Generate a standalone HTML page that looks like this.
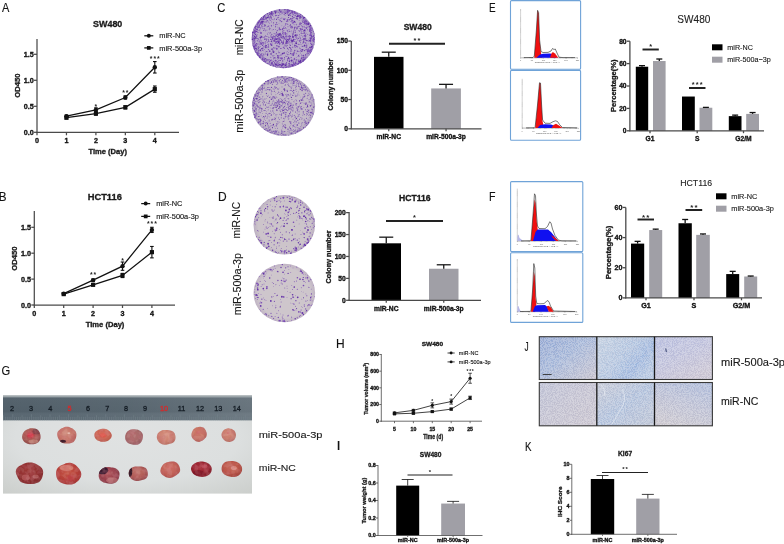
<!DOCTYPE html><html><head><meta charset="utf-8"><style>html,body{margin:0;padding:0;background:#fff;}svg{display:block;will-change:transform}</style></head><body><svg width="784" height="544" viewBox="0 0 784 544" font-family='"Liberation Sans", sans-serif'><rect x="0" y="0" width="784" height="544" fill="#fff"/>
<text transform="translate(1.88 11.90) scale(0.861 1)" font-size="12.79" fill="#111" stroke="#111" stroke-width="0.12">A</text>
<line x1="37" y1="39" x2="37" y2="132.8" stroke="#4a4a4a" stroke-width="1.25"/>
<line x1="36.5" y1="132.3" x2="179" y2="132.3" stroke="#4a4a4a" stroke-width="1.25"/>
<line x1="34" y1="132.3" x2="37" y2="132.3" stroke="#4a4a4a" stroke-width="1.25"/>
<text x="33.7" y="134.82" font-size="7.2" font-weight="bold" text-anchor="end" fill="#111" stroke="#111" stroke-width="0.32">0.0</text>
<line x1="34" y1="106.3" x2="37" y2="106.3" stroke="#4a4a4a" stroke-width="1.25"/>
<text x="33.7" y="108.82" font-size="7.2" font-weight="bold" text-anchor="end" fill="#111" stroke="#111" stroke-width="0.32">0.5</text>
<line x1="34" y1="80.3" x2="37" y2="80.3" stroke="#4a4a4a" stroke-width="1.25"/>
<text x="33.7" y="82.82" font-size="7.2" font-weight="bold" text-anchor="end" fill="#111" stroke="#111" stroke-width="0.32">1.0</text>
<line x1="34" y1="54.3" x2="37" y2="54.3" stroke="#4a4a4a" stroke-width="1.25"/>
<text x="33.7" y="56.82" font-size="7.2" font-weight="bold" text-anchor="end" fill="#111" stroke="#111" stroke-width="0.32">1.5</text>
<line x1="37" y1="132.3" x2="37" y2="135.3" stroke="#4a4a4a" stroke-width="1.25"/>
<text x="37" y="143.3" font-size="7.2" font-weight="bold" text-anchor="middle" fill="#111" stroke="#111" stroke-width="0.32">0</text>
<line x1="66.45" y1="132.3" x2="66.45" y2="135.3" stroke="#4a4a4a" stroke-width="1.25"/>
<text x="66.45" y="143.3" font-size="7.2" font-weight="bold" text-anchor="middle" fill="#111" stroke="#111" stroke-width="0.32">1</text>
<line x1="95.9" y1="132.3" x2="95.9" y2="135.3" stroke="#4a4a4a" stroke-width="1.25"/>
<text x="95.9" y="143.3" font-size="7.2" font-weight="bold" text-anchor="middle" fill="#111" stroke="#111" stroke-width="0.32">2</text>
<line x1="125.35" y1="132.3" x2="125.35" y2="135.3" stroke="#4a4a4a" stroke-width="1.25"/>
<text x="125.35" y="143.3" font-size="7.2" font-weight="bold" text-anchor="middle" fill="#111" stroke="#111" stroke-width="0.32">3</text>
<line x1="154.8" y1="132.3" x2="154.8" y2="135.3" stroke="#4a4a4a" stroke-width="1.25"/>
<text x="154.8" y="143.3" font-size="7.2" font-weight="bold" text-anchor="middle" fill="#111" stroke="#111" stroke-width="0.32">4</text>
<polyline points="66.45,116.18 95.90,109.94 125.35,97.46 154.80,67.30" fill="none" stroke="#111" stroke-width="1.25"/>
<line x1="66.45" y1="115.14" x2="66.45" y2="117.22" stroke="#111" stroke-width="1.125"/>
<line x1="64.65" y1="115.14" x2="68.25" y2="115.14" stroke="#111" stroke-width="1.125"/>
<line x1="64.65" y1="117.22" x2="68.25" y2="117.22" stroke="#111" stroke-width="1.125"/>
<circle cx="66.45" cy="116.18" r="2.2" fill="#111"/>
<line x1="95.9" y1="107.86" x2="95.9" y2="112.02" stroke="#111" stroke-width="1.125"/>
<line x1="94.1" y1="107.86" x2="97.7" y2="107.86" stroke="#111" stroke-width="1.125"/>
<line x1="94.1" y1="112.02" x2="97.7" y2="112.02" stroke="#111" stroke-width="1.125"/>
<circle cx="95.9" cy="109.94" r="2.2" fill="#111"/>
<line x1="125.35" y1="95.9" x2="125.35" y2="99.02" stroke="#111" stroke-width="1.125"/>
<line x1="123.55" y1="95.9" x2="127.15" y2="95.9" stroke="#111" stroke-width="1.125"/>
<line x1="123.55" y1="99.02" x2="127.15" y2="99.02" stroke="#111" stroke-width="1.125"/>
<circle cx="125.35" cy="97.46" r="2.2" fill="#111"/>
<line x1="154.8" y1="61.58" x2="154.8" y2="73.02" stroke="#111" stroke-width="1.125"/>
<line x1="153" y1="61.58" x2="156.6" y2="61.58" stroke="#111" stroke-width="1.125"/>
<line x1="153" y1="73.02" x2="156.6" y2="73.02" stroke="#111" stroke-width="1.125"/>
<circle cx="154.8" cy="67.3" r="2.2" fill="#111"/>
<polyline points="66.45,117.74 95.90,113.58 125.35,107.34 154.80,89.14" fill="none" stroke="#111" stroke-width="1.25"/>
<line x1="66.45" y1="116.7" x2="66.45" y2="118.78" stroke="#111" stroke-width="1.125"/>
<line x1="64.65" y1="116.7" x2="68.25" y2="116.7" stroke="#111" stroke-width="1.125"/>
<line x1="64.65" y1="118.78" x2="68.25" y2="118.78" stroke="#111" stroke-width="1.125"/>
<rect x="64.36" y="115.65" width="4.18" height="4.18" fill="#111"/>
<line x1="95.9" y1="112.02" x2="95.9" y2="115.14" stroke="#111" stroke-width="1.125"/>
<line x1="94.1" y1="112.02" x2="97.7" y2="112.02" stroke="#111" stroke-width="1.125"/>
<line x1="94.1" y1="115.14" x2="97.7" y2="115.14" stroke="#111" stroke-width="1.125"/>
<rect x="93.81" y="111.49" width="4.18" height="4.18" fill="#111"/>
<line x1="125.35" y1="105.78" x2="125.35" y2="108.9" stroke="#111" stroke-width="1.125"/>
<line x1="123.55" y1="105.78" x2="127.15" y2="105.78" stroke="#111" stroke-width="1.125"/>
<line x1="123.55" y1="108.9" x2="127.15" y2="108.9" stroke="#111" stroke-width="1.125"/>
<rect x="123.26" y="105.25" width="4.18" height="4.18" fill="#111"/>
<line x1="154.8" y1="86.02" x2="154.8" y2="92.26" stroke="#111" stroke-width="1.125"/>
<line x1="153" y1="86.02" x2="156.6" y2="86.02" stroke="#111" stroke-width="1.125"/>
<line x1="153" y1="92.26" x2="156.6" y2="92.26" stroke="#111" stroke-width="1.125"/>
<rect x="152.71" y="87.05" width="4.18" height="4.18" fill="#111"/>
<text x="95.90" y="108.70" font-size="6.84" font-weight="bold" text-anchor="middle" fill="#222">*</text>
<text x="123.55" y="95.18" font-size="6.84" font-weight="bold" text-anchor="middle" fill="#222">*</text>
<text x="127.15" y="95.18" font-size="6.84" font-weight="bold" text-anchor="middle" fill="#222">*</text>
<text x="151.20" y="61.17" font-size="6.84" font-weight="bold" text-anchor="middle" fill="#222">*</text>
<text x="154.80" y="61.17" font-size="6.84" font-weight="bold" text-anchor="middle" fill="#222">*</text>
<text x="158.40" y="61.17" font-size="6.84" font-weight="bold" text-anchor="middle" fill="#222">*</text>
<text transform="translate(19.90 97.71) rotate(-90) scale(0.993 1)" font-size="7.70" font-weight="bold" fill="#1a1a1a" stroke="#1a1a1a" stroke-width="0.32">OD450</text>
<text transform="translate(88.52 153.80) scale(1.001 1)" font-size="7.56" font-weight="bold" fill="#1a1a1a" stroke="#1a1a1a" stroke-width="0.32">Time (Day)</text>
<text transform="translate(93.04 26.75) scale(0.925 1)" font-size="9.67" font-weight="bold" fill="#1a1a1a" stroke="#1a1a1a" stroke-width="0.32">SW480</text>
<line x1="144.3" y1="35.8" x2="153.3" y2="35.8" stroke="#111" stroke-width="1.25"/>
<circle cx="148.8" cy="35.8" r="1.98" fill="#111"/>
<text x="159.3" y="38.46" font-size="7.4" text-anchor="start" fill="#111" stroke="#111" stroke-width="0.12">miR-NC</text>
<line x1="144.3" y1="47.9" x2="153.3" y2="47.9" stroke="#111" stroke-width="1.25"/>
<rect x="146.93" y="46.03" width="3.74" height="3.74" fill="#111"/>
<text x="159.3" y="50.56" font-size="7.4" text-anchor="start" fill="#111" stroke="#111" stroke-width="0.12">miR-500a-3p</text>
<text transform="translate(-1.26 200.60) scale(0.921 1)" font-size="12.65" fill="#111" stroke="#111" stroke-width="0.12">B</text>
<line x1="34.3" y1="211" x2="34.3" y2="305.5" stroke="#4a4a4a" stroke-width="1.25"/>
<line x1="33.8" y1="305" x2="175" y2="305" stroke="#4a4a4a" stroke-width="1.25"/>
<line x1="31.3" y1="305" x2="34.3" y2="305" stroke="#4a4a4a" stroke-width="1.25"/>
<text x="31" y="307.52" font-size="7.2" font-weight="bold" text-anchor="end" fill="#111" stroke="#111" stroke-width="0.32">0.0</text>
<line x1="31.3" y1="279.1" x2="34.3" y2="279.1" stroke="#4a4a4a" stroke-width="1.25"/>
<text x="31" y="281.62" font-size="7.2" font-weight="bold" text-anchor="end" fill="#111" stroke="#111" stroke-width="0.32">0.5</text>
<line x1="31.3" y1="253.2" x2="34.3" y2="253.2" stroke="#4a4a4a" stroke-width="1.25"/>
<text x="31" y="255.72" font-size="7.2" font-weight="bold" text-anchor="end" fill="#111" stroke="#111" stroke-width="0.32">1.0</text>
<line x1="31.3" y1="227.3" x2="34.3" y2="227.3" stroke="#4a4a4a" stroke-width="1.25"/>
<text x="31" y="229.82" font-size="7.2" font-weight="bold" text-anchor="end" fill="#111" stroke="#111" stroke-width="0.32">1.5</text>
<line x1="34.3" y1="305" x2="34.3" y2="308" stroke="#4a4a4a" stroke-width="1.25"/>
<text x="34.3" y="316" font-size="7.2" font-weight="bold" text-anchor="middle" fill="#111" stroke="#111" stroke-width="0.32">0</text>
<line x1="63.7" y1="305" x2="63.7" y2="308" stroke="#4a4a4a" stroke-width="1.25"/>
<text x="63.7" y="316" font-size="7.2" font-weight="bold" text-anchor="middle" fill="#111" stroke="#111" stroke-width="0.32">1</text>
<line x1="93.1" y1="305" x2="93.1" y2="308" stroke="#4a4a4a" stroke-width="1.25"/>
<text x="93.1" y="316" font-size="7.2" font-weight="bold" text-anchor="middle" fill="#111" stroke="#111" stroke-width="0.32">2</text>
<line x1="122.5" y1="305" x2="122.5" y2="308" stroke="#4a4a4a" stroke-width="1.25"/>
<text x="122.5" y="316" font-size="7.2" font-weight="bold" text-anchor="middle" fill="#111" stroke="#111" stroke-width="0.32">3</text>
<line x1="151.9" y1="305" x2="151.9" y2="308" stroke="#4a4a4a" stroke-width="1.25"/>
<text x="151.9" y="316" font-size="7.2" font-weight="bold" text-anchor="middle" fill="#111" stroke="#111" stroke-width="0.32">4</text>
<polyline points="63.70,293.60 93.10,280.14 122.50,266.15 151.90,229.89" fill="none" stroke="#111" stroke-width="1.25"/>
<line x1="63.7" y1="292.57" x2="63.7" y2="294.64" stroke="#111" stroke-width="1.125"/>
<line x1="61.9" y1="292.57" x2="65.5" y2="292.57" stroke="#111" stroke-width="1.125"/>
<line x1="61.9" y1="294.64" x2="65.5" y2="294.64" stroke="#111" stroke-width="1.125"/>
<circle cx="63.7" cy="293.6" r="2.2" fill="#111"/>
<line x1="93.1" y1="279.1" x2="93.1" y2="281.17" stroke="#111" stroke-width="1.125"/>
<line x1="91.3" y1="279.1" x2="94.9" y2="279.1" stroke="#111" stroke-width="1.125"/>
<line x1="91.3" y1="281.17" x2="94.9" y2="281.17" stroke="#111" stroke-width="1.125"/>
<circle cx="93.1" cy="280.14" r="2.2" fill="#111"/>
<line x1="122.5" y1="262.01" x2="122.5" y2="270.29" stroke="#111" stroke-width="1.125"/>
<line x1="120.7" y1="262.01" x2="124.3" y2="262.01" stroke="#111" stroke-width="1.125"/>
<line x1="120.7" y1="270.29" x2="124.3" y2="270.29" stroke="#111" stroke-width="1.125"/>
<circle cx="122.5" cy="266.15" r="2.2" fill="#111"/>
<line x1="151.9" y1="227.3" x2="151.9" y2="232.48" stroke="#111" stroke-width="1.125"/>
<line x1="150.1" y1="227.3" x2="153.7" y2="227.3" stroke="#111" stroke-width="1.125"/>
<line x1="150.1" y1="232.48" x2="153.7" y2="232.48" stroke="#111" stroke-width="1.125"/>
<circle cx="151.9" cy="229.89" r="2.2" fill="#111"/>
<polyline points="63.70,294.12 93.10,284.80 122.50,275.47 151.90,252.16" fill="none" stroke="#111" stroke-width="1.25"/>
<line x1="63.7" y1="293.09" x2="63.7" y2="295.16" stroke="#111" stroke-width="1.125"/>
<line x1="61.9" y1="293.09" x2="65.5" y2="293.09" stroke="#111" stroke-width="1.125"/>
<line x1="61.9" y1="295.16" x2="65.5" y2="295.16" stroke="#111" stroke-width="1.125"/>
<rect x="61.61" y="292.03" width="4.18" height="4.18" fill="#111"/>
<line x1="93.1" y1="283.76" x2="93.1" y2="285.83" stroke="#111" stroke-width="1.125"/>
<line x1="91.3" y1="283.76" x2="94.9" y2="283.76" stroke="#111" stroke-width="1.125"/>
<line x1="91.3" y1="285.83" x2="94.9" y2="285.83" stroke="#111" stroke-width="1.125"/>
<rect x="91.01" y="282.71" width="4.18" height="4.18" fill="#111"/>
<line x1="122.5" y1="273.4" x2="122.5" y2="277.55" stroke="#111" stroke-width="1.125"/>
<line x1="120.7" y1="273.4" x2="124.3" y2="273.4" stroke="#111" stroke-width="1.125"/>
<line x1="120.7" y1="277.55" x2="124.3" y2="277.55" stroke="#111" stroke-width="1.125"/>
<rect x="120.41" y="273.38" width="4.18" height="4.18" fill="#111"/>
<line x1="151.9" y1="246.47" x2="151.9" y2="257.86" stroke="#111" stroke-width="1.125"/>
<line x1="150.1" y1="246.47" x2="153.7" y2="246.47" stroke="#111" stroke-width="1.125"/>
<line x1="150.1" y1="257.86" x2="153.7" y2="257.86" stroke="#111" stroke-width="1.125"/>
<rect x="149.81" y="250.07" width="4.18" height="4.18" fill="#111"/>
<text x="91.30" y="277.21" font-size="6.84" font-weight="bold" text-anchor="middle" fill="#222">*</text>
<text x="94.90" y="277.21" font-size="6.84" font-weight="bold" text-anchor="middle" fill="#222">*</text>
<text x="122.50" y="263.48" font-size="6.84" font-weight="bold" text-anchor="middle" fill="#222">*</text>
<text x="148.30" y="226.18" font-size="6.84" font-weight="bold" text-anchor="middle" fill="#222">*</text>
<text x="151.90" y="226.18" font-size="6.84" font-weight="bold" text-anchor="middle" fill="#222">*</text>
<text x="155.50" y="226.18" font-size="6.84" font-weight="bold" text-anchor="middle" fill="#222">*</text>
<text transform="translate(17.20 270.71) rotate(-90) scale(1.012 1)" font-size="7.56" font-weight="bold" fill="#1a1a1a" stroke="#1a1a1a" stroke-width="0.32">OD450</text>
<text transform="translate(85.71 326.50) scale(1.067 1)" font-size="7.12" font-weight="bold" fill="#1a1a1a" stroke="#1a1a1a" stroke-width="0.32">Time (Day)</text>
<text transform="translate(87.68 199.70) scale(0.959 1)" font-size="9.74" font-weight="bold" fill="#1a1a1a" stroke="#1a1a1a" stroke-width="0.32">HCT116</text>
<line x1="141.2" y1="203.6" x2="150.2" y2="203.6" stroke="#111" stroke-width="1.25"/>
<circle cx="145.7" cy="203.6" r="1.98" fill="#111"/>
<text x="156.2" y="206.26" font-size="7.4" text-anchor="start" fill="#111" stroke="#111" stroke-width="0.12">miR-NC</text>
<line x1="141.2" y1="216.4" x2="150.2" y2="216.4" stroke="#111" stroke-width="1.25"/>
<rect x="143.83" y="214.53" width="3.74" height="3.74" fill="#111"/>
<text x="156.2" y="219.06" font-size="7.4" text-anchor="start" fill="#111" stroke="#111" stroke-width="0.12">miR-500a-3p</text>
<text transform="translate(217.23 11.90) scale(0.877 1)" font-size="12.79" fill="#111" stroke="#111" stroke-width="0.12">C</text>
<defs><clipPath id="cdg1"><ellipse cx="283.3" cy="38.7" rx="31.7" ry="29.6"/></clipPath><radialGradient id="dg1" cx="50%" cy="50%" r="50%"><stop offset="0" stop-color="#baaec8"/><stop offset="0.85" stop-color="#baaec8"/><stop offset="1" stop-color="#a290c0"/></radialGradient></defs>
<ellipse cx="283.3" cy="38.7" rx="31.7" ry="29.6" fill="url(#dg1)"/>
<g clip-path="url(#cdg1)"><circle cx="300.0" cy="24.2" r="0.50" fill="#7a4ab6"/><circle cx="254.7" cy="48.2" r="0.37" fill="#7a4ab6"/><circle cx="253.2" cy="41.2" r="0.36" fill="#5e2ca4"/><circle cx="289.0" cy="65.4" r="0.39" fill="#5e2ca4"/><circle cx="314.3" cy="37.3" r="0.34" fill="#5e2ca4"/><circle cx="297.3" cy="51.2" r="0.55" fill="#7a4ab6"/><circle cx="270.8" cy="43.9" r="0.45" fill="#7a4ab6"/><circle cx="302.2" cy="33.6" r="0.51" fill="#7a4ab6"/><circle cx="275.4" cy="35.1" r="0.46" fill="#5e2ca4"/><circle cx="283.1" cy="33.1" r="0.59" fill="#7a4ab6"/><circle cx="276.6" cy="19.2" r="0.53" fill="#7a4ab6"/><circle cx="306.1" cy="22.8" r="0.47" fill="#5e2ca4"/><circle cx="289.8" cy="10.5" r="0.57" fill="#7a4ab6"/><circle cx="302.9" cy="39.8" r="0.32" fill="#7a4ab6"/><circle cx="287.7" cy="20.9" r="0.41" fill="#5e2ca4"/><circle cx="285.7" cy="46.0" r="0.31" fill="#5e2ca4"/><circle cx="262.8" cy="43.7" r="0.54" fill="#7a4ab6"/><circle cx="310.2" cy="41.3" r="0.53" fill="#5e2ca4"/><circle cx="299.1" cy="61.9" r="0.35" fill="#5e2ca4"/><circle cx="296.7" cy="36.0" r="0.31" fill="#5e2ca4"/><circle cx="281.5" cy="35.0" r="0.45" fill="#5e2ca4"/><circle cx="301.7" cy="61.3" r="0.35" fill="#7a4ab6"/><circle cx="294.6" cy="41.3" r="0.54" fill="#7a4ab6"/><circle cx="265.8" cy="47.5" r="0.40" fill="#7a4ab6"/><circle cx="255.3" cy="26.8" r="0.39" fill="#7a4ab6"/><circle cx="271.3" cy="64.7" r="0.38" fill="#5e2ca4"/><circle cx="287.8" cy="19.3" r="0.51" fill="#7a4ab6"/><circle cx="275.6" cy="29.6" r="0.43" fill="#5e2ca4"/><circle cx="258.2" cy="48.5" r="0.40" fill="#7a4ab6"/><circle cx="264.3" cy="28.5" r="0.40" fill="#5e2ca4"/><circle cx="294.4" cy="58.7" r="0.56" fill="#7a4ab6"/><circle cx="282.3" cy="67.4" r="0.33" fill="#5e2ca4"/><circle cx="299.7" cy="44.6" r="0.40" fill="#5e2ca4"/><circle cx="306.6" cy="44.9" r="0.34" fill="#7a4ab6"/><circle cx="301.6" cy="58.1" r="0.53" fill="#5e2ca4"/><circle cx="306.2" cy="21.2" r="0.58" fill="#5e2ca4"/><circle cx="270.2" cy="16.3" r="0.33" fill="#7a4ab6"/><circle cx="284.9" cy="67.1" r="0.33" fill="#7a4ab6"/><circle cx="275.6" cy="66.5" r="0.38" fill="#5e2ca4"/><circle cx="311.5" cy="35.8" r="0.48" fill="#5e2ca4"/><circle cx="271.5" cy="12.8" r="0.59" fill="#5e2ca4"/><circle cx="265.2" cy="45.7" r="0.51" fill="#7a4ab6"/><circle cx="308.0" cy="51.6" r="0.60" fill="#5e2ca4"/><circle cx="292.9" cy="47.2" r="0.39" fill="#5e2ca4"/><circle cx="271.7" cy="59.3" r="0.40" fill="#7a4ab6"/><circle cx="284.4" cy="64.2" r="0.47" fill="#5e2ca4"/><circle cx="256.4" cy="46.7" r="0.45" fill="#7a4ab6"/><circle cx="309.7" cy="30.6" r="0.53" fill="#7a4ab6"/><circle cx="290.4" cy="36.6" r="0.58" fill="#5e2ca4"/><circle cx="271.6" cy="62.6" r="0.55" fill="#7a4ab6"/><circle cx="276.7" cy="11.3" r="0.38" fill="#5e2ca4"/><circle cx="286.4" cy="41.1" r="0.42" fill="#5e2ca4"/><circle cx="266.4" cy="59.1" r="0.34" fill="#5e2ca4"/><circle cx="304.2" cy="32.6" r="0.37" fill="#5e2ca4"/><circle cx="285.1" cy="38.8" r="0.51" fill="#7a4ab6"/><circle cx="258.1" cy="53.2" r="0.57" fill="#7a4ab6"/><circle cx="252.3" cy="36.6" r="0.35" fill="#7a4ab6"/><circle cx="307.6" cy="27.6" r="0.41" fill="#7a4ab6"/><circle cx="298.3" cy="44.3" r="0.59" fill="#7a4ab6"/><circle cx="262.8" cy="23.9" r="0.53" fill="#5e2ca4"/><circle cx="294.8" cy="51.6" r="0.35" fill="#7a4ab6"/><circle cx="302.8" cy="46.3" r="0.59" fill="#5e2ca4"/><circle cx="300.8" cy="58.9" r="0.43" fill="#7a4ab6"/><circle cx="313.2" cy="31.7" r="0.35" fill="#5e2ca4"/><circle cx="285.5" cy="37.6" r="0.37" fill="#7a4ab6"/><circle cx="279.4" cy="10.3" r="0.55" fill="#5e2ca4"/><circle cx="269.7" cy="41.2" r="0.38" fill="#7a4ab6"/><circle cx="301.8" cy="57.0" r="0.45" fill="#7a4ab6"/><circle cx="300.4" cy="42.9" r="0.33" fill="#7a4ab6"/><circle cx="259.1" cy="53.3" r="0.53" fill="#7a4ab6"/><circle cx="260.3" cy="38.7" r="0.45" fill="#5e2ca4"/><circle cx="285.1" cy="9.2" r="0.39" fill="#5e2ca4"/><circle cx="301.2" cy="49.6" r="0.41" fill="#5e2ca4"/><circle cx="289.5" cy="61.3" r="0.60" fill="#5e2ca4"/><circle cx="304.5" cy="33.3" r="0.39" fill="#5e2ca4"/><circle cx="261.1" cy="56.1" r="0.42" fill="#7a4ab6"/><circle cx="288.7" cy="52.5" r="0.45" fill="#7a4ab6"/><circle cx="292.2" cy="47.5" r="0.49" fill="#7a4ab6"/><circle cx="305.3" cy="54.5" r="0.40" fill="#5e2ca4"/><circle cx="297.9" cy="15.0" r="0.44" fill="#5e2ca4"/><circle cx="284.0" cy="53.2" r="0.50" fill="#5e2ca4"/><circle cx="283.8" cy="65.1" r="0.51" fill="#7a4ab6"/><circle cx="310.8" cy="51.8" r="0.46" fill="#5e2ca4"/><circle cx="284.0" cy="52.7" r="0.51" fill="#7a4ab6"/><circle cx="268.7" cy="45.2" r="0.35" fill="#7a4ab6"/><circle cx="306.5" cy="28.6" r="0.51" fill="#7a4ab6"/><circle cx="291.1" cy="27.8" r="0.54" fill="#5e2ca4"/><circle cx="291.3" cy="18.9" r="0.57" fill="#7a4ab6"/><circle cx="302.9" cy="60.3" r="0.41" fill="#7a4ab6"/><circle cx="266.8" cy="51.6" r="0.33" fill="#5e2ca4"/><circle cx="257.8" cy="22.0" r="0.36" fill="#5e2ca4"/><circle cx="296.2" cy="57.3" r="0.40" fill="#7a4ab6"/><circle cx="274.8" cy="41.0" r="0.45" fill="#5e2ca4"/><circle cx="262.3" cy="22.8" r="0.47" fill="#5e2ca4"/><circle cx="296.9" cy="28.6" r="0.60" fill="#5e2ca4"/><circle cx="302.2" cy="59.9" r="0.47" fill="#7a4ab6"/><circle cx="306.4" cy="25.7" r="0.34" fill="#7a4ab6"/><circle cx="255.2" cy="31.6" r="0.55" fill="#7a4ab6"/><circle cx="263.5" cy="17.1" r="0.51" fill="#7a4ab6"/><circle cx="293.6" cy="32.2" r="0.49" fill="#5e2ca4"/><circle cx="289.0" cy="29.8" r="0.46" fill="#5e2ca4"/><circle cx="274.0" cy="33.5" r="0.43" fill="#7a4ab6"/><circle cx="296.8" cy="53.1" r="0.38" fill="#7a4ab6"/><circle cx="294.6" cy="13.6" r="0.41" fill="#7a4ab6"/><circle cx="259.3" cy="56.0" r="0.56" fill="#5e2ca4"/><circle cx="311.4" cy="44.4" r="0.52" fill="#5e2ca4"/><circle cx="259.8" cy="56.1" r="0.39" fill="#5e2ca4"/><circle cx="267.2" cy="42.1" r="0.54" fill="#7a4ab6"/><circle cx="288.6" cy="15.3" r="0.60" fill="#7a4ab6"/><circle cx="304.5" cy="50.6" r="0.55" fill="#5e2ca4"/><circle cx="266.6" cy="61.6" r="0.31" fill="#7a4ab6"/><circle cx="292.9" cy="27.7" r="0.40" fill="#7a4ab6"/><circle cx="283.4" cy="40.2" r="0.40" fill="#5e2ca4"/><circle cx="282.0" cy="63.1" r="0.54" fill="#7a4ab6"/><circle cx="260.1" cy="40.1" r="0.54" fill="#7a4ab6"/><circle cx="298.9" cy="30.5" r="0.42" fill="#5e2ca4"/><circle cx="271.9" cy="13.2" r="0.57" fill="#5e2ca4"/><circle cx="256.2" cy="31.2" r="0.33" fill="#5e2ca4"/><circle cx="301.0" cy="16.1" r="0.35" fill="#7a4ab6"/><circle cx="253.0" cy="30.9" r="0.39" fill="#7a4ab6"/><circle cx="289.5" cy="60.3" r="0.50" fill="#7a4ab6"/><circle cx="292.5" cy="65.9" r="0.53" fill="#7a4ab6"/><circle cx="282.5" cy="33.0" r="0.48" fill="#5e2ca4"/><circle cx="305.6" cy="36.2" r="0.51" fill="#5e2ca4"/><circle cx="259.2" cy="27.0" r="0.59" fill="#7a4ab6"/><circle cx="287.9" cy="41.7" r="0.55" fill="#7a4ab6"/><circle cx="277.5" cy="46.4" r="0.45" fill="#7a4ab6"/><circle cx="286.5" cy="66.9" r="0.60" fill="#7a4ab6"/><circle cx="287.5" cy="30.9" r="0.57" fill="#7a4ab6"/><circle cx="305.3" cy="31.8" r="0.41" fill="#7a4ab6"/><circle cx="265.6" cy="60.1" r="0.31" fill="#5e2ca4"/><circle cx="268.1" cy="59.9" r="0.60" fill="#5e2ca4"/><circle cx="284.2" cy="52.9" r="0.53" fill="#5e2ca4"/><circle cx="297.0" cy="38.2" r="0.33" fill="#5e2ca4"/><circle cx="282.0" cy="65.5" r="0.55" fill="#5e2ca4"/><circle cx="286.4" cy="40.7" r="0.59" fill="#5e2ca4"/><circle cx="280.6" cy="65.0" r="0.44" fill="#7a4ab6"/><circle cx="260.1" cy="56.7" r="0.39" fill="#7a4ab6"/><circle cx="276.1" cy="62.7" r="0.42" fill="#7a4ab6"/><circle cx="285.0" cy="12.1" r="0.45" fill="#5e2ca4"/><circle cx="268.6" cy="41.1" r="0.55" fill="#5e2ca4"/><circle cx="293.3" cy="64.7" r="0.48" fill="#7a4ab6"/><circle cx="285.4" cy="45.2" r="0.38" fill="#7a4ab6"/><circle cx="268.5" cy="21.8" r="0.40" fill="#7a4ab6"/><circle cx="263.1" cy="61.2" r="0.32" fill="#5e2ca4"/><circle cx="295.4" cy="47.3" r="0.39" fill="#5e2ca4"/><circle cx="308.4" cy="53.2" r="0.51" fill="#7a4ab6"/><circle cx="295.0" cy="22.5" r="0.57" fill="#5e2ca4"/><circle cx="270.0" cy="11.9" r="0.40" fill="#7a4ab6"/><circle cx="283.1" cy="67.3" r="0.50" fill="#5e2ca4"/><circle cx="273.9" cy="41.4" r="0.38" fill="#5e2ca4"/><circle cx="271.2" cy="14.9" r="0.45" fill="#5e2ca4"/><circle cx="311.7" cy="30.0" r="0.55" fill="#7a4ab6"/><circle cx="306.8" cy="33.1" r="0.46" fill="#7a4ab6"/><circle cx="285.6" cy="32.4" r="0.46" fill="#5e2ca4"/><circle cx="283.8" cy="19.5" r="0.46" fill="#5e2ca4"/><circle cx="268.8" cy="40.5" r="0.33" fill="#5e2ca4"/><circle cx="293.1" cy="41.3" r="0.52" fill="#7a4ab6"/><circle cx="303.6" cy="20.7" r="0.55" fill="#7a4ab6"/><circle cx="272.9" cy="61.7" r="0.41" fill="#5e2ca4"/><circle cx="259.1" cy="44.7" r="0.54" fill="#7a4ab6"/><circle cx="309.9" cy="47.2" r="0.56" fill="#5e2ca4"/><circle cx="301.0" cy="44.5" r="0.42" fill="#7a4ab6"/><circle cx="273.4" cy="38.4" r="0.30" fill="#5e2ca4"/><circle cx="283.8" cy="30.2" r="0.57" fill="#7a4ab6"/><circle cx="302.5" cy="57.6" r="0.37" fill="#7a4ab6"/><circle cx="274.3" cy="18.5" r="0.39" fill="#7a4ab6"/><circle cx="273.6" cy="48.0" r="0.32" fill="#5e2ca4"/><circle cx="275.5" cy="26.5" r="0.51" fill="#7a4ab6"/><circle cx="284.5" cy="12.4" r="0.35" fill="#7a4ab6"/><circle cx="282.5" cy="29.3" r="0.31" fill="#7a4ab6"/><circle cx="275.9" cy="58.5" r="0.33" fill="#5e2ca4"/><circle cx="313.1" cy="48.0" r="0.44" fill="#5e2ca4"/><circle cx="300.6" cy="51.9" r="0.46" fill="#7a4ab6"/><circle cx="308.1" cy="50.4" r="0.53" fill="#7a4ab6"/><circle cx="302.2" cy="26.2" r="0.55" fill="#7a4ab6"/><circle cx="252.8" cy="32.6" r="0.57" fill="#7a4ab6"/><circle cx="288.2" cy="9.7" r="0.59" fill="#5e2ca4"/><circle cx="288.7" cy="39.5" r="0.58" fill="#7a4ab6"/><circle cx="296.0" cy="50.0" r="0.37" fill="#7a4ab6"/><circle cx="259.2" cy="47.2" r="0.49" fill="#5e2ca4"/><circle cx="271.4" cy="25.6" r="0.60" fill="#7a4ab6"/><circle cx="271.8" cy="40.8" r="0.43" fill="#5e2ca4"/><circle cx="276.7" cy="32.1" r="0.41" fill="#5e2ca4"/><circle cx="287.5" cy="59.1" r="0.52" fill="#5e2ca4"/><circle cx="256.2" cy="43.9" r="0.34" fill="#5e2ca4"/><circle cx="255.2" cy="51.2" r="0.47" fill="#7a4ab6"/><circle cx="289.4" cy="13.9" r="0.52" fill="#5e2ca4"/><circle cx="294.9" cy="44.1" r="0.32" fill="#5e2ca4"/><circle cx="275.8" cy="26.0" r="0.41" fill="#7a4ab6"/><circle cx="265.9" cy="51.1" r="0.33" fill="#7a4ab6"/><circle cx="264.8" cy="36.5" r="0.48" fill="#7a4ab6"/><circle cx="289.0" cy="35.8" r="0.39" fill="#7a4ab6"/><circle cx="293.4" cy="40.2" r="0.49" fill="#5e2ca4"/><circle cx="264.8" cy="39.2" r="0.51" fill="#7a4ab6"/><circle cx="275.9" cy="63.8" r="0.38" fill="#5e2ca4"/><circle cx="259.3" cy="21.0" r="0.44" fill="#7a4ab6"/><circle cx="268.6" cy="46.9" r="0.45" fill="#7a4ab6"/><circle cx="281.6" cy="36.0" r="0.34" fill="#7a4ab6"/><circle cx="280.4" cy="11.8" r="0.46" fill="#7a4ab6"/><circle cx="294.6" cy="11.6" r="0.59" fill="#7a4ab6"/><circle cx="263.5" cy="61.1" r="0.59" fill="#7a4ab6"/><circle cx="306.9" cy="24.1" r="0.31" fill="#7a4ab6"/><circle cx="302.1" cy="59.0" r="0.57" fill="#5e2ca4"/><circle cx="310.9" cy="41.8" r="0.43" fill="#7a4ab6"/><circle cx="271.7" cy="17.9" r="0.38" fill="#7a4ab6"/><circle cx="301.5" cy="55.0" r="0.54" fill="#7a4ab6"/><circle cx="274.7" cy="39.6" r="0.40" fill="#5e2ca4"/><circle cx="286.5" cy="46.8" r="0.49" fill="#7a4ab6"/><circle cx="298.5" cy="61.2" r="0.36" fill="#7a4ab6"/><circle cx="271.7" cy="39.2" r="0.56" fill="#7a4ab6"/><circle cx="291.6" cy="57.6" r="0.47" fill="#7a4ab6"/><circle cx="290.8" cy="13.5" r="0.38" fill="#5e2ca4"/><circle cx="278.3" cy="65.6" r="0.52" fill="#5e2ca4"/><circle cx="256.5" cy="48.2" r="0.52" fill="#5e2ca4"/><circle cx="257.7" cy="23.9" r="0.56" fill="#5e2ca4"/><circle cx="312.9" cy="48.7" r="0.40" fill="#7a4ab6"/><circle cx="310.2" cy="35.8" r="0.38" fill="#7a4ab6"/><circle cx="253.8" cy="40.4" r="0.45" fill="#5e2ca4"/><circle cx="271.9" cy="14.4" r="0.58" fill="#5e2ca4"/><circle cx="262.1" cy="18.7" r="0.59" fill="#5e2ca4"/><circle cx="287.9" cy="36.8" r="0.51" fill="#7a4ab6"/><circle cx="287.3" cy="41.7" r="0.50" fill="#7a4ab6"/><circle cx="305.9" cy="35.7" r="0.50" fill="#7a4ab6"/><circle cx="272.3" cy="64.6" r="0.31" fill="#5e2ca4"/><circle cx="308.1" cy="22.8" r="0.58" fill="#7a4ab6"/><circle cx="291.3" cy="31.8" r="0.41" fill="#7a4ab6"/><circle cx="288.7" cy="36.4" r="0.48" fill="#7a4ab6"/><circle cx="313.2" cy="36.8" r="0.34" fill="#7a4ab6"/><circle cx="312.4" cy="45.1" r="0.51" fill="#5e2ca4"/><circle cx="300.2" cy="38.9" r="0.39" fill="#5e2ca4"/><circle cx="293.2" cy="66.5" r="0.48" fill="#7a4ab6"/><circle cx="301.6" cy="62.8" r="0.52" fill="#7a4ab6"/><circle cx="262.9" cy="58.7" r="0.56" fill="#7a4ab6"/><circle cx="271.7" cy="44.8" r="0.46" fill="#5e2ca4"/><circle cx="257.1" cy="38.2" r="0.52" fill="#7a4ab6"/><circle cx="280.5" cy="35.5" r="0.45" fill="#5e2ca4"/><circle cx="312.8" cy="40.3" r="0.40" fill="#5e2ca4"/><circle cx="286.2" cy="64.7" r="0.57" fill="#5e2ca4"/><circle cx="286.8" cy="35.9" r="0.30" fill="#5e2ca4"/><circle cx="306.0" cy="24.4" r="0.54" fill="#7a4ab6"/><circle cx="276.8" cy="64.7" r="0.48" fill="#5e2ca4"/><circle cx="282.6" cy="13.0" r="0.59" fill="#7a4ab6"/><circle cx="265.5" cy="26.0" r="0.37" fill="#5e2ca4"/><circle cx="267.6" cy="20.6" r="0.56" fill="#7a4ab6"/><circle cx="290.6" cy="60.3" r="0.37" fill="#7a4ab6"/><circle cx="285.6" cy="34.1" r="0.57" fill="#7a4ab6"/><circle cx="299.5" cy="31.0" r="0.42" fill="#5e2ca4"/><circle cx="262.3" cy="42.7" r="0.34" fill="#5e2ca4"/><circle cx="286.1" cy="34.4" r="0.37" fill="#7a4ab6"/><circle cx="262.5" cy="59.8" r="0.46" fill="#7a4ab6"/><circle cx="295.0" cy="13.2" r="0.60" fill="#7a4ab6"/><circle cx="263.8" cy="30.2" r="0.56" fill="#7a4ab6"/><circle cx="301.2" cy="46.2" r="0.34" fill="#7a4ab6"/><circle cx="299.7" cy="17.0" r="0.42" fill="#5e2ca4"/><circle cx="272.2" cy="64.1" r="0.57" fill="#7a4ab6"/><circle cx="308.9" cy="41.2" r="0.47" fill="#5e2ca4"/><circle cx="291.8" cy="66.1" r="0.34" fill="#5e2ca4"/><circle cx="275.8" cy="37.1" r="0.48" fill="#7a4ab6"/><circle cx="292.4" cy="20.7" r="0.55" fill="#7a4ab6"/><circle cx="263.5" cy="59.2" r="0.34" fill="#5e2ca4"/><circle cx="271.8" cy="53.0" r="0.48" fill="#7a4ab6"/><circle cx="311.1" cy="49.5" r="0.56" fill="#5e2ca4"/><circle cx="263.0" cy="28.5" r="0.38" fill="#5e2ca4"/><circle cx="282.5" cy="65.4" r="0.31" fill="#5e2ca4"/><circle cx="274.2" cy="47.8" r="0.48" fill="#7a4ab6"/><circle cx="272.1" cy="29.9" r="0.47" fill="#7a4ab6"/><circle cx="276.7" cy="35.7" r="0.37" fill="#7a4ab6"/><circle cx="277.7" cy="41.6" r="0.47" fill="#7a4ab6"/><circle cx="284.7" cy="38.7" r="0.47" fill="#7a4ab6"/><circle cx="275.9" cy="39.7" r="0.55" fill="#5e2ca4"/><circle cx="284.7" cy="12.0" r="0.35" fill="#5e2ca4"/><circle cx="287.6" cy="66.5" r="0.30" fill="#5e2ca4"/><circle cx="293.1" cy="39.3" r="0.34" fill="#5e2ca4"/><circle cx="290.7" cy="27.3" r="0.44" fill="#7a4ab6"/><circle cx="262.4" cy="45.5" r="0.54" fill="#5e2ca4"/><circle cx="275.7" cy="47.9" r="0.43" fill="#7a4ab6"/><circle cx="282.0" cy="42.7" r="0.33" fill="#5e2ca4"/><circle cx="279.7" cy="19.9" r="0.31" fill="#5e2ca4"/><circle cx="313.5" cy="35.7" r="0.53" fill="#5e2ca4"/><circle cx="289.5" cy="19.8" r="0.54" fill="#5e2ca4"/><circle cx="310.8" cy="47.7" r="0.58" fill="#5e2ca4"/><circle cx="283.8" cy="18.8" r="0.57" fill="#7a4ab6"/><circle cx="281.9" cy="17.9" r="0.48" fill="#5e2ca4"/><circle cx="303.0" cy="21.9" r="0.33" fill="#5e2ca4"/><circle cx="254.3" cy="40.9" r="0.52" fill="#5e2ca4"/><circle cx="254.3" cy="40.5" r="0.44" fill="#7a4ab6"/><circle cx="285.6" cy="27.8" r="0.47" fill="#7a4ab6"/><circle cx="297.5" cy="28.0" r="0.45" fill="#5e2ca4"/><circle cx="260.0" cy="24.0" r="0.53" fill="#7a4ab6"/><circle cx="299.8" cy="28.5" r="0.41" fill="#7a4ab6"/><circle cx="293.5" cy="33.3" r="0.39" fill="#5e2ca4"/><circle cx="259.4" cy="57.5" r="0.59" fill="#7a4ab6"/><circle cx="261.3" cy="21.4" r="0.51" fill="#5e2ca4"/><circle cx="281.8" cy="42.4" r="0.35" fill="#7a4ab6"/><circle cx="299.4" cy="17.6" r="0.49" fill="#7a4ab6"/><circle cx="310.3" cy="33.6" r="0.48" fill="#5e2ca4"/><circle cx="260.1" cy="28.9" r="0.40" fill="#5e2ca4"/><circle cx="274.3" cy="19.4" r="0.45" fill="#7a4ab6"/><circle cx="265.6" cy="58.5" r="0.57" fill="#5e2ca4"/><circle cx="255.7" cy="37.2" r="0.52" fill="#5e2ca4"/><circle cx="292.3" cy="11.2" r="0.53" fill="#5e2ca4"/><circle cx="277.0" cy="15.3" r="0.46" fill="#7a4ab6"/><circle cx="293.9" cy="17.5" r="0.53" fill="#5e2ca4"/><circle cx="285.3" cy="63.9" r="0.50" fill="#5e2ca4"/><circle cx="285.9" cy="39.5" r="0.55" fill="#5e2ca4"/><circle cx="278.9" cy="55.6" r="0.51" fill="#7a4ab6"/><circle cx="254.3" cy="46.7" r="0.46" fill="#7a4ab6"/><circle cx="273.7" cy="58.9" r="0.43" fill="#5e2ca4"/><circle cx="292.4" cy="10.4" r="0.43" fill="#5e2ca4"/><circle cx="289.8" cy="14.8" r="0.58" fill="#7a4ab6"/><circle cx="286.1" cy="33.4" r="0.44" fill="#7a4ab6"/><circle cx="279.4" cy="13.1" r="0.41" fill="#5e2ca4"/><circle cx="274.7" cy="40.5" r="0.57" fill="#5e2ca4"/><circle cx="271.1" cy="45.3" r="0.42" fill="#5e2ca4"/><circle cx="289.3" cy="25.5" r="0.38" fill="#7a4ab6"/><circle cx="275.4" cy="12.5" r="0.48" fill="#5e2ca4"/><circle cx="283.9" cy="48.1" r="0.42" fill="#7a4ab6"/><circle cx="289.4" cy="37.4" r="0.32" fill="#5e2ca4"/><circle cx="304.0" cy="24.4" r="0.46" fill="#5e2ca4"/><circle cx="279.9" cy="52.3" r="0.34" fill="#7a4ab6"/><circle cx="257.1" cy="44.7" r="0.38" fill="#7a4ab6"/><circle cx="287.5" cy="39.5" r="0.48" fill="#7a4ab6"/><circle cx="295.2" cy="64.0" r="0.46" fill="#7a4ab6"/><circle cx="311.8" cy="46.0" r="0.39" fill="#7a4ab6"/><circle cx="265.1" cy="61.2" r="0.47" fill="#5e2ca4"/><circle cx="260.1" cy="43.3" r="0.38" fill="#7a4ab6"/><circle cx="253.0" cy="45.3" r="0.43" fill="#7a4ab6"/><circle cx="276.3" cy="41.9" r="0.55" fill="#5e2ca4"/><circle cx="305.4" cy="30.1" r="0.60" fill="#7a4ab6"/><circle cx="281.8" cy="66.9" r="0.59" fill="#7a4ab6"/><circle cx="258.4" cy="49.6" r="0.30" fill="#5e2ca4"/><circle cx="300.8" cy="50.6" r="0.54" fill="#7a4ab6"/><circle cx="275.7" cy="11.2" r="0.56" fill="#5e2ca4"/><circle cx="305.9" cy="47.3" r="0.43" fill="#7a4ab6"/><circle cx="264.4" cy="60.5" r="0.48" fill="#7a4ab6"/><circle cx="279.1" cy="41.9" r="0.49" fill="#7a4ab6"/><circle cx="279.3" cy="66.3" r="0.38" fill="#7a4ab6"/><circle cx="258.4" cy="55.4" r="0.53" fill="#7a4ab6"/><circle cx="293.5" cy="63.0" r="0.53" fill="#5e2ca4"/><circle cx="259.4" cy="25.9" r="0.53" fill="#7a4ab6"/><circle cx="292.8" cy="13.2" r="0.33" fill="#7a4ab6"/><circle cx="310.6" cy="46.2" r="0.39" fill="#7a4ab6"/><circle cx="261.7" cy="17.8" r="0.37" fill="#7a4ab6"/><circle cx="296.1" cy="27.5" r="0.40" fill="#5e2ca4"/><circle cx="251.9" cy="37.6" r="0.34" fill="#5e2ca4"/><circle cx="253.7" cy="29.1" r="0.56" fill="#7a4ab6"/><circle cx="289.8" cy="66.7" r="0.51" fill="#5e2ca4"/><circle cx="265.5" cy="46.8" r="0.43" fill="#5e2ca4"/><circle cx="311.2" cy="30.8" r="0.46" fill="#5e2ca4"/><circle cx="267.0" cy="21.8" r="0.38" fill="#5e2ca4"/><circle cx="302.3" cy="19.7" r="0.36" fill="#7a4ab6"/><circle cx="310.1" cy="35.2" r="0.37" fill="#5e2ca4"/><circle cx="281.6" cy="66.2" r="0.56" fill="#7a4ab6"/><circle cx="285.4" cy="25.6" r="0.42" fill="#7a4ab6"/><circle cx="254.9" cy="27.9" r="0.56" fill="#7a4ab6"/><circle cx="273.0" cy="14.8" r="0.42" fill="#5e2ca4"/><circle cx="263.9" cy="50.9" r="0.31" fill="#7a4ab6"/><circle cx="308.2" cy="53.0" r="0.32" fill="#7a4ab6"/><circle cx="290.0" cy="42.7" r="0.44" fill="#5e2ca4"/><circle cx="303.5" cy="42.6" r="0.59" fill="#7a4ab6"/><circle cx="273.0" cy="37.2" r="0.55" fill="#7a4ab6"/><circle cx="305.3" cy="35.3" r="0.60" fill="#7a4ab6"/><circle cx="280.6" cy="40.1" r="0.48" fill="#7a4ab6"/><circle cx="285.8" cy="9.6" r="0.49" fill="#7a4ab6"/><circle cx="311.5" cy="36.0" r="0.50" fill="#5e2ca4"/><circle cx="298.3" cy="63.2" r="0.51" fill="#7a4ab6"/><circle cx="277.1" cy="63.3" r="0.33" fill="#7a4ab6"/><circle cx="262.5" cy="58.9" r="0.53" fill="#5e2ca4"/><circle cx="302.8" cy="37.0" r="0.47" fill="#7a4ab6"/><circle cx="271.3" cy="40.9" r="0.31" fill="#7a4ab6"/><circle cx="254.6" cy="36.7" r="0.60" fill="#5e2ca4"/><circle cx="281.0" cy="34.8" r="0.49" fill="#5e2ca4"/><circle cx="304.7" cy="22.2" r="0.59" fill="#5e2ca4"/><circle cx="304.8" cy="44.9" r="0.45" fill="#5e2ca4"/><circle cx="279.7" cy="43.7" r="0.52" fill="#5e2ca4"/><circle cx="278.9" cy="58.5" r="0.45" fill="#5e2ca4"/><circle cx="269.7" cy="29.7" r="0.47" fill="#5e2ca4"/><circle cx="274.4" cy="41.3" r="0.37" fill="#5e2ca4"/><circle cx="314.0" cy="38.0" r="0.38" fill="#5e2ca4"/><circle cx="254.7" cy="30.2" r="0.54" fill="#5e2ca4"/><circle cx="260.6" cy="24.2" r="0.57" fill="#7a4ab6"/><circle cx="293.0" cy="37.4" r="0.43" fill="#5e2ca4"/><circle cx="278.7" cy="51.1" r="0.38" fill="#5e2ca4"/><circle cx="289.2" cy="66.7" r="0.34" fill="#7a4ab6"/><circle cx="266.4" cy="45.6" r="0.53" fill="#5e2ca4"/><circle cx="308.9" cy="50.9" r="0.35" fill="#7a4ab6"/><circle cx="279.7" cy="44.0" r="0.58" fill="#7a4ab6"/><circle cx="256.7" cy="45.3" r="0.47" fill="#5e2ca4"/><circle cx="314.2" cy="33.8" r="0.38" fill="#5e2ca4"/><circle cx="258.3" cy="32.5" r="0.39" fill="#7a4ab6"/><circle cx="292.0" cy="26.3" r="0.57" fill="#7a4ab6"/><circle cx="279.4" cy="43.7" r="0.57" fill="#7a4ab6"/><circle cx="287.6" cy="41.8" r="0.43" fill="#7a4ab6"/><circle cx="292.9" cy="34.2" r="0.60" fill="#5e2ca4"/><circle cx="309.6" cy="55.0" r="0.40" fill="#5e2ca4"/><circle cx="302.8" cy="39.7" r="0.35" fill="#7a4ab6"/><circle cx="270.1" cy="12.9" r="0.42" fill="#7a4ab6"/><circle cx="277.7" cy="17.8" r="0.60" fill="#7a4ab6"/><circle cx="308.6" cy="48.4" r="0.48" fill="#7a4ab6"/><circle cx="276.5" cy="32.3" r="0.52" fill="#5e2ca4"/><circle cx="310.8" cy="40.1" r="0.50" fill="#7a4ab6"/><circle cx="294.1" cy="15.2" r="0.31" fill="#7a4ab6"/><circle cx="300.5" cy="14.3" r="0.59" fill="#7a4ab6"/><circle cx="303.7" cy="18.5" r="0.56" fill="#5e2ca4"/><circle cx="304.1" cy="32.7" r="0.50" fill="#5e2ca4"/><circle cx="302.1" cy="20.3" r="0.38" fill="#5e2ca4"/><circle cx="289.6" cy="38.2" r="0.37" fill="#7a4ab6"/><circle cx="301.0" cy="39.3" r="0.41" fill="#7a4ab6"/><circle cx="261.9" cy="59.1" r="0.36" fill="#7a4ab6"/><circle cx="298.6" cy="16.1" r="0.34" fill="#7a4ab6"/><circle cx="275.0" cy="65.0" r="0.36" fill="#5e2ca4"/><circle cx="304.6" cy="23.4" r="0.60" fill="#7a4ab6"/><circle cx="275.3" cy="41.8" r="0.38" fill="#5e2ca4"/><circle cx="278.6" cy="17.5" r="0.50" fill="#7a4ab6"/><circle cx="261.8" cy="25.2" r="0.52" fill="#7a4ab6"/><circle cx="261.1" cy="22.2" r="0.48" fill="#5e2ca4"/><circle cx="302.2" cy="50.4" r="0.32" fill="#7a4ab6"/><circle cx="313.8" cy="31.8" r="0.40" fill="#5e2ca4"/><circle cx="302.0" cy="29.4" r="0.58" fill="#7a4ab6"/><circle cx="278.3" cy="37.0" r="0.55" fill="#5e2ca4"/><circle cx="257.2" cy="22.2" r="0.35" fill="#7a4ab6"/><circle cx="300.6" cy="40.8" r="0.49" fill="#5e2ca4"/><circle cx="261.3" cy="43.9" r="0.58" fill="#5e2ca4"/><circle cx="277.6" cy="55.5" r="0.50" fill="#5e2ca4"/><circle cx="279.1" cy="39.4" r="0.54" fill="#5e2ca4"/><circle cx="292.7" cy="27.1" r="0.40" fill="#5e2ca4"/><circle cx="271.3" cy="63.5" r="0.38" fill="#5e2ca4"/><circle cx="302.3" cy="28.9" r="0.50" fill="#7a4ab6"/><circle cx="304.4" cy="38.4" r="0.31" fill="#7a4ab6"/><circle cx="260.9" cy="19.7" r="0.34" fill="#5e2ca4"/><circle cx="266.9" cy="30.1" r="0.46" fill="#5e2ca4"/><circle cx="252.8" cy="35.4" r="0.52" fill="#7a4ab6"/><circle cx="290.7" cy="21.5" r="0.35" fill="#5e2ca4"/><circle cx="276.4" cy="65.6" r="0.41" fill="#5e2ca4"/><circle cx="256.0" cy="36.9" r="0.54" fill="#5e2ca4"/><circle cx="293.1" cy="55.3" r="0.60" fill="#5e2ca4"/><circle cx="288.2" cy="12.7" r="0.38" fill="#5e2ca4"/><circle cx="290.8" cy="53.9" r="0.39" fill="#5e2ca4"/><circle cx="261.5" cy="53.6" r="0.45" fill="#5e2ca4"/><circle cx="275.8" cy="14.8" r="0.32" fill="#7a4ab6"/><circle cx="294.7" cy="47.0" r="0.37" fill="#5e2ca4"/><circle cx="278.0" cy="45.6" r="0.32" fill="#7a4ab6"/><circle cx="255.1" cy="46.9" r="0.56" fill="#7a4ab6"/><circle cx="275.9" cy="64.1" r="0.59" fill="#5e2ca4"/><circle cx="291.7" cy="30.5" r="0.37" fill="#7a4ab6"/><circle cx="271.2" cy="62.0" r="0.49" fill="#7a4ab6"/><circle cx="276.2" cy="24.3" r="0.53" fill="#7a4ab6"/><circle cx="297.2" cy="64.7" r="0.42" fill="#7a4ab6"/><circle cx="290.7" cy="26.1" r="0.44" fill="#5e2ca4"/><circle cx="287.7" cy="12.9" r="0.56" fill="#5e2ca4"/><circle cx="295.2" cy="45.5" r="0.57" fill="#5e2ca4"/><circle cx="257.0" cy="49.8" r="0.57" fill="#5e2ca4"/><circle cx="297.7" cy="50.9" r="0.51" fill="#5e2ca4"/><circle cx="290.1" cy="15.8" r="0.42" fill="#7a4ab6"/><circle cx="265.6" cy="14.8" r="0.54" fill="#7a4ab6"/><circle cx="253.1" cy="38.1" r="0.53" fill="#5e2ca4"/><circle cx="293.8" cy="39.4" r="0.55" fill="#5e2ca4"/><circle cx="271.4" cy="49.3" r="0.48" fill="#5e2ca4"/><circle cx="259.1" cy="56.8" r="0.35" fill="#5e2ca4"/><circle cx="294.4" cy="64.6" r="0.59" fill="#7a4ab6"/><circle cx="255.9" cy="34.1" r="0.47" fill="#5e2ca4"/><circle cx="286.9" cy="43.2" r="0.47" fill="#5e2ca4"/><circle cx="307.7" cy="53.0" r="0.47" fill="#5e2ca4"/><circle cx="281.0" cy="48.4" r="0.35" fill="#5e2ca4"/><circle cx="281.9" cy="25.8" r="0.38" fill="#7a4ab6"/><circle cx="298.5" cy="15.3" r="0.32" fill="#5e2ca4"/><circle cx="313.8" cy="40.9" r="0.40" fill="#5e2ca4"/><circle cx="258.3" cy="39.0" r="0.58" fill="#5e2ca4"/><circle cx="283.0" cy="37.8" r="0.58" fill="#7a4ab6"/><circle cx="261.3" cy="17.6" r="0.50" fill="#5e2ca4"/><circle cx="253.1" cy="38.0" r="0.45" fill="#5e2ca4"/><circle cx="274.8" cy="11.3" r="0.59" fill="#5e2ca4"/><circle cx="273.1" cy="50.3" r="0.54" fill="#7a4ab6"/><circle cx="305.2" cy="58.7" r="0.60" fill="#7a4ab6"/><circle cx="255.3" cy="31.9" r="0.34" fill="#7a4ab6"/><circle cx="301.8" cy="51.4" r="0.58" fill="#5e2ca4"/><circle cx="281.1" cy="42.7" r="0.30" fill="#5e2ca4"/><circle cx="292.1" cy="11.4" r="0.39" fill="#5e2ca4"/><circle cx="298.2" cy="64.6" r="0.40" fill="#7a4ab6"/><circle cx="292.0" cy="12.4" r="0.57" fill="#7a4ab6"/><circle cx="312.1" cy="36.7" r="0.38" fill="#7a4ab6"/><circle cx="283.2" cy="31.9" r="0.37" fill="#7a4ab6"/><circle cx="289.2" cy="10.9" r="0.58" fill="#5e2ca4"/><circle cx="273.8" cy="65.6" r="0.47" fill="#7a4ab6"/><circle cx="303.6" cy="60.7" r="0.56" fill="#5e2ca4"/><circle cx="275.4" cy="42.7" r="0.51" fill="#7a4ab6"/><circle cx="271.2" cy="17.0" r="0.43" fill="#5e2ca4"/><circle cx="300.4" cy="16.5" r="0.54" fill="#5e2ca4"/><circle cx="301.4" cy="23.6" r="0.52" fill="#7a4ab6"/><circle cx="288.7" cy="63.8" r="0.57" fill="#5e2ca4"/><circle cx="273.6" cy="16.3" r="0.36" fill="#7a4ab6"/><circle cx="285.6" cy="56.0" r="0.41" fill="#7a4ab6"/><circle cx="306.0" cy="49.8" r="0.60" fill="#5e2ca4"/><circle cx="255.6" cy="48.5" r="0.41" fill="#5e2ca4"/><circle cx="283.7" cy="39.9" r="0.40" fill="#7a4ab6"/><circle cx="273.3" cy="65.2" r="0.50" fill="#5e2ca4"/><circle cx="296.3" cy="45.6" r="0.32" fill="#7a4ab6"/><circle cx="268.4" cy="44.0" r="0.47" fill="#7a4ab6"/><circle cx="277.7" cy="38.3" r="0.59" fill="#7a4ab6"/><circle cx="312.6" cy="37.0" r="0.43" fill="#5e2ca4"/><circle cx="275.7" cy="13.7" r="0.40" fill="#5e2ca4"/><circle cx="286.0" cy="64.7" r="0.45" fill="#7a4ab6"/><circle cx="256.4" cy="31.5" r="0.40" fill="#7a4ab6"/><circle cx="270.7" cy="16.3" r="0.49" fill="#5e2ca4"/><circle cx="270.6" cy="65.7" r="0.42" fill="#5e2ca4"/><circle cx="264.2" cy="19.5" r="0.57" fill="#7a4ab6"/><circle cx="270.4" cy="60.2" r="0.51" fill="#5e2ca4"/><circle cx="282.5" cy="33.8" r="0.52" fill="#7a4ab6"/><circle cx="264.6" cy="26.6" r="0.49" fill="#7a4ab6"/><circle cx="307.1" cy="26.8" r="0.38" fill="#5e2ca4"/><circle cx="293.0" cy="36.9" r="0.50" fill="#5e2ca4"/><circle cx="295.3" cy="32.1" r="0.55" fill="#7a4ab6"/><circle cx="310.0" cy="50.1" r="0.35" fill="#7a4ab6"/><circle cx="265.0" cy="38.9" r="0.58" fill="#5e2ca4"/><circle cx="260.1" cy="51.0" r="0.47" fill="#5e2ca4"/><circle cx="253.0" cy="45.7" r="0.54" fill="#7a4ab6"/><circle cx="310.5" cy="29.1" r="0.50" fill="#7a4ab6"/><circle cx="284.5" cy="57.7" r="0.57" fill="#5e2ca4"/><circle cx="261.6" cy="51.0" r="0.31" fill="#5e2ca4"/><circle cx="262.1" cy="44.8" r="0.37" fill="#7a4ab6"/><circle cx="268.6" cy="25.9" r="0.38" fill="#7a4ab6"/><circle cx="295.3" cy="41.9" r="0.33" fill="#7a4ab6"/><circle cx="266.1" cy="17.6" r="0.60" fill="#5e2ca4"/><circle cx="310.7" cy="32.2" r="0.58" fill="#7a4ab6"/><circle cx="311.6" cy="33.8" r="0.40" fill="#7a4ab6"/><circle cx="292.0" cy="42.8" r="0.54" fill="#5e2ca4"/><circle cx="259.2" cy="27.4" r="0.42" fill="#5e2ca4"/><circle cx="265.2" cy="43.8" r="0.46" fill="#5e2ca4"/><circle cx="252.1" cy="37.0" r="0.33" fill="#5e2ca4"/><circle cx="283.7" cy="42.1" r="0.35" fill="#7a4ab6"/><circle cx="264.1" cy="59.9" r="0.40" fill="#7a4ab6"/><circle cx="306.8" cy="21.1" r="0.40" fill="#5e2ca4"/><circle cx="255.0" cy="27.3" r="0.43" fill="#5e2ca4"/><circle cx="269.9" cy="12.7" r="0.30" fill="#5e2ca4"/><circle cx="284.4" cy="65.9" r="0.34" fill="#7a4ab6"/><circle cx="283.7" cy="32.2" r="0.46" fill="#7a4ab6"/><circle cx="268.3" cy="15.8" r="0.59" fill="#5e2ca4"/><circle cx="301.2" cy="35.2" r="0.49" fill="#7a4ab6"/><circle cx="273.6" cy="22.5" r="0.50" fill="#7a4ab6"/><circle cx="282.6" cy="28.7" r="0.52" fill="#5e2ca4"/><circle cx="310.4" cy="38.7" r="0.32" fill="#5e2ca4"/><circle cx="291.3" cy="39.3" r="0.43" fill="#7a4ab6"/><circle cx="293.6" cy="30.1" r="0.42" fill="#5e2ca4"/><circle cx="313.3" cy="40.5" r="0.34" fill="#7a4ab6"/><circle cx="285.5" cy="35.3" r="0.35" fill="#7a4ab6"/><circle cx="284.2" cy="28.5" r="0.50" fill="#7a4ab6"/><circle cx="280.3" cy="11.7" r="0.49" fill="#5e2ca4"/><circle cx="267.9" cy="47.8" r="0.45" fill="#7a4ab6"/><circle cx="258.9" cy="23.8" r="0.33" fill="#7a4ab6"/><circle cx="306.8" cy="53.6" r="0.41" fill="#7a4ab6"/><circle cx="286.2" cy="63.7" r="0.60" fill="#7a4ab6"/><circle cx="270.6" cy="15.0" r="0.49" fill="#5e2ca4"/><circle cx="275.4" cy="64.9" r="0.41" fill="#5e2ca4"/><circle cx="313.8" cy="41.5" r="0.54" fill="#7a4ab6"/><circle cx="260.3" cy="50.4" r="0.45" fill="#5e2ca4"/><circle cx="279.0" cy="52.7" r="0.56" fill="#7a4ab6"/><circle cx="307.1" cy="24.6" r="0.55" fill="#7a4ab6"/><circle cx="298.5" cy="55.7" r="0.40" fill="#7a4ab6"/><circle cx="306.7" cy="47.1" r="0.54" fill="#5e2ca4"/><circle cx="270.8" cy="57.3" r="0.57" fill="#7a4ab6"/><circle cx="294.6" cy="58.3" r="0.54" fill="#7a4ab6"/><circle cx="307.5" cy="29.7" r="0.53" fill="#7a4ab6"/><circle cx="280.5" cy="58.8" r="0.48" fill="#5e2ca4"/><circle cx="266.9" cy="20.8" r="0.48" fill="#7a4ab6"/><circle cx="286.3" cy="56.5" r="0.51" fill="#7a4ab6"/><circle cx="300.9" cy="17.4" r="0.59" fill="#5e2ca4"/><circle cx="305.0" cy="39.4" r="0.55" fill="#5e2ca4"/><circle cx="254.5" cy="36.8" r="0.36" fill="#5e2ca4"/><circle cx="285.3" cy="68.1" r="0.47" fill="#5e2ca4"/><circle cx="271.0" cy="17.3" r="0.57" fill="#5e2ca4"/><circle cx="303.0" cy="26.5" r="0.43" fill="#7a4ab6"/><circle cx="256.4" cy="31.6" r="0.52" fill="#5e2ca4"/><circle cx="252.4" cy="34.4" r="0.46" fill="#5e2ca4"/><circle cx="301.2" cy="33.1" r="0.59" fill="#5e2ca4"/><circle cx="260.2" cy="46.5" r="0.48" fill="#7a4ab6"/><circle cx="274.8" cy="12.9" r="0.31" fill="#5e2ca4"/><circle cx="298.6" cy="56.4" r="0.41" fill="#5e2ca4"/><circle cx="276.9" cy="35.0" r="0.51" fill="#5e2ca4"/><circle cx="260.0" cy="37.4" r="0.43" fill="#7a4ab6"/><circle cx="290.0" cy="26.5" r="0.34" fill="#5e2ca4"/><circle cx="292.7" cy="37.2" r="0.37" fill="#7a4ab6"/><circle cx="258.0" cy="51.7" r="0.38" fill="#7a4ab6"/><circle cx="277.7" cy="12.0" r="0.31" fill="#5e2ca4"/><circle cx="285.2" cy="28.2" r="0.33" fill="#7a4ab6"/><circle cx="272.0" cy="36.9" r="0.58" fill="#5e2ca4"/><circle cx="283.2" cy="34.6" r="0.40" fill="#7a4ab6"/><circle cx="257.6" cy="26.4" r="0.39" fill="#5e2ca4"/><circle cx="279.0" cy="60.3" r="0.52" fill="#5e2ca4"/><circle cx="275.2" cy="57.7" r="0.33" fill="#7a4ab6"/><circle cx="306.2" cy="23.1" r="0.38" fill="#5e2ca4"/><circle cx="255.3" cy="31.5" r="0.30" fill="#7a4ab6"/><circle cx="255.7" cy="41.1" r="0.38" fill="#5e2ca4"/><circle cx="300.4" cy="48.7" r="0.48" fill="#7a4ab6"/><circle cx="294.2" cy="36.5" r="0.32" fill="#7a4ab6"/><circle cx="279.8" cy="33.4" r="0.51" fill="#5e2ca4"/><circle cx="305.0" cy="20.5" r="0.44" fill="#5e2ca4"/><circle cx="255.5" cy="26.2" r="0.57" fill="#5e2ca4"/><circle cx="301.2" cy="60.7" r="0.49" fill="#7a4ab6"/><circle cx="258.0" cy="47.3" r="0.49" fill="#5e2ca4"/><circle cx="276.6" cy="33.6" r="0.44" fill="#7a4ab6"/><circle cx="279.2" cy="35.2" r="0.44" fill="#5e2ca4"/><circle cx="310.2" cy="35.2" r="0.53" fill="#5e2ca4"/><circle cx="272.3" cy="11.5" r="0.31" fill="#7a4ab6"/><circle cx="285.2" cy="67.7" r="0.45" fill="#5e2ca4"/><circle cx="271.5" cy="26.2" r="0.34" fill="#5e2ca4"/><circle cx="314.2" cy="44.3" r="0.45" fill="#7a4ab6"/><circle cx="258.7" cy="51.3" r="0.41" fill="#7a4ab6"/><circle cx="290.8" cy="64.9" r="0.33" fill="#7a4ab6"/><circle cx="303.7" cy="55.1" r="0.34" fill="#7a4ab6"/><circle cx="287.6" cy="54.2" r="0.56" fill="#7a4ab6"/><circle cx="257.4" cy="29.8" r="0.50" fill="#5e2ca4"/><circle cx="280.6" cy="33.1" r="0.40" fill="#5e2ca4"/><circle cx="263.0" cy="37.2" r="0.52" fill="#5e2ca4"/><circle cx="291.4" cy="53.9" r="0.36" fill="#5e2ca4"/><circle cx="292.7" cy="41.3" r="0.55" fill="#5e2ca4"/><circle cx="310.4" cy="29.7" r="0.54" fill="#7a4ab6"/><circle cx="302.8" cy="27.0" r="0.58" fill="#7a4ab6"/><circle cx="280.1" cy="37.0" r="0.49" fill="#5e2ca4"/><circle cx="291.1" cy="64.9" r="0.40" fill="#5e2ca4"/><circle cx="277.9" cy="40.2" r="0.49" fill="#7a4ab6"/><circle cx="307.7" cy="50.9" r="0.36" fill="#5e2ca4"/><circle cx="279.5" cy="28.1" r="0.51" fill="#7a4ab6"/><circle cx="308.6" cy="40.0" r="0.45" fill="#7a4ab6"/><circle cx="265.3" cy="18.4" r="0.31" fill="#5e2ca4"/><circle cx="310.9" cy="43.5" r="0.52" fill="#5e2ca4"/><circle cx="297.4" cy="63.3" r="0.36" fill="#5e2ca4"/><circle cx="255.1" cy="45.2" r="0.48" fill="#7a4ab6"/><circle cx="277.7" cy="33.9" r="0.41" fill="#5e2ca4"/><circle cx="304.3" cy="30.4" r="0.57" fill="#7a4ab6"/><circle cx="302.9" cy="16.5" r="0.44" fill="#5e2ca4"/><circle cx="267.1" cy="26.9" r="0.47" fill="#5e2ca4"/><circle cx="276.1" cy="15.5" r="0.50" fill="#5e2ca4"/><circle cx="309.9" cy="31.0" r="0.48" fill="#7a4ab6"/><circle cx="309.6" cy="26.8" r="0.40" fill="#5e2ca4"/><circle cx="296.6" cy="17.0" r="0.54" fill="#7a4ab6"/><circle cx="277.9" cy="34.6" r="0.40" fill="#5e2ca4"/><circle cx="295.0" cy="15.6" r="0.42" fill="#5e2ca4"/><circle cx="276.6" cy="45.7" r="0.52" fill="#5e2ca4"/><circle cx="253.1" cy="43.5" r="0.40" fill="#7a4ab6"/><circle cx="306.9" cy="40.4" r="0.58" fill="#5e2ca4"/><circle cx="276.5" cy="19.2" r="0.51" fill="#5e2ca4"/><circle cx="290.3" cy="48.1" r="0.51" fill="#7a4ab6"/><circle cx="310.1" cy="23.4" r="0.51" fill="#5e2ca4"/><circle cx="263.5" cy="17.8" r="0.60" fill="#7a4ab6"/><circle cx="278.3" cy="64.1" r="0.52" fill="#5e2ca4"/><circle cx="296.4" cy="63.3" r="0.32" fill="#7a4ab6"/><circle cx="252.0" cy="35.9" r="0.41" fill="#5e2ca4"/><circle cx="280.6" cy="48.5" r="0.57" fill="#7a4ab6"/><circle cx="285.1" cy="34.2" r="0.44" fill="#5e2ca4"/><circle cx="284.5" cy="9.8" r="0.54" fill="#5e2ca4"/><circle cx="268.9" cy="22.4" r="0.41" fill="#7a4ab6"/><circle cx="254.1" cy="48.8" r="0.50" fill="#7a4ab6"/><circle cx="310.8" cy="33.3" r="0.32" fill="#7a4ab6"/><circle cx="298.7" cy="63.5" r="0.54" fill="#5e2ca4"/><circle cx="269.3" cy="33.8" r="0.39" fill="#7a4ab6"/><circle cx="303.9" cy="33.5" r="0.45" fill="#5e2ca4"/><circle cx="286.1" cy="11.0" r="0.33" fill="#7a4ab6"/><circle cx="279.6" cy="14.2" r="0.31" fill="#5e2ca4"/><circle cx="295.3" cy="34.9" r="0.46" fill="#5e2ca4"/><circle cx="311.4" cy="28.6" r="0.35" fill="#5e2ca4"/><circle cx="299.3" cy="31.6" r="0.47" fill="#7a4ab6"/><circle cx="289.8" cy="35.8" r="0.59" fill="#5e2ca4"/><circle cx="267.6" cy="55.5" r="0.56" fill="#5e2ca4"/><circle cx="303.4" cy="42.7" r="0.32" fill="#7a4ab6"/><circle cx="306.1" cy="40.3" r="0.53" fill="#5e2ca4"/><circle cx="257.2" cy="32.1" r="0.49" fill="#7a4ab6"/><circle cx="260.7" cy="27.8" r="0.60" fill="#7a4ab6"/><circle cx="301.3" cy="31.0" r="0.60" fill="#7a4ab6"/><circle cx="265.7" cy="45.2" r="0.53" fill="#5e2ca4"/><circle cx="292.6" cy="23.3" r="0.46" fill="#7a4ab6"/><circle cx="255.5" cy="46.8" r="0.40" fill="#7a4ab6"/><circle cx="281.6" cy="41.9" r="0.58" fill="#5e2ca4"/><circle cx="274.8" cy="57.8" r="0.54" fill="#5e2ca4"/><circle cx="308.1" cy="43.8" r="0.35" fill="#7a4ab6"/><circle cx="260.9" cy="55.4" r="0.58" fill="#7a4ab6"/><circle cx="311.6" cy="38.3" r="0.40" fill="#5e2ca4"/><circle cx="314.1" cy="37.7" r="0.38" fill="#7a4ab6"/><circle cx="296.2" cy="34.6" r="0.38" fill="#7a4ab6"/><circle cx="274.4" cy="55.5" r="0.36" fill="#7a4ab6"/><circle cx="285.2" cy="27.8" r="0.43" fill="#7a4ab6"/><circle cx="260.5" cy="56.2" r="0.36" fill="#7a4ab6"/><circle cx="298.9" cy="51.5" r="0.53" fill="#7a4ab6"/><circle cx="258.3" cy="46.8" r="0.54" fill="#5e2ca4"/><circle cx="300.1" cy="18.5" r="0.50" fill="#7a4ab6"/><circle cx="283.1" cy="35.8" r="0.42" fill="#5e2ca4"/><circle cx="267.2" cy="63.5" r="0.56" fill="#7a4ab6"/><circle cx="294.5" cy="45.3" r="0.50" fill="#5e2ca4"/><circle cx="271.5" cy="22.6" r="0.31" fill="#7a4ab6"/><circle cx="266.8" cy="59.4" r="0.45" fill="#5e2ca4"/><circle cx="276.9" cy="67.3" r="0.40" fill="#5e2ca4"/><circle cx="262.8" cy="16.3" r="0.33" fill="#7a4ab6"/><circle cx="275.7" cy="15.7" r="0.52" fill="#7a4ab6"/><circle cx="305.1" cy="57.6" r="0.32" fill="#7a4ab6"/><circle cx="311.7" cy="36.3" r="0.55" fill="#5e2ca4"/><circle cx="269.4" cy="19.7" r="0.46" fill="#7a4ab6"/><circle cx="275.6" cy="67.0" r="0.39" fill="#5e2ca4"/><circle cx="270.5" cy="39.2" r="0.56" fill="#5e2ca4"/><circle cx="276.9" cy="35.1" r="0.40" fill="#5e2ca4"/><circle cx="301.0" cy="62.7" r="0.35" fill="#7a4ab6"/><circle cx="280.8" cy="29.5" r="0.58" fill="#5e2ca4"/><circle cx="285.3" cy="68.0" r="0.46" fill="#5e2ca4"/><circle cx="258.5" cy="50.5" r="0.47" fill="#5e2ca4"/><circle cx="307.0" cy="48.9" r="0.37" fill="#5e2ca4"/><circle cx="279.8" cy="38.1" r="0.59" fill="#7a4ab6"/><circle cx="281.6" cy="59.7" r="0.31" fill="#5e2ca4"/><circle cx="310.9" cy="37.4" r="0.43" fill="#5e2ca4"/><circle cx="256.1" cy="50.7" r="0.57" fill="#7a4ab6"/><circle cx="272.3" cy="63.2" r="0.48" fill="#7a4ab6"/><circle cx="314.7" cy="39.3" r="0.33" fill="#5e2ca4"/><circle cx="267.6" cy="17.4" r="0.41" fill="#5e2ca4"/><circle cx="262.0" cy="22.7" r="0.46" fill="#5e2ca4"/><circle cx="290.5" cy="66.7" r="0.43" fill="#7a4ab6"/><circle cx="311.7" cy="46.3" r="0.39" fill="#7a4ab6"/><circle cx="266.7" cy="60.4" r="0.41" fill="#5e2ca4"/><circle cx="278.7" cy="38.5" r="0.38" fill="#7a4ab6"/><circle cx="268.1" cy="26.4" r="0.58" fill="#7a4ab6"/><circle cx="256.8" cy="26.7" r="0.39" fill="#7a4ab6"/><circle cx="265.9" cy="47.9" r="0.49" fill="#7a4ab6"/><circle cx="291.7" cy="51.1" r="0.50" fill="#7a4ab6"/><circle cx="290.0" cy="10.2" r="0.36" fill="#7a4ab6"/><circle cx="277.7" cy="43.5" r="0.55" fill="#7a4ab6"/><circle cx="291.2" cy="39.0" r="0.49" fill="#5e2ca4"/><circle cx="314.7" cy="42.4" r="0.41" fill="#5e2ca4"/><circle cx="270.2" cy="32.7" r="0.55" fill="#5e2ca4"/><circle cx="278.8" cy="63.7" r="0.34" fill="#7a4ab6"/><circle cx="271.5" cy="54.8" r="0.41" fill="#5e2ca4"/><circle cx="302.5" cy="60.8" r="0.38" fill="#5e2ca4"/><circle cx="298.6" cy="60.5" r="0.41" fill="#5e2ca4"/><circle cx="289.2" cy="36.3" r="0.49" fill="#5e2ca4"/><circle cx="307.2" cy="22.1" r="0.46" fill="#7a4ab6"/><circle cx="309.6" cy="51.1" r="0.47" fill="#5e2ca4"/><circle cx="273.8" cy="65.9" r="0.37" fill="#5e2ca4"/><circle cx="263.0" cy="53.6" r="0.49" fill="#7a4ab6"/><circle cx="266.3" cy="47.1" r="0.57" fill="#5e2ca4"/><circle cx="293.6" cy="40.2" r="0.50" fill="#7a4ab6"/><circle cx="305.6" cy="23.2" r="0.48" fill="#5e2ca4"/><circle cx="304.3" cy="50.4" r="0.50" fill="#7a4ab6"/><circle cx="292.1" cy="27.8" r="0.51" fill="#5e2ca4"/><circle cx="252.9" cy="31.5" r="0.31" fill="#7a4ab6"/><circle cx="292.7" cy="40.7" r="0.59" fill="#5e2ca4"/><circle cx="256.7" cy="26.3" r="0.36" fill="#7a4ab6"/><circle cx="311.4" cy="37.9" r="0.57" fill="#5e2ca4"/><circle cx="273.7" cy="66.4" r="0.49" fill="#7a4ab6"/><circle cx="285.7" cy="43.2" r="0.53" fill="#5e2ca4"/><circle cx="301.4" cy="40.6" r="0.38" fill="#7a4ab6"/><circle cx="297.0" cy="38.1" r="0.52" fill="#7a4ab6"/><circle cx="293.9" cy="65.7" r="0.37" fill="#7a4ab6"/><circle cx="256.2" cy="49.0" r="0.53" fill="#5e2ca4"/><circle cx="309.7" cy="31.7" r="0.40" fill="#5e2ca4"/><circle cx="256.8" cy="43.6" r="0.42" fill="#7a4ab6"/><circle cx="301.5" cy="14.5" r="0.31" fill="#7a4ab6"/><circle cx="255.0" cy="35.2" r="0.40" fill="#7a4ab6"/><circle cx="259.8" cy="57.0" r="0.51" fill="#5e2ca4"/><circle cx="261.8" cy="48.8" r="0.32" fill="#7a4ab6"/><circle cx="287.8" cy="41.3" r="0.43" fill="#7a4ab6"/><circle cx="307.3" cy="54.1" r="0.33" fill="#7a4ab6"/><circle cx="283.6" cy="36.4" r="0.50" fill="#5e2ca4"/><circle cx="278.9" cy="38.8" r="0.38" fill="#7a4ab6"/><circle cx="262.8" cy="55.8" r="0.38" fill="#7a4ab6"/><circle cx="257.4" cy="29.5" r="0.58" fill="#7a4ab6"/><circle cx="270.3" cy="14.7" r="0.30" fill="#7a4ab6"/><circle cx="287.5" cy="9.8" r="0.59" fill="#5e2ca4"/><circle cx="281.2" cy="37.6" r="0.53" fill="#5e2ca4"/><circle cx="263.1" cy="57.2" r="0.58" fill="#7a4ab6"/><circle cx="286.3" cy="33.6" r="0.39" fill="#7a4ab6"/><circle cx="288.7" cy="11.0" r="0.45" fill="#7a4ab6"/><circle cx="298.5" cy="55.2" r="0.51" fill="#5e2ca4"/><circle cx="303.2" cy="55.4" r="0.56" fill="#5e2ca4"/><circle cx="273.3" cy="23.6" r="0.33" fill="#5e2ca4"/><circle cx="271.6" cy="44.2" r="0.42" fill="#7a4ab6"/><circle cx="266.5" cy="40.2" r="0.43" fill="#5e2ca4"/><circle cx="305.8" cy="42.9" r="0.54" fill="#7a4ab6"/><circle cx="306.9" cy="46.4" r="0.35" fill="#7a4ab6"/><circle cx="297.3" cy="26.7" r="0.53" fill="#7a4ab6"/><circle cx="286.4" cy="35.6" r="0.40" fill="#7a4ab6"/><circle cx="295.2" cy="15.9" r="0.41" fill="#7a4ab6"/><circle cx="285.9" cy="36.4" r="0.59" fill="#7a4ab6"/><circle cx="262.6" cy="42.3" r="0.45" fill="#7a4ab6"/><circle cx="271.1" cy="18.5" r="0.52" fill="#7a4ab6"/><circle cx="299.6" cy="34.5" r="0.41" fill="#7a4ab6"/><circle cx="273.9" cy="51.3" r="0.50" fill="#7a4ab6"/><circle cx="254.3" cy="42.8" r="0.42" fill="#5e2ca4"/><circle cx="275.3" cy="39.4" r="0.48" fill="#7a4ab6"/><circle cx="268.9" cy="37.5" r="0.60" fill="#7a4ab6"/><circle cx="261.8" cy="22.4" r="0.57" fill="#5e2ca4"/><circle cx="309.4" cy="35.3" r="0.34" fill="#5e2ca4"/><circle cx="290.8" cy="15.5" r="0.40" fill="#5e2ca4"/><circle cx="297.4" cy="18.9" r="0.56" fill="#5e2ca4"/><circle cx="285.3" cy="67.6" r="0.41" fill="#7a4ab6"/><circle cx="257.0" cy="54.1" r="0.54" fill="#7a4ab6"/><circle cx="262.3" cy="56.0" r="0.46" fill="#5e2ca4"/><circle cx="299.2" cy="62.3" r="0.39" fill="#5e2ca4"/><circle cx="286.2" cy="28.6" r="0.42" fill="#7a4ab6"/><circle cx="289.6" cy="62.9" r="0.31" fill="#5e2ca4"/><circle cx="264.6" cy="15.0" r="0.58" fill="#5e2ca4"/><circle cx="286.6" cy="53.8" r="0.36" fill="#7a4ab6"/><circle cx="292.9" cy="46.7" r="0.30" fill="#7a4ab6"/><circle cx="293.9" cy="32.0" r="0.38" fill="#7a4ab6"/><circle cx="300.3" cy="42.2" r="0.42" fill="#5e2ca4"/><circle cx="255.4" cy="30.0" r="0.44" fill="#5e2ca4"/><circle cx="272.0" cy="63.2" r="0.52" fill="#5e2ca4"/><circle cx="296.1" cy="18.4" r="0.51" fill="#7a4ab6"/><circle cx="275.3" cy="15.4" r="0.43" fill="#7a4ab6"/><circle cx="265.8" cy="19.6" r="0.44" fill="#5e2ca4"/><circle cx="270.7" cy="13.6" r="0.58" fill="#5e2ca4"/><circle cx="289.3" cy="41.0" r="0.37" fill="#5e2ca4"/><circle cx="290.5" cy="24.9" r="0.54" fill="#5e2ca4"/><circle cx="273.5" cy="19.8" r="0.33" fill="#7a4ab6"/><circle cx="269.9" cy="17.7" r="0.46" fill="#5e2ca4"/><circle cx="293.2" cy="21.1" r="0.52" fill="#7a4ab6"/><circle cx="262.8" cy="48.1" r="0.57" fill="#5e2ca4"/><circle cx="263.6" cy="17.1" r="0.56" fill="#5e2ca4"/><circle cx="305.2" cy="19.8" r="0.35" fill="#5e2ca4"/><circle cx="295.4" cy="65.8" r="0.56" fill="#7a4ab6"/><circle cx="298.7" cy="26.8" r="0.50" fill="#7a4ab6"/><circle cx="299.4" cy="41.0" r="0.43" fill="#5e2ca4"/><circle cx="267.6" cy="14.0" r="0.50" fill="#7a4ab6"/><circle cx="310.4" cy="37.4" r="0.41" fill="#7a4ab6"/><circle cx="262.3" cy="19.8" r="0.49" fill="#5e2ca4"/><circle cx="290.4" cy="45.4" r="0.50" fill="#5e2ca4"/><circle cx="291.4" cy="41.1" r="0.37" fill="#5e2ca4"/><circle cx="272.2" cy="19.6" r="0.42" fill="#5e2ca4"/><circle cx="309.7" cy="29.3" r="0.52" fill="#5e2ca4"/><circle cx="255.5" cy="50.7" r="0.31" fill="#5e2ca4"/><circle cx="264.1" cy="58.1" r="0.37" fill="#5e2ca4"/><circle cx="290.6" cy="18.8" r="0.57" fill="#5e2ca4"/><circle cx="273.2" cy="40.1" r="0.42" fill="#7a4ab6"/><circle cx="301.9" cy="49.9" r="0.33" fill="#5e2ca4"/><circle cx="271.7" cy="44.5" r="0.60" fill="#7a4ab6"/><circle cx="292.5" cy="44.1" r="0.45" fill="#5e2ca4"/><circle cx="287.5" cy="48.0" r="0.43" fill="#7a4ab6"/><circle cx="279.3" cy="41.6" r="0.52" fill="#7a4ab6"/><circle cx="302.7" cy="43.0" r="0.51" fill="#7a4ab6"/><circle cx="311.4" cy="47.5" r="0.41" fill="#7a4ab6"/><circle cx="255.3" cy="28.5" r="0.44" fill="#5e2ca4"/><circle cx="285.3" cy="15.8" r="0.32" fill="#5e2ca4"/><circle cx="283.8" cy="14.2" r="0.35" fill="#7a4ab6"/><circle cx="283.3" cy="47.5" r="0.53" fill="#7a4ab6"/><circle cx="299.2" cy="36.8" r="0.36" fill="#5e2ca4"/><circle cx="304.3" cy="20.9" r="0.33" fill="#7a4ab6"/><circle cx="289.9" cy="65.0" r="0.38" fill="#7a4ab6"/><circle cx="261.3" cy="42.1" r="0.53" fill="#7a4ab6"/><circle cx="300.7" cy="53.5" r="0.32" fill="#5e2ca4"/><circle cx="271.6" cy="13.1" r="0.54" fill="#5e2ca4"/><circle cx="298.2" cy="64.2" r="0.56" fill="#7a4ab6"/><circle cx="287.3" cy="58.5" r="0.38" fill="#7a4ab6"/><circle cx="310.3" cy="47.8" r="0.33" fill="#7a4ab6"/><circle cx="278.3" cy="41.2" r="0.40" fill="#5e2ca4"/><circle cx="283.1" cy="41.8" r="0.44" fill="#7a4ab6"/><circle cx="277.8" cy="34.8" r="0.32" fill="#7a4ab6"/><circle cx="303.0" cy="61.8" r="0.41" fill="#7a4ab6"/><circle cx="269.9" cy="14.7" r="0.38" fill="#5e2ca4"/><circle cx="255.2" cy="51.9" r="0.60" fill="#7a4ab6"/><circle cx="304.4" cy="31.1" r="0.37" fill="#7a4ab6"/><circle cx="262.7" cy="48.7" r="0.56" fill="#5e2ca4"/><circle cx="291.5" cy="22.8" r="0.34" fill="#7a4ab6"/><circle cx="281.2" cy="58.3" r="0.58" fill="#7a4ab6"/><circle cx="258.1" cy="27.4" r="0.40" fill="#5e2ca4"/><circle cx="262.5" cy="26.4" r="0.37" fill="#5e2ca4"/><circle cx="310.6" cy="29.9" r="0.57" fill="#7a4ab6"/><circle cx="257.3" cy="34.8" r="0.46" fill="#7a4ab6"/><circle cx="284.5" cy="26.0" r="0.34" fill="#5e2ca4"/><circle cx="293.5" cy="18.1" r="0.43" fill="#7a4ab6"/><circle cx="268.3" cy="46.3" r="0.49" fill="#7a4ab6"/><circle cx="309.8" cy="29.3" r="0.45" fill="#7a4ab6"/><circle cx="258.7" cy="30.6" r="0.35" fill="#7a4ab6"/><circle cx="294.1" cy="52.2" r="0.59" fill="#7a4ab6"/><circle cx="280.0" cy="33.4" r="0.51" fill="#5e2ca4"/><circle cx="257.1" cy="22.2" r="0.48" fill="#7a4ab6"/><circle cx="266.2" cy="51.6" r="0.47" fill="#7a4ab6"/><circle cx="314.1" cy="44.1" r="0.50" fill="#5e2ca4"/><circle cx="302.1" cy="31.7" r="0.31" fill="#7a4ab6"/><circle cx="258.6" cy="26.7" r="0.48" fill="#5e2ca4"/><circle cx="299.8" cy="24.1" r="0.54" fill="#7a4ab6"/><circle cx="260.0" cy="22.7" r="0.40" fill="#7a4ab6"/><circle cx="310.0" cy="52.5" r="0.30" fill="#7a4ab6"/><circle cx="299.3" cy="62.1" r="0.49" fill="#7a4ab6"/><circle cx="286.6" cy="62.6" r="0.56" fill="#7a4ab6"/><circle cx="286.6" cy="38.7" r="0.42" fill="#7a4ab6"/><circle cx="302.8" cy="21.3" r="0.48" fill="#5e2ca4"/><circle cx="285.7" cy="9.7" r="0.56" fill="#7a4ab6"/><circle cx="269.2" cy="61.0" r="0.33" fill="#7a4ab6"/><circle cx="273.7" cy="36.7" r="0.51" fill="#7a4ab6"/><circle cx="258.4" cy="22.3" r="0.48" fill="#5e2ca4"/><circle cx="276.4" cy="42.9" r="0.38" fill="#5e2ca4"/><circle cx="257.0" cy="53.9" r="0.43" fill="#5e2ca4"/><circle cx="295.6" cy="30.5" r="0.46" fill="#7a4ab6"/><circle cx="274.4" cy="10.8" r="0.41" fill="#7a4ab6"/><circle cx="303.6" cy="36.5" r="0.33" fill="#7a4ab6"/><circle cx="299.9" cy="61.1" r="0.43" fill="#7a4ab6"/><circle cx="257.6" cy="27.5" r="0.41" fill="#5e2ca4"/><circle cx="271.0" cy="35.3" r="0.46" fill="#5e2ca4"/><circle cx="312.9" cy="28.5" r="0.42" fill="#7a4ab6"/><circle cx="293.2" cy="31.5" r="0.38" fill="#5e2ca4"/><circle cx="304.5" cy="17.4" r="0.56" fill="#5e2ca4"/><circle cx="282.5" cy="29.8" r="0.50" fill="#5e2ca4"/><circle cx="261.4" cy="54.8" r="0.42" fill="#5e2ca4"/><circle cx="288.9" cy="19.4" r="0.37" fill="#7a4ab6"/><circle cx="280.5" cy="40.0" r="0.51" fill="#5e2ca4"/><circle cx="285.5" cy="13.5" r="0.53" fill="#5e2ca4"/><circle cx="294.3" cy="12.1" r="0.45" fill="#7a4ab6"/><circle cx="314.4" cy="34.8" r="0.31" fill="#7a4ab6"/><circle cx="289.4" cy="63.3" r="0.49" fill="#7a4ab6"/><circle cx="270.0" cy="64.0" r="0.49" fill="#5e2ca4"/><circle cx="280.3" cy="60.4" r="0.52" fill="#5e2ca4"/><circle cx="263.5" cy="45.9" r="0.33" fill="#7a4ab6"/><circle cx="265.3" cy="41.8" r="0.43" fill="#5e2ca4"/><circle cx="299.8" cy="18.7" r="0.43" fill="#5e2ca4"/><circle cx="287.5" cy="56.1" r="0.31" fill="#5e2ca4"/><circle cx="253.8" cy="30.0" r="0.37" fill="#7a4ab6"/><circle cx="283.9" cy="47.2" r="0.59" fill="#7a4ab6"/><circle cx="296.7" cy="37.9" r="0.36" fill="#5e2ca4"/><circle cx="293.1" cy="62.0" r="0.32" fill="#5e2ca4"/><circle cx="299.3" cy="55.0" r="0.34" fill="#7a4ab6"/><circle cx="310.7" cy="48.9" r="0.31" fill="#7a4ab6"/><circle cx="286.9" cy="43.8" r="0.48" fill="#5e2ca4"/><circle cx="296.7" cy="59.9" r="0.53" fill="#7a4ab6"/><circle cx="268.0" cy="52.9" r="0.39" fill="#7a4ab6"/><circle cx="306.6" cy="23.5" r="0.60" fill="#7a4ab6"/><circle cx="275.2" cy="43.2" r="0.56" fill="#7a4ab6"/><circle cx="257.5" cy="53.1" r="0.35" fill="#5e2ca4"/><circle cx="297.2" cy="35.0" r="0.59" fill="#5e2ca4"/><circle cx="281.1" cy="11.6" r="0.54" fill="#7a4ab6"/><circle cx="306.2" cy="54.0" r="0.37" fill="#7a4ab6"/><circle cx="295.0" cy="27.1" r="0.55" fill="#5e2ca4"/><circle cx="311.5" cy="27.5" r="0.35" fill="#7a4ab6"/><circle cx="298.6" cy="61.6" r="0.56" fill="#5e2ca4"/><circle cx="266.8" cy="36.6" r="0.48" fill="#5e2ca4"/><circle cx="272.2" cy="49.2" r="0.47" fill="#5e2ca4"/><circle cx="305.3" cy="20.7" r="0.34" fill="#5e2ca4"/><circle cx="279.3" cy="29.8" r="0.43" fill="#7a4ab6"/><circle cx="268.2" cy="29.0" r="0.35" fill="#7a4ab6"/><circle cx="289.7" cy="47.3" r="0.53" fill="#7a4ab6"/><circle cx="313.1" cy="47.7" r="0.36" fill="#7a4ab6"/><circle cx="263.8" cy="43.0" r="0.52" fill="#7a4ab6"/><circle cx="306.2" cy="27.7" r="0.58" fill="#7a4ab6"/><circle cx="272.7" cy="38.4" r="0.57" fill="#5e2ca4"/><circle cx="313.3" cy="36.4" r="0.56" fill="#7a4ab6"/><circle cx="290.5" cy="13.1" r="0.44" fill="#5e2ca4"/><circle cx="285.4" cy="33.2" r="0.59" fill="#7a4ab6"/><circle cx="252.3" cy="33.0" r="0.49" fill="#5e2ca4"/><circle cx="274.7" cy="65.9" r="0.43" fill="#7a4ab6"/><circle cx="283.4" cy="12.0" r="0.49" fill="#7a4ab6"/><circle cx="276.7" cy="65.1" r="0.34" fill="#7a4ab6"/><circle cx="285.4" cy="13.3" r="0.53" fill="#5e2ca4"/><circle cx="282.5" cy="31.3" r="0.39" fill="#7a4ab6"/><circle cx="281.7" cy="13.2" r="0.39" fill="#7a4ab6"/><circle cx="265.6" cy="54.2" r="0.40" fill="#7a4ab6"/><circle cx="260.4" cy="23.4" r="0.44" fill="#5e2ca4"/><circle cx="297.7" cy="64.6" r="0.43" fill="#5e2ca4"/><circle cx="310.4" cy="38.6" r="0.50" fill="#5e2ca4"/><circle cx="305.0" cy="40.5" r="0.32" fill="#7a4ab6"/><circle cx="309.4" cy="34.4" r="0.42" fill="#7a4ab6"/><circle cx="286.2" cy="11.3" r="0.35" fill="#7a4ab6"/><circle cx="265.2" cy="53.1" r="0.49" fill="#5e2ca4"/><circle cx="289.4" cy="47.4" r="0.31" fill="#7a4ab6"/><circle cx="257.8" cy="38.3" r="0.41" fill="#5e2ca4"/><circle cx="263.4" cy="44.1" r="0.46" fill="#5e2ca4"/><circle cx="254.4" cy="49.8" r="0.47" fill="#7a4ab6"/><circle cx="294.8" cy="64.8" r="0.47" fill="#5e2ca4"/><circle cx="287.0" cy="23.7" r="0.35" fill="#5e2ca4"/><circle cx="262.3" cy="60.0" r="0.56" fill="#7a4ab6"/><circle cx="278.1" cy="61.2" r="0.49" fill="#5e2ca4"/><circle cx="268.7" cy="47.1" r="0.53" fill="#7a4ab6"/><circle cx="282.2" cy="53.7" r="0.55" fill="#7a4ab6"/><circle cx="312.6" cy="48.9" r="0.47" fill="#5e2ca4"/><circle cx="283.3" cy="38.3" r="0.39" fill="#7a4ab6"/><circle cx="282.0" cy="58.9" r="0.56" fill="#7a4ab6"/><circle cx="285.8" cy="13.0" r="0.41" fill="#5e2ca4"/><circle cx="267.9" cy="63.9" r="0.41" fill="#5e2ca4"/><circle cx="290.3" cy="50.9" r="0.50" fill="#5e2ca4"/><circle cx="283.5" cy="34.3" r="0.37" fill="#7a4ab6"/><circle cx="292.1" cy="66.4" r="0.46" fill="#7a4ab6"/><circle cx="264.1" cy="22.0" r="0.52" fill="#7a4ab6"/><circle cx="268.2" cy="32.3" r="0.36" fill="#7a4ab6"/><circle cx="280.8" cy="18.3" r="0.37" fill="#5e2ca4"/><circle cx="312.5" cy="29.9" r="0.40" fill="#5e2ca4"/><circle cx="294.5" cy="50.3" r="0.51" fill="#5e2ca4"/><circle cx="280.9" cy="14.6" r="0.35" fill="#5e2ca4"/><circle cx="261.9" cy="27.0" r="0.36" fill="#7a4ab6"/><circle cx="307.0" cy="23.5" r="0.47" fill="#7a4ab6"/><circle cx="281.6" cy="66.9" r="0.45" fill="#7a4ab6"/><circle cx="296.6" cy="24.7" r="0.56" fill="#7a4ab6"/><circle cx="303.1" cy="22.5" r="0.51" fill="#5e2ca4"/><circle cx="280.0" cy="34.0" r="0.36" fill="#7a4ab6"/><circle cx="293.5" cy="11.1" r="0.46" fill="#7a4ab6"/><circle cx="295.8" cy="61.7" r="0.35" fill="#5e2ca4"/><circle cx="288.4" cy="58.6" r="0.53" fill="#5e2ca4"/><circle cx="256.7" cy="52.9" r="0.35" fill="#7a4ab6"/><circle cx="277.8" cy="59.1" r="0.35" fill="#5e2ca4"/><circle cx="256.5" cy="35.7" r="0.55" fill="#7a4ab6"/><circle cx="299.7" cy="41.2" r="0.42" fill="#7a4ab6"/><circle cx="268.3" cy="63.2" r="0.37" fill="#5e2ca4"/><circle cx="276.6" cy="22.8" r="0.57" fill="#5e2ca4"/><circle cx="297.2" cy="18.2" r="0.44" fill="#5e2ca4"/><circle cx="286.1" cy="36.3" r="0.43" fill="#5e2ca4"/><circle cx="269.4" cy="23.3" r="0.42" fill="#7a4ab6"/><circle cx="296.2" cy="53.8" r="0.45" fill="#7a4ab6"/><circle cx="314.6" cy="41.4" r="0.32" fill="#7a4ab6"/><circle cx="287.7" cy="20.1" r="0.57" fill="#5e2ca4"/><circle cx="300.5" cy="30.7" r="0.34" fill="#5e2ca4"/><circle cx="272.3" cy="65.9" r="0.49" fill="#7a4ab6"/><circle cx="311.3" cy="35.2" r="0.35" fill="#5e2ca4"/><circle cx="282.7" cy="64.9" r="0.40" fill="#7a4ab6"/><circle cx="299.7" cy="61.4" r="0.52" fill="#5e2ca4"/><circle cx="278.2" cy="34.2" r="0.36" fill="#5e2ca4"/><circle cx="277.6" cy="24.4" r="0.41" fill="#5e2ca4"/><circle cx="299.1" cy="20.5" r="0.38" fill="#7a4ab6"/><circle cx="262.7" cy="50.3" r="0.60" fill="#7a4ab6"/><circle cx="309.7" cy="47.3" r="0.48" fill="#5e2ca4"/><circle cx="286.9" cy="43.7" r="0.47" fill="#5e2ca4"/><circle cx="295.0" cy="63.1" r="0.51" fill="#5e2ca4"/><circle cx="291.3" cy="49.6" r="0.55" fill="#7a4ab6"/><circle cx="278.8" cy="62.3" r="0.32" fill="#5e2ca4"/><circle cx="300.9" cy="62.5" r="0.50" fill="#5e2ca4"/><circle cx="253.3" cy="47.8" r="0.40" fill="#7a4ab6"/><circle cx="270.9" cy="36.6" r="0.36" fill="#5e2ca4"/><circle cx="288.9" cy="43.0" r="0.47" fill="#7a4ab6"/><circle cx="285.0" cy="44.3" r="0.39" fill="#5e2ca4"/><circle cx="266.3" cy="19.0" r="0.46" fill="#5e2ca4"/><circle cx="295.9" cy="13.0" r="0.33" fill="#5e2ca4"/><circle cx="252.3" cy="33.1" r="0.32" fill="#7a4ab6"/><circle cx="253.8" cy="43.8" r="0.37" fill="#7a4ab6"/><circle cx="284.8" cy="33.8" r="0.38" fill="#7a4ab6"/><circle cx="254.2" cy="33.1" r="0.46" fill="#7a4ab6"/><circle cx="307.0" cy="41.4" r="0.40" fill="#7a4ab6"/><circle cx="292.8" cy="12.8" r="0.59" fill="#5e2ca4"/><circle cx="264.8" cy="39.5" r="0.52" fill="#7a4ab6"/><circle cx="253.9" cy="38.6" r="0.56" fill="#7a4ab6"/><circle cx="302.2" cy="29.6" r="0.35" fill="#5e2ca4"/><circle cx="289.7" cy="63.9" r="0.49" fill="#5e2ca4"/><circle cx="252.4" cy="32.6" r="0.57" fill="#7a4ab6"/><circle cx="289.8" cy="47.5" r="0.55" fill="#5e2ca4"/><circle cx="277.2" cy="64.9" r="0.39" fill="#5e2ca4"/><circle cx="255.4" cy="45.8" r="0.46" fill="#7a4ab6"/><circle cx="301.5" cy="58.2" r="0.58" fill="#7a4ab6"/><circle cx="260.4" cy="54.3" r="0.49" fill="#5e2ca4"/><circle cx="276.0" cy="10.1" r="0.30" fill="#7a4ab6"/><circle cx="308.0" cy="50.8" r="0.55" fill="#7a4ab6"/><circle cx="310.6" cy="50.3" r="0.52" fill="#5e2ca4"/><circle cx="257.6" cy="44.8" r="0.40" fill="#7a4ab6"/><circle cx="281.4" cy="40.6" r="0.49" fill="#7a4ab6"/><circle cx="311.2" cy="32.6" r="0.50" fill="#5e2ca4"/><circle cx="272.1" cy="41.8" r="0.33" fill="#5e2ca4"/><circle cx="280.1" cy="43.3" r="0.43" fill="#7a4ab6"/><circle cx="278.9" cy="38.8" r="0.34" fill="#5e2ca4"/><circle cx="282.1" cy="64.9" r="0.51" fill="#5e2ca4"/><circle cx="290.7" cy="53.4" r="0.55" fill="#5e2ca4"/><circle cx="283.3" cy="42.5" r="0.51" fill="#5e2ca4"/><circle cx="305.4" cy="34.3" r="0.42" fill="#5e2ca4"/><circle cx="279.8" cy="10.2" r="0.37" fill="#5e2ca4"/><circle cx="267.3" cy="13.4" r="0.54" fill="#5e2ca4"/><circle cx="310.9" cy="34.9" r="0.43" fill="#7a4ab6"/><circle cx="306.2" cy="28.1" r="0.33" fill="#5e2ca4"/><circle cx="274.0" cy="57.9" r="0.54" fill="#5e2ca4"/><circle cx="280.3" cy="54.9" r="0.31" fill="#5e2ca4"/><circle cx="256.0" cy="44.8" r="0.31" fill="#7a4ab6"/><circle cx="304.7" cy="36.7" r="0.43" fill="#5e2ca4"/><circle cx="300.5" cy="15.1" r="0.41" fill="#5e2ca4"/><circle cx="282.5" cy="64.3" r="0.34" fill="#5e2ca4"/><circle cx="309.6" cy="37.9" r="0.33" fill="#5e2ca4"/><circle cx="295.7" cy="46.0" r="0.38" fill="#7a4ab6"/><circle cx="257.7" cy="55.3" r="0.55" fill="#7a4ab6"/><circle cx="261.4" cy="36.3" r="0.47" fill="#7a4ab6"/><circle cx="259.7" cy="41.3" r="0.55" fill="#7a4ab6"/><circle cx="293.2" cy="37.1" r="0.52" fill="#5e2ca4"/><circle cx="283.6" cy="41.3" r="0.38" fill="#5e2ca4"/><circle cx="279.2" cy="40.5" r="0.40" fill="#5e2ca4"/><circle cx="290.0" cy="64.9" r="0.39" fill="#5e2ca4"/><circle cx="253.6" cy="48.0" r="0.43" fill="#7a4ab6"/><circle cx="265.4" cy="30.8" r="0.50" fill="#7a4ab6"/><circle cx="282.8" cy="11.9" r="0.31" fill="#7a4ab6"/><circle cx="273.7" cy="40.2" r="0.37" fill="#5e2ca4"/><circle cx="259.8" cy="29.9" r="0.47" fill="#5e2ca4"/><circle cx="289.1" cy="36.1" r="0.38" fill="#7a4ab6"/><circle cx="309.5" cy="38.0" r="0.36" fill="#7a4ab6"/><circle cx="262.4" cy="42.7" r="0.32" fill="#7a4ab6"/><circle cx="260.4" cy="57.6" r="0.41" fill="#7a4ab6"/><circle cx="274.6" cy="41.4" r="0.35" fill="#7a4ab6"/><circle cx="276.7" cy="39.4" r="0.34" fill="#5e2ca4"/><circle cx="257.7" cy="32.1" r="0.48" fill="#5e2ca4"/><circle cx="283.9" cy="26.7" r="0.40" fill="#7a4ab6"/><circle cx="288.0" cy="39.6" r="0.50" fill="#7a4ab6"/><circle cx="263.8" cy="54.8" r="0.59" fill="#5e2ca4"/><circle cx="303.0" cy="55.8" r="0.33" fill="#7a4ab6"/><circle cx="309.9" cy="24.2" r="0.31" fill="#5e2ca4"/><circle cx="259.3" cy="30.4" r="0.39" fill="#7a4ab6"/><circle cx="312.5" cy="39.5" r="0.45" fill="#7a4ab6"/><circle cx="281.0" cy="55.2" r="0.48" fill="#7a4ab6"/><circle cx="278.0" cy="58.2" r="0.41" fill="#5e2ca4"/><circle cx="274.4" cy="36.7" r="0.57" fill="#5e2ca4"/><circle cx="313.1" cy="38.2" r="0.31" fill="#7a4ab6"/><circle cx="271.4" cy="37.7" r="0.39" fill="#5e2ca4"/><circle cx="299.0" cy="16.4" r="0.39" fill="#7a4ab6"/><circle cx="251.9" cy="39.4" r="0.59" fill="#7a4ab6"/><circle cx="275.2" cy="41.7" r="0.48" fill="#7a4ab6"/><circle cx="281.8" cy="64.0" r="0.46" fill="#5e2ca4"/><circle cx="306.8" cy="21.3" r="0.53" fill="#7a4ab6"/><circle cx="291.9" cy="20.2" r="0.55" fill="#5e2ca4"/><circle cx="263.0" cy="22.8" r="0.45" fill="#5e2ca4"/><circle cx="288.6" cy="10.1" r="0.46" fill="#5e2ca4"/><circle cx="265.7" cy="62.8" r="0.43" fill="#7a4ab6"/><circle cx="282.6" cy="36.5" r="0.47" fill="#5e2ca4"/><circle cx="273.2" cy="36.1" r="0.42" fill="#5e2ca4"/><circle cx="260.5" cy="19.0" r="0.58" fill="#5e2ca4"/><circle cx="296.9" cy="29.6" r="0.33" fill="#7a4ab6"/><circle cx="276.9" cy="41.7" r="0.41" fill="#5e2ca4"/><circle cx="290.5" cy="18.9" r="0.46" fill="#5e2ca4"/><circle cx="296.2" cy="61.9" r="0.40" fill="#7a4ab6"/><circle cx="305.7" cy="33.8" r="0.38" fill="#5e2ca4"/><circle cx="264.9" cy="29.4" r="0.39" fill="#5e2ca4"/><circle cx="274.6" cy="38.4" r="0.37" fill="#7a4ab6"/><circle cx="287.1" cy="41.5" r="0.46" fill="#5e2ca4"/><circle cx="263.3" cy="42.7" r="0.52" fill="#7a4ab6"/><circle cx="264.0" cy="58.9" r="0.37" fill="#7a4ab6"/><circle cx="267.0" cy="51.6" r="0.48" fill="#5e2ca4"/><circle cx="305.0" cy="42.6" r="0.52" fill="#7a4ab6"/><circle cx="254.3" cy="33.8" r="0.50" fill="#5e2ca4"/><circle cx="302.0" cy="16.1" r="0.42" fill="#5e2ca4"/><circle cx="264.0" cy="42.5" r="0.31" fill="#5e2ca4"/><circle cx="263.7" cy="21.4" r="0.52" fill="#5e2ca4"/><circle cx="299.7" cy="62.7" r="0.38" fill="#5e2ca4"/><circle cx="275.4" cy="13.4" r="0.30" fill="#5e2ca4"/><circle cx="264.0" cy="16.4" r="0.48" fill="#5e2ca4"/><circle cx="275.5" cy="11.8" r="0.35" fill="#7a4ab6"/><circle cx="282.0" cy="65.6" r="0.33" fill="#7a4ab6"/><circle cx="310.0" cy="28.0" r="0.59" fill="#7a4ab6"/><circle cx="263.8" cy="61.3" r="0.32" fill="#7a4ab6"/><circle cx="262.1" cy="54.9" r="0.43" fill="#7a4ab6"/><circle cx="312.7" cy="46.4" r="0.38" fill="#5e2ca4"/><circle cx="254.4" cy="40.2" r="0.31" fill="#7a4ab6"/><circle cx="288.5" cy="67.3" r="0.42" fill="#7a4ab6"/><circle cx="295.9" cy="45.4" r="0.52" fill="#7a4ab6"/><circle cx="309.5" cy="47.9" r="0.36" fill="#7a4ab6"/><circle cx="271.1" cy="53.8" r="0.59" fill="#5e2ca4"/><circle cx="294.5" cy="17.7" r="0.31" fill="#7a4ab6"/><circle cx="287.0" cy="64.3" r="0.32" fill="#7a4ab6"/><circle cx="279.2" cy="11.2" r="0.37" fill="#7a4ab6"/><circle cx="269.4" cy="64.1" r="0.33" fill="#7a4ab6"/><circle cx="284.8" cy="32.8" r="0.56" fill="#7a4ab6"/><circle cx="258.7" cy="51.7" r="0.31" fill="#7a4ab6"/><circle cx="263.9" cy="46.8" r="0.59" fill="#7a4ab6"/><circle cx="254.7" cy="49.5" r="0.44" fill="#5e2ca4"/><circle cx="303.3" cy="57.2" r="0.60" fill="#5e2ca4"/><circle cx="266.9" cy="13.7" r="0.31" fill="#5e2ca4"/><circle cx="254.5" cy="37.4" r="0.38" fill="#5e2ca4"/><circle cx="285.7" cy="11.8" r="0.31" fill="#7a4ab6"/><circle cx="296.9" cy="35.1" r="0.34" fill="#5e2ca4"/><circle cx="262.7" cy="27.9" r="0.33" fill="#7a4ab6"/><circle cx="309.8" cy="27.8" r="0.34" fill="#7a4ab6"/><circle cx="258.3" cy="52.6" r="0.35" fill="#5e2ca4"/><circle cx="300.7" cy="24.8" r="0.41" fill="#5e2ca4"/><circle cx="296.7" cy="63.2" r="0.38" fill="#5e2ca4"/><circle cx="291.7" cy="21.3" r="0.50" fill="#7a4ab6"/><circle cx="313.0" cy="40.9" r="0.53" fill="#7a4ab6"/><circle cx="296.0" cy="65.0" r="0.50" fill="#7a4ab6"/><circle cx="295.5" cy="62.9" r="0.57" fill="#5e2ca4"/><circle cx="275.0" cy="33.7" r="0.55" fill="#7a4ab6"/><circle cx="309.6" cy="40.6" r="0.53" fill="#5e2ca4"/><circle cx="288.0" cy="32.0" r="0.33" fill="#5e2ca4"/><circle cx="259.0" cy="55.1" r="0.44" fill="#5e2ca4"/><circle cx="303.8" cy="31.3" r="0.46" fill="#5e2ca4"/><circle cx="284.9" cy="13.7" r="0.30" fill="#5e2ca4"/><circle cx="269.7" cy="61.6" r="0.31" fill="#5e2ca4"/><circle cx="279.9" cy="46.0" r="0.34" fill="#7a4ab6"/><circle cx="287.0" cy="45.4" r="0.49" fill="#5e2ca4"/><circle cx="286.7" cy="67.6" r="0.60" fill="#7a4ab6"/><circle cx="257.0" cy="52.2" r="0.43" fill="#5e2ca4"/><circle cx="290.8" cy="66.8" r="0.30" fill="#5e2ca4"/><circle cx="276.2" cy="67.4" r="0.43" fill="#5e2ca4"/><circle cx="282.0" cy="37.9" r="0.39" fill="#5e2ca4"/><circle cx="273.7" cy="40.8" r="0.52" fill="#7a4ab6"/><circle cx="302.7" cy="15.5" r="0.46" fill="#5e2ca4"/><circle cx="284.8" cy="38.9" r="0.36" fill="#5e2ca4"/><circle cx="258.7" cy="22.9" r="0.35" fill="#7a4ab6"/><circle cx="264.5" cy="24.6" r="0.38" fill="#5e2ca4"/><circle cx="255.3" cy="44.5" r="0.40" fill="#5e2ca4"/><circle cx="303.2" cy="18.1" r="0.56" fill="#5e2ca4"/><circle cx="288.0" cy="66.8" r="0.44" fill="#5e2ca4"/><circle cx="287.2" cy="39.6" r="0.53" fill="#5e2ca4"/><circle cx="281.6" cy="65.3" r="0.36" fill="#5e2ca4"/><circle cx="290.1" cy="31.6" r="0.41" fill="#7a4ab6"/><circle cx="255.1" cy="48.4" r="0.53" fill="#5e2ca4"/><circle cx="260.0" cy="57.2" r="0.37" fill="#5e2ca4"/><circle cx="253.8" cy="46.6" r="0.53" fill="#7a4ab6"/><circle cx="270.4" cy="54.0" r="0.48" fill="#5e2ca4"/><circle cx="300.8" cy="23.0" r="0.50" fill="#5e2ca4"/><circle cx="280.4" cy="67.9" r="0.33" fill="#7a4ab6"/><circle cx="311.4" cy="49.5" r="0.58" fill="#7a4ab6"/><circle cx="311.1" cy="33.1" r="0.36" fill="#7a4ab6"/><circle cx="300.1" cy="37.2" r="0.50" fill="#7a4ab6"/><circle cx="296.9" cy="19.1" r="0.40" fill="#7a4ab6"/><circle cx="255.3" cy="29.0" r="0.34" fill="#5e2ca4"/><circle cx="305.4" cy="55.3" r="0.46" fill="#7a4ab6"/><circle cx="294.1" cy="53.0" r="0.58" fill="#5e2ca4"/><circle cx="287.0" cy="30.1" r="0.42" fill="#5e2ca4"/><circle cx="265.5" cy="18.1" r="0.46" fill="#5e2ca4"/><circle cx="300.1" cy="59.7" r="0.42" fill="#7a4ab6"/><circle cx="273.6" cy="35.7" r="0.34" fill="#7a4ab6"/><circle cx="255.6" cy="34.5" r="0.60" fill="#5e2ca4"/><circle cx="279.4" cy="9.9" r="0.36" fill="#7a4ab6"/><circle cx="306.3" cy="28.0" r="0.50" fill="#7a4ab6"/><circle cx="296.4" cy="13.4" r="0.35" fill="#5e2ca4"/><circle cx="254.1" cy="39.2" r="0.57" fill="#5e2ca4"/><circle cx="287.5" cy="60.2" r="0.57" fill="#7a4ab6"/><circle cx="289.5" cy="64.9" r="0.42" fill="#7a4ab6"/><circle cx="305.0" cy="17.3" r="0.55" fill="#5e2ca4"/><circle cx="281.2" cy="64.7" r="0.41" fill="#7a4ab6"/><circle cx="259.9" cy="24.5" r="0.44" fill="#5e2ca4"/><circle cx="302.7" cy="21.4" r="0.36" fill="#7a4ab6"/><circle cx="299.7" cy="16.9" r="0.55" fill="#7a4ab6"/><circle cx="264.7" cy="61.0" r="0.40" fill="#5e2ca4"/><circle cx="268.0" cy="36.4" r="0.36" fill="#5e2ca4"/><circle cx="305.6" cy="54.5" r="0.38" fill="#7a4ab6"/><circle cx="265.3" cy="42.6" r="0.30" fill="#7a4ab6"/><circle cx="271.8" cy="63.8" r="0.32" fill="#5e2ca4"/><circle cx="299.5" cy="13.6" r="0.32" fill="#7a4ab6"/><circle cx="279.6" cy="38.1" r="0.51" fill="#7a4ab6"/><circle cx="292.4" cy="53.9" r="0.50" fill="#7a4ab6"/><circle cx="275.9" cy="60.3" r="0.56" fill="#5e2ca4"/><circle cx="290.7" cy="48.8" r="0.52" fill="#5e2ca4"/><circle cx="262.8" cy="59.7" r="0.48" fill="#7a4ab6"/><circle cx="293.6" cy="39.8" r="0.44" fill="#7a4ab6"/><circle cx="259.1" cy="20.2" r="0.44" fill="#7a4ab6"/><circle cx="300.8" cy="14.4" r="0.52" fill="#7a4ab6"/><circle cx="293.6" cy="54.8" r="0.59" fill="#5e2ca4"/><circle cx="275.2" cy="35.6" r="0.33" fill="#7a4ab6"/><circle cx="296.7" cy="41.3" r="0.42" fill="#5e2ca4"/><circle cx="286.6" cy="37.8" r="0.45" fill="#7a4ab6"/><circle cx="258.7" cy="27.6" r="0.58" fill="#7a4ab6"/><circle cx="261.0" cy="19.8" r="0.56" fill="#5e2ca4"/><circle cx="255.9" cy="52.3" r="0.49" fill="#5e2ca4"/><circle cx="272.3" cy="15.5" r="0.57" fill="#7a4ab6"/><circle cx="284.6" cy="14.8" r="0.44" fill="#5e2ca4"/><circle cx="268.0" cy="44.4" r="0.50" fill="#7a4ab6"/><circle cx="262.1" cy="57.6" r="0.35" fill="#7a4ab6"/><circle cx="281.3" cy="48.7" r="0.30" fill="#5e2ca4"/><circle cx="271.5" cy="37.3" r="0.32" fill="#7a4ab6"/><circle cx="280.0" cy="12.1" r="0.45" fill="#7a4ab6"/><circle cx="283.2" cy="28.7" r="0.38" fill="#5e2ca4"/><circle cx="287.1" cy="14.3" r="0.33" fill="#5e2ca4"/><circle cx="282.6" cy="38.4" r="0.41" fill="#7a4ab6"/><circle cx="266.7" cy="39.7" r="0.44" fill="#7a4ab6"/><circle cx="259.1" cy="25.7" r="0.50" fill="#5e2ca4"/><circle cx="276.3" cy="53.7" r="0.57" fill="#5e2ca4"/><circle cx="285.9" cy="42.1" r="0.54" fill="#5e2ca4"/><circle cx="303.3" cy="39.3" r="0.59" fill="#7a4ab6"/><circle cx="260.8" cy="23.5" r="0.48" fill="#7a4ab6"/><circle cx="272.5" cy="51.0" r="0.46" fill="#5e2ca4"/><circle cx="273.7" cy="25.1" r="0.44" fill="#7a4ab6"/><circle cx="279.2" cy="28.1" r="0.54" fill="#5e2ca4"/><circle cx="306.9" cy="23.5" r="0.47" fill="#5e2ca4"/><circle cx="287.1" cy="21.1" r="0.36" fill="#7a4ab6"/><circle cx="267.4" cy="59.9" r="0.41" fill="#5e2ca4"/><circle cx="254.2" cy="44.7" r="0.37" fill="#7a4ab6"/><circle cx="310.3" cy="43.0" r="0.43" fill="#7a4ab6"/><circle cx="299.8" cy="15.5" r="0.32" fill="#5e2ca4"/><circle cx="265.3" cy="35.8" r="0.36" fill="#5e2ca4"/><circle cx="288.6" cy="17.6" r="0.52" fill="#5e2ca4"/><circle cx="310.4" cy="29.1" r="0.30" fill="#7a4ab6"/><circle cx="278.7" cy="12.4" r="0.38" fill="#5e2ca4"/><circle cx="307.7" cy="40.3" r="0.36" fill="#7a4ab6"/><circle cx="272.3" cy="62.7" r="0.52" fill="#7a4ab6"/><circle cx="255.5" cy="48.7" r="0.33" fill="#7a4ab6"/><circle cx="288.9" cy="54.4" r="0.41" fill="#5e2ca4"/><circle cx="279.0" cy="52.3" r="0.42" fill="#5e2ca4"/><circle cx="287.3" cy="33.9" r="0.43" fill="#7a4ab6"/><circle cx="295.5" cy="50.5" r="0.31" fill="#5e2ca4"/><circle cx="261.8" cy="19.7" r="0.44" fill="#7a4ab6"/><circle cx="297.9" cy="40.4" r="0.32" fill="#7a4ab6"/><circle cx="280.1" cy="34.5" r="0.43" fill="#7a4ab6"/><circle cx="296.9" cy="12.9" r="0.45" fill="#5e2ca4"/><circle cx="262.0" cy="23.7" r="0.55" fill="#7a4ab6"/><circle cx="277.2" cy="63.5" r="0.33" fill="#5e2ca4"/><circle cx="290.1" cy="10.0" r="0.35" fill="#5e2ca4"/><circle cx="286.3" cy="62.3" r="0.35" fill="#7a4ab6"/><circle cx="261.6" cy="26.0" r="0.53" fill="#7a4ab6"/><circle cx="269.0" cy="25.9" r="0.39" fill="#5e2ca4"/><circle cx="301.6" cy="25.2" r="0.42" fill="#5e2ca4"/><circle cx="253.1" cy="44.5" r="0.43" fill="#7a4ab6"/><circle cx="274.3" cy="48.7" r="0.40" fill="#7a4ab6"/><circle cx="256.5" cy="24.3" r="0.31" fill="#7a4ab6"/><circle cx="293.0" cy="40.0" r="0.52" fill="#7a4ab6"/><circle cx="303.4" cy="17.5" r="0.54" fill="#5e2ca4"/><circle cx="268.5" cy="45.1" r="0.46" fill="#7a4ab6"/><circle cx="279.6" cy="39.5" r="0.42" fill="#7a4ab6"/><circle cx="305.6" cy="21.5" r="0.33" fill="#7a4ab6"/><circle cx="287.0" cy="21.6" r="0.50" fill="#7a4ab6"/><circle cx="261.5" cy="37.3" r="0.52" fill="#5e2ca4"/><circle cx="269.4" cy="14.1" r="0.53" fill="#5e2ca4"/><circle cx="270.3" cy="28.7" r="0.33" fill="#5e2ca4"/><circle cx="294.3" cy="30.7" r="0.33" fill="#5e2ca4"/><circle cx="281.4" cy="36.0" r="0.49" fill="#5e2ca4"/><circle cx="258.3" cy="48.2" r="0.55" fill="#5e2ca4"/><circle cx="305.7" cy="55.0" r="0.51" fill="#7a4ab6"/><circle cx="293.7" cy="61.1" r="0.48" fill="#7a4ab6"/><circle cx="263.0" cy="59.3" r="0.46" fill="#7a4ab6"/><circle cx="253.9" cy="46.5" r="0.58" fill="#5e2ca4"/><circle cx="299.0" cy="26.5" r="0.52" fill="#5e2ca4"/><circle cx="276.6" cy="34.9" r="0.42" fill="#7a4ab6"/><circle cx="271.4" cy="14.0" r="0.34" fill="#7a4ab6"/><circle cx="269.3" cy="61.7" r="0.49" fill="#7a4ab6"/><circle cx="310.5" cy="41.4" r="0.46" fill="#7a4ab6"/><circle cx="266.4" cy="18.4" r="0.60" fill="#7a4ab6"/><circle cx="287.3" cy="51.4" r="0.37" fill="#5e2ca4"/><circle cx="280.5" cy="57.3" r="0.39" fill="#5e2ca4"/><circle cx="288.0" cy="61.0" r="0.50" fill="#7a4ab6"/><circle cx="267.9" cy="13.7" r="0.41" fill="#7a4ab6"/><circle cx="286.8" cy="42.4" r="0.59" fill="#5e2ca4"/><circle cx="291.4" cy="64.3" r="0.45" fill="#5e2ca4"/><circle cx="277.4" cy="45.3" r="0.35" fill="#7a4ab6"/><circle cx="287.8" cy="24.5" r="0.49" fill="#5e2ca4"/><circle cx="271.8" cy="45.4" r="0.53" fill="#5e2ca4"/><circle cx="279.3" cy="57.1" r="0.34" fill="#5e2ca4"/><circle cx="295.2" cy="59.9" r="0.47" fill="#5e2ca4"/><circle cx="256.8" cy="36.0" r="0.59" fill="#5e2ca4"/><circle cx="288.3" cy="49.8" r="0.46" fill="#5e2ca4"/><circle cx="310.5" cy="31.2" r="0.56" fill="#7a4ab6"/><circle cx="311.1" cy="35.3" r="0.58" fill="#7a4ab6"/><circle cx="314.3" cy="33.8" r="0.52" fill="#7a4ab6"/><circle cx="293.3" cy="65.6" r="0.57" fill="#7a4ab6"/><circle cx="272.6" cy="37.6" r="0.56" fill="#7a4ab6"/><circle cx="300.4" cy="63.6" r="0.31" fill="#5e2ca4"/><circle cx="314.7" cy="35.2" r="0.31" fill="#5e2ca4"/><circle cx="281.9" cy="37.8" r="0.46" fill="#5e2ca4"/><circle cx="280.2" cy="20.7" r="0.55" fill="#5e2ca4"/><circle cx="303.7" cy="60.2" r="0.60" fill="#7a4ab6"/><circle cx="264.3" cy="37.6" r="0.49" fill="#7a4ab6"/><circle cx="285.5" cy="18.7" r="0.39" fill="#7a4ab6"/><circle cx="293.5" cy="63.2" r="0.36" fill="#5e2ca4"/><circle cx="283.2" cy="53.3" r="0.38" fill="#7a4ab6"/><circle cx="264.9" cy="61.4" r="0.46" fill="#5e2ca4"/><circle cx="265.1" cy="16.8" r="0.30" fill="#7a4ab6"/><circle cx="313.6" cy="40.4" r="0.48" fill="#7a4ab6"/><circle cx="256.6" cy="26.7" r="0.36" fill="#7a4ab6"/><circle cx="273.4" cy="29.5" r="0.45" fill="#5e2ca4"/><circle cx="286.6" cy="52.0" r="0.33" fill="#5e2ca4"/><circle cx="294.5" cy="27.9" r="0.56" fill="#5e2ca4"/><circle cx="297.6" cy="13.7" r="0.46" fill="#5e2ca4"/><circle cx="269.2" cy="18.6" r="0.39" fill="#5e2ca4"/><circle cx="305.8" cy="38.8" r="0.52" fill="#7a4ab6"/><circle cx="272.2" cy="43.1" r="0.40" fill="#7a4ab6"/><circle cx="279.5" cy="34.8" r="0.35" fill="#5e2ca4"/><circle cx="286.8" cy="21.3" r="0.53" fill="#7a4ab6"/><circle cx="288.3" cy="66.8" r="0.33" fill="#5e2ca4"/><circle cx="286.6" cy="19.9" r="0.41" fill="#7a4ab6"/><circle cx="254.9" cy="33.0" r="0.39" fill="#5e2ca4"/><circle cx="272.1" cy="48.9" r="0.56" fill="#5e2ca4"/><circle cx="283.0" cy="68.0" r="0.58" fill="#7a4ab6"/><circle cx="292.8" cy="41.2" r="0.39" fill="#5e2ca4"/><circle cx="304.9" cy="29.4" r="0.31" fill="#7a4ab6"/><circle cx="313.3" cy="48.2" r="0.48" fill="#5e2ca4"/><circle cx="269.5" cy="65.0" r="0.31" fill="#7a4ab6"/><circle cx="260.1" cy="42.8" r="0.58" fill="#5e2ca4"/><circle cx="263.7" cy="30.3" r="0.35" fill="#5e2ca4"/><circle cx="256.0" cy="52.5" r="0.46" fill="#5e2ca4"/><circle cx="273.3" cy="47.7" r="0.44" fill="#5e2ca4"/><circle cx="295.0" cy="12.9" r="0.59" fill="#7a4ab6"/><circle cx="295.2" cy="32.2" r="0.44" fill="#5e2ca4"/><circle cx="271.8" cy="60.4" r="0.51" fill="#7a4ab6"/><circle cx="306.8" cy="45.1" r="0.59" fill="#7a4ab6"/><circle cx="289.9" cy="44.8" r="0.52" fill="#7a4ab6"/><circle cx="282.5" cy="31.3" r="0.31" fill="#5e2ca4"/><circle cx="290.7" cy="36.3" r="0.34" fill="#7a4ab6"/><circle cx="278.7" cy="15.6" r="0.58" fill="#7a4ab6"/><circle cx="299.2" cy="40.7" r="0.49" fill="#5e2ca4"/><circle cx="288.6" cy="42.1" r="0.35" fill="#7a4ab6"/><circle cx="296.6" cy="16.5" r="0.59" fill="#7a4ab6"/><circle cx="309.4" cy="30.8" r="0.37" fill="#5e2ca4"/><circle cx="254.4" cy="36.7" r="0.40" fill="#5e2ca4"/><circle cx="296.2" cy="14.7" r="0.33" fill="#7a4ab6"/><circle cx="307.8" cy="34.5" r="0.42" fill="#5e2ca4"/><circle cx="259.5" cy="21.6" r="0.59" fill="#7a4ab6"/><circle cx="271.8" cy="34.2" r="0.51" fill="#5e2ca4"/><circle cx="292.6" cy="36.5" r="0.57" fill="#5e2ca4"/><circle cx="275.6" cy="24.5" r="0.55" fill="#7a4ab6"/><circle cx="295.2" cy="12.8" r="0.49" fill="#7a4ab6"/><circle cx="309.9" cy="52.5" r="0.42" fill="#7a4ab6"/><circle cx="311.2" cy="36.6" r="0.35" fill="#7a4ab6"/><circle cx="310.6" cy="35.0" r="0.54" fill="#7a4ab6"/><circle cx="266.7" cy="60.2" r="0.32" fill="#7a4ab6"/><circle cx="275.3" cy="27.2" r="0.32" fill="#5e2ca4"/><circle cx="291.5" cy="10.2" r="0.53" fill="#7a4ab6"/><circle cx="258.0" cy="24.0" r="0.33" fill="#5e2ca4"/><circle cx="259.4" cy="20.4" r="0.33" fill="#5e2ca4"/><circle cx="277.9" cy="27.1" r="0.37" fill="#7a4ab6"/><circle cx="284.9" cy="45.7" r="0.53" fill="#7a4ab6"/><circle cx="278.9" cy="34.1" r="0.52" fill="#7a4ab6"/><circle cx="296.9" cy="60.5" r="0.30" fill="#5e2ca4"/><circle cx="284.2" cy="37.2" r="0.52" fill="#5e2ca4"/><circle cx="279.1" cy="64.4" r="0.52" fill="#7a4ab6"/><circle cx="292.3" cy="12.8" r="0.46" fill="#7a4ab6"/><circle cx="295.4" cy="37.2" r="0.36" fill="#5e2ca4"/><circle cx="290.9" cy="66.2" r="0.35" fill="#7a4ab6"/><circle cx="287.7" cy="48.6" r="0.50" fill="#5e2ca4"/><circle cx="293.3" cy="39.8" r="0.42" fill="#5e2ca4"/><circle cx="278.9" cy="19.3" r="0.36" fill="#5e2ca4"/><circle cx="276.4" cy="12.6" r="0.32" fill="#5e2ca4"/><circle cx="276.2" cy="63.6" r="0.42" fill="#7a4ab6"/><circle cx="292.7" cy="35.6" r="0.50" fill="#7a4ab6"/><circle cx="306.2" cy="40.5" r="0.37" fill="#7a4ab6"/><circle cx="293.6" cy="24.0" r="0.34" fill="#5e2ca4"/><circle cx="255.4" cy="31.7" r="0.47" fill="#5e2ca4"/><circle cx="260.7" cy="57.3" r="0.41" fill="#5e2ca4"/><circle cx="265.3" cy="47.1" r="0.58" fill="#5e2ca4"/><circle cx="293.5" cy="36.6" r="0.44" fill="#7a4ab6"/><circle cx="313.4" cy="38.8" r="0.58" fill="#5e2ca4"/><circle cx="272.8" cy="39.4" r="0.49" fill="#5e2ca4"/><circle cx="288.4" cy="37.0" r="0.31" fill="#7a4ab6"/><circle cx="270.2" cy="65.2" r="0.56" fill="#5e2ca4"/><circle cx="276.2" cy="48.6" r="0.38" fill="#7a4ab6"/><circle cx="264.8" cy="59.5" r="0.57" fill="#5e2ca4"/><circle cx="273.6" cy="61.3" r="0.58" fill="#7a4ab6"/><circle cx="303.2" cy="61.2" r="0.56" fill="#7a4ab6"/><circle cx="293.5" cy="11.2" r="0.37" fill="#7a4ab6"/><circle cx="283.6" cy="41.0" r="0.31" fill="#7a4ab6"/><circle cx="292.1" cy="33.1" r="0.41" fill="#5e2ca4"/><circle cx="267.9" cy="17.8" r="0.53" fill="#7a4ab6"/><circle cx="260.2" cy="50.3" r="0.59" fill="#5e2ca4"/><circle cx="287.9" cy="39.0" r="0.47" fill="#7a4ab6"/><circle cx="261.2" cy="54.2" r="0.51" fill="#7a4ab6"/><circle cx="288.4" cy="21.1" r="0.30" fill="#7a4ab6"/><circle cx="304.5" cy="26.2" r="0.36" fill="#5e2ca4"/><circle cx="277.9" cy="41.5" r="0.37" fill="#7a4ab6"/><circle cx="297.2" cy="39.7" r="0.46" fill="#7a4ab6"/><circle cx="266.8" cy="39.1" r="0.51" fill="#5e2ca4"/><circle cx="287.2" cy="45.2" r="0.35" fill="#5e2ca4"/><circle cx="283.3" cy="37.4" r="0.30" fill="#5e2ca4"/><circle cx="288.2" cy="40.2" r="0.59" fill="#5e2ca4"/><circle cx="297.1" cy="27.7" r="0.32" fill="#5e2ca4"/><circle cx="291.2" cy="61.7" r="0.56" fill="#7a4ab6"/><circle cx="260.1" cy="31.9" r="0.49" fill="#7a4ab6"/><circle cx="290.5" cy="40.7" r="0.38" fill="#5e2ca4"/><circle cx="271.5" cy="19.0" r="0.34" fill="#5e2ca4"/><circle cx="260.6" cy="22.3" r="0.53" fill="#7a4ab6"/><circle cx="273.0" cy="55.8" r="0.59" fill="#5e2ca4"/><circle cx="277.7" cy="36.5" r="0.58" fill="#5e2ca4"/><circle cx="261.2" cy="43.5" r="0.49" fill="#5e2ca4"/><circle cx="300.5" cy="38.6" r="0.49" fill="#7a4ab6"/><circle cx="281.0" cy="12.1" r="0.57" fill="#5e2ca4"/><circle cx="255.0" cy="43.0" r="0.44" fill="#5e2ca4"/><circle cx="282.2" cy="42.3" r="0.52" fill="#7a4ab6"/><circle cx="267.1" cy="63.5" r="0.33" fill="#7a4ab6"/><circle cx="296.9" cy="35.3" r="0.45" fill="#7a4ab6"/><circle cx="298.4" cy="16.5" r="0.31" fill="#7a4ab6"/><circle cx="295.9" cy="35.0" r="0.45" fill="#5e2ca4"/><circle cx="263.9" cy="18.1" r="0.50" fill="#5e2ca4"/><circle cx="265.0" cy="17.0" r="0.31" fill="#5e2ca4"/><circle cx="271.4" cy="11.5" r="0.57" fill="#5e2ca4"/><circle cx="295.0" cy="39.4" r="0.57" fill="#7a4ab6"/><circle cx="304.9" cy="27.3" r="0.56" fill="#7a4ab6"/><circle cx="257.7" cy="28.5" r="0.37" fill="#5e2ca4"/><circle cx="300.5" cy="60.5" r="0.55" fill="#5e2ca4"/><circle cx="306.7" cy="45.7" r="0.50" fill="#7a4ab6"/><circle cx="311.4" cy="34.9" r="0.39" fill="#7a4ab6"/><circle cx="309.1" cy="30.0" r="0.35" fill="#7a4ab6"/><circle cx="310.8" cy="29.9" r="0.42" fill="#7a4ab6"/><circle cx="258.0" cy="41.0" r="0.47" fill="#5e2ca4"/><circle cx="270.6" cy="37.1" r="0.38" fill="#7a4ab6"/><circle cx="272.5" cy="62.6" r="0.39" fill="#5e2ca4"/><circle cx="254.5" cy="31.9" r="0.54" fill="#5e2ca4"/><circle cx="313.1" cy="28.9" r="0.45" fill="#5e2ca4"/><circle cx="280.3" cy="67.3" r="0.55" fill="#7a4ab6"/><circle cx="299.3" cy="56.4" r="0.44" fill="#7a4ab6"/><circle cx="298.5" cy="59.8" r="0.31" fill="#5e2ca4"/><circle cx="295.4" cy="15.2" r="0.38" fill="#5e2ca4"/><circle cx="291.1" cy="57.6" r="0.57" fill="#7a4ab6"/><circle cx="280.8" cy="20.1" r="0.36" fill="#7a4ab6"/><circle cx="276.7" cy="36.0" r="0.32" fill="#5e2ca4"/><circle cx="300.4" cy="62.8" r="0.51" fill="#5e2ca4"/><circle cx="255.0" cy="48.3" r="0.45" fill="#5e2ca4"/><circle cx="284.5" cy="38.3" r="0.33" fill="#5e2ca4"/><circle cx="286.3" cy="43.4" r="0.39" fill="#7a4ab6"/><circle cx="254.1" cy="45.8" r="0.48" fill="#5e2ca4"/><circle cx="264.2" cy="49.3" r="0.41" fill="#5e2ca4"/><circle cx="261.7" cy="40.2" r="0.44" fill="#7a4ab6"/><circle cx="281.8" cy="65.4" r="0.49" fill="#5e2ca4"/><circle cx="278.2" cy="29.8" r="0.38" fill="#7a4ab6"/><circle cx="292.4" cy="37.1" r="0.58" fill="#7a4ab6"/><circle cx="288.6" cy="57.3" r="0.60" fill="#5e2ca4"/><circle cx="252.5" cy="38.8" r="0.31" fill="#5e2ca4"/><circle cx="297.6" cy="46.8" r="0.59" fill="#7a4ab6"/><circle cx="265.3" cy="16.8" r="0.37" fill="#7a4ab6"/><circle cx="253.9" cy="35.8" r="0.55" fill="#7a4ab6"/><circle cx="292.4" cy="16.7" r="0.59" fill="#5e2ca4"/><circle cx="278.9" cy="15.6" r="0.30" fill="#5e2ca4"/><circle cx="269.5" cy="28.1" r="0.54" fill="#7a4ab6"/><circle cx="314.1" cy="40.0" r="0.54" fill="#7a4ab6"/><circle cx="289.9" cy="10.9" r="0.33" fill="#5e2ca4"/><circle cx="264.1" cy="16.8" r="0.38" fill="#7a4ab6"/><circle cx="257.8" cy="52.4" r="0.31" fill="#5e2ca4"/><circle cx="256.8" cy="43.5" r="0.58" fill="#5e2ca4"/><circle cx="313.2" cy="36.2" r="0.53" fill="#7a4ab6"/><circle cx="275.3" cy="36.9" r="0.56" fill="#7a4ab6"/><circle cx="259.3" cy="25.5" r="0.56" fill="#7a4ab6"/><circle cx="254.9" cy="36.0" r="0.34" fill="#5e2ca4"/><circle cx="300.6" cy="17.2" r="0.53" fill="#7a4ab6"/><circle cx="301.7" cy="58.3" r="0.41" fill="#5e2ca4"/><circle cx="293.4" cy="64.6" r="0.31" fill="#5e2ca4"/><circle cx="289.7" cy="39.3" r="0.46" fill="#5e2ca4"/><circle cx="257.1" cy="52.2" r="0.46" fill="#7a4ab6"/><circle cx="299.1" cy="24.9" r="0.49" fill="#7a4ab6"/><circle cx="264.8" cy="58.2" r="0.57" fill="#7a4ab6"/><circle cx="288.0" cy="43.1" r="0.36" fill="#7a4ab6"/><circle cx="309.3" cy="31.7" r="0.38" fill="#7a4ab6"/><circle cx="278.9" cy="55.6" r="0.47" fill="#7a4ab6"/><circle cx="310.9" cy="35.9" r="0.38" fill="#7a4ab6"/><circle cx="260.6" cy="42.3" r="0.38" fill="#7a4ab6"/><circle cx="301.4" cy="58.4" r="0.30" fill="#7a4ab6"/><circle cx="282.2" cy="44.2" r="0.40" fill="#5e2ca4"/><circle cx="256.1" cy="38.1" r="0.37" fill="#5e2ca4"/><circle cx="296.2" cy="24.0" r="0.33" fill="#5e2ca4"/><circle cx="306.9" cy="49.3" r="0.45" fill="#7a4ab6"/><circle cx="296.8" cy="59.5" r="0.46" fill="#7a4ab6"/><circle cx="284.2" cy="38.1" r="0.47" fill="#7a4ab6"/><circle cx="305.9" cy="43.5" r="0.41" fill="#7a4ab6"/><circle cx="294.5" cy="46.5" r="0.38" fill="#7a4ab6"/><circle cx="295.0" cy="13.5" r="0.39" fill="#7a4ab6"/><circle cx="257.2" cy="40.7" r="0.47" fill="#5e2ca4"/><circle cx="258.7" cy="22.3" r="0.53" fill="#5e2ca4"/><circle cx="278.2" cy="41.0" r="0.53" fill="#5e2ca4"/><circle cx="298.0" cy="15.3" r="0.56" fill="#7a4ab6"/><circle cx="305.1" cy="57.1" r="0.58" fill="#7a4ab6"/><circle cx="299.6" cy="48.0" r="0.54" fill="#7a4ab6"/><circle cx="270.3" cy="20.2" r="0.57" fill="#7a4ab6"/><circle cx="300.0" cy="23.1" r="0.59" fill="#5e2ca4"/><circle cx="296.5" cy="18.6" r="0.48" fill="#5e2ca4"/><circle cx="286.8" cy="42.7" r="0.43" fill="#7a4ab6"/><circle cx="279.8" cy="62.3" r="0.35" fill="#5e2ca4"/><circle cx="287.0" cy="9.8" r="0.59" fill="#5e2ca4"/><circle cx="291.8" cy="55.0" r="0.34" fill="#7a4ab6"/><circle cx="292.4" cy="18.7" r="0.55" fill="#5e2ca4"/><circle cx="257.1" cy="27.0" r="0.41" fill="#7a4ab6"/><circle cx="263.4" cy="26.5" r="0.33" fill="#7a4ab6"/><circle cx="305.6" cy="38.0" r="0.53" fill="#5e2ca4"/><circle cx="294.9" cy="24.7" r="0.45" fill="#7a4ab6"/><circle cx="284.2" cy="59.2" r="0.53" fill="#7a4ab6"/><circle cx="265.7" cy="35.9" r="0.45" fill="#7a4ab6"/><circle cx="260.9" cy="18.1" r="0.41" fill="#7a4ab6"/><circle cx="274.2" cy="64.4" r="0.40" fill="#7a4ab6"/><circle cx="308.9" cy="22.4" r="0.40" fill="#5e2ca4"/><circle cx="268.4" cy="39.2" r="0.57" fill="#7a4ab6"/><circle cx="269.7" cy="59.4" r="0.49" fill="#7a4ab6"/><circle cx="252.5" cy="35.9" r="0.47" fill="#7a4ab6"/><circle cx="261.7" cy="36.4" r="0.60" fill="#5e2ca4"/><circle cx="293.5" cy="38.9" r="0.33" fill="#5e2ca4"/><circle cx="254.3" cy="42.8" r="0.53" fill="#7a4ab6"/><circle cx="303.2" cy="41.2" r="0.38" fill="#5e2ca4"/><circle cx="289.0" cy="65.4" r="0.44" fill="#5e2ca4"/><circle cx="270.8" cy="65.3" r="0.42" fill="#7a4ab6"/><circle cx="309.7" cy="50.0" r="0.51" fill="#7a4ab6"/><circle cx="302.7" cy="36.1" r="0.31" fill="#7a4ab6"/><circle cx="289.9" cy="41.4" r="0.44" fill="#5e2ca4"/><circle cx="288.0" cy="26.8" r="0.46" fill="#5e2ca4"/><circle cx="284.6" cy="48.4" r="0.49" fill="#5e2ca4"/><circle cx="260.1" cy="35.6" r="0.33" fill="#7a4ab6"/><circle cx="273.4" cy="13.4" r="0.43" fill="#5e2ca4"/><circle cx="267.6" cy="34.0" r="0.54" fill="#7a4ab6"/><circle cx="259.3" cy="57.5" r="0.38" fill="#7a4ab6"/><circle cx="293.1" cy="36.8" r="0.51" fill="#5e2ca4"/><circle cx="310.8" cy="52.4" r="0.54" fill="#7a4ab6"/><circle cx="288.0" cy="35.9" r="0.38" fill="#5e2ca4"/><circle cx="299.2" cy="35.0" r="0.33" fill="#5e2ca4"/><circle cx="255.7" cy="37.9" r="0.56" fill="#5e2ca4"/><circle cx="307.0" cy="57.3" r="0.55" fill="#7a4ab6"/><circle cx="265.1" cy="36.4" r="0.47" fill="#7a4ab6"/><circle cx="306.5" cy="23.8" r="0.50" fill="#7a4ab6"/><circle cx="297.8" cy="56.6" r="0.32" fill="#7a4ab6"/><circle cx="258.6" cy="23.2" r="0.46" fill="#7a4ab6"/><circle cx="269.3" cy="12.7" r="0.42" fill="#5e2ca4"/><circle cx="271.5" cy="21.2" r="0.39" fill="#7a4ab6"/><circle cx="279.3" cy="34.2" r="0.48" fill="#5e2ca4"/><circle cx="289.3" cy="31.3" r="0.55" fill="#5e2ca4"/><circle cx="283.5" cy="27.9" r="0.53" fill="#7a4ab6"/><circle cx="286.5" cy="21.4" r="0.34" fill="#7a4ab6"/><circle cx="281.2" cy="54.5" r="0.40" fill="#7a4ab6"/><circle cx="291.7" cy="26.4" r="0.54" fill="#7a4ab6"/><circle cx="256.1" cy="38.4" r="0.32" fill="#5e2ca4"/><circle cx="280.8" cy="36.2" r="0.43" fill="#5e2ca4"/><circle cx="309.6" cy="51.0" r="0.54" fill="#5e2ca4"/><circle cx="267.7" cy="46.8" r="0.38" fill="#7a4ab6"/><circle cx="282.7" cy="60.9" r="0.59" fill="#5e2ca4"/><circle cx="269.6" cy="62.0" r="0.50" fill="#5e2ca4"/><circle cx="296.2" cy="36.7" r="0.57" fill="#7a4ab6"/><circle cx="303.9" cy="55.6" r="0.36" fill="#5e2ca4"/><circle cx="275.0" cy="63.5" r="0.38" fill="#7a4ab6"/><circle cx="311.9" cy="48.8" r="0.33" fill="#7a4ab6"/><circle cx="281.0" cy="10.4" r="0.33" fill="#5e2ca4"/><circle cx="285.0" cy="13.7" r="0.48" fill="#7a4ab6"/><circle cx="258.7" cy="43.1" r="0.40" fill="#7a4ab6"/><circle cx="281.7" cy="21.6" r="0.54" fill="#5e2ca4"/><circle cx="285.4" cy="64.5" r="0.35" fill="#7a4ab6"/><circle cx="283.3" cy="36.3" r="0.46" fill="#5e2ca4"/><circle cx="279.0" cy="23.3" r="0.34" fill="#7a4ab6"/><circle cx="293.0" cy="62.0" r="0.49" fill="#5e2ca4"/><circle cx="283.7" cy="63.7" r="0.51" fill="#5e2ca4"/><circle cx="288.7" cy="40.1" r="0.58" fill="#7a4ab6"/><circle cx="253.1" cy="43.1" r="0.49" fill="#7a4ab6"/><circle cx="273.6" cy="64.3" r="0.46" fill="#7a4ab6"/><circle cx="294.5" cy="28.9" r="0.70" fill="#7a4ab6"/><circle cx="313.8" cy="39.2" r="0.82" fill="#7a4ab6"/><circle cx="278.9" cy="46.7" r="0.73" fill="#5e2ca4"/><circle cx="275.5" cy="60.7" r="0.87" fill="#7a4ab6"/><circle cx="304.9" cy="21.7" r="0.87" fill="#7a4ab6"/><circle cx="263.5" cy="19.4" r="0.87" fill="#7a4ab6"/><circle cx="290.7" cy="13.5" r="0.64" fill="#7a4ab6"/><circle cx="254.8" cy="30.3" r="0.62" fill="#7a4ab6"/><circle cx="303.1" cy="61.5" r="0.67" fill="#5e2ca4"/><circle cx="304.1" cy="59.6" r="0.79" fill="#5e2ca4"/><circle cx="276.8" cy="48.8" r="0.94" fill="#7a4ab6"/><circle cx="297.7" cy="16.3" r="0.94" fill="#5e2ca4"/><circle cx="279.9" cy="64.7" r="0.85" fill="#5e2ca4"/><circle cx="260.9" cy="44.2" r="0.65" fill="#7a4ab6"/><circle cx="278.7" cy="42.4" r="0.83" fill="#5e2ca4"/><circle cx="291.7" cy="60.5" r="0.88" fill="#5e2ca4"/><circle cx="298.6" cy="38.4" r="0.61" fill="#7a4ab6"/><circle cx="254.3" cy="47.1" r="0.64" fill="#5e2ca4"/><circle cx="282.7" cy="53.6" r="0.80" fill="#5e2ca4"/><circle cx="311.7" cy="51.1" r="0.89" fill="#7a4ab6"/><circle cx="268.9" cy="17.0" r="0.76" fill="#7a4ab6"/><circle cx="295.3" cy="35.4" r="0.92" fill="#5e2ca4"/><circle cx="291.9" cy="40.9" r="0.77" fill="#5e2ca4"/><circle cx="298.7" cy="61.6" r="0.73" fill="#7a4ab6"/><circle cx="278.0" cy="57.1" r="0.92" fill="#5e2ca4"/><circle cx="285.5" cy="65.5" r="0.85" fill="#5e2ca4"/><circle cx="309.2" cy="26.7" r="0.64" fill="#5e2ca4"/><circle cx="289.6" cy="38.5" r="0.90" fill="#7a4ab6"/><circle cx="259.3" cy="21.3" r="0.93" fill="#7a4ab6"/><circle cx="252.5" cy="39.5" r="0.77" fill="#5e2ca4"/><circle cx="296.5" cy="46.6" r="0.70" fill="#7a4ab6"/><circle cx="277.3" cy="41.7" r="0.78" fill="#7a4ab6"/><circle cx="311.8" cy="46.9" r="0.83" fill="#5e2ca4"/><circle cx="267.5" cy="54.3" r="0.80" fill="#5e2ca4"/><circle cx="293.1" cy="14.7" r="0.64" fill="#7a4ab6"/><circle cx="275.3" cy="39.2" r="0.89" fill="#7a4ab6"/><circle cx="254.8" cy="38.7" r="0.82" fill="#5e2ca4"/><circle cx="280.0" cy="29.6" r="0.78" fill="#7a4ab6"/><circle cx="265.4" cy="61.7" r="0.65" fill="#7a4ab6"/><circle cx="294.3" cy="12.3" r="0.79" fill="#7a4ab6"/><circle cx="284.4" cy="19.3" r="0.84" fill="#7a4ab6"/><circle cx="278.3" cy="34.3" r="0.70" fill="#7a4ab6"/><circle cx="310.4" cy="26.0" r="0.62" fill="#7a4ab6"/><circle cx="304.0" cy="38.8" r="0.77" fill="#5e2ca4"/><circle cx="267.7" cy="17.5" r="0.81" fill="#5e2ca4"/><circle cx="257.3" cy="25.1" r="0.62" fill="#7a4ab6"/><circle cx="262.3" cy="21.6" r="0.82" fill="#5e2ca4"/><circle cx="260.9" cy="23.2" r="0.90" fill="#7a4ab6"/><circle cx="272.4" cy="13.0" r="0.64" fill="#7a4ab6"/><circle cx="277.3" cy="30.6" r="0.64" fill="#7a4ab6"/><circle cx="299.6" cy="15.7" r="0.71" fill="#7a4ab6"/><circle cx="260.2" cy="49.8" r="0.64" fill="#5e2ca4"/><circle cx="264.1" cy="15.7" r="0.78" fill="#5e2ca4"/><circle cx="270.7" cy="44.1" r="0.79" fill="#7a4ab6"/><circle cx="304.5" cy="35.5" r="0.79" fill="#7a4ab6"/><circle cx="276.8" cy="39.1" r="0.91" fill="#5e2ca4"/><circle cx="293.3" cy="53.9" r="0.93" fill="#7a4ab6"/><circle cx="277.2" cy="61.9" r="0.77" fill="#7a4ab6"/><circle cx="295.2" cy="63.4" r="0.70" fill="#7a4ab6"/><circle cx="282.7" cy="64.0" r="0.77" fill="#5e2ca4"/><circle cx="268.5" cy="49.6" r="0.69" fill="#7a4ab6"/><circle cx="266.0" cy="21.9" r="0.69" fill="#7a4ab6"/><circle cx="294.6" cy="21.5" r="0.71" fill="#5e2ca4"/><circle cx="310.6" cy="35.0" r="0.66" fill="#7a4ab6"/><circle cx="307.7" cy="51.3" r="0.94" fill="#7a4ab6"/><circle cx="274.5" cy="62.8" r="0.60" fill="#5e2ca4"/><circle cx="287.8" cy="11.3" r="0.90" fill="#7a4ab6"/><circle cx="275.5" cy="12.7" r="0.63" fill="#5e2ca4"/><circle cx="255.4" cy="27.6" r="0.69" fill="#7a4ab6"/><circle cx="254.8" cy="32.7" r="0.83" fill="#7a4ab6"/><circle cx="255.6" cy="45.2" r="0.84" fill="#7a4ab6"/><circle cx="280.4" cy="39.8" r="0.68" fill="#7a4ab6"/><circle cx="310.4" cy="40.3" r="0.75" fill="#5e2ca4"/><circle cx="275.4" cy="39.1" r="0.86" fill="#7a4ab6"/><circle cx="300.3" cy="61.1" r="0.93" fill="#5e2ca4"/><circle cx="283.2" cy="64.4" r="0.72" fill="#5e2ca4"/><circle cx="283.1" cy="43.4" r="0.91" fill="#7a4ab6"/><circle cx="300.7" cy="29.0" r="0.78" fill="#5e2ca4"/><circle cx="281.9" cy="58.2" r="0.87" fill="#7a4ab6"/><circle cx="303.7" cy="41.1" r="0.70" fill="#5e2ca4"/><circle cx="289.5" cy="58.8" r="0.67" fill="#7a4ab6"/><circle cx="273.5" cy="52.1" r="0.90" fill="#5e2ca4"/><circle cx="271.3" cy="41.6" r="0.67" fill="#5e2ca4"/><circle cx="280.0" cy="34.4" r="0.70" fill="#5e2ca4"/><circle cx="265.0" cy="25.3" r="0.76" fill="#5e2ca4"/><circle cx="310.6" cy="39.8" r="0.83" fill="#7a4ab6"/><circle cx="288.6" cy="15.3" r="0.71" fill="#5e2ca4"/><circle cx="310.8" cy="28.0" r="0.82" fill="#7a4ab6"/><circle cx="292.4" cy="65.1" r="0.93" fill="#5e2ca4"/><circle cx="260.5" cy="37.3" r="0.89" fill="#5e2ca4"/><circle cx="310.6" cy="25.4" r="0.77" fill="#5e2ca4"/><circle cx="261.0" cy="33.0" r="0.93" fill="#7a4ab6"/><circle cx="270.3" cy="60.7" r="0.71" fill="#7a4ab6"/><circle cx="261.6" cy="48.7" r="0.66" fill="#5e2ca4"/><circle cx="303.6" cy="57.8" r="0.82" fill="#7a4ab6"/><circle cx="294.2" cy="59.2" r="0.73" fill="#7a4ab6"/><circle cx="304.0" cy="19.1" r="0.69" fill="#7a4ab6"/><circle cx="256.8" cy="29.4" r="0.85" fill="#7a4ab6"/><circle cx="285.7" cy="23.9" r="0.73" fill="#7a4ab6"/><circle cx="308.3" cy="23.8" r="0.83" fill="#5e2ca4"/><circle cx="304.3" cy="30.4" r="0.78" fill="#5e2ca4"/><circle cx="304.6" cy="45.7" r="0.88" fill="#5e2ca4"/><circle cx="275.9" cy="64.5" r="0.85" fill="#5e2ca4"/><circle cx="286.9" cy="12.7" r="0.69" fill="#7a4ab6"/><circle cx="292.0" cy="12.1" r="0.85" fill="#7a4ab6"/><circle cx="252.9" cy="32.2" r="0.88" fill="#5e2ca4"/><circle cx="302.6" cy="49.7" r="0.81" fill="#5e2ca4"/><circle cx="279.5" cy="9.6" r="0.80" fill="#5e2ca4"/><circle cx="286.9" cy="41.5" r="0.63" fill="#5e2ca4"/><circle cx="291.8" cy="40.8" r="0.72" fill="#5e2ca4"/><circle cx="296.2" cy="43.2" r="0.94" fill="#5e2ca4"/><circle cx="283.6" cy="67.9" r="0.68" fill="#7a4ab6"/><circle cx="310.7" cy="52.8" r="0.87" fill="#7a4ab6"/><circle cx="293.2" cy="22.5" r="0.85" fill="#7a4ab6"/><circle cx="278.8" cy="35.2" r="0.80" fill="#5e2ca4"/><circle cx="257.8" cy="54.2" r="0.67" fill="#5e2ca4"/><circle cx="308.1" cy="49.5" r="0.80" fill="#7a4ab6"/><circle cx="269.7" cy="51.2" r="0.84" fill="#7a4ab6"/><circle cx="308.2" cy="24.6" r="0.73" fill="#5e2ca4"/><circle cx="277.6" cy="65.7" r="0.83" fill="#7a4ab6"/></g>
<defs><clipPath id="cdg2"><ellipse cx="283.5" cy="106" rx="31.6" ry="30"/></clipPath><radialGradient id="dg2" cx="50%" cy="50%" r="50%"><stop offset="0" stop-color="#c4bac8"/><stop offset="0.85" stop-color="#c4bac8"/><stop offset="1" stop-color="#b0a2c0"/></radialGradient></defs>
<ellipse cx="283.5" cy="106" rx="31.6" ry="30" fill="url(#dg2)"/>
<g clip-path="url(#cdg2)"><circle cx="304.7" cy="120.2" r="0.48" fill="#8464b6"/><circle cx="288.6" cy="85.5" r="0.52" fill="#8464b6"/><circle cx="311.9" cy="108.7" r="0.31" fill="#6636a8"/><circle cx="281.3" cy="95.1" r="0.46" fill="#8464b6"/><circle cx="272.4" cy="84.2" r="0.50" fill="#6636a8"/><circle cx="308.4" cy="123.8" r="0.53" fill="#8464b6"/><circle cx="299.6" cy="118.9" r="0.45" fill="#8464b6"/><circle cx="283.6" cy="125.9" r="0.57" fill="#6636a8"/><circle cx="287.8" cy="131.2" r="0.37" fill="#6636a8"/><circle cx="296.1" cy="86.0" r="0.57" fill="#6636a8"/><circle cx="283.8" cy="107.1" r="0.39" fill="#6636a8"/><circle cx="296.5" cy="80.0" r="0.57" fill="#6636a8"/><circle cx="293.2" cy="92.4" r="0.33" fill="#8464b6"/><circle cx="305.9" cy="90.7" r="0.43" fill="#8464b6"/><circle cx="253.9" cy="97.7" r="0.32" fill="#8464b6"/><circle cx="303.3" cy="85.4" r="0.42" fill="#6636a8"/><circle cx="254.2" cy="96.7" r="0.33" fill="#6636a8"/><circle cx="253.8" cy="102.9" r="0.57" fill="#8464b6"/><circle cx="306.4" cy="118.3" r="0.50" fill="#6636a8"/><circle cx="258.8" cy="92.1" r="0.45" fill="#6636a8"/><circle cx="285.8" cy="105.0" r="0.34" fill="#6636a8"/><circle cx="258.0" cy="114.1" r="0.58" fill="#8464b6"/><circle cx="266.6" cy="102.7" r="0.49" fill="#8464b6"/><circle cx="296.7" cy="91.4" r="0.30" fill="#6636a8"/><circle cx="277.7" cy="82.7" r="0.33" fill="#6636a8"/><circle cx="266.5" cy="89.0" r="0.39" fill="#8464b6"/><circle cx="265.3" cy="130.4" r="0.43" fill="#8464b6"/><circle cx="288.6" cy="79.1" r="0.35" fill="#6636a8"/><circle cx="302.6" cy="98.0" r="0.48" fill="#6636a8"/><circle cx="258.3" cy="94.4" r="0.30" fill="#6636a8"/><circle cx="277.9" cy="105.2" r="0.32" fill="#6636a8"/><circle cx="275.5" cy="132.1" r="0.36" fill="#8464b6"/><circle cx="276.7" cy="103.8" r="0.34" fill="#6636a8"/><circle cx="267.0" cy="81.6" r="0.52" fill="#6636a8"/><circle cx="274.5" cy="103.4" r="0.46" fill="#6636a8"/><circle cx="270.7" cy="89.9" r="0.43" fill="#8464b6"/><circle cx="264.0" cy="129.6" r="0.34" fill="#6636a8"/><circle cx="292.9" cy="83.7" r="0.50" fill="#8464b6"/><circle cx="279.6" cy="107.4" r="0.58" fill="#8464b6"/><circle cx="258.0" cy="107.0" r="0.57" fill="#6636a8"/><circle cx="296.3" cy="100.2" r="0.47" fill="#6636a8"/><circle cx="279.8" cy="77.8" r="0.35" fill="#8464b6"/><circle cx="282.4" cy="100.3" r="0.51" fill="#6636a8"/><circle cx="312.7" cy="95.8" r="0.53" fill="#8464b6"/><circle cx="266.1" cy="113.3" r="0.59" fill="#8464b6"/><circle cx="252.6" cy="103.9" r="0.50" fill="#8464b6"/><circle cx="298.0" cy="112.4" r="0.33" fill="#8464b6"/><circle cx="300.4" cy="88.0" r="0.36" fill="#8464b6"/><circle cx="260.6" cy="112.7" r="0.47" fill="#6636a8"/><circle cx="282.6" cy="126.2" r="0.45" fill="#8464b6"/><circle cx="310.2" cy="119.9" r="0.35" fill="#8464b6"/><circle cx="301.5" cy="100.3" r="0.56" fill="#6636a8"/><circle cx="262.2" cy="98.9" r="0.30" fill="#8464b6"/><circle cx="313.0" cy="98.0" r="0.43" fill="#8464b6"/><circle cx="271.4" cy="114.9" r="0.57" fill="#6636a8"/><circle cx="304.0" cy="94.3" r="0.50" fill="#6636a8"/><circle cx="291.9" cy="99.5" r="0.54" fill="#8464b6"/><circle cx="271.4" cy="90.0" r="0.38" fill="#8464b6"/><circle cx="256.8" cy="112.9" r="0.43" fill="#6636a8"/><circle cx="279.8" cy="114.4" r="0.33" fill="#6636a8"/><circle cx="263.9" cy="116.7" r="0.54" fill="#6636a8"/><circle cx="303.0" cy="114.0" r="0.40" fill="#8464b6"/><circle cx="310.4" cy="106.2" r="0.52" fill="#8464b6"/><circle cx="270.3" cy="113.3" r="0.42" fill="#6636a8"/><circle cx="312.4" cy="97.2" r="0.36" fill="#8464b6"/><circle cx="274.1" cy="97.6" r="0.53" fill="#6636a8"/><circle cx="286.2" cy="90.2" r="0.39" fill="#8464b6"/><circle cx="300.9" cy="126.6" r="0.38" fill="#6636a8"/><circle cx="267.7" cy="96.6" r="0.48" fill="#6636a8"/><circle cx="300.6" cy="83.9" r="0.53" fill="#6636a8"/><circle cx="285.0" cy="126.7" r="0.48" fill="#6636a8"/><circle cx="281.8" cy="113.2" r="0.48" fill="#8464b6"/><circle cx="285.9" cy="135.1" r="0.44" fill="#6636a8"/><circle cx="285.1" cy="78.8" r="0.34" fill="#8464b6"/><circle cx="294.9" cy="130.9" r="0.54" fill="#6636a8"/><circle cx="270.3" cy="83.3" r="0.59" fill="#8464b6"/><circle cx="256.4" cy="105.7" r="0.36" fill="#8464b6"/><circle cx="303.9" cy="107.4" r="0.34" fill="#6636a8"/><circle cx="258.7" cy="88.7" r="0.41" fill="#8464b6"/><circle cx="297.3" cy="106.4" r="0.33" fill="#8464b6"/><circle cx="291.5" cy="88.6" r="0.43" fill="#6636a8"/><circle cx="277.1" cy="123.9" r="0.44" fill="#6636a8"/><circle cx="266.4" cy="118.2" r="0.31" fill="#8464b6"/><circle cx="264.7" cy="87.7" r="0.49" fill="#8464b6"/><circle cx="288.0" cy="105.7" r="0.55" fill="#8464b6"/><circle cx="264.1" cy="84.9" r="0.36" fill="#8464b6"/><circle cx="281.2" cy="93.5" r="0.51" fill="#6636a8"/><circle cx="308.9" cy="110.1" r="0.52" fill="#6636a8"/><circle cx="293.6" cy="83.3" r="0.57" fill="#6636a8"/><circle cx="273.0" cy="108.3" r="0.58" fill="#6636a8"/><circle cx="300.7" cy="117.6" r="0.44" fill="#6636a8"/><circle cx="281.8" cy="91.3" r="0.36" fill="#6636a8"/><circle cx="288.1" cy="94.6" r="0.56" fill="#6636a8"/><circle cx="290.8" cy="115.5" r="0.39" fill="#6636a8"/><circle cx="291.0" cy="103.6" r="0.36" fill="#6636a8"/><circle cx="272.1" cy="91.4" r="0.43" fill="#6636a8"/><circle cx="288.5" cy="83.9" r="0.41" fill="#6636a8"/><circle cx="289.1" cy="130.9" r="0.54" fill="#8464b6"/><circle cx="261.5" cy="94.0" r="0.36" fill="#8464b6"/><circle cx="307.2" cy="111.5" r="0.37" fill="#6636a8"/><circle cx="255.8" cy="115.9" r="0.42" fill="#6636a8"/><circle cx="313.2" cy="99.5" r="0.36" fill="#6636a8"/><circle cx="285.6" cy="125.0" r="0.50" fill="#6636a8"/><circle cx="254.2" cy="104.2" r="0.53" fill="#8464b6"/><circle cx="256.3" cy="109.5" r="0.34" fill="#6636a8"/><circle cx="285.9" cy="112.9" r="0.33" fill="#8464b6"/><circle cx="272.4" cy="132.4" r="0.44" fill="#8464b6"/><circle cx="274.3" cy="96.4" r="0.33" fill="#8464b6"/><circle cx="274.9" cy="132.8" r="0.57" fill="#8464b6"/><circle cx="280.0" cy="110.1" r="0.60" fill="#8464b6"/><circle cx="286.0" cy="112.6" r="0.54" fill="#6636a8"/><circle cx="254.7" cy="111.6" r="0.50" fill="#6636a8"/><circle cx="267.5" cy="123.3" r="0.57" fill="#6636a8"/><circle cx="289.6" cy="80.1" r="0.30" fill="#6636a8"/><circle cx="254.3" cy="103.0" r="0.42" fill="#8464b6"/><circle cx="259.9" cy="101.6" r="0.59" fill="#8464b6"/><circle cx="284.5" cy="102.4" r="0.54" fill="#8464b6"/><circle cx="262.2" cy="111.7" r="0.31" fill="#8464b6"/><circle cx="313.7" cy="114.3" r="0.43" fill="#6636a8"/><circle cx="278.6" cy="92.2" r="0.59" fill="#8464b6"/><circle cx="291.2" cy="77.7" r="0.59" fill="#8464b6"/><circle cx="287.9" cy="117.2" r="0.41" fill="#8464b6"/><circle cx="281.1" cy="115.8" r="0.44" fill="#8464b6"/><circle cx="299.6" cy="101.2" r="0.52" fill="#8464b6"/><circle cx="289.7" cy="113.5" r="0.59" fill="#6636a8"/><circle cx="290.8" cy="121.9" r="0.54" fill="#6636a8"/><circle cx="261.2" cy="115.9" r="0.45" fill="#8464b6"/><circle cx="303.0" cy="100.4" r="0.42" fill="#8464b6"/><circle cx="301.4" cy="129.8" r="0.42" fill="#6636a8"/><circle cx="280.6" cy="82.9" r="0.48" fill="#8464b6"/><circle cx="260.2" cy="90.0" r="0.58" fill="#6636a8"/><circle cx="269.5" cy="130.2" r="0.57" fill="#8464b6"/><circle cx="307.2" cy="114.3" r="0.48" fill="#6636a8"/><circle cx="271.1" cy="125.8" r="0.44" fill="#6636a8"/><circle cx="283.7" cy="110.4" r="0.59" fill="#6636a8"/><circle cx="267.2" cy="124.7" r="0.48" fill="#6636a8"/><circle cx="306.4" cy="111.2" r="0.42" fill="#6636a8"/><circle cx="274.8" cy="86.8" r="0.58" fill="#8464b6"/><circle cx="290.8" cy="123.5" r="0.51" fill="#6636a8"/><circle cx="264.3" cy="87.1" r="0.30" fill="#8464b6"/><circle cx="310.2" cy="99.2" r="0.54" fill="#8464b6"/><circle cx="256.4" cy="108.6" r="0.54" fill="#8464b6"/><circle cx="290.1" cy="103.4" r="0.36" fill="#6636a8"/><circle cx="259.8" cy="111.2" r="0.31" fill="#6636a8"/><circle cx="301.4" cy="85.2" r="0.49" fill="#8464b6"/><circle cx="292.7" cy="127.0" r="0.31" fill="#6636a8"/><circle cx="258.4" cy="122.5" r="0.59" fill="#8464b6"/><circle cx="290.7" cy="97.1" r="0.36" fill="#8464b6"/><circle cx="292.3" cy="119.2" r="0.34" fill="#8464b6"/><circle cx="282.3" cy="93.7" r="0.59" fill="#6636a8"/><circle cx="274.2" cy="126.8" r="0.47" fill="#8464b6"/><circle cx="285.8" cy="81.4" r="0.53" fill="#6636a8"/><circle cx="273.1" cy="81.4" r="0.42" fill="#8464b6"/><circle cx="304.6" cy="96.1" r="0.40" fill="#6636a8"/><circle cx="293.6" cy="107.9" r="0.41" fill="#6636a8"/><circle cx="300.3" cy="89.4" r="0.57" fill="#6636a8"/><circle cx="304.6" cy="119.2" r="0.49" fill="#8464b6"/><circle cx="285.8" cy="94.8" r="0.44" fill="#6636a8"/><circle cx="258.6" cy="89.9" r="0.47" fill="#8464b6"/><circle cx="268.3" cy="109.3" r="0.34" fill="#8464b6"/><circle cx="262.7" cy="85.1" r="0.43" fill="#6636a8"/><circle cx="278.6" cy="117.4" r="0.30" fill="#8464b6"/><circle cx="275.9" cy="94.8" r="0.38" fill="#6636a8"/><circle cx="266.6" cy="107.0" r="0.42" fill="#6636a8"/><circle cx="305.1" cy="122.0" r="0.54" fill="#6636a8"/><circle cx="288.3" cy="107.6" r="0.32" fill="#6636a8"/><circle cx="281.0" cy="81.4" r="0.44" fill="#8464b6"/><circle cx="261.9" cy="89.1" r="0.60" fill="#6636a8"/><circle cx="294.3" cy="82.0" r="0.45" fill="#8464b6"/><circle cx="254.7" cy="94.8" r="0.46" fill="#6636a8"/><circle cx="301.9" cy="129.8" r="0.55" fill="#8464b6"/><circle cx="262.5" cy="87.3" r="0.57" fill="#6636a8"/><circle cx="301.4" cy="87.7" r="0.59" fill="#8464b6"/><circle cx="282.8" cy="102.2" r="0.59" fill="#6636a8"/><circle cx="287.4" cy="110.6" r="0.43" fill="#6636a8"/><circle cx="276.1" cy="116.9" r="0.39" fill="#8464b6"/><circle cx="262.9" cy="123.4" r="0.59" fill="#8464b6"/><circle cx="253.2" cy="98.0" r="0.53" fill="#6636a8"/><circle cx="291.9" cy="133.6" r="0.55" fill="#8464b6"/><circle cx="253.0" cy="111.2" r="0.33" fill="#8464b6"/><circle cx="294.3" cy="115.4" r="0.57" fill="#8464b6"/><circle cx="288.3" cy="106.5" r="0.37" fill="#6636a8"/><circle cx="265.6" cy="116.1" r="0.57" fill="#6636a8"/><circle cx="312.3" cy="111.0" r="0.51" fill="#8464b6"/><circle cx="264.9" cy="83.9" r="0.33" fill="#6636a8"/><circle cx="295.9" cy="80.5" r="0.50" fill="#6636a8"/><circle cx="271.5" cy="81.4" r="0.48" fill="#6636a8"/><circle cx="312.8" cy="113.4" r="0.49" fill="#6636a8"/><circle cx="285.8" cy="114.8" r="0.34" fill="#6636a8"/><circle cx="290.3" cy="104.8" r="0.41" fill="#8464b6"/><circle cx="279.3" cy="88.0" r="0.34" fill="#8464b6"/><circle cx="282.9" cy="103.9" r="0.31" fill="#6636a8"/><circle cx="270.5" cy="123.4" r="0.36" fill="#8464b6"/><circle cx="259.0" cy="109.8" r="0.58" fill="#8464b6"/><circle cx="298.9" cy="86.4" r="0.55" fill="#6636a8"/><circle cx="297.0" cy="107.2" r="0.53" fill="#8464b6"/><circle cx="272.1" cy="82.8" r="0.30" fill="#6636a8"/><circle cx="281.5" cy="114.7" r="0.59" fill="#8464b6"/><circle cx="272.9" cy="80.3" r="0.53" fill="#8464b6"/><circle cx="262.5" cy="87.6" r="0.56" fill="#8464b6"/><circle cx="269.2" cy="113.4" r="0.48" fill="#6636a8"/><circle cx="306.0" cy="102.6" r="0.40" fill="#8464b6"/><circle cx="280.9" cy="101.8" r="0.51" fill="#8464b6"/><circle cx="303.0" cy="100.5" r="0.32" fill="#8464b6"/><circle cx="285.2" cy="100.2" r="0.52" fill="#8464b6"/><circle cx="262.3" cy="117.4" r="0.38" fill="#8464b6"/><circle cx="276.5" cy="102.0" r="0.34" fill="#8464b6"/><circle cx="268.0" cy="121.9" r="0.40" fill="#6636a8"/><circle cx="277.2" cy="130.8" r="0.36" fill="#6636a8"/><circle cx="265.5" cy="104.9" r="0.59" fill="#8464b6"/><circle cx="254.3" cy="100.5" r="0.46" fill="#8464b6"/><circle cx="258.1" cy="103.7" r="0.35" fill="#8464b6"/><circle cx="261.1" cy="108.7" r="0.40" fill="#8464b6"/><circle cx="290.5" cy="112.5" r="0.59" fill="#8464b6"/><circle cx="291.6" cy="80.0" r="0.59" fill="#8464b6"/><circle cx="287.6" cy="78.6" r="0.48" fill="#8464b6"/><circle cx="289.4" cy="101.0" r="0.37" fill="#6636a8"/><circle cx="303.1" cy="96.5" r="0.44" fill="#8464b6"/><circle cx="305.5" cy="121.0" r="0.42" fill="#6636a8"/><circle cx="290.6" cy="128.3" r="0.59" fill="#6636a8"/><circle cx="306.0" cy="89.4" r="0.58" fill="#6636a8"/><circle cx="258.9" cy="116.5" r="0.55" fill="#6636a8"/><circle cx="282.9" cy="109.0" r="0.47" fill="#8464b6"/><circle cx="289.1" cy="109.3" r="0.42" fill="#8464b6"/><circle cx="284.9" cy="82.4" r="0.50" fill="#6636a8"/><circle cx="278.0" cy="103.1" r="0.57" fill="#8464b6"/><circle cx="253.1" cy="105.8" r="0.57" fill="#6636a8"/><circle cx="290.9" cy="103.1" r="0.59" fill="#8464b6"/><circle cx="301.1" cy="99.8" r="0.54" fill="#6636a8"/><circle cx="275.6" cy="92.2" r="0.30" fill="#6636a8"/><circle cx="263.5" cy="123.1" r="0.51" fill="#8464b6"/><circle cx="289.0" cy="77.3" r="0.34" fill="#6636a8"/><circle cx="312.9" cy="116.4" r="0.32" fill="#6636a8"/><circle cx="261.0" cy="107.9" r="0.51" fill="#8464b6"/><circle cx="309.7" cy="101.6" r="0.45" fill="#6636a8"/><circle cx="295.1" cy="127.8" r="0.38" fill="#6636a8"/><circle cx="270.8" cy="89.1" r="0.32" fill="#6636a8"/><circle cx="273.5" cy="124.4" r="0.58" fill="#6636a8"/><circle cx="283.6" cy="107.8" r="0.56" fill="#6636a8"/><circle cx="271.0" cy="105.2" r="0.53" fill="#6636a8"/><circle cx="293.2" cy="105.5" r="0.46" fill="#6636a8"/><circle cx="307.5" cy="111.8" r="0.34" fill="#6636a8"/><circle cx="288.8" cy="77.8" r="0.50" fill="#8464b6"/><circle cx="288.8" cy="101.9" r="0.50" fill="#8464b6"/><circle cx="271.4" cy="112.1" r="0.30" fill="#8464b6"/><circle cx="297.9" cy="130.6" r="0.36" fill="#6636a8"/><circle cx="286.9" cy="96.6" r="0.53" fill="#8464b6"/><circle cx="272.4" cy="110.9" r="0.48" fill="#6636a8"/><circle cx="301.6" cy="86.0" r="0.44" fill="#6636a8"/><circle cx="268.8" cy="81.8" r="0.41" fill="#6636a8"/><circle cx="296.4" cy="125.0" r="0.34" fill="#8464b6"/><circle cx="275.0" cy="119.5" r="0.41" fill="#6636a8"/><circle cx="263.3" cy="121.3" r="0.55" fill="#6636a8"/><circle cx="286.4" cy="95.7" r="0.37" fill="#6636a8"/><circle cx="253.7" cy="105.9" r="0.60" fill="#8464b6"/><circle cx="253.9" cy="100.6" r="0.48" fill="#6636a8"/><circle cx="277.7" cy="105.5" r="0.52" fill="#6636a8"/><circle cx="281.3" cy="117.8" r="0.59" fill="#8464b6"/><circle cx="276.8" cy="126.1" r="0.48" fill="#8464b6"/><circle cx="296.7" cy="103.5" r="0.52" fill="#8464b6"/><circle cx="285.4" cy="84.9" r="0.36" fill="#6636a8"/><circle cx="278.4" cy="100.1" r="0.41" fill="#8464b6"/><circle cx="253.4" cy="100.8" r="0.39" fill="#6636a8"/><circle cx="310.6" cy="112.6" r="0.31" fill="#8464b6"/><circle cx="277.4" cy="80.0" r="0.46" fill="#8464b6"/><circle cx="267.1" cy="117.3" r="0.42" fill="#8464b6"/><circle cx="284.8" cy="77.9" r="0.41" fill="#6636a8"/><circle cx="289.4" cy="121.4" r="0.49" fill="#6636a8"/><circle cx="267.3" cy="123.8" r="0.46" fill="#6636a8"/><circle cx="282.2" cy="123.1" r="0.43" fill="#6636a8"/><circle cx="290.8" cy="93.8" r="0.39" fill="#6636a8"/><circle cx="281.8" cy="101.4" r="0.36" fill="#8464b6"/><circle cx="274.5" cy="113.7" r="0.34" fill="#6636a8"/><circle cx="284.9" cy="111.9" r="0.39" fill="#6636a8"/><circle cx="253.9" cy="97.0" r="0.44" fill="#6636a8"/><circle cx="307.8" cy="111.0" r="0.52" fill="#8464b6"/><circle cx="300.8" cy="87.1" r="0.32" fill="#8464b6"/><circle cx="254.1" cy="103.7" r="0.50" fill="#8464b6"/><circle cx="258.9" cy="92.3" r="0.46" fill="#6636a8"/><circle cx="258.6" cy="119.7" r="0.56" fill="#6636a8"/><circle cx="284.4" cy="124.6" r="0.38" fill="#6636a8"/><circle cx="271.2" cy="92.9" r="0.50" fill="#8464b6"/><circle cx="282.0" cy="86.9" r="0.47" fill="#6636a8"/><circle cx="284.9" cy="127.2" r="0.52" fill="#6636a8"/><circle cx="282.4" cy="105.9" r="0.46" fill="#8464b6"/><circle cx="299.1" cy="114.3" r="0.53" fill="#6636a8"/><circle cx="302.8" cy="85.0" r="0.37" fill="#8464b6"/><circle cx="283.3" cy="134.2" r="0.57" fill="#8464b6"/><circle cx="284.9" cy="98.8" r="0.56" fill="#6636a8"/><circle cx="258.9" cy="121.9" r="0.45" fill="#6636a8"/><circle cx="300.6" cy="103.2" r="0.58" fill="#6636a8"/><circle cx="279.8" cy="122.1" r="0.40" fill="#6636a8"/><circle cx="286.4" cy="109.6" r="0.60" fill="#8464b6"/><circle cx="296.8" cy="101.2" r="0.35" fill="#8464b6"/><circle cx="295.0" cy="94.3" r="0.32" fill="#8464b6"/><circle cx="281.4" cy="83.2" r="0.51" fill="#8464b6"/><circle cx="268.9" cy="82.3" r="0.57" fill="#8464b6"/><circle cx="308.9" cy="112.1" r="0.59" fill="#8464b6"/><circle cx="313.4" cy="101.0" r="0.44" fill="#8464b6"/><circle cx="295.5" cy="103.9" r="0.30" fill="#8464b6"/><circle cx="293.5" cy="90.5" r="0.57" fill="#6636a8"/><circle cx="312.1" cy="112.8" r="0.56" fill="#8464b6"/><circle cx="261.4" cy="110.8" r="0.56" fill="#8464b6"/><circle cx="306.7" cy="123.3" r="0.52" fill="#6636a8"/><circle cx="272.8" cy="98.3" r="0.56" fill="#8464b6"/><circle cx="296.2" cy="121.8" r="0.47" fill="#8464b6"/><circle cx="283.2" cy="102.9" r="0.36" fill="#8464b6"/><circle cx="286.0" cy="79.7" r="0.43" fill="#6636a8"/><circle cx="269.0" cy="87.6" r="0.50" fill="#8464b6"/><circle cx="264.2" cy="122.2" r="0.36" fill="#8464b6"/><circle cx="294.9" cy="122.9" r="0.46" fill="#8464b6"/><circle cx="298.0" cy="130.0" r="0.32" fill="#8464b6"/><circle cx="277.0" cy="114.3" r="0.36" fill="#6636a8"/><circle cx="277.9" cy="101.1" r="0.45" fill="#8464b6"/><circle cx="260.0" cy="107.9" r="0.59" fill="#8464b6"/><circle cx="275.4" cy="128.2" r="0.33" fill="#8464b6"/><circle cx="261.9" cy="92.0" r="0.48" fill="#6636a8"/><circle cx="282.6" cy="94.5" r="0.58" fill="#8464b6"/><circle cx="263.6" cy="126.8" r="0.38" fill="#8464b6"/><circle cx="269.6" cy="129.7" r="0.42" fill="#8464b6"/><circle cx="293.4" cy="122.5" r="0.49" fill="#8464b6"/><circle cx="262.4" cy="102.7" r="0.44" fill="#6636a8"/><circle cx="294.8" cy="81.5" r="0.31" fill="#8464b6"/><circle cx="278.7" cy="78.6" r="0.30" fill="#8464b6"/><circle cx="257.2" cy="104.4" r="0.42" fill="#8464b6"/><circle cx="269.3" cy="113.2" r="0.37" fill="#6636a8"/><circle cx="263.6" cy="123.9" r="0.38" fill="#6636a8"/><circle cx="314.2" cy="99.4" r="0.33" fill="#6636a8"/><circle cx="265.6" cy="125.4" r="0.55" fill="#6636a8"/><circle cx="254.5" cy="110.3" r="0.56" fill="#6636a8"/><circle cx="260.1" cy="125.0" r="0.32" fill="#8464b6"/><circle cx="253.0" cy="101.9" r="0.46" fill="#8464b6"/><circle cx="263.2" cy="127.7" r="0.48" fill="#8464b6"/><circle cx="259.5" cy="92.8" r="0.42" fill="#6636a8"/><circle cx="307.9" cy="95.2" r="0.49" fill="#6636a8"/><circle cx="310.8" cy="116.9" r="0.38" fill="#8464b6"/><circle cx="281.7" cy="131.6" r="0.56" fill="#8464b6"/><circle cx="297.0" cy="132.7" r="0.38" fill="#6636a8"/><circle cx="277.6" cy="76.8" r="0.43" fill="#6636a8"/><circle cx="300.1" cy="126.9" r="0.41" fill="#8464b6"/><circle cx="293.7" cy="131.5" r="0.48" fill="#6636a8"/><circle cx="305.2" cy="90.3" r="0.55" fill="#8464b6"/><circle cx="285.4" cy="114.7" r="0.59" fill="#8464b6"/><circle cx="278.9" cy="135.1" r="0.31" fill="#8464b6"/><circle cx="279.0" cy="102.9" r="0.41" fill="#8464b6"/><circle cx="303.3" cy="111.9" r="0.58" fill="#6636a8"/><circle cx="296.0" cy="89.2" r="0.55" fill="#8464b6"/><circle cx="264.0" cy="110.5" r="0.47" fill="#6636a8"/><circle cx="291.5" cy="97.4" r="0.54" fill="#6636a8"/><circle cx="268.8" cy="126.8" r="0.56" fill="#8464b6"/><circle cx="294.8" cy="121.3" r="0.53" fill="#8464b6"/><circle cx="285.8" cy="127.6" r="0.50" fill="#6636a8"/><circle cx="301.8" cy="123.8" r="0.56" fill="#8464b6"/><circle cx="263.4" cy="104.1" r="0.52" fill="#6636a8"/><circle cx="267.6" cy="82.9" r="0.35" fill="#8464b6"/><circle cx="301.3" cy="119.0" r="0.48" fill="#6636a8"/><circle cx="291.6" cy="90.3" r="0.47" fill="#6636a8"/><circle cx="294.5" cy="126.5" r="0.47" fill="#8464b6"/><circle cx="304.5" cy="87.1" r="0.52" fill="#8464b6"/><circle cx="298.0" cy="116.3" r="0.53" fill="#8464b6"/><circle cx="266.6" cy="98.5" r="0.32" fill="#6636a8"/><circle cx="281.5" cy="102.0" r="0.57" fill="#6636a8"/><circle cx="305.6" cy="86.8" r="0.51" fill="#8464b6"/><circle cx="284.7" cy="90.5" r="0.59" fill="#6636a8"/><circle cx="288.1" cy="95.3" r="0.57" fill="#8464b6"/><circle cx="261.1" cy="123.6" r="0.40" fill="#8464b6"/><circle cx="267.7" cy="87.4" r="0.47" fill="#6636a8"/><circle cx="298.6" cy="83.7" r="0.38" fill="#8464b6"/><circle cx="311.8" cy="97.7" r="0.44" fill="#8464b6"/><circle cx="288.4" cy="109.0" r="0.44" fill="#8464b6"/><circle cx="252.3" cy="103.0" r="0.34" fill="#8464b6"/><circle cx="268.2" cy="131.0" r="0.39" fill="#8464b6"/><circle cx="269.8" cy="121.1" r="0.44" fill="#6636a8"/><circle cx="258.5" cy="106.7" r="0.33" fill="#6636a8"/><circle cx="273.0" cy="108.9" r="0.38" fill="#6636a8"/><circle cx="294.0" cy="83.0" r="0.57" fill="#6636a8"/><circle cx="281.0" cy="114.4" r="0.48" fill="#8464b6"/><circle cx="256.2" cy="92.9" r="0.41" fill="#8464b6"/><circle cx="281.5" cy="109.8" r="0.32" fill="#8464b6"/><circle cx="305.4" cy="87.4" r="0.55" fill="#8464b6"/><circle cx="260.3" cy="104.8" r="0.30" fill="#8464b6"/><circle cx="302.1" cy="109.7" r="0.42" fill="#8464b6"/><circle cx="309.1" cy="102.0" r="0.58" fill="#8464b6"/><circle cx="275.9" cy="114.9" r="0.58" fill="#8464b6"/><circle cx="260.0" cy="121.4" r="0.44" fill="#8464b6"/><circle cx="257.1" cy="93.3" r="0.49" fill="#6636a8"/><circle cx="293.7" cy="81.6" r="0.60" fill="#6636a8"/><circle cx="271.6" cy="81.9" r="0.40" fill="#6636a8"/><circle cx="305.6" cy="104.2" r="0.51" fill="#6636a8"/><circle cx="274.0" cy="119.5" r="0.44" fill="#6636a8"/><circle cx="282.6" cy="128.0" r="0.47" fill="#8464b6"/><circle cx="257.1" cy="118.5" r="0.31" fill="#6636a8"/><circle cx="281.7" cy="129.9" r="0.52" fill="#8464b6"/><circle cx="314.0" cy="113.1" r="0.36" fill="#6636a8"/><circle cx="303.7" cy="113.4" r="0.34" fill="#6636a8"/><circle cx="305.6" cy="109.3" r="0.30" fill="#6636a8"/><circle cx="276.4" cy="130.9" r="0.43" fill="#8464b6"/><circle cx="294.7" cy="100.8" r="0.34" fill="#8464b6"/><circle cx="279.0" cy="102.1" r="0.48" fill="#6636a8"/><circle cx="288.7" cy="119.2" r="0.48" fill="#8464b6"/><circle cx="278.1" cy="89.1" r="0.54" fill="#6636a8"/><circle cx="276.0" cy="81.7" r="0.60" fill="#6636a8"/><circle cx="283.5" cy="103.0" r="0.33" fill="#6636a8"/><circle cx="259.1" cy="112.5" r="0.55" fill="#8464b6"/><circle cx="302.1" cy="99.9" r="0.55" fill="#8464b6"/><circle cx="287.3" cy="110.8" r="0.45" fill="#8464b6"/><circle cx="266.6" cy="95.1" r="0.30" fill="#6636a8"/><circle cx="257.7" cy="119.2" r="0.52" fill="#8464b6"/><circle cx="291.0" cy="129.7" r="0.59" fill="#8464b6"/><circle cx="277.8" cy="93.5" r="0.39" fill="#6636a8"/><circle cx="254.1" cy="105.2" r="0.31" fill="#6636a8"/><circle cx="291.3" cy="132.7" r="0.55" fill="#8464b6"/><circle cx="284.5" cy="106.6" r="0.54" fill="#6636a8"/><circle cx="265.4" cy="110.3" r="0.41" fill="#6636a8"/><circle cx="279.7" cy="80.7" r="0.32" fill="#6636a8"/><circle cx="280.0" cy="92.3" r="0.32" fill="#6636a8"/><circle cx="273.9" cy="105.2" r="0.58" fill="#6636a8"/><circle cx="296.3" cy="108.1" r="0.31" fill="#6636a8"/><circle cx="280.9" cy="98.4" r="0.38" fill="#8464b6"/><circle cx="253.5" cy="105.0" r="0.60" fill="#6636a8"/><circle cx="269.0" cy="80.6" r="0.39" fill="#6636a8"/><circle cx="301.2" cy="85.8" r="0.42" fill="#8464b6"/><circle cx="313.6" cy="107.2" r="0.54" fill="#6636a8"/><circle cx="265.6" cy="108.5" r="0.48" fill="#6636a8"/><circle cx="275.9" cy="105.2" r="0.60" fill="#6636a8"/><circle cx="281.9" cy="76.3" r="0.45" fill="#8464b6"/><circle cx="309.7" cy="117.5" r="0.36" fill="#8464b6"/><circle cx="253.3" cy="114.3" r="0.57" fill="#8464b6"/><circle cx="304.2" cy="127.3" r="0.33" fill="#8464b6"/><circle cx="256.9" cy="92.9" r="0.44" fill="#6636a8"/><circle cx="283.4" cy="118.2" r="0.46" fill="#6636a8"/><circle cx="263.0" cy="96.1" r="0.38" fill="#8464b6"/><circle cx="299.1" cy="95.1" r="0.45" fill="#8464b6"/><circle cx="275.9" cy="120.9" r="0.41" fill="#8464b6"/><circle cx="292.2" cy="82.5" r="0.33" fill="#6636a8"/><circle cx="261.7" cy="85.3" r="0.48" fill="#8464b6"/><circle cx="302.8" cy="115.5" r="0.46" fill="#8464b6"/><circle cx="271.5" cy="131.3" r="0.42" fill="#6636a8"/><circle cx="274.1" cy="118.4" r="0.32" fill="#8464b6"/><circle cx="255.8" cy="101.5" r="0.55" fill="#8464b6"/><circle cx="280.4" cy="101.8" r="0.33" fill="#8464b6"/><circle cx="310.0" cy="102.0" r="0.51" fill="#8464b6"/><circle cx="297.1" cy="110.6" r="0.43" fill="#6636a8"/><circle cx="290.3" cy="90.4" r="0.53" fill="#8464b6"/><circle cx="271.1" cy="115.5" r="0.54" fill="#8464b6"/><circle cx="306.4" cy="125.5" r="0.38" fill="#6636a8"/><circle cx="267.4" cy="80.5" r="0.40" fill="#8464b6"/><circle cx="273.2" cy="89.0" r="0.45" fill="#6636a8"/><circle cx="286.4" cy="135.0" r="0.43" fill="#8464b6"/><circle cx="276.9" cy="124.1" r="0.52" fill="#6636a8"/><circle cx="295.2" cy="117.6" r="0.55" fill="#8464b6"/><circle cx="252.0" cy="105.5" r="0.41" fill="#8464b6"/><circle cx="260.2" cy="122.1" r="0.54" fill="#8464b6"/><circle cx="288.2" cy="118.9" r="0.47" fill="#8464b6"/><circle cx="272.4" cy="103.0" r="0.44" fill="#8464b6"/><circle cx="283.0" cy="112.7" r="0.35" fill="#8464b6"/><circle cx="298.9" cy="123.1" r="0.51" fill="#8464b6"/><circle cx="272.3" cy="125.0" r="0.44" fill="#6636a8"/><circle cx="297.6" cy="110.6" r="0.56" fill="#8464b6"/><circle cx="297.8" cy="80.7" r="0.48" fill="#6636a8"/><circle cx="307.7" cy="105.5" r="0.38" fill="#6636a8"/><circle cx="289.6" cy="77.3" r="0.42" fill="#6636a8"/><circle cx="288.0" cy="94.5" r="0.38" fill="#8464b6"/><circle cx="287.0" cy="82.7" r="0.44" fill="#8464b6"/><circle cx="297.3" cy="111.1" r="0.44" fill="#8464b6"/><circle cx="276.2" cy="87.6" r="0.50" fill="#6636a8"/><circle cx="285.7" cy="80.1" r="0.57" fill="#6636a8"/><circle cx="296.8" cy="82.6" r="0.31" fill="#6636a8"/><circle cx="278.4" cy="118.4" r="0.38" fill="#8464b6"/><circle cx="280.7" cy="111.8" r="0.43" fill="#6636a8"/><circle cx="295.6" cy="112.1" r="0.52" fill="#6636a8"/><circle cx="297.6" cy="81.4" r="0.49" fill="#6636a8"/><circle cx="255.8" cy="108.1" r="0.54" fill="#6636a8"/><circle cx="311.2" cy="97.2" r="0.32" fill="#8464b6"/><circle cx="254.8" cy="103.2" r="0.41" fill="#6636a8"/><circle cx="257.8" cy="93.1" r="0.33" fill="#6636a8"/><circle cx="277.6" cy="82.1" r="0.53" fill="#8464b6"/><circle cx="297.3" cy="120.1" r="0.31" fill="#8464b6"/><circle cx="297.4" cy="131.4" r="0.52" fill="#6636a8"/><circle cx="276.0" cy="134.3" r="0.32" fill="#8464b6"/><circle cx="276.8" cy="109.8" r="0.56" fill="#8464b6"/><circle cx="258.7" cy="87.8" r="0.39" fill="#8464b6"/><circle cx="256.9" cy="105.9" r="0.44" fill="#8464b6"/><circle cx="253.4" cy="98.3" r="0.58" fill="#6636a8"/><circle cx="314.9" cy="104.0" r="0.46" fill="#8464b6"/><circle cx="271.7" cy="78.3" r="0.57" fill="#8464b6"/><circle cx="293.5" cy="101.6" r="0.32" fill="#6636a8"/><circle cx="267.4" cy="130.8" r="0.59" fill="#6636a8"/><circle cx="293.6" cy="82.7" r="0.52" fill="#8464b6"/><circle cx="293.6" cy="125.9" r="0.52" fill="#8464b6"/><circle cx="255.1" cy="115.7" r="0.54" fill="#8464b6"/><circle cx="271.9" cy="104.2" r="0.34" fill="#6636a8"/><circle cx="274.3" cy="104.4" r="0.31" fill="#6636a8"/><circle cx="283.5" cy="99.6" r="0.31" fill="#8464b6"/><circle cx="256.2" cy="98.2" r="0.32" fill="#8464b6"/><circle cx="272.4" cy="96.6" r="0.34" fill="#6636a8"/><circle cx="274.6" cy="79.7" r="0.50" fill="#6636a8"/><circle cx="299.2" cy="111.1" r="0.46" fill="#8464b6"/><circle cx="255.7" cy="116.0" r="0.50" fill="#6636a8"/><circle cx="291.7" cy="117.0" r="0.39" fill="#6636a8"/><circle cx="281.8" cy="130.4" r="0.42" fill="#8464b6"/><circle cx="311.1" cy="103.0" r="0.50" fill="#8464b6"/><circle cx="273.3" cy="125.4" r="0.52" fill="#8464b6"/><circle cx="258.9" cy="116.4" r="0.35" fill="#6636a8"/><circle cx="303.3" cy="97.5" r="0.39" fill="#8464b6"/><circle cx="311.4" cy="94.9" r="0.39" fill="#6636a8"/><circle cx="304.6" cy="84.9" r="0.46" fill="#8464b6"/><circle cx="303.9" cy="120.1" r="0.40" fill="#6636a8"/><circle cx="302.2" cy="122.6" r="0.51" fill="#8464b6"/><circle cx="269.0" cy="102.9" r="0.51" fill="#6636a8"/><circle cx="296.4" cy="118.4" r="0.60" fill="#6636a8"/><circle cx="258.3" cy="122.6" r="0.40" fill="#8464b6"/><circle cx="292.8" cy="79.8" r="0.57" fill="#6636a8"/><circle cx="277.2" cy="102.5" r="0.39" fill="#6636a8"/><circle cx="292.9" cy="85.1" r="0.44" fill="#6636a8"/><circle cx="309.5" cy="94.4" r="0.30" fill="#8464b6"/><circle cx="277.2" cy="78.0" r="0.42" fill="#8464b6"/><circle cx="270.4" cy="126.1" r="0.46" fill="#8464b6"/><circle cx="284.8" cy="118.5" r="0.46" fill="#8464b6"/><circle cx="300.0" cy="106.2" r="0.38" fill="#6636a8"/><circle cx="297.7" cy="130.0" r="0.50" fill="#8464b6"/><circle cx="290.8" cy="80.7" r="0.36" fill="#8464b6"/><circle cx="307.6" cy="91.5" r="0.40" fill="#8464b6"/><circle cx="288.6" cy="135.3" r="0.59" fill="#8464b6"/><circle cx="255.8" cy="109.4" r="0.59" fill="#8464b6"/><circle cx="288.4" cy="109.9" r="0.44" fill="#6636a8"/><circle cx="279.3" cy="82.1" r="0.36" fill="#8464b6"/><circle cx="284.5" cy="109.2" r="0.56" fill="#8464b6"/><circle cx="266.6" cy="122.5" r="0.51" fill="#8464b6"/><circle cx="267.8" cy="107.4" r="0.53" fill="#8464b6"/><circle cx="269.7" cy="97.5" r="0.59" fill="#6636a8"/><circle cx="275.1" cy="107.1" r="0.50" fill="#6636a8"/><circle cx="278.1" cy="77.0" r="0.52" fill="#8464b6"/><circle cx="268.0" cy="87.4" r="0.51" fill="#8464b6"/><circle cx="301.4" cy="86.6" r="0.41" fill="#6636a8"/><circle cx="292.1" cy="116.1" r="0.53" fill="#6636a8"/><circle cx="280.2" cy="134.1" r="0.46" fill="#6636a8"/><circle cx="262.1" cy="88.3" r="0.50" fill="#6636a8"/><circle cx="281.6" cy="105.4" r="0.52" fill="#8464b6"/><circle cx="276.3" cy="103.3" r="0.50" fill="#8464b6"/><circle cx="282.3" cy="110.3" r="0.35" fill="#6636a8"/><circle cx="273.1" cy="80.8" r="0.37" fill="#6636a8"/><circle cx="272.2" cy="119.7" r="0.58" fill="#6636a8"/><circle cx="266.4" cy="111.3" r="0.32" fill="#6636a8"/><circle cx="268.2" cy="83.6" r="0.33" fill="#6636a8"/><circle cx="276.9" cy="97.3" r="0.39" fill="#6636a8"/><circle cx="289.7" cy="126.9" r="0.50" fill="#6636a8"/><circle cx="292.5" cy="79.9" r="0.52" fill="#8464b6"/><circle cx="286.9" cy="110.4" r="0.39" fill="#6636a8"/><circle cx="263.0" cy="100.0" r="0.42" fill="#6636a8"/><circle cx="275.3" cy="88.1" r="0.46" fill="#8464b6"/><circle cx="291.0" cy="77.0" r="0.56" fill="#8464b6"/><circle cx="287.7" cy="103.9" r="0.58" fill="#6636a8"/><circle cx="283.1" cy="103.6" r="0.32" fill="#8464b6"/><circle cx="298.3" cy="128.8" r="0.41" fill="#6636a8"/><circle cx="263.6" cy="116.4" r="0.52" fill="#6636a8"/><circle cx="296.5" cy="86.3" r="0.39" fill="#6636a8"/><circle cx="297.0" cy="95.7" r="0.58" fill="#8464b6"/><circle cx="306.9" cy="107.4" r="0.56" fill="#8464b6"/><circle cx="279.4" cy="114.1" r="0.34" fill="#8464b6"/><circle cx="278.2" cy="108.8" r="0.31" fill="#6636a8"/><circle cx="262.6" cy="96.8" r="0.56" fill="#8464b6"/><circle cx="264.5" cy="129.6" r="0.59" fill="#8464b6"/><circle cx="264.0" cy="129.5" r="0.49" fill="#6636a8"/><circle cx="273.5" cy="96.8" r="0.34" fill="#6636a8"/><circle cx="312.7" cy="100.9" r="0.38" fill="#8464b6"/><circle cx="256.5" cy="91.3" r="0.46" fill="#6636a8"/><circle cx="295.7" cy="132.7" r="0.48" fill="#8464b6"/><circle cx="292.7" cy="95.2" r="0.52" fill="#6636a8"/><circle cx="296.8" cy="131.6" r="0.38" fill="#6636a8"/><circle cx="291.1" cy="107.2" r="0.37" fill="#6636a8"/><circle cx="274.9" cy="117.6" r="0.31" fill="#6636a8"/><circle cx="289.8" cy="114.1" r="0.50" fill="#6636a8"/><circle cx="290.5" cy="107.0" r="0.34" fill="#6636a8"/><circle cx="274.9" cy="87.0" r="0.55" fill="#8464b6"/><circle cx="302.8" cy="118.8" r="0.39" fill="#6636a8"/><circle cx="258.8" cy="111.1" r="0.31" fill="#8464b6"/><circle cx="293.5" cy="109.1" r="0.36" fill="#8464b6"/><circle cx="263.8" cy="105.7" r="0.37" fill="#8464b6"/><circle cx="310.8" cy="117.8" r="0.34" fill="#6636a8"/><circle cx="257.8" cy="98.2" r="0.44" fill="#8464b6"/><circle cx="281.3" cy="99.9" r="0.43" fill="#8464b6"/><circle cx="299.5" cy="119.5" r="0.52" fill="#8464b6"/><circle cx="290.7" cy="111.7" r="0.38" fill="#6636a8"/><circle cx="280.4" cy="79.6" r="0.52" fill="#8464b6"/><circle cx="259.8" cy="108.0" r="0.53" fill="#6636a8"/><circle cx="269.0" cy="103.3" r="0.46" fill="#8464b6"/><circle cx="308.6" cy="123.3" r="0.47" fill="#8464b6"/><circle cx="258.1" cy="100.7" r="0.57" fill="#6636a8"/><circle cx="270.6" cy="83.0" r="0.46" fill="#8464b6"/><circle cx="264.3" cy="110.4" r="0.37" fill="#6636a8"/><circle cx="282.4" cy="80.6" r="0.52" fill="#6636a8"/><circle cx="256.7" cy="91.4" r="0.37" fill="#6636a8"/><circle cx="296.0" cy="127.0" r="0.44" fill="#6636a8"/><circle cx="268.5" cy="80.7" r="0.58" fill="#6636a8"/><circle cx="298.6" cy="84.7" r="0.43" fill="#6636a8"/><circle cx="287.8" cy="84.7" r="0.42" fill="#6636a8"/><circle cx="290.0" cy="95.3" r="0.35" fill="#8464b6"/><circle cx="276.0" cy="80.4" r="0.58" fill="#6636a8"/><circle cx="259.0" cy="106.9" r="0.51" fill="#8464b6"/><circle cx="283.2" cy="121.5" r="0.53" fill="#6636a8"/><circle cx="296.6" cy="105.4" r="0.31" fill="#8464b6"/><circle cx="253.1" cy="112.5" r="0.42" fill="#8464b6"/><circle cx="277.0" cy="110.8" r="0.31" fill="#8464b6"/><circle cx="278.8" cy="108.4" r="0.59" fill="#6636a8"/><circle cx="270.1" cy="129.2" r="0.52" fill="#6636a8"/><circle cx="308.0" cy="124.3" r="0.56" fill="#8464b6"/><circle cx="297.8" cy="94.0" r="0.60" fill="#8464b6"/><circle cx="262.7" cy="90.3" r="0.38" fill="#6636a8"/><circle cx="268.2" cy="95.2" r="0.48" fill="#8464b6"/><circle cx="311.3" cy="105.0" r="0.49" fill="#6636a8"/><circle cx="265.8" cy="81.6" r="0.41" fill="#6636a8"/><circle cx="306.3" cy="104.1" r="0.35" fill="#6636a8"/><circle cx="284.6" cy="79.2" r="0.42" fill="#8464b6"/><circle cx="268.7" cy="127.8" r="0.56" fill="#8464b6"/><circle cx="305.5" cy="109.8" r="0.55" fill="#8464b6"/><circle cx="313.6" cy="102.9" r="0.47" fill="#8464b6"/><circle cx="283.7" cy="77.9" r="0.50" fill="#8464b6"/><circle cx="279.5" cy="104.4" r="0.57" fill="#8464b6"/><circle cx="269.4" cy="90.1" r="0.43" fill="#6636a8"/><circle cx="263.1" cy="85.3" r="0.38" fill="#8464b6"/><circle cx="258.2" cy="123.1" r="0.48" fill="#6636a8"/><circle cx="257.3" cy="105.9" r="0.59" fill="#6636a8"/><circle cx="265.7" cy="123.0" r="0.50" fill="#6636a8"/><circle cx="256.4" cy="104.9" r="0.55" fill="#8464b6"/><circle cx="307.7" cy="95.9" r="0.31" fill="#6636a8"/><circle cx="291.2" cy="87.6" r="0.37" fill="#8464b6"/><circle cx="313.2" cy="107.0" r="0.43" fill="#8464b6"/><circle cx="276.7" cy="123.5" r="0.36" fill="#6636a8"/><circle cx="285.3" cy="134.7" r="0.54" fill="#8464b6"/><circle cx="271.2" cy="99.1" r="0.56" fill="#6636a8"/><circle cx="285.8" cy="100.4" r="0.38" fill="#6636a8"/><circle cx="303.7" cy="128.5" r="0.44" fill="#6636a8"/><circle cx="291.9" cy="133.4" r="0.44" fill="#6636a8"/><circle cx="299.8" cy="87.9" r="0.39" fill="#6636a8"/><circle cx="279.2" cy="80.8" r="0.60" fill="#6636a8"/><circle cx="272.6" cy="110.3" r="0.37" fill="#8464b6"/><circle cx="255.6" cy="116.9" r="0.39" fill="#8464b6"/><circle cx="292.7" cy="114.7" r="0.41" fill="#8464b6"/><circle cx="283.1" cy="95.8" r="0.54" fill="#6636a8"/><circle cx="274.6" cy="104.7" r="0.31" fill="#8464b6"/><circle cx="304.5" cy="122.0" r="0.30" fill="#8464b6"/><circle cx="293.3" cy="133.9" r="0.40" fill="#8464b6"/><circle cx="288.1" cy="101.3" r="0.34" fill="#8464b6"/><circle cx="287.4" cy="90.2" r="0.55" fill="#8464b6"/><circle cx="306.1" cy="103.2" r="0.60" fill="#6636a8"/><circle cx="307.2" cy="124.3" r="0.37" fill="#6636a8"/><circle cx="306.7" cy="115.5" r="0.39" fill="#8464b6"/><circle cx="258.3" cy="93.1" r="0.54" fill="#8464b6"/><circle cx="287.7" cy="78.5" r="0.44" fill="#6636a8"/><circle cx="285.2" cy="135.0" r="0.56" fill="#8464b6"/><circle cx="286.0" cy="97.3" r="0.42" fill="#8464b6"/><circle cx="277.2" cy="104.7" r="0.33" fill="#6636a8"/><circle cx="273.3" cy="81.8" r="0.30" fill="#8464b6"/><circle cx="268.9" cy="113.8" r="0.52" fill="#8464b6"/><circle cx="300.6" cy="107.3" r="0.33" fill="#6636a8"/><circle cx="259.5" cy="99.5" r="0.54" fill="#8464b6"/><circle cx="287.0" cy="101.6" r="0.52" fill="#8464b6"/><circle cx="271.7" cy="94.8" r="0.39" fill="#8464b6"/><circle cx="284.6" cy="80.1" r="0.60" fill="#8464b6"/><circle cx="285.7" cy="76.5" r="0.48" fill="#8464b6"/><circle cx="260.2" cy="94.7" r="0.36" fill="#8464b6"/><circle cx="261.2" cy="111.6" r="0.39" fill="#8464b6"/><circle cx="296.2" cy="108.8" r="0.35" fill="#8464b6"/><circle cx="300.7" cy="107.1" r="0.48" fill="#8464b6"/><circle cx="277.0" cy="109.1" r="0.37" fill="#8464b6"/><circle cx="288.8" cy="86.0" r="0.32" fill="#6636a8"/><circle cx="284.1" cy="81.4" r="0.54" fill="#8464b6"/><circle cx="255.4" cy="98.5" r="0.59" fill="#8464b6"/><circle cx="292.5" cy="91.5" r="0.50" fill="#8464b6"/><circle cx="289.2" cy="132.7" r="0.49" fill="#8464b6"/><circle cx="283.5" cy="118.2" r="0.39" fill="#8464b6"/><circle cx="283.9" cy="89.5" r="0.54" fill="#6636a8"/><circle cx="289.8" cy="102.7" r="0.31" fill="#8464b6"/><circle cx="273.6" cy="113.9" r="0.43" fill="#6636a8"/><circle cx="256.6" cy="90.8" r="0.36" fill="#6636a8"/><circle cx="260.1" cy="88.4" r="0.46" fill="#8464b6"/><circle cx="294.2" cy="80.0" r="0.55" fill="#8464b6"/><circle cx="262.1" cy="85.2" r="0.55" fill="#6636a8"/><circle cx="269.4" cy="130.0" r="0.46" fill="#6636a8"/><circle cx="264.2" cy="118.9" r="0.48" fill="#6636a8"/><circle cx="310.3" cy="105.6" r="0.59" fill="#6636a8"/><circle cx="260.7" cy="124.1" r="0.59" fill="#6636a8"/><circle cx="266.4" cy="93.4" r="0.56" fill="#6636a8"/><circle cx="270.1" cy="132.6" r="0.53" fill="#6636a8"/><circle cx="293.4" cy="79.2" r="0.38" fill="#6636a8"/><circle cx="297.8" cy="120.4" r="0.58" fill="#8464b6"/><circle cx="277.7" cy="83.5" r="0.53" fill="#8464b6"/><circle cx="271.7" cy="99.5" r="0.58" fill="#6636a8"/><circle cx="267.5" cy="114.3" r="0.38" fill="#6636a8"/><circle cx="286.5" cy="90.9" r="0.38" fill="#8464b6"/><circle cx="275.4" cy="130.4" r="0.49" fill="#8464b6"/><circle cx="264.3" cy="83.5" r="0.56" fill="#8464b6"/><circle cx="263.3" cy="101.1" r="0.55" fill="#8464b6"/><circle cx="310.4" cy="115.2" r="0.51" fill="#6636a8"/><circle cx="308.5" cy="93.7" r="0.46" fill="#8464b6"/><circle cx="268.0" cy="103.4" r="0.48" fill="#8464b6"/><circle cx="258.6" cy="102.4" r="0.49" fill="#6636a8"/><circle cx="268.0" cy="83.9" r="0.50" fill="#6636a8"/><circle cx="307.6" cy="106.4" r="0.57" fill="#6636a8"/><circle cx="272.4" cy="127.4" r="0.55" fill="#6636a8"/><circle cx="264.8" cy="110.8" r="0.30" fill="#8464b6"/><circle cx="292.3" cy="107.2" r="0.60" fill="#6636a8"/><circle cx="295.5" cy="85.5" r="0.31" fill="#8464b6"/><circle cx="265.2" cy="105.4" r="0.36" fill="#6636a8"/><circle cx="265.0" cy="129.7" r="0.34" fill="#6636a8"/><circle cx="297.8" cy="109.2" r="0.59" fill="#8464b6"/><circle cx="265.2" cy="126.2" r="0.49" fill="#8464b6"/><circle cx="278.8" cy="131.9" r="0.44" fill="#6636a8"/><circle cx="304.3" cy="96.2" r="0.52" fill="#6636a8"/><circle cx="305.8" cy="123.7" r="0.55" fill="#6636a8"/><circle cx="312.4" cy="94.2" r="0.42" fill="#6636a8"/><circle cx="281.5" cy="105.9" r="0.35" fill="#8464b6"/><circle cx="273.2" cy="107.6" r="0.51" fill="#6636a8"/><circle cx="285.0" cy="104.0" r="0.45" fill="#8464b6"/><circle cx="276.0" cy="88.4" r="0.35" fill="#8464b6"/><circle cx="254.8" cy="110.9" r="0.57" fill="#6636a8"/><circle cx="278.5" cy="123.2" r="0.34" fill="#8464b6"/><circle cx="296.2" cy="122.1" r="0.48" fill="#6636a8"/><circle cx="295.8" cy="99.4" r="0.44" fill="#8464b6"/><circle cx="309.2" cy="120.4" r="0.39" fill="#8464b6"/><circle cx="279.4" cy="119.4" r="0.50" fill="#8464b6"/><circle cx="302.2" cy="88.1" r="0.51" fill="#8464b6"/><circle cx="290.1" cy="106.1" r="0.34" fill="#6636a8"/><circle cx="285.9" cy="81.8" r="0.53" fill="#8464b6"/><circle cx="273.9" cy="131.0" r="0.57" fill="#8464b6"/><circle cx="293.7" cy="93.0" r="0.56" fill="#6636a8"/><circle cx="269.4" cy="101.0" r="0.56" fill="#6636a8"/><circle cx="313.9" cy="99.7" r="0.45" fill="#6636a8"/><circle cx="276.5" cy="132.9" r="0.35" fill="#6636a8"/><circle cx="282.1" cy="76.4" r="0.57" fill="#6636a8"/><circle cx="304.3" cy="114.4" r="0.46" fill="#6636a8"/><circle cx="289.1" cy="78.2" r="0.36" fill="#8464b6"/><circle cx="258.4" cy="97.3" r="0.33" fill="#8464b6"/><circle cx="273.7" cy="82.1" r="0.56" fill="#6636a8"/><circle cx="305.0" cy="96.0" r="0.42" fill="#6636a8"/><circle cx="289.8" cy="81.0" r="0.36" fill="#6636a8"/><circle cx="294.7" cy="81.4" r="0.48" fill="#8464b6"/><circle cx="267.2" cy="118.1" r="0.36" fill="#6636a8"/><circle cx="299.2" cy="128.7" r="0.38" fill="#6636a8"/><circle cx="278.8" cy="121.9" r="0.30" fill="#6636a8"/><circle cx="284.4" cy="90.9" r="0.43" fill="#6636a8"/><circle cx="276.5" cy="109.9" r="0.50" fill="#8464b6"/><circle cx="291.4" cy="109.1" r="0.43" fill="#6636a8"/><circle cx="268.5" cy="125.2" r="0.36" fill="#6636a8"/><circle cx="276.8" cy="106.0" r="0.44" fill="#6636a8"/><circle cx="299.7" cy="100.6" r="0.58" fill="#6636a8"/><circle cx="290.4" cy="87.0" r="0.39" fill="#6636a8"/><circle cx="257.8" cy="96.4" r="0.52" fill="#6636a8"/><circle cx="283.8" cy="78.8" r="0.47" fill="#6636a8"/><circle cx="308.3" cy="122.4" r="0.56" fill="#6636a8"/><circle cx="274.0" cy="81.5" r="0.38" fill="#8464b6"/><circle cx="308.5" cy="115.6" r="0.40" fill="#6636a8"/><circle cx="290.0" cy="95.9" r="0.45" fill="#8464b6"/><circle cx="287.0" cy="115.9" r="0.39" fill="#8464b6"/><circle cx="293.1" cy="125.7" r="0.58" fill="#6636a8"/><circle cx="256.4" cy="103.4" r="0.34" fill="#8464b6"/><circle cx="310.6" cy="97.9" r="0.50" fill="#6636a8"/><circle cx="267.9" cy="129.2" r="0.44" fill="#8464b6"/><circle cx="285.3" cy="103.3" r="0.58" fill="#8464b6"/><circle cx="258.9" cy="122.7" r="0.48" fill="#6636a8"/><circle cx="260.2" cy="105.7" r="0.52" fill="#6636a8"/><circle cx="271.0" cy="132.9" r="0.45" fill="#8464b6"/><circle cx="282.0" cy="77.3" r="0.54" fill="#6636a8"/><circle cx="293.4" cy="89.0" r="0.33" fill="#6636a8"/><circle cx="278.7" cy="134.5" r="0.49" fill="#8464b6"/><circle cx="298.7" cy="83.1" r="0.49" fill="#8464b6"/><circle cx="305.9" cy="122.0" r="0.51" fill="#6636a8"/><circle cx="257.9" cy="95.5" r="0.53" fill="#6636a8"/><circle cx="293.7" cy="80.0" r="0.50" fill="#8464b6"/><circle cx="259.8" cy="121.8" r="0.33" fill="#8464b6"/><circle cx="271.3" cy="120.0" r="0.44" fill="#6636a8"/><circle cx="276.4" cy="84.6" r="0.48" fill="#8464b6"/><circle cx="292.1" cy="90.9" r="0.31" fill="#8464b6"/><circle cx="254.8" cy="103.5" r="0.53" fill="#6636a8"/><circle cx="299.5" cy="130.8" r="0.49" fill="#6636a8"/><circle cx="264.7" cy="88.4" r="0.48" fill="#8464b6"/><circle cx="282.7" cy="108.1" r="0.33" fill="#8464b6"/><circle cx="289.8" cy="106.5" r="0.60" fill="#6636a8"/><circle cx="294.1" cy="102.0" r="0.39" fill="#8464b6"/><circle cx="271.4" cy="90.3" r="0.41" fill="#8464b6"/><circle cx="259.8" cy="89.5" r="0.54" fill="#8464b6"/><circle cx="293.3" cy="119.0" r="0.35" fill="#6636a8"/><circle cx="281.6" cy="106.0" r="0.42" fill="#8464b6"/><circle cx="305.7" cy="93.3" r="0.50" fill="#6636a8"/><circle cx="312.1" cy="94.7" r="0.32" fill="#6636a8"/><circle cx="293.6" cy="124.8" r="0.32" fill="#8464b6"/><circle cx="287.8" cy="78.8" r="0.49" fill="#8464b6"/><circle cx="305.3" cy="103.7" r="0.59" fill="#8464b6"/><circle cx="304.4" cy="89.3" r="0.51" fill="#8464b6"/><circle cx="283.0" cy="83.2" r="0.59" fill="#6636a8"/><circle cx="297.9" cy="127.6" r="0.56" fill="#8464b6"/><circle cx="309.0" cy="99.7" r="0.53" fill="#8464b6"/><circle cx="280.3" cy="105.5" r="0.43" fill="#8464b6"/><circle cx="276.3" cy="100.6" r="0.42" fill="#8464b6"/><circle cx="275.2" cy="88.1" r="0.55" fill="#8464b6"/><circle cx="265.5" cy="81.4" r="0.55" fill="#6636a8"/><circle cx="273.5" cy="100.0" r="0.40" fill="#8464b6"/><circle cx="273.7" cy="112.4" r="0.31" fill="#6636a8"/><circle cx="256.8" cy="119.3" r="0.33" fill="#8464b6"/><circle cx="307.8" cy="90.3" r="0.51" fill="#6636a8"/><circle cx="266.5" cy="128.5" r="0.47" fill="#8464b6"/><circle cx="309.8" cy="114.8" r="0.46" fill="#6636a8"/><circle cx="264.3" cy="99.0" r="0.57" fill="#8464b6"/><circle cx="262.0" cy="108.9" r="0.58" fill="#6636a8"/><circle cx="271.5" cy="91.1" r="0.59" fill="#8464b6"/><circle cx="293.5" cy="129.6" r="0.41" fill="#6636a8"/><circle cx="311.7" cy="96.3" r="0.49" fill="#8464b6"/><circle cx="266.8" cy="90.6" r="0.41" fill="#8464b6"/><circle cx="280.0" cy="77.4" r="0.39" fill="#8464b6"/><circle cx="280.0" cy="76.9" r="0.40" fill="#6636a8"/><circle cx="264.2" cy="117.6" r="0.31" fill="#6636a8"/><circle cx="277.6" cy="84.6" r="0.34" fill="#8464b6"/><circle cx="289.3" cy="108.7" r="0.53" fill="#8464b6"/><circle cx="268.4" cy="81.1" r="0.51" fill="#8464b6"/><circle cx="293.0" cy="78.6" r="0.43" fill="#8464b6"/><circle cx="269.1" cy="120.1" r="0.55" fill="#8464b6"/><circle cx="267.6" cy="126.0" r="0.41" fill="#8464b6"/><circle cx="288.7" cy="98.8" r="0.53" fill="#6636a8"/><circle cx="284.2" cy="119.9" r="0.49" fill="#8464b6"/><circle cx="279.8" cy="106.4" r="0.58" fill="#6636a8"/><circle cx="298.9" cy="116.0" r="0.58" fill="#8464b6"/><circle cx="272.6" cy="128.2" r="0.41" fill="#8464b6"/><circle cx="287.6" cy="98.7" r="0.39" fill="#8464b6"/><circle cx="297.2" cy="109.4" r="0.34" fill="#8464b6"/><circle cx="260.7" cy="99.1" r="0.50" fill="#6636a8"/><circle cx="270.3" cy="128.9" r="0.35" fill="#8464b6"/><circle cx="258.0" cy="93.7" r="0.58" fill="#6636a8"/><circle cx="284.7" cy="79.9" r="0.57" fill="#8464b6"/><circle cx="301.2" cy="102.6" r="0.31" fill="#8464b6"/><circle cx="275.2" cy="78.8" r="0.38" fill="#8464b6"/><circle cx="306.8" cy="123.2" r="0.51" fill="#8464b6"/><circle cx="292.6" cy="132.7" r="0.35" fill="#8464b6"/><circle cx="276.5" cy="131.4" r="0.58" fill="#8464b6"/><circle cx="274.5" cy="102.1" r="0.40" fill="#6636a8"/><circle cx="253.3" cy="102.3" r="0.34" fill="#8464b6"/><circle cx="298.9" cy="83.2" r="0.53" fill="#8464b6"/><circle cx="269.6" cy="101.2" r="0.49" fill="#6636a8"/><circle cx="278.6" cy="134.7" r="0.53" fill="#8464b6"/><circle cx="255.7" cy="95.1" r="0.57" fill="#6636a8"/><circle cx="256.3" cy="113.4" r="0.57" fill="#8464b6"/><circle cx="296.1" cy="103.9" r="0.53" fill="#6636a8"/><circle cx="287.5" cy="91.2" r="0.56" fill="#6636a8"/><circle cx="307.6" cy="109.3" r="0.33" fill="#6636a8"/><circle cx="293.4" cy="104.4" r="0.38" fill="#8464b6"/><circle cx="274.6" cy="97.0" r="0.47" fill="#8464b6"/><circle cx="282.6" cy="103.9" r="0.46" fill="#6636a8"/><circle cx="291.1" cy="88.3" r="0.37" fill="#8464b6"/><circle cx="285.3" cy="116.8" r="0.58" fill="#6636a8"/><circle cx="295.8" cy="119.7" r="0.44" fill="#8464b6"/><circle cx="288.9" cy="118.3" r="0.46" fill="#8464b6"/><circle cx="268.7" cy="107.0" r="0.55" fill="#8464b6"/><circle cx="297.1" cy="113.8" r="0.38" fill="#6636a8"/><circle cx="287.9" cy="81.3" r="0.47" fill="#8464b6"/><circle cx="304.2" cy="122.2" r="0.41" fill="#6636a8"/><circle cx="291.9" cy="105.1" r="0.59" fill="#6636a8"/><circle cx="285.6" cy="109.1" r="0.50" fill="#6636a8"/><circle cx="274.6" cy="119.5" r="0.33" fill="#6636a8"/><circle cx="277.6" cy="121.8" r="0.51" fill="#8464b6"/><circle cx="256.0" cy="115.2" r="0.41" fill="#8464b6"/><circle cx="293.8" cy="78.6" r="0.48" fill="#6636a8"/><circle cx="256.6" cy="118.4" r="0.41" fill="#6636a8"/><circle cx="276.2" cy="125.7" r="0.57" fill="#6636a8"/><circle cx="281.3" cy="101.4" r="0.58" fill="#8464b6"/><circle cx="265.6" cy="120.4" r="0.35" fill="#6636a8"/><circle cx="286.8" cy="116.4" r="0.45" fill="#8464b6"/><circle cx="256.5" cy="110.3" r="0.46" fill="#8464b6"/><circle cx="304.5" cy="85.4" r="0.54" fill="#8464b6"/><circle cx="286.3" cy="114.8" r="0.31" fill="#8464b6"/><circle cx="290.2" cy="122.6" r="0.60" fill="#8464b6"/><circle cx="256.0" cy="115.5" r="0.51" fill="#8464b6"/><circle cx="307.7" cy="111.6" r="0.42" fill="#6636a8"/><circle cx="267.2" cy="89.3" r="0.37" fill="#8464b6"/><circle cx="278.8" cy="103.3" r="0.55" fill="#8464b6"/><circle cx="276.3" cy="102.4" r="0.51" fill="#8464b6"/><circle cx="286.9" cy="107.5" r="0.52" fill="#8464b6"/><circle cx="278.3" cy="117.2" r="0.43" fill="#8464b6"/><circle cx="304.6" cy="114.8" r="0.38" fill="#6636a8"/><circle cx="254.1" cy="99.7" r="0.59" fill="#6636a8"/><circle cx="270.1" cy="123.2" r="0.54" fill="#8464b6"/><circle cx="294.0" cy="85.2" r="0.51" fill="#8464b6"/><circle cx="291.0" cy="130.5" r="0.38" fill="#6636a8"/><circle cx="275.4" cy="133.6" r="0.39" fill="#8464b6"/><circle cx="296.3" cy="83.4" r="0.33" fill="#8464b6"/><circle cx="288.1" cy="116.9" r="0.47" fill="#6636a8"/><circle cx="289.7" cy="79.9" r="0.51" fill="#8464b6"/><circle cx="307.1" cy="113.7" r="0.43" fill="#8464b6"/><circle cx="256.0" cy="112.0" r="0.45" fill="#6636a8"/><circle cx="292.5" cy="95.5" r="0.30" fill="#8464b6"/><circle cx="286.5" cy="94.1" r="0.38" fill="#8464b6"/><circle cx="260.4" cy="121.0" r="0.45" fill="#8464b6"/><circle cx="262.3" cy="127.3" r="0.32" fill="#8464b6"/><circle cx="295.9" cy="104.9" r="0.49" fill="#8464b6"/><circle cx="282.9" cy="124.6" r="0.30" fill="#6636a8"/><circle cx="300.1" cy="84.7" r="0.33" fill="#8464b6"/><circle cx="265.7" cy="128.8" r="0.44" fill="#8464b6"/><circle cx="275.1" cy="128.5" r="0.30" fill="#6636a8"/><circle cx="285.4" cy="116.2" r="0.34" fill="#8464b6"/><circle cx="314.0" cy="106.7" r="0.43" fill="#6636a8"/><circle cx="291.2" cy="77.3" r="0.54" fill="#6636a8"/><circle cx="291.1" cy="124.2" r="0.39" fill="#8464b6"/><circle cx="265.3" cy="104.3" r="0.36" fill="#6636a8"/><circle cx="302.1" cy="102.3" r="0.37" fill="#8464b6"/><circle cx="289.7" cy="103.1" r="0.34" fill="#8464b6"/><circle cx="290.8" cy="109.5" r="0.49" fill="#8464b6"/><circle cx="301.1" cy="81.8" r="0.34" fill="#8464b6"/><circle cx="258.7" cy="89.1" r="0.31" fill="#8464b6"/><circle cx="303.5" cy="89.5" r="0.38" fill="#6636a8"/><circle cx="302.2" cy="90.7" r="0.59" fill="#8464b6"/><circle cx="300.4" cy="129.9" r="0.40" fill="#8464b6"/><circle cx="262.6" cy="113.4" r="0.46" fill="#8464b6"/><circle cx="284.0" cy="121.4" r="0.41" fill="#6636a8"/><circle cx="254.1" cy="100.0" r="0.38" fill="#8464b6"/><circle cx="277.5" cy="128.2" r="0.53" fill="#8464b6"/><circle cx="300.8" cy="97.0" r="0.35" fill="#8464b6"/><circle cx="265.8" cy="129.2" r="0.50" fill="#8464b6"/><circle cx="292.4" cy="79.2" r="0.47" fill="#8464b6"/><circle cx="271.2" cy="94.5" r="0.36" fill="#6636a8"/><circle cx="267.9" cy="116.1" r="0.57" fill="#8464b6"/><circle cx="260.0" cy="119.2" r="0.60" fill="#6636a8"/><circle cx="261.8" cy="98.7" r="0.48" fill="#8464b6"/><circle cx="298.6" cy="85.1" r="0.40" fill="#6636a8"/><circle cx="259.8" cy="97.0" r="0.54" fill="#6636a8"/><circle cx="297.3" cy="109.1" r="0.33" fill="#6636a8"/><circle cx="270.8" cy="107.9" r="0.35" fill="#6636a8"/><circle cx="264.7" cy="83.7" r="0.60" fill="#8464b6"/><circle cx="275.1" cy="98.2" r="0.58" fill="#6636a8"/><circle cx="282.9" cy="134.4" r="0.43" fill="#6636a8"/><circle cx="278.8" cy="99.4" r="0.48" fill="#6636a8"/><circle cx="284.7" cy="89.4" r="0.53" fill="#6636a8"/><circle cx="255.8" cy="95.9" r="0.60" fill="#6636a8"/><circle cx="280.2" cy="104.4" r="0.40" fill="#8464b6"/><circle cx="280.2" cy="107.7" r="0.56" fill="#8464b6"/><circle cx="284.9" cy="106.1" r="0.45" fill="#8464b6"/><circle cx="297.9" cy="83.2" r="0.57" fill="#8464b6"/><circle cx="254.7" cy="98.1" r="0.35" fill="#6636a8"/><circle cx="292.5" cy="108.9" r="0.45" fill="#8464b6"/><circle cx="272.8" cy="101.5" r="0.35" fill="#8464b6"/><circle cx="294.0" cy="79.7" r="0.38" fill="#8464b6"/><circle cx="260.9" cy="120.0" r="0.54" fill="#6636a8"/><circle cx="278.4" cy="134.1" r="0.45" fill="#8464b6"/><circle cx="291.9" cy="83.1" r="0.39" fill="#6636a8"/><circle cx="262.1" cy="92.0" r="0.60" fill="#8464b6"/><circle cx="313.6" cy="101.4" r="0.32" fill="#8464b6"/><circle cx="308.2" cy="95.3" r="0.39" fill="#6636a8"/><circle cx="276.3" cy="132.5" r="0.33" fill="#6636a8"/><circle cx="303.6" cy="127.5" r="0.55" fill="#6636a8"/><circle cx="285.8" cy="112.7" r="0.48" fill="#8464b6"/><circle cx="273.5" cy="96.5" r="0.42" fill="#6636a8"/><circle cx="290.2" cy="83.1" r="0.32" fill="#6636a8"/><circle cx="286.0" cy="102.0" r="0.40" fill="#8464b6"/><circle cx="293.9" cy="92.1" r="0.40" fill="#6636a8"/><circle cx="293.1" cy="95.5" r="0.49" fill="#8464b6"/><circle cx="306.3" cy="113.2" r="0.41" fill="#6636a8"/><circle cx="277.7" cy="76.7" r="0.57" fill="#6636a8"/><circle cx="291.9" cy="81.8" r="0.37" fill="#6636a8"/><circle cx="312.1" cy="113.1" r="0.51" fill="#8464b6"/><circle cx="296.4" cy="84.5" r="0.34" fill="#6636a8"/><circle cx="282.1" cy="111.7" r="0.42" fill="#6636a8"/><circle cx="293.2" cy="82.5" r="0.34" fill="#8464b6"/><circle cx="288.5" cy="102.1" r="0.44" fill="#8464b6"/><circle cx="257.3" cy="90.4" r="0.49" fill="#8464b6"/><circle cx="304.2" cy="97.1" r="0.45" fill="#8464b6"/><circle cx="295.1" cy="130.2" r="0.47" fill="#8464b6"/><circle cx="277.5" cy="88.8" r="0.39" fill="#6636a8"/><circle cx="273.9" cy="107.6" r="0.48" fill="#8464b6"/><circle cx="295.5" cy="96.0" r="0.58" fill="#6636a8"/><circle cx="254.7" cy="102.1" r="0.56" fill="#8464b6"/><circle cx="307.2" cy="98.2" r="0.56" fill="#8464b6"/><circle cx="263.1" cy="123.2" r="0.44" fill="#6636a8"/><circle cx="302.0" cy="100.1" r="0.40" fill="#6636a8"/><circle cx="284.0" cy="102.1" r="0.55" fill="#6636a8"/><circle cx="264.5" cy="83.5" r="0.58" fill="#6636a8"/><circle cx="280.4" cy="101.3" r="0.55" fill="#8464b6"/><circle cx="272.8" cy="97.7" r="0.46" fill="#6636a8"/><circle cx="301.9" cy="117.3" r="0.31" fill="#6636a8"/><circle cx="275.3" cy="118.6" r="0.50" fill="#6636a8"/><circle cx="259.2" cy="114.9" r="0.31" fill="#8464b6"/><circle cx="307.0" cy="125.4" r="0.50" fill="#6636a8"/><circle cx="255.3" cy="106.5" r="0.38" fill="#8464b6"/><circle cx="298.5" cy="106.9" r="0.59" fill="#6636a8"/><circle cx="282.7" cy="93.0" r="0.42" fill="#6636a8"/><circle cx="272.3" cy="103.8" r="0.50" fill="#8464b6"/><circle cx="284.0" cy="131.7" r="0.53" fill="#8464b6"/><circle cx="270.1" cy="96.5" r="0.37" fill="#6636a8"/><circle cx="268.2" cy="128.6" r="0.35" fill="#8464b6"/><circle cx="295.3" cy="129.8" r="0.40" fill="#6636a8"/><circle cx="252.8" cy="104.2" r="0.32" fill="#8464b6"/><circle cx="301.4" cy="106.5" r="0.48" fill="#6636a8"/><circle cx="289.0" cy="108.5" r="0.40" fill="#6636a8"/><circle cx="292.8" cy="130.2" r="0.37" fill="#6636a8"/><circle cx="270.4" cy="110.9" r="0.49" fill="#6636a8"/><circle cx="252.6" cy="101.9" r="0.52" fill="#6636a8"/><circle cx="289.5" cy="77.5" r="0.57" fill="#8464b6"/><circle cx="284.2" cy="134.9" r="0.42" fill="#6636a8"/><circle cx="273.2" cy="101.0" r="0.57" fill="#8464b6"/><circle cx="281.8" cy="135.7" r="0.44" fill="#6636a8"/><circle cx="259.1" cy="121.7" r="0.42" fill="#6636a8"/><circle cx="272.0" cy="108.2" r="0.32" fill="#8464b6"/><circle cx="286.4" cy="79.9" r="0.40" fill="#8464b6"/><circle cx="306.8" cy="113.9" r="0.47" fill="#8464b6"/><circle cx="266.9" cy="128.6" r="0.37" fill="#6636a8"/><circle cx="289.9" cy="128.1" r="0.34" fill="#6636a8"/><circle cx="285.6" cy="127.9" r="0.54" fill="#6636a8"/><circle cx="260.9" cy="120.3" r="0.50" fill="#6636a8"/><circle cx="285.5" cy="84.7" r="0.53" fill="#8464b6"/><circle cx="297.7" cy="117.1" r="0.31" fill="#8464b6"/><circle cx="299.3" cy="104.0" r="0.37" fill="#8464b6"/><circle cx="308.9" cy="106.9" r="0.34" fill="#8464b6"/><circle cx="278.9" cy="101.7" r="0.56" fill="#6636a8"/><circle cx="304.2" cy="84.1" r="0.35" fill="#8464b6"/><circle cx="268.1" cy="110.0" r="0.49" fill="#8464b6"/><circle cx="281.9" cy="113.4" r="0.49" fill="#8464b6"/><circle cx="282.7" cy="131.9" r="0.58" fill="#8464b6"/><circle cx="307.4" cy="105.8" r="0.49" fill="#6636a8"/><circle cx="259.1" cy="99.8" r="0.51" fill="#6636a8"/><circle cx="287.8" cy="80.3" r="0.44" fill="#8464b6"/><circle cx="270.1" cy="79.2" r="0.46" fill="#6636a8"/><circle cx="298.8" cy="123.0" r="0.55" fill="#8464b6"/><circle cx="289.4" cy="86.3" r="0.51" fill="#8464b6"/><circle cx="309.1" cy="94.0" r="0.36" fill="#8464b6"/><circle cx="273.0" cy="131.6" r="0.30" fill="#6636a8"/><circle cx="274.7" cy="79.8" r="0.53" fill="#8464b6"/><circle cx="299.4" cy="111.9" r="0.39" fill="#8464b6"/><circle cx="281.6" cy="115.6" r="0.45" fill="#6636a8"/><circle cx="301.6" cy="125.1" r="0.39" fill="#6636a8"/><circle cx="299.5" cy="82.0" r="0.41" fill="#6636a8"/><circle cx="281.9" cy="81.2" r="0.46" fill="#8464b6"/><circle cx="264.3" cy="102.1" r="0.59" fill="#6636a8"/><circle cx="265.6" cy="99.0" r="0.41" fill="#8464b6"/><circle cx="292.9" cy="77.9" r="0.39" fill="#6636a8"/><circle cx="284.8" cy="102.6" r="0.48" fill="#6636a8"/><circle cx="302.7" cy="98.9" r="0.56" fill="#8464b6"/><circle cx="299.4" cy="105.9" r="0.44" fill="#6636a8"/><circle cx="263.5" cy="88.4" r="0.44" fill="#6636a8"/><circle cx="260.0" cy="87.6" r="0.43" fill="#6636a8"/><circle cx="270.6" cy="79.9" r="0.41" fill="#8464b6"/><circle cx="303.4" cy="97.6" r="0.38" fill="#8464b6"/><circle cx="281.3" cy="82.6" r="0.50" fill="#8464b6"/><circle cx="303.0" cy="87.6" r="0.53" fill="#6636a8"/><circle cx="280.1" cy="98.4" r="0.46" fill="#8464b6"/><circle cx="290.8" cy="108.5" r="0.55" fill="#8464b6"/><circle cx="271.6" cy="82.6" r="0.56" fill="#6636a8"/><circle cx="308.7" cy="112.7" r="0.56" fill="#8464b6"/><circle cx="277.6" cy="106.3" r="0.56" fill="#6636a8"/><circle cx="303.2" cy="88.3" r="0.41" fill="#8464b6"/><circle cx="273.1" cy="78.8" r="0.35" fill="#8464b6"/><circle cx="276.9" cy="131.8" r="0.32" fill="#8464b6"/><circle cx="294.9" cy="90.6" r="0.43" fill="#6636a8"/><circle cx="314.2" cy="99.7" r="0.51" fill="#8464b6"/><circle cx="288.5" cy="102.3" r="0.54" fill="#8464b6"/><circle cx="288.5" cy="80.0" r="0.46" fill="#8464b6"/><circle cx="290.9" cy="94.7" r="0.33" fill="#6636a8"/><circle cx="308.6" cy="110.5" r="0.46" fill="#6636a8"/><circle cx="272.2" cy="131.5" r="0.30" fill="#6636a8"/><circle cx="261.6" cy="108.8" r="0.52" fill="#6636a8"/><circle cx="274.7" cy="89.8" r="0.34" fill="#6636a8"/><circle cx="291.3" cy="110.0" r="0.47" fill="#8464b6"/><circle cx="282.7" cy="133.4" r="0.45" fill="#8464b6"/><circle cx="279.7" cy="102.1" r="0.59" fill="#8464b6"/><circle cx="273.6" cy="131.4" r="0.44" fill="#6636a8"/><circle cx="278.9" cy="132.5" r="0.44" fill="#8464b6"/><circle cx="262.2" cy="86.2" r="0.56" fill="#8464b6"/><circle cx="277.4" cy="134.3" r="0.58" fill="#8464b6"/><circle cx="286.6" cy="78.8" r="0.53" fill="#6636a8"/><circle cx="270.9" cy="130.2" r="0.51" fill="#8464b6"/><circle cx="278.8" cy="100.2" r="0.56" fill="#6636a8"/><circle cx="271.7" cy="97.9" r="0.45" fill="#8464b6"/><circle cx="254.9" cy="107.4" r="0.32" fill="#6636a8"/><circle cx="298.7" cy="91.9" r="0.34" fill="#6636a8"/><circle cx="257.1" cy="101.8" r="0.46" fill="#8464b6"/><circle cx="273.6" cy="111.0" r="0.38" fill="#8464b6"/><circle cx="304.7" cy="124.1" r="0.39" fill="#8464b6"/><circle cx="291.8" cy="110.0" r="0.35" fill="#8464b6"/><circle cx="295.2" cy="116.3" r="0.45" fill="#6636a8"/><circle cx="275.6" cy="102.7" r="0.52" fill="#6636a8"/><circle cx="288.4" cy="80.7" r="0.37" fill="#8464b6"/><circle cx="308.1" cy="87.5" r="0.38" fill="#8464b6"/><circle cx="274.2" cy="133.5" r="0.52" fill="#6636a8"/><circle cx="269.8" cy="127.1" r="0.38" fill="#6636a8"/><circle cx="308.0" cy="119.8" r="0.38" fill="#6636a8"/><circle cx="291.0" cy="133.3" r="0.55" fill="#6636a8"/><circle cx="282.6" cy="109.8" r="0.51" fill="#8464b6"/><circle cx="267.6" cy="89.2" r="0.47" fill="#6636a8"/><circle cx="306.4" cy="88.6" r="0.40" fill="#8464b6"/><circle cx="259.4" cy="97.2" r="0.44" fill="#8464b6"/><circle cx="252.5" cy="108.6" r="0.55" fill="#8464b6"/><circle cx="312.1" cy="109.6" r="0.57" fill="#6636a8"/><circle cx="305.5" cy="126.9" r="0.49" fill="#6636a8"/><circle cx="278.8" cy="104.6" r="0.45" fill="#6636a8"/><circle cx="274.3" cy="91.2" r="0.54" fill="#6636a8"/><circle cx="268.6" cy="130.8" r="0.58" fill="#8464b6"/><circle cx="265.2" cy="90.0" r="0.53" fill="#8464b6"/><circle cx="282.9" cy="110.5" r="0.59" fill="#6636a8"/><circle cx="267.8" cy="80.6" r="0.54" fill="#6636a8"/><circle cx="295.5" cy="133.7" r="0.60" fill="#8464b6"/><circle cx="289.2" cy="105.1" r="0.42" fill="#8464b6"/><circle cx="283.7" cy="135.1" r="0.46" fill="#8464b6"/><circle cx="312.0" cy="100.2" r="0.32" fill="#6636a8"/><circle cx="300.3" cy="130.4" r="0.43" fill="#6636a8"/><circle cx="261.6" cy="88.4" r="0.49" fill="#8464b6"/><circle cx="281.7" cy="99.7" r="0.38" fill="#6636a8"/><circle cx="258.2" cy="116.5" r="0.44" fill="#6636a8"/><circle cx="280.2" cy="111.3" r="0.46" fill="#8464b6"/><circle cx="277.0" cy="110.3" r="0.52" fill="#6636a8"/><circle cx="294.9" cy="124.4" r="0.38" fill="#8464b6"/><circle cx="284.9" cy="85.3" r="0.48" fill="#8464b6"/><circle cx="260.3" cy="121.4" r="0.37" fill="#8464b6"/><circle cx="255.3" cy="118.5" r="0.34" fill="#8464b6"/><circle cx="262.5" cy="89.5" r="0.54" fill="#8464b6"/><circle cx="302.1" cy="108.9" r="0.34" fill="#6636a8"/><circle cx="301.6" cy="87.6" r="0.60" fill="#6636a8"/><circle cx="276.1" cy="96.8" r="0.38" fill="#6636a8"/><circle cx="290.6" cy="105.4" r="0.57" fill="#6636a8"/><circle cx="271.9" cy="132.6" r="0.51" fill="#8464b6"/><circle cx="255.3" cy="104.3" r="0.37" fill="#6636a8"/><circle cx="284.8" cy="131.4" r="0.50" fill="#6636a8"/><circle cx="288.7" cy="107.7" r="0.49" fill="#6636a8"/><circle cx="296.6" cy="96.2" r="0.31" fill="#6636a8"/><circle cx="291.9" cy="87.0" r="0.40" fill="#6636a8"/><circle cx="266.3" cy="130.3" r="0.44" fill="#8464b6"/><circle cx="269.8" cy="116.9" r="0.36" fill="#6636a8"/><circle cx="298.8" cy="111.4" r="0.38" fill="#8464b6"/><circle cx="281.4" cy="109.4" r="0.45" fill="#8464b6"/><circle cx="298.4" cy="131.1" r="0.49" fill="#6636a8"/><circle cx="298.3" cy="115.8" r="0.41" fill="#8464b6"/><circle cx="307.9" cy="104.7" r="0.43" fill="#6636a8"/><circle cx="284.2" cy="88.5" r="0.58" fill="#6636a8"/><circle cx="260.7" cy="119.5" r="0.35" fill="#6636a8"/><circle cx="281.5" cy="132.7" r="0.35" fill="#8464b6"/><circle cx="255.9" cy="94.7" r="0.51" fill="#8464b6"/><circle cx="281.5" cy="133.2" r="0.51" fill="#6636a8"/><circle cx="271.4" cy="87.4" r="0.54" fill="#6636a8"/><circle cx="259.1" cy="102.5" r="0.51" fill="#8464b6"/><circle cx="292.9" cy="110.8" r="0.58" fill="#6636a8"/><circle cx="272.4" cy="88.0" r="0.33" fill="#8464b6"/><circle cx="309.8" cy="91.3" r="0.33" fill="#6636a8"/><circle cx="290.7" cy="125.6" r="0.34" fill="#8464b6"/><circle cx="302.3" cy="88.8" r="0.53" fill="#6636a8"/><circle cx="272.2" cy="119.0" r="0.48" fill="#8464b6"/><circle cx="297.1" cy="108.5" r="0.33" fill="#6636a8"/><circle cx="303.3" cy="85.8" r="0.34" fill="#6636a8"/><circle cx="313.2" cy="114.0" r="0.54" fill="#8464b6"/><circle cx="294.9" cy="120.6" r="0.32" fill="#6636a8"/><circle cx="295.7" cy="87.8" r="0.48" fill="#6636a8"/><circle cx="304.0" cy="103.1" r="0.41" fill="#6636a8"/><circle cx="287.1" cy="82.0" r="0.54" fill="#8464b6"/><circle cx="260.3" cy="121.0" r="0.43" fill="#6636a8"/><circle cx="269.9" cy="105.2" r="0.36" fill="#8464b6"/><circle cx="302.0" cy="90.2" r="0.59" fill="#6636a8"/><circle cx="256.1" cy="114.1" r="0.82" fill="#8464b6"/><circle cx="301.4" cy="108.8" r="0.95" fill="#8464b6"/><circle cx="254.7" cy="117.4" r="0.87" fill="#6636a8"/><circle cx="253.1" cy="110.3" r="0.69" fill="#8464b6"/><circle cx="299.8" cy="129.1" r="0.75" fill="#8464b6"/><circle cx="311.0" cy="112.5" r="0.86" fill="#6636a8"/><circle cx="275.2" cy="131.7" r="0.84" fill="#8464b6"/><circle cx="255.4" cy="95.3" r="0.88" fill="#8464b6"/><circle cx="288.0" cy="129.2" r="0.61" fill="#6636a8"/><circle cx="282.7" cy="94.9" r="0.95" fill="#6636a8"/><circle cx="277.5" cy="101.3" r="0.65" fill="#8464b6"/><circle cx="254.5" cy="114.8" r="0.68" fill="#6636a8"/><circle cx="297.3" cy="125.1" r="0.75" fill="#6636a8"/><circle cx="279.8" cy="94.5" r="0.61" fill="#8464b6"/><circle cx="287.9" cy="104.3" r="0.68" fill="#8464b6"/><circle cx="276.2" cy="107.4" r="0.62" fill="#6636a8"/><circle cx="288.7" cy="115.9" r="0.87" fill="#8464b6"/><circle cx="269.1" cy="89.6" r="0.72" fill="#6636a8"/><circle cx="256.8" cy="98.7" r="0.87" fill="#6636a8"/><circle cx="283.7" cy="112.9" r="0.70" fill="#6636a8"/></g>
<text transform="translate(242.70 55.37) rotate(-90) scale(0.940 1)" font-size="10.76" fill="#1a1a1a" stroke="#1a1a1a" stroke-width="0.12">miR-NC</text>
<text transform="translate(243.20 132.72) rotate(-90) scale(1.015 1)" font-size="10.76" fill="#1a1a1a" stroke="#1a1a1a" stroke-width="0.12">miR-500a-3p</text>
<rect x="374" y="56.85" width="29.5" height="71.95" fill="#000"/>
<line x1="388.75" y1="52.17" x2="388.75" y2="56.85" stroke="#111" stroke-width="1.25"/>
<line x1="381.75" y1="52.17" x2="395.75" y2="52.17" stroke="#111" stroke-width="1.25"/>
<rect x="431.2" y="88.44" width="29.7" height="40.36" fill="#a09fa6"/>
<line x1="446.05" y1="84.34" x2="446.05" y2="88.44" stroke="#111" stroke-width="1.25"/>
<line x1="439.05" y1="84.34" x2="453.05" y2="84.34" stroke="#111" stroke-width="1.25"/>
<line x1="351.3" y1="41" x2="351.3" y2="129.3" stroke="#4a4a4a" stroke-width="1.25"/>
<line x1="350.8" y1="128.8" x2="481.5" y2="128.8" stroke="#4a4a4a" stroke-width="1.25"/>
<line x1="348.3" y1="128.8" x2="351.3" y2="128.8" stroke="#4a4a4a" stroke-width="1.25"/>
<text x="348" y="131.15" font-size="6.7" font-weight="bold" text-anchor="end" fill="#111" stroke="#111" stroke-width="0.32">0</text>
<line x1="348.3" y1="99.55" x2="351.3" y2="99.55" stroke="#4a4a4a" stroke-width="1.25"/>
<text x="348" y="101.9" font-size="6.7" font-weight="bold" text-anchor="end" fill="#111" stroke="#111" stroke-width="0.32">50</text>
<line x1="348.3" y1="70.3" x2="351.3" y2="70.3" stroke="#4a4a4a" stroke-width="1.25"/>
<text x="348" y="72.65" font-size="6.7" font-weight="bold" text-anchor="end" fill="#111" stroke="#111" stroke-width="0.32">100</text>
<line x1="348.3" y1="41.05" x2="351.3" y2="41.05" stroke="#4a4a4a" stroke-width="1.25"/>
<text x="348" y="43.4" font-size="6.7" font-weight="bold" text-anchor="end" fill="#111" stroke="#111" stroke-width="0.32">150</text>
<text x="388.75" y="138.5" font-size="6.7" font-weight="bold" text-anchor="middle" fill="#111" stroke="#111" stroke-width="0.32">miR-NC</text>
<line x1="388.75" y1="128.8" x2="388.75" y2="131.2" stroke="#4a4a4a" stroke-width="1.25"/>
<text x="446.05" y="138.5" font-size="6.7" font-weight="bold" text-anchor="middle" fill="#111" stroke="#111" stroke-width="0.32">miR-500a-3p</text>
<line x1="446.05" y1="128.8" x2="446.05" y2="131.2" stroke="#4a4a4a" stroke-width="1.25"/>
<text transform="translate(333.00 110.49) rotate(-90) scale(0.990 1)" font-size="7.12" font-weight="bold" fill="#1a1a1a" stroke="#1a1a1a" stroke-width="0.32">Colony number</text>
<text transform="translate(403.65 29.80) scale(0.951 1)" font-size="9.01" font-weight="bold" fill="#1a1a1a" stroke="#1a1a1a" stroke-width="0.32">SW480</text>
<line x1="389" y1="43.7" x2="445" y2="43.7" stroke="#222" stroke-width="1.875"/>
<text x="414.99" y="43.19" font-size="7.37" font-weight="bold" text-anchor="middle" fill="#222">*</text>
<text x="419.01" y="43.19" font-size="7.37" font-weight="bold" text-anchor="middle" fill="#222">*</text>
<text transform="translate(218.02 200.80) scale(0.948 1)" font-size="12.65" fill="#111" stroke="#111" stroke-width="0.12">D</text>
<defs><clipPath id="cdg3"><ellipse cx="284.3" cy="224.8" rx="30.8" ry="29.8"/></clipPath><radialGradient id="dg3" cx="50%" cy="50%" r="50%"><stop offset="0" stop-color="#ccc4ca"/><stop offset="0.85" stop-color="#ccc4ca"/><stop offset="1" stop-color="#bcb0c2"/></radialGradient></defs>
<ellipse cx="284.3" cy="224.8" rx="30.8" ry="29.8" fill="url(#dg3)"/>
<g clip-path="url(#cdg3)"><circle cx="268.2" cy="227.4" r="0.48" fill="#7a4cb4"/><circle cx="305.1" cy="210.5" r="0.60" fill="#6434a8"/><circle cx="305.0" cy="223.4" r="0.35" fill="#7a4cb4"/><circle cx="307.0" cy="226.2" r="0.50" fill="#6434a8"/><circle cx="300.2" cy="230.2" r="0.31" fill="#7a4cb4"/><circle cx="282.6" cy="237.8" r="0.51" fill="#7a4cb4"/><circle cx="277.8" cy="242.7" r="0.58" fill="#7a4cb4"/><circle cx="280.4" cy="232.3" r="0.45" fill="#6434a8"/><circle cx="275.1" cy="229.9" r="0.57" fill="#7a4cb4"/><circle cx="263.5" cy="246.3" r="0.57" fill="#7a4cb4"/><circle cx="297.5" cy="207.6" r="0.47" fill="#6434a8"/><circle cx="276.2" cy="252.5" r="0.56" fill="#6434a8"/><circle cx="291.4" cy="197.7" r="0.40" fill="#7a4cb4"/><circle cx="313.9" cy="225.1" r="0.39" fill="#6434a8"/><circle cx="260.0" cy="240.1" r="0.35" fill="#6434a8"/><circle cx="307.0" cy="213.7" r="0.57" fill="#6434a8"/><circle cx="281.9" cy="226.0" r="0.48" fill="#7a4cb4"/><circle cx="291.7" cy="251.1" r="0.43" fill="#7a4cb4"/><circle cx="268.1" cy="212.9" r="0.46" fill="#7a4cb4"/><circle cx="254.2" cy="219.7" r="0.31" fill="#7a4cb4"/><circle cx="292.4" cy="198.6" r="0.44" fill="#7a4cb4"/><circle cx="275.2" cy="237.1" r="0.31" fill="#6434a8"/><circle cx="295.1" cy="252.4" r="0.44" fill="#7a4cb4"/><circle cx="273.2" cy="216.7" r="0.41" fill="#7a4cb4"/><circle cx="272.0" cy="217.5" r="0.31" fill="#7a4cb4"/><circle cx="298.8" cy="213.5" r="0.54" fill="#6434a8"/><circle cx="265.0" cy="220.9" r="0.33" fill="#6434a8"/><circle cx="274.1" cy="244.7" r="0.56" fill="#6434a8"/><circle cx="274.2" cy="233.8" r="0.44" fill="#6434a8"/><circle cx="294.8" cy="197.6" r="0.36" fill="#6434a8"/><circle cx="303.2" cy="233.3" r="0.40" fill="#6434a8"/><circle cx="271.5" cy="242.3" r="0.40" fill="#6434a8"/><circle cx="279.4" cy="219.4" r="0.35" fill="#6434a8"/><circle cx="314.3" cy="220.9" r="0.58" fill="#6434a8"/><circle cx="299.4" cy="244.9" r="0.46" fill="#6434a8"/><circle cx="261.0" cy="210.7" r="0.54" fill="#6434a8"/><circle cx="309.2" cy="236.3" r="0.57" fill="#7a4cb4"/><circle cx="289.0" cy="195.8" r="0.35" fill="#6434a8"/><circle cx="294.3" cy="226.3" r="0.58" fill="#7a4cb4"/><circle cx="274.5" cy="210.0" r="0.44" fill="#7a4cb4"/><circle cx="275.2" cy="206.8" r="0.55" fill="#6434a8"/><circle cx="263.5" cy="203.7" r="0.31" fill="#6434a8"/><circle cx="270.0" cy="226.4" r="0.44" fill="#7a4cb4"/><circle cx="284.4" cy="213.8" r="0.41" fill="#7a4cb4"/><circle cx="271.6" cy="247.6" r="0.47" fill="#7a4cb4"/><circle cx="264.0" cy="244.8" r="0.53" fill="#6434a8"/><circle cx="302.9" cy="232.1" r="0.41" fill="#6434a8"/><circle cx="296.8" cy="220.1" r="0.44" fill="#6434a8"/><circle cx="259.2" cy="237.2" r="0.56" fill="#7a4cb4"/><circle cx="276.6" cy="248.5" r="0.38" fill="#6434a8"/><circle cx="261.1" cy="243.5" r="0.57" fill="#7a4cb4"/><circle cx="294.6" cy="238.7" r="0.33" fill="#7a4cb4"/><circle cx="298.8" cy="203.1" r="0.55" fill="#7a4cb4"/><circle cx="287.4" cy="197.3" r="0.51" fill="#6434a8"/><circle cx="257.3" cy="214.3" r="0.55" fill="#6434a8"/><circle cx="264.6" cy="209.9" r="0.53" fill="#6434a8"/><circle cx="276.1" cy="218.6" r="0.43" fill="#6434a8"/><circle cx="284.3" cy="253.0" r="0.52" fill="#6434a8"/><circle cx="296.1" cy="240.1" r="0.46" fill="#6434a8"/><circle cx="308.7" cy="241.0" r="0.57" fill="#7a4cb4"/><circle cx="281.4" cy="250.9" r="0.48" fill="#6434a8"/><circle cx="267.8" cy="236.2" r="0.39" fill="#7a4cb4"/><circle cx="279.0" cy="245.9" r="0.38" fill="#6434a8"/><circle cx="254.9" cy="223.6" r="0.35" fill="#6434a8"/><circle cx="312.7" cy="223.3" r="0.48" fill="#6434a8"/><circle cx="304.9" cy="244.0" r="0.44" fill="#7a4cb4"/><circle cx="306.3" cy="218.9" r="0.59" fill="#6434a8"/><circle cx="267.6" cy="209.0" r="0.50" fill="#7a4cb4"/><circle cx="282.8" cy="250.9" r="0.51" fill="#7a4cb4"/><circle cx="308.9" cy="210.2" r="0.39" fill="#6434a8"/><circle cx="298.2" cy="201.8" r="0.41" fill="#7a4cb4"/><circle cx="274.1" cy="221.0" r="0.36" fill="#7a4cb4"/><circle cx="312.3" cy="218.3" r="0.34" fill="#6434a8"/><circle cx="294.5" cy="201.7" r="0.57" fill="#6434a8"/><circle cx="311.5" cy="217.3" r="0.53" fill="#6434a8"/><circle cx="295.1" cy="234.0" r="0.38" fill="#7a4cb4"/><circle cx="312.7" cy="235.1" r="0.33" fill="#6434a8"/><circle cx="275.2" cy="237.8" r="0.47" fill="#6434a8"/><circle cx="306.8" cy="206.8" r="0.34" fill="#7a4cb4"/><circle cx="262.2" cy="214.8" r="0.48" fill="#7a4cb4"/><circle cx="293.4" cy="222.3" r="0.35" fill="#6434a8"/><circle cx="297.6" cy="240.0" r="0.52" fill="#6434a8"/><circle cx="269.9" cy="217.8" r="0.31" fill="#7a4cb4"/><circle cx="268.7" cy="240.8" r="0.40" fill="#6434a8"/><circle cx="286.9" cy="241.0" r="0.55" fill="#6434a8"/><circle cx="289.6" cy="196.7" r="0.36" fill="#6434a8"/><circle cx="279.2" cy="239.3" r="0.52" fill="#7a4cb4"/><circle cx="255.9" cy="220.0" r="0.36" fill="#6434a8"/><circle cx="303.0" cy="248.1" r="0.41" fill="#7a4cb4"/><circle cx="289.4" cy="232.8" r="0.51" fill="#6434a8"/><circle cx="306.5" cy="223.9" r="0.52" fill="#6434a8"/><circle cx="301.0" cy="234.5" r="0.46" fill="#6434a8"/><circle cx="255.1" cy="224.7" r="0.43" fill="#7a4cb4"/><circle cx="261.9" cy="242.2" r="0.32" fill="#6434a8"/><circle cx="267.9" cy="199.6" r="0.58" fill="#6434a8"/><circle cx="302.5" cy="203.0" r="0.58" fill="#7a4cb4"/><circle cx="299.1" cy="215.5" r="0.58" fill="#7a4cb4"/><circle cx="280.4" cy="240.1" r="0.33" fill="#6434a8"/><circle cx="263.4" cy="224.6" r="0.46" fill="#6434a8"/><circle cx="293.5" cy="213.2" r="0.53" fill="#6434a8"/><circle cx="297.8" cy="216.9" r="0.46" fill="#7a4cb4"/><circle cx="258.1" cy="231.3" r="0.36" fill="#6434a8"/><circle cx="305.1" cy="241.4" r="0.45" fill="#6434a8"/><circle cx="254.9" cy="221.7" r="0.51" fill="#6434a8"/><circle cx="310.9" cy="219.1" r="0.33" fill="#6434a8"/><circle cx="263.6" cy="232.1" r="0.34" fill="#6434a8"/><circle cx="298.3" cy="211.4" r="0.44" fill="#7a4cb4"/><circle cx="272.0" cy="209.9" r="0.54" fill="#7a4cb4"/><circle cx="274.7" cy="200.6" r="0.59" fill="#7a4cb4"/><circle cx="293.8" cy="248.7" r="0.59" fill="#6434a8"/><circle cx="272.3" cy="231.2" r="0.33" fill="#6434a8"/><circle cx="277.5" cy="214.9" r="0.58" fill="#6434a8"/><circle cx="299.1" cy="238.7" r="0.47" fill="#7a4cb4"/><circle cx="275.9" cy="219.7" r="0.53" fill="#6434a8"/><circle cx="270.1" cy="205.1" r="0.48" fill="#7a4cb4"/><circle cx="277.9" cy="200.1" r="0.44" fill="#7a4cb4"/><circle cx="295.2" cy="200.8" r="0.55" fill="#7a4cb4"/><circle cx="281.2" cy="248.5" r="0.40" fill="#6434a8"/><circle cx="257.9" cy="218.8" r="0.33" fill="#7a4cb4"/><circle cx="301.0" cy="247.9" r="0.48" fill="#6434a8"/><circle cx="267.1" cy="228.5" r="0.53" fill="#7a4cb4"/><circle cx="296.0" cy="247.9" r="0.55" fill="#6434a8"/><circle cx="257.7" cy="230.5" r="0.55" fill="#7a4cb4"/><circle cx="293.0" cy="240.4" r="0.40" fill="#7a4cb4"/><circle cx="280.9" cy="201.6" r="0.48" fill="#7a4cb4"/><circle cx="266.2" cy="227.1" r="0.52" fill="#6434a8"/><circle cx="256.3" cy="215.5" r="0.43" fill="#7a4cb4"/><circle cx="290.8" cy="207.8" r="0.60" fill="#6434a8"/><circle cx="280.0" cy="200.0" r="0.35" fill="#7a4cb4"/><circle cx="298.2" cy="247.1" r="0.48" fill="#7a4cb4"/><circle cx="286.5" cy="220.0" r="0.57" fill="#7a4cb4"/><circle cx="283.3" cy="241.1" r="0.60" fill="#7a4cb4"/><circle cx="308.6" cy="241.0" r="0.39" fill="#7a4cb4"/><circle cx="292.9" cy="197.4" r="0.38" fill="#6434a8"/><circle cx="274.7" cy="239.2" r="0.39" fill="#6434a8"/><circle cx="301.3" cy="248.4" r="0.51" fill="#7a4cb4"/><circle cx="276.5" cy="204.6" r="0.44" fill="#7a4cb4"/><circle cx="286.9" cy="216.4" r="0.39" fill="#6434a8"/><circle cx="308.1" cy="243.1" r="0.37" fill="#7a4cb4"/><circle cx="310.1" cy="232.9" r="0.53" fill="#6434a8"/><circle cx="258.8" cy="217.5" r="0.39" fill="#6434a8"/><circle cx="302.9" cy="219.9" r="0.31" fill="#6434a8"/><circle cx="292.2" cy="235.2" r="0.54" fill="#6434a8"/><circle cx="261.9" cy="240.2" r="0.45" fill="#7a4cb4"/><circle cx="313.3" cy="227.8" r="0.57" fill="#7a4cb4"/><circle cx="282.3" cy="234.7" r="0.54" fill="#7a4cb4"/><circle cx="296.3" cy="250.7" r="0.60" fill="#7a4cb4"/><circle cx="278.6" cy="216.0" r="0.54" fill="#6434a8"/><circle cx="272.9" cy="226.1" r="0.56" fill="#7a4cb4"/><circle cx="258.7" cy="212.3" r="0.45" fill="#6434a8"/><circle cx="270.7" cy="201.3" r="0.45" fill="#7a4cb4"/><circle cx="308.0" cy="212.3" r="0.41" fill="#7a4cb4"/><circle cx="273.0" cy="211.1" r="0.58" fill="#6434a8"/><circle cx="284.3" cy="254.5" r="0.32" fill="#6434a8"/><circle cx="285.9" cy="239.3" r="0.49" fill="#7a4cb4"/><circle cx="270.0" cy="223.8" r="0.46" fill="#6434a8"/><circle cx="312.3" cy="234.5" r="0.35" fill="#6434a8"/><circle cx="312.1" cy="218.0" r="0.41" fill="#6434a8"/><circle cx="277.5" cy="253.9" r="0.34" fill="#6434a8"/><circle cx="261.3" cy="216.0" r="0.32" fill="#6434a8"/><circle cx="275.3" cy="251.7" r="0.51" fill="#6434a8"/><circle cx="299.6" cy="241.6" r="0.44" fill="#7a4cb4"/><circle cx="280.7" cy="226.9" r="0.36" fill="#7a4cb4"/><circle cx="305.2" cy="205.0" r="0.36" fill="#6434a8"/><circle cx="313.8" cy="219.4" r="0.33" fill="#6434a8"/><circle cx="307.1" cy="242.3" r="0.51" fill="#7a4cb4"/><circle cx="300.7" cy="200.5" r="0.43" fill="#6434a8"/><circle cx="290.5" cy="214.3" r="0.41" fill="#6434a8"/><circle cx="275.6" cy="230.8" r="0.58" fill="#7a4cb4"/><circle cx="304.9" cy="212.1" r="0.38" fill="#6434a8"/><circle cx="284.3" cy="238.6" r="0.49" fill="#6434a8"/><circle cx="313.1" cy="222.0" r="0.46" fill="#7a4cb4"/><circle cx="314.3" cy="226.5" r="0.49" fill="#6434a8"/><circle cx="279.7" cy="245.5" r="0.32" fill="#7a4cb4"/><circle cx="277.2" cy="253.5" r="0.36" fill="#7a4cb4"/><circle cx="307.9" cy="220.7" r="0.51" fill="#6434a8"/><circle cx="272.0" cy="225.1" r="0.41" fill="#7a4cb4"/><circle cx="289.5" cy="251.3" r="0.48" fill="#6434a8"/><circle cx="258.5" cy="214.1" r="0.31" fill="#7a4cb4"/><circle cx="310.3" cy="226.8" r="0.55" fill="#7a4cb4"/><circle cx="309.7" cy="221.3" r="0.34" fill="#7a4cb4"/><circle cx="276.8" cy="223.3" r="0.39" fill="#6434a8"/><circle cx="311.7" cy="229.5" r="0.30" fill="#7a4cb4"/><circle cx="264.8" cy="211.3" r="0.45" fill="#6434a8"/><circle cx="292.2" cy="234.3" r="0.33" fill="#7a4cb4"/><circle cx="296.1" cy="200.0" r="0.53" fill="#7a4cb4"/><circle cx="283.1" cy="220.2" r="0.55" fill="#6434a8"/><circle cx="279.3" cy="229.7" r="0.36" fill="#6434a8"/><circle cx="310.6" cy="213.8" r="0.47" fill="#6434a8"/><circle cx="267.8" cy="222.9" r="0.46" fill="#6434a8"/><circle cx="286.0" cy="207.1" r="0.57" fill="#6434a8"/><circle cx="286.2" cy="231.9" r="0.53" fill="#7a4cb4"/><circle cx="306.3" cy="239.0" r="0.32" fill="#6434a8"/><circle cx="272.7" cy="206.6" r="0.36" fill="#7a4cb4"/><circle cx="309.8" cy="218.7" r="0.36" fill="#6434a8"/><circle cx="284.2" cy="217.9" r="0.55" fill="#6434a8"/><circle cx="284.2" cy="251.3" r="0.51" fill="#6434a8"/><circle cx="260.3" cy="208.1" r="0.47" fill="#6434a8"/><circle cx="296.6" cy="207.8" r="0.48" fill="#6434a8"/><circle cx="299.8" cy="218.5" r="0.48" fill="#7a4cb4"/><circle cx="280.7" cy="198.3" r="0.56" fill="#6434a8"/><circle cx="289.2" cy="211.0" r="0.51" fill="#6434a8"/><circle cx="283.3" cy="205.7" r="0.40" fill="#7a4cb4"/><circle cx="289.4" cy="201.4" r="0.56" fill="#6434a8"/><circle cx="286.7" cy="246.4" r="0.45" fill="#7a4cb4"/><circle cx="286.3" cy="197.1" r="0.39" fill="#7a4cb4"/><circle cx="308.0" cy="227.3" r="0.55" fill="#7a4cb4"/><circle cx="295.3" cy="238.8" r="0.44" fill="#7a4cb4"/><circle cx="268.9" cy="236.6" r="0.42" fill="#6434a8"/><circle cx="287.6" cy="214.1" r="0.35" fill="#6434a8"/><circle cx="265.6" cy="219.3" r="0.33" fill="#6434a8"/><circle cx="283.2" cy="207.0" r="0.35" fill="#6434a8"/><circle cx="286.6" cy="250.0" r="0.45" fill="#6434a8"/><circle cx="257.6" cy="211.5" r="0.58" fill="#6434a8"/><circle cx="311.9" cy="223.4" r="0.38" fill="#7a4cb4"/><circle cx="265.0" cy="229.1" r="0.36" fill="#6434a8"/><circle cx="275.8" cy="197.3" r="0.37" fill="#6434a8"/><circle cx="300.5" cy="204.9" r="0.38" fill="#7a4cb4"/><circle cx="276.4" cy="246.9" r="0.45" fill="#7a4cb4"/><circle cx="279.8" cy="242.9" r="0.46" fill="#7a4cb4"/><circle cx="267.1" cy="204.5" r="0.53" fill="#7a4cb4"/><circle cx="256.5" cy="214.8" r="0.58" fill="#6434a8"/><circle cx="299.1" cy="223.9" r="0.34" fill="#7a4cb4"/><circle cx="303.3" cy="246.1" r="0.57" fill="#6434a8"/><circle cx="301.9" cy="218.3" r="0.60" fill="#7a4cb4"/><circle cx="278.5" cy="252.7" r="0.35" fill="#6434a8"/><circle cx="285.4" cy="214.5" r="0.33" fill="#7a4cb4"/><circle cx="277.4" cy="243.0" r="0.50" fill="#6434a8"/><circle cx="267.3" cy="222.0" r="0.40" fill="#6434a8"/><circle cx="279.1" cy="200.7" r="0.47" fill="#7a4cb4"/><circle cx="311.7" cy="229.2" r="0.36" fill="#7a4cb4"/><circle cx="269.8" cy="240.4" r="0.50" fill="#7a4cb4"/><circle cx="285.6" cy="220.4" r="0.32" fill="#7a4cb4"/><circle cx="284.3" cy="200.9" r="0.47" fill="#7a4cb4"/><circle cx="280.5" cy="202.5" r="0.35" fill="#6434a8"/><circle cx="284.3" cy="223.6" r="0.58" fill="#6434a8"/><circle cx="276.5" cy="196.6" r="0.57" fill="#6434a8"/><circle cx="295.1" cy="213.2" r="0.39" fill="#6434a8"/><circle cx="310.0" cy="219.1" r="0.59" fill="#6434a8"/><circle cx="258.6" cy="239.4" r="0.53" fill="#7a4cb4"/><circle cx="292.3" cy="199.9" r="0.78" fill="#7a4cb4"/><circle cx="295.2" cy="250.2" r="0.85" fill="#7a4cb4"/><circle cx="277.6" cy="222.7" r="0.61" fill="#6434a8"/><circle cx="299.0" cy="210.4" r="0.69" fill="#6434a8"/><circle cx="293.6" cy="239.3" r="0.77" fill="#6434a8"/><circle cx="274.3" cy="198.5" r="0.80" fill="#7a4cb4"/><circle cx="296.7" cy="249.6" r="0.69" fill="#7a4cb4"/><circle cx="288.3" cy="215.3" r="0.61" fill="#7a4cb4"/><circle cx="299.8" cy="216.7" r="0.70" fill="#6434a8"/><circle cx="267.6" cy="206.7" r="0.82" fill="#7a4cb4"/><circle cx="259.9" cy="240.7" r="0.73" fill="#7a4cb4"/><circle cx="280.2" cy="206.9" r="0.83" fill="#7a4cb4"/><circle cx="308.4" cy="242.7" r="0.94" fill="#6434a8"/><circle cx="259.0" cy="208.2" r="0.70" fill="#7a4cb4"/><circle cx="290.7" cy="253.2" r="0.75" fill="#6434a8"/><circle cx="280.8" cy="250.3" r="0.61" fill="#7a4cb4"/><circle cx="273.0" cy="218.0" r="0.70" fill="#6434a8"/><circle cx="308.2" cy="209.5" r="0.93" fill="#6434a8"/><circle cx="309.0" cy="214.9" r="0.68" fill="#7a4cb4"/><circle cx="288.0" cy="218.7" r="0.70" fill="#7a4cb4"/><circle cx="314.1" cy="219.0" r="0.92" fill="#7a4cb4"/><circle cx="306.9" cy="209.8" r="0.70" fill="#7a4cb4"/><circle cx="306.8" cy="208.6" r="0.72" fill="#7a4cb4"/><circle cx="260.9" cy="213.2" r="0.91" fill="#6434a8"/><circle cx="272.6" cy="250.2" r="0.74" fill="#6434a8"/><circle cx="271.4" cy="224.0" r="0.75" fill="#7a4cb4"/><circle cx="300.6" cy="202.3" r="0.73" fill="#7a4cb4"/><circle cx="305.6" cy="217.4" r="0.73" fill="#6434a8"/><circle cx="287.1" cy="223.6" r="0.76" fill="#6434a8"/><circle cx="297.6" cy="206.1" r="0.64" fill="#7a4cb4"/><circle cx="264.3" cy="242.4" r="0.63" fill="#7a4cb4"/><circle cx="305.2" cy="245.4" r="0.94" fill="#6434a8"/><circle cx="276.8" cy="201.4" r="0.76" fill="#7a4cb4"/><circle cx="295.2" cy="247.2" r="0.63" fill="#7a4cb4"/><circle cx="304.6" cy="211.7" r="0.61" fill="#6434a8"/><circle cx="285.0" cy="250.9" r="0.85" fill="#7a4cb4"/><circle cx="291.7" cy="240.7" r="0.60" fill="#6434a8"/><circle cx="286.5" cy="252.8" r="0.81" fill="#6434a8"/><circle cx="305.7" cy="221.5" r="0.83" fill="#6434a8"/><circle cx="298.4" cy="242.7" r="0.70" fill="#6434a8"/><circle cx="280.5" cy="218.2" r="0.84" fill="#6434a8"/><circle cx="274.2" cy="240.7" r="0.70" fill="#6434a8"/><circle cx="310.7" cy="238.5" r="0.74" fill="#7a4cb4"/><circle cx="267.1" cy="247.4" r="0.73" fill="#7a4cb4"/><circle cx="293.5" cy="222.3" r="0.81" fill="#7a4cb4"/><circle cx="284.0" cy="226.2" r="0.89" fill="#6434a8"/><circle cx="301.9" cy="212.8" r="0.63" fill="#6434a8"/><circle cx="280.8" cy="237.4" r="0.69" fill="#6434a8"/><circle cx="296.2" cy="248.4" r="0.94" fill="#6434a8"/><circle cx="288.3" cy="212.3" r="0.88" fill="#7a4cb4"/><circle cx="283.6" cy="197.7" r="0.71" fill="#6434a8"/><circle cx="292.0" cy="229.9" r="0.90" fill="#7a4cb4"/><circle cx="274.6" cy="198.8" r="0.73" fill="#7a4cb4"/><circle cx="289.3" cy="209.2" r="0.82" fill="#6434a8"/><circle cx="299.8" cy="208.6" r="0.65" fill="#6434a8"/><circle cx="268.8" cy="246.4" r="0.80" fill="#6434a8"/><circle cx="310.7" cy="210.9" r="0.93" fill="#7a4cb4"/><circle cx="291.5" cy="253.1" r="0.71" fill="#6434a8"/><circle cx="283.3" cy="197.7" r="0.91" fill="#7a4cb4"/><circle cx="281.6" cy="251.7" r="0.75" fill="#7a4cb4"/><circle cx="307.7" cy="239.1" r="0.84" fill="#6434a8"/><circle cx="284.8" cy="239.6" r="0.73" fill="#6434a8"/><circle cx="291.4" cy="208.6" r="0.60" fill="#7a4cb4"/><circle cx="283.4" cy="206.6" r="0.77" fill="#7a4cb4"/><circle cx="308.0" cy="230.0" r="0.91" fill="#6434a8"/><circle cx="304.5" cy="244.7" r="0.87" fill="#6434a8"/><circle cx="266.2" cy="233.9" r="0.87" fill="#7a4cb4"/><circle cx="304.4" cy="216.2" r="0.92" fill="#7a4cb4"/><circle cx="276.8" cy="228.4" r="0.83" fill="#7a4cb4"/><circle cx="308.0" cy="240.2" r="0.67" fill="#7a4cb4"/><circle cx="304.2" cy="233.9" r="0.85" fill="#7a4cb4"/><circle cx="276.5" cy="230.1" r="0.83" fill="#7a4cb4"/><circle cx="288.7" cy="251.3" r="0.80" fill="#7a4cb4"/><circle cx="291.9" cy="229.8" r="0.82" fill="#6434a8"/><circle cx="285.9" cy="210.4" r="0.88" fill="#6434a8"/><circle cx="300.0" cy="217.9" r="0.66" fill="#7a4cb4"/><circle cx="295.4" cy="201.8" r="0.80" fill="#6434a8"/><circle cx="257.1" cy="220.1" r="0.82" fill="#6434a8"/><circle cx="303.7" cy="216.2" r="0.74" fill="#6434a8"/><circle cx="255.3" cy="216.8" r="0.81" fill="#6434a8"/><circle cx="300.2" cy="244.2" r="0.82" fill="#6434a8"/><circle cx="265.6" cy="208.4" r="0.67" fill="#6434a8"/><circle cx="300.7" cy="205.1" r="0.76" fill="#7a4cb4"/><circle cx="304.0" cy="207.3" r="0.75" fill="#6434a8"/><circle cx="256.3" cy="236.9" r="0.71" fill="#7a4cb4"/><circle cx="266.4" cy="248.4" r="0.78" fill="#6434a8"/><circle cx="268.1" cy="233.4" r="0.91" fill="#6434a8"/><circle cx="307.0" cy="232.1" r="0.72" fill="#6434a8"/><circle cx="307.2" cy="243.2" r="0.91" fill="#7a4cb4"/><circle cx="305.1" cy="228.1" r="0.84" fill="#7a4cb4"/><circle cx="284.4" cy="252.2" r="0.64" fill="#7a4cb4"/><circle cx="289.0" cy="239.1" r="0.68" fill="#7a4cb4"/><circle cx="261.2" cy="242.7" r="0.88" fill="#6434a8"/><circle cx="290.6" cy="201.8" r="0.75" fill="#7a4cb4"/><circle cx="268.1" cy="243.8" r="0.93" fill="#6434a8"/><circle cx="296.5" cy="212.4" r="0.64" fill="#7a4cb4"/><circle cx="290.0" cy="198.7" r="0.71" fill="#6434a8"/><circle cx="270.8" cy="237.3" r="0.82" fill="#7a4cb4"/><circle cx="304.2" cy="237.6" r="0.69" fill="#6434a8"/><circle cx="287.2" cy="207.2" r="0.71" fill="#7a4cb4"/></g>
<defs><clipPath id="cdg4"><ellipse cx="284.3" cy="293" rx="30.8" ry="29.2"/></clipPath><radialGradient id="dg4" cx="50%" cy="50%" r="50%"><stop offset="0" stop-color="#cec6cc"/><stop offset="0.85" stop-color="#cec6cc"/><stop offset="1" stop-color="#c0b4c4"/></radialGradient></defs>
<ellipse cx="284.3" cy="293" rx="30.8" ry="29.2" fill="url(#dg4)"/>
<g clip-path="url(#cdg4)"><circle cx="268.0" cy="269.8" r="0.35" fill="#6434a8"/><circle cx="278.2" cy="317.4" r="0.53" fill="#6434a8"/><circle cx="305.6" cy="308.9" r="0.58" fill="#7a4cb4"/><circle cx="273.6" cy="318.6" r="0.52" fill="#7a4cb4"/><circle cx="290.8" cy="303.0" r="0.35" fill="#6434a8"/><circle cx="306.8" cy="295.8" r="0.57" fill="#7a4cb4"/><circle cx="284.8" cy="288.0" r="0.43" fill="#6434a8"/><circle cx="312.2" cy="300.9" r="0.38" fill="#7a4cb4"/><circle cx="282.5" cy="283.8" r="0.36" fill="#6434a8"/><circle cx="266.0" cy="300.7" r="0.41" fill="#7a4cb4"/><circle cx="273.3" cy="296.4" r="0.33" fill="#6434a8"/><circle cx="267.6" cy="308.5" r="0.37" fill="#6434a8"/><circle cx="274.4" cy="265.8" r="0.59" fill="#7a4cb4"/><circle cx="301.3" cy="287.8" r="0.49" fill="#7a4cb4"/><circle cx="271.6" cy="275.0" r="0.34" fill="#6434a8"/><circle cx="310.2" cy="300.1" r="0.54" fill="#6434a8"/><circle cx="271.4" cy="269.5" r="0.43" fill="#6434a8"/><circle cx="311.8" cy="299.9" r="0.37" fill="#7a4cb4"/><circle cx="261.0" cy="294.7" r="0.42" fill="#7a4cb4"/><circle cx="282.9" cy="277.9" r="0.31" fill="#6434a8"/><circle cx="268.8" cy="315.7" r="0.45" fill="#6434a8"/><circle cx="287.8" cy="321.4" r="0.34" fill="#6434a8"/><circle cx="310.7" cy="296.8" r="0.42" fill="#7a4cb4"/><circle cx="293.8" cy="310.0" r="0.45" fill="#6434a8"/><circle cx="266.5" cy="314.8" r="0.58" fill="#6434a8"/><circle cx="294.0" cy="310.5" r="0.54" fill="#7a4cb4"/><circle cx="293.8" cy="303.9" r="0.58" fill="#7a4cb4"/><circle cx="305.9" cy="277.9" r="0.59" fill="#7a4cb4"/><circle cx="292.6" cy="297.0" r="0.58" fill="#6434a8"/><circle cx="260.6" cy="311.1" r="0.56" fill="#7a4cb4"/><circle cx="307.6" cy="275.6" r="0.40" fill="#7a4cb4"/><circle cx="301.2" cy="291.3" r="0.31" fill="#6434a8"/><circle cx="290.1" cy="292.3" r="0.48" fill="#6434a8"/><circle cx="275.8" cy="308.6" r="0.30" fill="#7a4cb4"/><circle cx="287.0" cy="286.1" r="0.39" fill="#6434a8"/><circle cx="306.2" cy="311.1" r="0.57" fill="#7a4cb4"/><circle cx="280.2" cy="313.9" r="0.32" fill="#7a4cb4"/><circle cx="265.6" cy="281.5" r="0.43" fill="#7a4cb4"/><circle cx="264.4" cy="272.5" r="0.40" fill="#7a4cb4"/><circle cx="273.4" cy="318.2" r="0.45" fill="#7a4cb4"/><circle cx="300.3" cy="271.4" r="0.53" fill="#7a4cb4"/><circle cx="292.1" cy="303.3" r="0.39" fill="#7a4cb4"/><circle cx="282.3" cy="317.0" r="0.56" fill="#7a4cb4"/><circle cx="288.0" cy="266.8" r="0.50" fill="#6434a8"/><circle cx="303.3" cy="274.2" r="0.41" fill="#7a4cb4"/><circle cx="259.3" cy="309.6" r="0.35" fill="#7a4cb4"/><circle cx="314.6" cy="296.7" r="0.55" fill="#7a4cb4"/><circle cx="263.3" cy="297.9" r="0.47" fill="#7a4cb4"/><circle cx="260.7" cy="301.9" r="0.52" fill="#7a4cb4"/><circle cx="304.7" cy="281.5" r="0.42" fill="#7a4cb4"/><circle cx="308.7" cy="304.9" r="0.37" fill="#6434a8"/><circle cx="308.9" cy="287.2" r="0.55" fill="#6434a8"/><circle cx="255.8" cy="286.0" r="0.48" fill="#6434a8"/><circle cx="312.2" cy="305.0" r="0.60" fill="#7a4cb4"/><circle cx="282.9" cy="318.8" r="0.58" fill="#7a4cb4"/><circle cx="275.0" cy="320.6" r="0.35" fill="#7a4cb4"/><circle cx="295.4" cy="295.8" r="0.38" fill="#7a4cb4"/><circle cx="308.3" cy="304.8" r="0.50" fill="#7a4cb4"/><circle cx="307.6" cy="305.8" r="0.51" fill="#7a4cb4"/><circle cx="300.2" cy="270.7" r="0.32" fill="#6434a8"/><circle cx="307.4" cy="278.8" r="0.50" fill="#7a4cb4"/><circle cx="273.7" cy="286.4" r="0.31" fill="#7a4cb4"/><circle cx="262.9" cy="272.9" r="0.55" fill="#6434a8"/><circle cx="287.6" cy="291.6" r="0.36" fill="#7a4cb4"/><circle cx="276.9" cy="313.3" r="0.48" fill="#6434a8"/><circle cx="291.6" cy="317.0" r="0.49" fill="#7a4cb4"/><circle cx="290.5" cy="266.0" r="0.38" fill="#7a4cb4"/><circle cx="294.3" cy="281.8" r="0.49" fill="#6434a8"/><circle cx="294.1" cy="304.6" r="0.46" fill="#7a4cb4"/><circle cx="275.2" cy="268.6" r="0.45" fill="#7a4cb4"/><circle cx="311.1" cy="305.2" r="0.57" fill="#7a4cb4"/><circle cx="300.5" cy="270.1" r="0.49" fill="#6434a8"/><circle cx="282.9" cy="272.3" r="0.57" fill="#7a4cb4"/><circle cx="303.8" cy="281.2" r="0.48" fill="#6434a8"/><circle cx="278.9" cy="320.7" r="0.56" fill="#6434a8"/><circle cx="296.0" cy="309.9" r="0.43" fill="#6434a8"/><circle cx="310.9" cy="279.9" r="0.42" fill="#7a4cb4"/><circle cx="305.4" cy="282.6" r="0.38" fill="#7a4cb4"/><circle cx="285.7" cy="267.8" r="0.60" fill="#6434a8"/><circle cx="259.2" cy="276.2" r="0.50" fill="#7a4cb4"/><circle cx="284.3" cy="270.5" r="0.44" fill="#7a4cb4"/><circle cx="263.8" cy="278.1" r="0.33" fill="#7a4cb4"/><circle cx="271.8" cy="296.9" r="0.57" fill="#6434a8"/><circle cx="305.7" cy="274.3" r="0.31" fill="#7a4cb4"/><circle cx="271.8" cy="316.4" r="0.59" fill="#7a4cb4"/><circle cx="264.1" cy="276.4" r="0.59" fill="#7a4cb4"/><circle cx="309.2" cy="304.9" r="0.55" fill="#6434a8"/><circle cx="265.8" cy="271.8" r="0.46" fill="#7a4cb4"/><circle cx="275.8" cy="307.2" r="0.53" fill="#6434a8"/><circle cx="260.1" cy="281.5" r="0.49" fill="#6434a8"/><circle cx="275.9" cy="305.2" r="0.36" fill="#6434a8"/><circle cx="304.3" cy="306.5" r="0.45" fill="#6434a8"/><circle cx="272.4" cy="305.8" r="0.34" fill="#6434a8"/><circle cx="282.1" cy="284.6" r="0.34" fill="#6434a8"/><circle cx="301.8" cy="306.6" r="0.33" fill="#6434a8"/><circle cx="287.9" cy="316.0" r="0.59" fill="#7a4cb4"/><circle cx="264.7" cy="299.7" r="0.48" fill="#7a4cb4"/><circle cx="254.9" cy="289.3" r="0.34" fill="#6434a8"/><circle cx="264.8" cy="280.5" r="0.39" fill="#7a4cb4"/><circle cx="264.0" cy="284.0" r="0.46" fill="#7a4cb4"/><circle cx="311.2" cy="278.9" r="0.46" fill="#7a4cb4"/><circle cx="258.0" cy="297.6" r="0.56" fill="#7a4cb4"/><circle cx="297.2" cy="267.1" r="0.32" fill="#7a4cb4"/><circle cx="301.9" cy="299.1" r="0.38" fill="#6434a8"/><circle cx="257.2" cy="297.5" r="0.51" fill="#7a4cb4"/><circle cx="308.2" cy="280.6" r="0.30" fill="#7a4cb4"/><circle cx="260.0" cy="303.2" r="0.43" fill="#7a4cb4"/><circle cx="271.0" cy="313.2" r="0.55" fill="#6434a8"/><circle cx="265.7" cy="271.6" r="0.49" fill="#7a4cb4"/><circle cx="259.6" cy="302.9" r="0.33" fill="#7a4cb4"/><circle cx="273.5" cy="283.6" r="0.48" fill="#6434a8"/><circle cx="293.0" cy="267.9" r="0.35" fill="#7a4cb4"/><circle cx="287.1" cy="288.6" r="0.41" fill="#7a4cb4"/><circle cx="265.2" cy="274.9" r="0.44" fill="#7a4cb4"/><circle cx="287.0" cy="297.7" r="0.36" fill="#7a4cb4"/><circle cx="295.6" cy="306.2" r="0.44" fill="#6434a8"/><circle cx="272.2" cy="282.3" r="0.39" fill="#6434a8"/><circle cx="283.3" cy="280.9" r="0.50" fill="#6434a8"/><circle cx="306.7" cy="310.4" r="0.55" fill="#6434a8"/><circle cx="285.2" cy="322.0" r="0.42" fill="#6434a8"/><circle cx="280.7" cy="306.6" r="0.33" fill="#7a4cb4"/><circle cx="280.2" cy="306.9" r="0.59" fill="#6434a8"/><circle cx="264.9" cy="314.3" r="0.47" fill="#6434a8"/><circle cx="311.2" cy="289.1" r="0.42" fill="#6434a8"/><circle cx="278.3" cy="317.7" r="0.44" fill="#7a4cb4"/><circle cx="300.2" cy="315.4" r="0.50" fill="#7a4cb4"/><circle cx="310.9" cy="279.3" r="0.59" fill="#7a4cb4"/><circle cx="297.3" cy="289.2" r="0.56" fill="#7a4cb4"/><circle cx="291.8" cy="317.8" r="0.40" fill="#6434a8"/><circle cx="307.6" cy="300.6" r="0.37" fill="#6434a8"/><circle cx="283.0" cy="315.0" r="0.43" fill="#6434a8"/><circle cx="296.6" cy="308.4" r="0.52" fill="#6434a8"/><circle cx="262.2" cy="284.8" r="0.52" fill="#7a4cb4"/><circle cx="301.1" cy="310.0" r="0.58" fill="#7a4cb4"/><circle cx="274.9" cy="293.5" r="0.54" fill="#7a4cb4"/><circle cx="299.2" cy="302.9" r="0.49" fill="#6434a8"/><circle cx="313.3" cy="285.1" r="0.39" fill="#6434a8"/><circle cx="296.6" cy="267.0" r="0.47" fill="#6434a8"/><circle cx="280.7" cy="305.9" r="0.37" fill="#7a4cb4"/><circle cx="311.4" cy="293.9" r="0.54" fill="#6434a8"/><circle cx="254.4" cy="292.0" r="0.47" fill="#7a4cb4"/><circle cx="297.1" cy="317.3" r="0.49" fill="#6434a8"/><circle cx="269.0" cy="269.4" r="0.40" fill="#7a4cb4"/><circle cx="284.6" cy="320.0" r="0.42" fill="#6434a8"/><circle cx="305.9" cy="301.1" r="0.55" fill="#7a4cb4"/><circle cx="304.3" cy="304.9" r="0.55" fill="#7a4cb4"/><circle cx="264.0" cy="290.4" r="0.46" fill="#7a4cb4"/><circle cx="266.8" cy="273.0" r="0.30" fill="#6434a8"/><circle cx="288.2" cy="315.3" r="0.58" fill="#7a4cb4"/><circle cx="263.2" cy="309.3" r="0.59" fill="#7a4cb4"/><circle cx="277.5" cy="295.6" r="0.48" fill="#6434a8"/><circle cx="275.1" cy="316.6" r="0.44" fill="#6434a8"/><circle cx="286.1" cy="280.1" r="0.53" fill="#6434a8"/><circle cx="303.5" cy="297.8" r="0.57" fill="#6434a8"/><circle cx="254.1" cy="294.5" r="0.40" fill="#7a4cb4"/><circle cx="291.5" cy="320.2" r="0.44" fill="#7a4cb4"/><circle cx="261.4" cy="273.8" r="0.45" fill="#7a4cb4"/><circle cx="281.2" cy="283.0" r="0.51" fill="#7a4cb4"/><circle cx="303.1" cy="292.1" r="0.33" fill="#7a4cb4"/><circle cx="299.6" cy="316.5" r="0.45" fill="#6434a8"/><circle cx="276.6" cy="295.7" r="0.48" fill="#6434a8"/><circle cx="284.8" cy="274.1" r="0.35" fill="#6434a8"/><circle cx="255.6" cy="298.4" r="0.39" fill="#6434a8"/><circle cx="272.0" cy="270.8" r="0.57" fill="#6434a8"/><circle cx="283.9" cy="278.8" r="0.53" fill="#6434a8"/><circle cx="279.3" cy="285.6" r="0.41" fill="#7a4cb4"/><circle cx="277.4" cy="271.3" r="0.60" fill="#7a4cb4"/><circle cx="297.7" cy="318.0" r="0.41" fill="#7a4cb4"/><circle cx="263.9" cy="274.1" r="0.53" fill="#6434a8"/><circle cx="273.2" cy="269.2" r="0.52" fill="#7a4cb4"/><circle cx="284.3" cy="321.1" r="0.31" fill="#6434a8"/><circle cx="278.6" cy="310.8" r="0.47" fill="#7a4cb4"/><circle cx="304.0" cy="315.1" r="0.38" fill="#7a4cb4"/><circle cx="311.8" cy="296.6" r="0.38" fill="#6434a8"/><circle cx="257.2" cy="299.5" r="0.38" fill="#6434a8"/><circle cx="288.9" cy="269.6" r="0.38" fill="#7a4cb4"/><circle cx="261.1" cy="286.6" r="0.46" fill="#6434a8"/><circle cx="305.9" cy="293.9" r="0.40" fill="#6434a8"/><circle cx="292.5" cy="289.5" r="0.49" fill="#7a4cb4"/><circle cx="296.5" cy="281.1" r="0.51" fill="#7a4cb4"/><circle cx="277.3" cy="294.9" r="0.40" fill="#6434a8"/><circle cx="291.8" cy="285.6" r="0.40" fill="#6434a8"/><circle cx="291.1" cy="298.7" r="0.58" fill="#6434a8"/><circle cx="281.1" cy="301.9" r="0.48" fill="#6434a8"/><circle cx="302.2" cy="307.6" r="0.38" fill="#7a4cb4"/><circle cx="265.9" cy="269.7" r="0.35" fill="#6434a8"/><circle cx="290.8" cy="272.5" r="0.41" fill="#7a4cb4"/><circle cx="258.3" cy="293.6" r="0.35" fill="#6434a8"/><circle cx="275.9" cy="284.7" r="0.47" fill="#6434a8"/><circle cx="280.6" cy="299.4" r="0.34" fill="#7a4cb4"/><circle cx="257.9" cy="285.6" r="0.82" fill="#7a4cb4"/><circle cx="293.5" cy="297.2" r="0.68" fill="#7a4cb4"/><circle cx="310.7" cy="297.8" r="0.79" fill="#6434a8"/><circle cx="302.4" cy="272.8" r="0.92" fill="#7a4cb4"/><circle cx="284.9" cy="281.3" r="0.85" fill="#7a4cb4"/><circle cx="282.3" cy="264.6" r="0.63" fill="#6434a8"/><circle cx="257.9" cy="297.4" r="0.66" fill="#7a4cb4"/><circle cx="274.4" cy="301.3" r="0.65" fill="#7a4cb4"/><circle cx="284.3" cy="321.2" r="0.94" fill="#7a4cb4"/><circle cx="302.3" cy="312.8" r="0.85" fill="#7a4cb4"/><circle cx="257.2" cy="295.3" r="0.79" fill="#7a4cb4"/><circle cx="257.6" cy="288.1" r="0.79" fill="#7a4cb4"/><circle cx="283.7" cy="296.9" r="0.84" fill="#7a4cb4"/><circle cx="277.9" cy="280.5" r="0.72" fill="#7a4cb4"/><circle cx="266.8" cy="288.3" r="0.91" fill="#7a4cb4"/><circle cx="269.7" cy="278.0" r="0.76" fill="#6434a8"/><circle cx="260.7" cy="305.9" r="0.88" fill="#6434a8"/><circle cx="283.1" cy="272.3" r="0.68" fill="#6434a8"/><circle cx="288.1" cy="273.4" r="0.66" fill="#6434a8"/><circle cx="300.0" cy="279.2" r="0.87" fill="#7a4cb4"/><circle cx="303.4" cy="314.5" r="0.63" fill="#6434a8"/><circle cx="281.5" cy="280.5" r="0.74" fill="#7a4cb4"/><circle cx="257.8" cy="289.7" r="0.88" fill="#6434a8"/><circle cx="308.9" cy="281.1" r="0.67" fill="#6434a8"/><circle cx="256.2" cy="295.0" r="0.94" fill="#6434a8"/><circle cx="303.3" cy="277.5" r="0.61" fill="#6434a8"/><circle cx="292.6" cy="294.8" r="0.82" fill="#6434a8"/><circle cx="294.3" cy="287.0" r="0.85" fill="#6434a8"/><circle cx="300.4" cy="312.0" r="0.62" fill="#6434a8"/><circle cx="263.6" cy="273.6" r="0.87" fill="#6434a8"/><circle cx="302.5" cy="313.1" r="0.86" fill="#6434a8"/><circle cx="297.7" cy="297.3" r="0.88" fill="#6434a8"/><circle cx="277.9" cy="271.7" r="0.66" fill="#6434a8"/><circle cx="307.5" cy="277.6" r="0.74" fill="#7a4cb4"/><circle cx="283.1" cy="321.1" r="0.82" fill="#7a4cb4"/><circle cx="270.8" cy="300.9" r="0.94" fill="#6434a8"/><circle cx="295.2" cy="318.8" r="0.72" fill="#6434a8"/><circle cx="298.8" cy="311.8" r="0.88" fill="#7a4cb4"/><circle cx="301.4" cy="271.3" r="0.79" fill="#6434a8"/><circle cx="265.8" cy="313.8" r="0.67" fill="#6434a8"/><circle cx="258.2" cy="284.2" r="0.69" fill="#6434a8"/><circle cx="261.8" cy="299.2" r="0.67" fill="#7a4cb4"/><circle cx="281.0" cy="267.5" r="0.70" fill="#6434a8"/><circle cx="303.5" cy="285.5" r="0.84" fill="#7a4cb4"/><circle cx="281.9" cy="296.7" r="0.94" fill="#6434a8"/><circle cx="295.9" cy="300.7" r="0.60" fill="#6434a8"/><circle cx="302.9" cy="279.6" r="0.77" fill="#6434a8"/><circle cx="297.4" cy="277.7" r="0.80" fill="#7a4cb4"/><circle cx="263.3" cy="288.7" r="0.83" fill="#6434a8"/><circle cx="292.9" cy="309.7" r="0.79" fill="#6434a8"/><circle cx="261.5" cy="302.7" r="0.76" fill="#7a4cb4"/><circle cx="266.9" cy="286.8" r="0.86" fill="#7a4cb4"/><circle cx="270.4" cy="269.6" r="0.90" fill="#7a4cb4"/><circle cx="257.0" cy="283.4" r="0.91" fill="#7a4cb4"/><circle cx="279.9" cy="320.7" r="0.91" fill="#7a4cb4"/></g>
<text transform="translate(240.00 238.38) rotate(-90) scale(1.008 1)" font-size="10.17" fill="#1a1a1a" stroke="#1a1a1a" stroke-width="0.12">miR-NC</text>
<text transform="translate(241.20 315.32) rotate(-90) scale(1.003 1)" font-size="10.76" fill="#1a1a1a" stroke="#1a1a1a" stroke-width="0.12">miR-500a-3p</text>
<rect x="371.5" y="243.31" width="29.5" height="56.99" fill="#000"/>
<line x1="386.25" y1="237.17" x2="386.25" y2="243.31" stroke="#111" stroke-width="1.25"/>
<line x1="379.25" y1="237.17" x2="393.25" y2="237.17" stroke="#111" stroke-width="1.25"/>
<rect x="429" y="268.74" width="29.5" height="31.56" fill="#a09fa6"/>
<line x1="443.75" y1="264.79" x2="443.75" y2="268.74" stroke="#111" stroke-width="1.25"/>
<line x1="436.75" y1="264.79" x2="450.75" y2="264.79" stroke="#111" stroke-width="1.25"/>
<line x1="349.1" y1="212" x2="349.1" y2="300.8" stroke="#4a4a4a" stroke-width="1.25"/>
<line x1="348.6" y1="300.3" x2="481" y2="300.3" stroke="#4a4a4a" stroke-width="1.25"/>
<line x1="346.1" y1="300.3" x2="349.1" y2="300.3" stroke="#4a4a4a" stroke-width="1.25"/>
<text x="345.8" y="302.65" font-size="6.7" font-weight="bold" text-anchor="end" fill="#111" stroke="#111" stroke-width="0.32">0</text>
<line x1="346.1" y1="278.38" x2="349.1" y2="278.38" stroke="#4a4a4a" stroke-width="1.25"/>
<text x="345.8" y="280.73" font-size="6.7" font-weight="bold" text-anchor="end" fill="#111" stroke="#111" stroke-width="0.32">50</text>
<line x1="346.1" y1="256.46" x2="349.1" y2="256.46" stroke="#4a4a4a" stroke-width="1.25"/>
<text x="345.8" y="258.81" font-size="6.7" font-weight="bold" text-anchor="end" fill="#111" stroke="#111" stroke-width="0.32">100</text>
<line x1="346.1" y1="234.54" x2="349.1" y2="234.54" stroke="#4a4a4a" stroke-width="1.25"/>
<text x="345.8" y="236.89" font-size="6.7" font-weight="bold" text-anchor="end" fill="#111" stroke="#111" stroke-width="0.32">150</text>
<line x1="346.1" y1="212.62" x2="349.1" y2="212.62" stroke="#4a4a4a" stroke-width="1.25"/>
<text x="345.8" y="214.97" font-size="6.7" font-weight="bold" text-anchor="end" fill="#111" stroke="#111" stroke-width="0.32">200</text>
<text x="386.25" y="310.5" font-size="6.7" font-weight="bold" text-anchor="middle" fill="#111" stroke="#111" stroke-width="0.32">miR-NC</text>
<line x1="386.25" y1="300.3" x2="386.25" y2="302.7" stroke="#4a4a4a" stroke-width="1.25"/>
<text x="443.75" y="310.5" font-size="6.7" font-weight="bold" text-anchor="middle" fill="#111" stroke="#111" stroke-width="0.32">miR-500a-3p</text>
<line x1="443.75" y1="300.3" x2="443.75" y2="302.7" stroke="#4a4a4a" stroke-width="1.25"/>
<text transform="translate(330.90 283.40) rotate(-90) scale(0.977 1)" font-size="7.41" font-weight="bold" fill="#1a1a1a" stroke="#1a1a1a" stroke-width="0.32">Colony number</text>
<text transform="translate(399.02 200.80) scale(1.022 1)" font-size="8.43" font-weight="bold" fill="#1a1a1a" stroke="#1a1a1a" stroke-width="0.32">HCT116</text>
<line x1="386" y1="221" x2="443" y2="221" stroke="#222" stroke-width="1.875"/>
<text x="414.50" y="220.49" font-size="7.37" font-weight="bold" text-anchor="middle" fill="#222">*</text>
<text transform="translate(488.88 11.90) scale(0.779 1)" font-size="12.79" fill="#111" stroke="#111" stroke-width="0.12">E</text>
<rect x="510.5" y="0.6" width="70.1" height="68.6" rx="1" fill="#fff" stroke="#6fa3d8" stroke-width="1.1"/>
<rect x="510.5" y="70.4" width="70.1" height="69.8" rx="1" fill="#fff" stroke="#6fa3d8" stroke-width="1.1"/>
<line x1="520.6" y1="9.3" x2="520.6" y2="57.8" stroke="#666" stroke-width="0.6" stroke-dasharray="0.6 0.5"/>
<line x1="520.6" y1="57.8" x2="577.5" y2="57.8" stroke="#555" stroke-width="0.7" stroke-dasharray="0.8 0.4"/>
<line x1="520.6" y1="57.8" x2="520.6" y2="58.8" stroke="#888" stroke-width="0.4"/>
<line x1="531.98" y1="57.8" x2="531.98" y2="58.8" stroke="#888" stroke-width="0.4"/>
<line x1="543.36" y1="57.8" x2="543.36" y2="58.8" stroke="#888" stroke-width="0.4"/>
<line x1="554.74" y1="57.8" x2="554.74" y2="58.8" stroke="#888" stroke-width="0.4"/>
<line x1="566.12" y1="57.8" x2="566.12" y2="58.8" stroke="#888" stroke-width="0.4"/>
<line x1="577.5" y1="57.8" x2="577.5" y2="58.8" stroke="#888" stroke-width="0.4"/>
<text x="520.6" y="61.2" font-size="2.1" text-anchor="middle" fill="#666">0</text>
<text x="532.0" y="61.2" font-size="2.1" text-anchor="middle" fill="#666">50</text>
<text x="543.4" y="61.2" font-size="2.1" text-anchor="middle" fill="#666">100</text>
<text x="554.7" y="61.2" font-size="2.1" text-anchor="middle" fill="#666">150</text>
<text x="566.1" y="61.2" font-size="2.1" text-anchor="middle" fill="#666">200</text>
<text x="577.5" y="61.2" font-size="2.1" text-anchor="middle" fill="#666">250</text>
<text x="547.3" y="63.4" font-size="2.3" text-anchor="middle" fill="#444">Channels (FL2-A-FL2-A)</text>
<path d="M534.3,57.8 L536.4,30 L537.6,10.5 L538.6,13 L539.6,40 L541,53 L542,57.8 Z" fill="#f01010"/>
<path d="M536.4,57.8 L540,54.5 L543,53.8 L550,53.6 L554,54.5 L556.7,57.8 Z" fill="#1010f0"/>
<path d="M550,57.8 L551.5,53.5 L552.8,52 L555,53.5 L558.3,57.8 Z" fill="#f01010"/>
<path d="M524,57.6 L533,57.5 L534.3,56 L536.4,30 L537.6,10.3 L538.6,12.5 L539.6,40 L541,51.5 L543,52.5 L548,52.4 L551,51 L552.5,48.5 L554,49.5 L555.3,49 L557,53 L559,57.2 L563,57.6 L575,57.6" fill="none" stroke="#222" stroke-width="0.6"/>
<line x1="522.2" y1="78.9" x2="522.2" y2="128.1" stroke="#666" stroke-width="0.6" stroke-dasharray="0.6 0.5"/>
<line x1="522.2" y1="128.1" x2="578.5" y2="128.1" stroke="#555" stroke-width="0.7" stroke-dasharray="0.8 0.4"/>
<line x1="522.2" y1="128.1" x2="522.2" y2="129.1" stroke="#888" stroke-width="0.4"/>
<line x1="533.46" y1="128.1" x2="533.46" y2="129.1" stroke="#888" stroke-width="0.4"/>
<line x1="544.72" y1="128.1" x2="544.72" y2="129.1" stroke="#888" stroke-width="0.4"/>
<line x1="555.98" y1="128.1" x2="555.98" y2="129.1" stroke="#888" stroke-width="0.4"/>
<line x1="567.24" y1="128.1" x2="567.24" y2="129.1" stroke="#888" stroke-width="0.4"/>
<line x1="578.5" y1="128.1" x2="578.5" y2="129.1" stroke="#888" stroke-width="0.4"/>
<text x="522.2" y="131.5" font-size="2.1" text-anchor="middle" fill="#666">0</text>
<text x="533.5" y="131.5" font-size="2.1" text-anchor="middle" fill="#666">50</text>
<text x="544.7" y="131.5" font-size="2.1" text-anchor="middle" fill="#666">100</text>
<text x="556.0" y="131.5" font-size="2.1" text-anchor="middle" fill="#666">150</text>
<text x="567.2" y="131.5" font-size="2.1" text-anchor="middle" fill="#666">200</text>
<text x="578.5" y="131.5" font-size="2.1" text-anchor="middle" fill="#666">250</text>
<text x="548.7" y="133.7" font-size="2.3" text-anchor="middle" fill="#444">Channels (FL2-A-FL2-A)</text>
<path d="M535.2,128.1 L537.5,105 L539.5,83 L540.5,83.5 L541.6,105 L542.5,121 L544,128.1 Z" fill="#f01010"/>
<path d="M537.5,128.1 L540,125 L545,124.3 L551,124.5 L555,126 L556,128.1 Z" fill="#1010f0"/>
<path d="M551.5,128.1 L553.5,125 L556,123.8 L559,125.5 L562.5,128.1 Z" fill="#f01010"/>
<path d="M526,127.9 L534,127.8 L535.2,126.5 L537.5,105 L539.5,82.7 L540.5,83 L541.6,105 L542.6,120 L545,123.2 L550,123.4 L553,121.7 L555.5,120.8 L557.5,121.5 L559.5,124.5 L562.5,127.5 L577,127.9" fill="none" stroke="#222" stroke-width="0.6"/>
<text transform="translate(489.03 200.70) scale(0.832 1)" font-size="12.79" fill="#111" stroke="#111" stroke-width="0.12">F</text>
<rect x="510.6" y="181.6" width="72.2" height="70" rx="1" fill="#fff" stroke="#6fa3d8" stroke-width="1.1"/>
<rect x="510.6" y="252.8" width="72.2" height="69.6" rx="1" fill="#fff" stroke="#6fa3d8" stroke-width="1.1"/>
<line x1="517.3" y1="188.8" x2="517.3" y2="241.1" stroke="#666" stroke-width="0.6" stroke-dasharray="0.6 0.5"/>
<line x1="517.3" y1="241.1" x2="577.5" y2="241.1" stroke="#555" stroke-width="0.7" stroke-dasharray="0.8 0.4"/>
<line x1="517.3" y1="241.1" x2="517.3" y2="242.1" stroke="#888" stroke-width="0.4"/>
<line x1="529.34" y1="241.1" x2="529.34" y2="242.1" stroke="#888" stroke-width="0.4"/>
<line x1="541.38" y1="241.1" x2="541.38" y2="242.1" stroke="#888" stroke-width="0.4"/>
<line x1="553.42" y1="241.1" x2="553.42" y2="242.1" stroke="#888" stroke-width="0.4"/>
<line x1="565.46" y1="241.1" x2="565.46" y2="242.1" stroke="#888" stroke-width="0.4"/>
<line x1="577.5" y1="241.1" x2="577.5" y2="242.1" stroke="#888" stroke-width="0.4"/>
<text x="517.3" y="244.5" font-size="2.1" text-anchor="middle" fill="#666">0</text>
<text x="529.3" y="244.5" font-size="2.1" text-anchor="middle" fill="#666">50</text>
<text x="541.4" y="244.5" font-size="2.1" text-anchor="middle" fill="#666">100</text>
<text x="553.4" y="244.5" font-size="2.1" text-anchor="middle" fill="#666">150</text>
<text x="565.5" y="244.5" font-size="2.1" text-anchor="middle" fill="#666">200</text>
<text x="577.5" y="244.5" font-size="2.1" text-anchor="middle" fill="#666">250</text>
<text x="545.6" y="246.7" font-size="2.3" text-anchor="middle" fill="#444">Channels (FL2-A-FL2-A)</text>
<path d="M517.3,241.1 L517.6,236 L518.6,234.5 L519.5,238 L521.5,239.5 L522.5,241.1 Z" fill="#b8b8e8"/>
<path d="M531,241.1 L533,215 L534.6,199.5 L535.6,203 L536.8,222 L538,232 L536.5,241.1 Z" fill="#f01010"/>
<path d="M533,241.1 L535.5,232 L537.5,229.6 L548,229.6 L551,232 L555,237 L558.3,241.1 Z" fill="#1010f0"/>
<path d="M551,235 L553.5,236.5 L556.5,239 L558.8,241.1 L556,241.1 L553,238 Z" fill="#f01010"/>
<path d="M521,240.9 L530,240.8 L531,240 L533,215 L534.5,193.8 L535.5,195.5 L536.5,215 L537.5,226 L539,228.5 L545,228.7 L547.5,226.5 L549.8,221.7 L551,223 L552.5,229 L555,235.5 L558.5,240.2 L562,240.8 L576,240.9" fill="none" stroke="#222" stroke-width="0.6"/>
<line x1="517.3" y1="259.3" x2="517.3" y2="311.7" stroke="#666" stroke-width="0.6" stroke-dasharray="0.6 0.5"/>
<line x1="517.3" y1="311.7" x2="576.8" y2="311.7" stroke="#555" stroke-width="0.7" stroke-dasharray="0.8 0.4"/>
<line x1="517.3" y1="311.7" x2="517.3" y2="312.7" stroke="#888" stroke-width="0.4"/>
<line x1="529.2" y1="311.7" x2="529.2" y2="312.7" stroke="#888" stroke-width="0.4"/>
<line x1="541.1" y1="311.7" x2="541.1" y2="312.7" stroke="#888" stroke-width="0.4"/>
<line x1="553" y1="311.7" x2="553" y2="312.7" stroke="#888" stroke-width="0.4"/>
<line x1="564.9" y1="311.7" x2="564.9" y2="312.7" stroke="#888" stroke-width="0.4"/>
<line x1="576.8" y1="311.7" x2="576.8" y2="312.7" stroke="#888" stroke-width="0.4"/>
<text x="517.3" y="315.1" font-size="2.1" text-anchor="middle" fill="#666">0</text>
<text x="529.2" y="315.1" font-size="2.1" text-anchor="middle" fill="#666">50</text>
<text x="541.1" y="315.1" font-size="2.1" text-anchor="middle" fill="#666">100</text>
<text x="553.0" y="315.1" font-size="2.1" text-anchor="middle" fill="#666">150</text>
<text x="564.9" y="315.1" font-size="2.1" text-anchor="middle" fill="#666">200</text>
<text x="576.8" y="315.1" font-size="2.1" text-anchor="middle" fill="#666">250</text>
<text x="545.3" y="317.3" font-size="2.3" text-anchor="middle" fill="#444">Channels (FL2-A-FL2-A)</text>
<path d="M517.3,311.7 L517.5,306.5 L518.5,306 L519.5,309 L521,311.7 Z" fill="#b8b8e8"/>
<path d="M531,311.7 L532.6,290 L533.8,271.5 L534.8,276 L535.6,298 L536.4,305 L535,311.7 Z" fill="#f01010"/>
<path d="M532.7,311.7 L535,306 L537,305.2 L545,305 L547.5,307 L548.9,311.7 Z" fill="#1010f0"/>
<path d="M546.5,306.5 L548.5,305.8 L551,307.5 L553.6,311.7 L548.9,311.7 Z" fill="#f01010"/>
<path d="M520,311.5 L530,311.4 L531,310.5 L532.6,290 L533.8,263.6 L534.8,268 L535.7,296 L536.8,303.5 L540,303.8 L544,303.6 L546.3,301.5 L547.9,300.5 L549.3,302.5 L550.5,306 L553.6,311 L575,311.5" fill="none" stroke="#222" stroke-width="0.6"/>
<rect x="635.8" y="66.74" width="12.4" height="64.06" fill="#000"/>
<line x1="642" y1="65.62" x2="642" y2="66.74" stroke="#111" stroke-width="1.3"/>
<line x1="639" y1="65.62" x2="645" y2="65.62" stroke="#111" stroke-width="1.3"/>
<rect x="653" y="61.02" width="12.6" height="69.78" fill="#a09fa6"/>
<line x1="659.3" y1="59.01" x2="659.3" y2="61.02" stroke="#111" stroke-width="1.3"/>
<line x1="656.3" y1="59.01" x2="662.3" y2="59.01" stroke="#111" stroke-width="1.3"/>
<text x="650" y="141.3" font-size="6.7" font-weight="bold" text-anchor="middle" fill="#111" stroke="#111" stroke-width="0.32">G1</text>
<line x1="650" y1="130.8" x2="650" y2="133.2" stroke="#4a4a4a" stroke-width="1.3"/>
<rect x="682" y="96.53" width="12.8" height="34.27" fill="#000"/>
<rect x="699.5" y="107.73" width="12.8" height="23.07" fill="#a09fa6"/>
<line x1="705.9" y1="107.39" x2="705.9" y2="107.73" stroke="#111" stroke-width="1.3"/>
<line x1="702.9" y1="107.39" x2="708.9" y2="107.39" stroke="#111" stroke-width="1.3"/>
<text x="697.2" y="141.3" font-size="6.7" font-weight="bold" text-anchor="middle" fill="#111" stroke="#111" stroke-width="0.32">S</text>
<line x1="697.2" y1="130.8" x2="697.2" y2="133.2" stroke="#4a4a4a" stroke-width="1.3"/>
<rect x="728.8" y="116.13" width="12.7" height="14.67" fill="#000"/>
<line x1="735.15" y1="115.12" x2="735.15" y2="116.13" stroke="#111" stroke-width="1.3"/>
<line x1="732.15" y1="115.12" x2="738.15" y2="115.12" stroke="#111" stroke-width="1.3"/>
<rect x="746.2" y="113.89" width="12.8" height="16.91" fill="#a09fa6"/>
<line x1="752.6" y1="112.54" x2="752.6" y2="113.89" stroke="#111" stroke-width="1.3"/>
<line x1="749.6" y1="112.54" x2="755.6" y2="112.54" stroke="#111" stroke-width="1.3"/>
<text x="743.5" y="141.3" font-size="6.7" font-weight="bold" text-anchor="middle" fill="#111" stroke="#111" stroke-width="0.32">G2/M</text>
<line x1="743.5" y1="130.8" x2="743.5" y2="133.2" stroke="#4a4a4a" stroke-width="1.3"/>
<line x1="629.9" y1="41.2" x2="629.9" y2="131.3" stroke="#4a4a4a" stroke-width="1.3"/>
<line x1="629.4" y1="130.8" x2="764" y2="130.8" stroke="#4a4a4a" stroke-width="1.3"/>
<line x1="626.9" y1="130.8" x2="629.9" y2="130.8" stroke="#4a4a4a" stroke-width="1.3"/>
<text x="626.6" y="133.15" font-size="6.7" font-weight="bold" text-anchor="end" fill="#111" stroke="#111" stroke-width="0.32">0</text>
<line x1="626.9" y1="108.4" x2="629.9" y2="108.4" stroke="#4a4a4a" stroke-width="1.3"/>
<text x="626.6" y="110.75" font-size="6.7" font-weight="bold" text-anchor="end" fill="#111" stroke="#111" stroke-width="0.32">20</text>
<line x1="626.9" y1="86" x2="629.9" y2="86" stroke="#4a4a4a" stroke-width="1.3"/>
<text x="626.6" y="88.34" font-size="6.7" font-weight="bold" text-anchor="end" fill="#111" stroke="#111" stroke-width="0.32">40</text>
<line x1="626.9" y1="63.6" x2="629.9" y2="63.6" stroke="#4a4a4a" stroke-width="1.3"/>
<text x="626.6" y="65.95" font-size="6.7" font-weight="bold" text-anchor="end" fill="#111" stroke="#111" stroke-width="0.32">60</text>
<line x1="626.9" y1="41.2" x2="629.9" y2="41.2" stroke="#4a4a4a" stroke-width="1.3"/>
<text x="626.6" y="43.55" font-size="6.7" font-weight="bold" text-anchor="end" fill="#111" stroke="#111" stroke-width="0.32">80</text>
<line x1="642.5" y1="49.5" x2="658.8" y2="49.5" stroke="#222" stroke-width="1.9500000000000002"/>
<text x="650.65" y="48.69" font-size="7.37" font-weight="bold" text-anchor="middle" fill="#222">*</text>
<line x1="689" y1="88" x2="705.5" y2="88" stroke="#222" stroke-width="1.9500000000000002"/>
<text x="693.23" y="86.89" font-size="7.37" font-weight="bold" text-anchor="middle" fill="#222">*</text>
<text x="697.25" y="86.89" font-size="7.37" font-weight="bold" text-anchor="middle" fill="#222">*</text>
<text x="701.27" y="86.89" font-size="7.37" font-weight="bold" text-anchor="middle" fill="#222">*</text>
<text transform="translate(615.60 112.01) rotate(-90) scale(0.949 1)" font-size="7.99" font-weight="bold" fill="#1a1a1a" stroke="#1a1a1a" stroke-width="0.32">Percentage(%)</text>
<text transform="translate(677.34 23.40) scale(0.950 1)" font-size="10.61" fill="#222" stroke="#222" stroke-width="0.12">SW480</text>
<rect x="712" y="44.3" width="10.5" height="6" fill="#000"/>
<rect x="712" y="56.7" width="10.5" height="6" fill="#a09fa6"/>
<text transform="translate(727.32 49.80) scale(1.009 1)" font-size="7.12" fill="#1a1a1a" stroke="#1a1a1a" stroke-width="0.12">miR-NC</text>
<text transform="translate(727.32 61.80) scale(1.012 1)" font-size="7.12" fill="#1a1a1a" stroke="#1a1a1a" stroke-width="0.12">miR-500a−3p</text>
<rect x="631" y="243.61" width="13.2" height="54.29" fill="#000"/>
<line x1="637.6" y1="241.35" x2="637.6" y2="243.61" stroke="#111" stroke-width="1.3"/>
<line x1="634.6" y1="241.35" x2="640.6" y2="241.35" stroke="#111" stroke-width="1.3"/>
<rect x="649.2" y="230.04" width="13" height="67.86" fill="#a09fa6"/>
<line x1="655.7" y1="229.14" x2="655.7" y2="230.04" stroke="#111" stroke-width="1.3"/>
<line x1="652.7" y1="229.14" x2="658.7" y2="229.14" stroke="#111" stroke-width="1.3"/>
<text x="646" y="308" font-size="7.2" font-weight="bold" text-anchor="middle" fill="#111" stroke="#111" stroke-width="0.32">G1</text>
<line x1="646" y1="297.9" x2="646" y2="300.3" stroke="#4a4a4a" stroke-width="1.3"/>
<rect x="678.5" y="223.25" width="13.3" height="74.65" fill="#000"/>
<line x1="685.15" y1="219.48" x2="685.15" y2="223.25" stroke="#111" stroke-width="1.3"/>
<line x1="682.15" y1="219.48" x2="688.15" y2="219.48" stroke="#111" stroke-width="1.3"/>
<rect x="696.2" y="234.87" width="13.6" height="63.03" fill="#a09fa6"/>
<line x1="703" y1="233.96" x2="703" y2="234.87" stroke="#111" stroke-width="1.3"/>
<line x1="700" y1="233.96" x2="706" y2="233.96" stroke="#111" stroke-width="1.3"/>
<text x="694" y="308" font-size="7.2" font-weight="bold" text-anchor="middle" fill="#111" stroke="#111" stroke-width="0.32">S</text>
<line x1="694" y1="297.9" x2="694" y2="300.3" stroke="#4a4a4a" stroke-width="1.3"/>
<rect x="726.2" y="274.07" width="13" height="23.83" fill="#000"/>
<line x1="732.7" y1="271.36" x2="732.7" y2="274.07" stroke="#111" stroke-width="1.3"/>
<line x1="729.7" y1="271.36" x2="735.7" y2="271.36" stroke="#111" stroke-width="1.3"/>
<rect x="744.2" y="276.49" width="13" height="21.41" fill="#a09fa6"/>
<line x1="750.7" y1="276.03" x2="750.7" y2="276.49" stroke="#111" stroke-width="1.3"/>
<line x1="747.7" y1="276.03" x2="753.7" y2="276.03" stroke="#111" stroke-width="1.3"/>
<text x="741.5" y="308" font-size="7.2" font-weight="bold" text-anchor="middle" fill="#111" stroke="#111" stroke-width="0.32">G2/M</text>
<line x1="741.5" y1="297.9" x2="741.5" y2="300.3" stroke="#4a4a4a" stroke-width="1.3"/>
<line x1="625.8" y1="207.4" x2="625.8" y2="298.4" stroke="#4a4a4a" stroke-width="1.3"/>
<line x1="625.3" y1="297.9" x2="762" y2="297.9" stroke="#4a4a4a" stroke-width="1.3"/>
<line x1="622.8" y1="297.9" x2="625.8" y2="297.9" stroke="#4a4a4a" stroke-width="1.3"/>
<text x="622.5" y="300.42" font-size="7.2" font-weight="bold" text-anchor="end" fill="#111" stroke="#111" stroke-width="0.32">0</text>
<line x1="622.8" y1="267.74" x2="625.8" y2="267.74" stroke="#4a4a4a" stroke-width="1.3"/>
<text x="622.5" y="270.26" font-size="7.2" font-weight="bold" text-anchor="end" fill="#111" stroke="#111" stroke-width="0.32">20</text>
<line x1="622.8" y1="237.58" x2="625.8" y2="237.58" stroke="#4a4a4a" stroke-width="1.3"/>
<text x="622.5" y="240.1" font-size="7.2" font-weight="bold" text-anchor="end" fill="#111" stroke="#111" stroke-width="0.32">40</text>
<line x1="622.8" y1="207.42" x2="625.8" y2="207.42" stroke="#4a4a4a" stroke-width="1.3"/>
<text x="622.5" y="209.94" font-size="7.2" font-weight="bold" text-anchor="end" fill="#111" stroke="#111" stroke-width="0.32">60</text>
<line x1="637.5" y1="219.5" x2="654" y2="219.5" stroke="#222" stroke-width="1.9500000000000002"/>
<text x="643.59" y="219.81" font-size="7.92" font-weight="bold" text-anchor="middle" fill="#222">*</text>
<text x="647.91" y="219.81" font-size="7.92" font-weight="bold" text-anchor="middle" fill="#222">*</text>
<line x1="685.5" y1="210" x2="702.2" y2="210" stroke="#222" stroke-width="1.9500000000000002"/>
<text x="691.69" y="210.31" font-size="7.92" font-weight="bold" text-anchor="middle" fill="#222">*</text>
<text x="696.01" y="210.31" font-size="7.92" font-weight="bold" text-anchor="middle" fill="#222">*</text>
<text transform="translate(611.20 279.22) rotate(-90) scale(1.132 1)" font-size="6.83" font-weight="bold" fill="#1a1a1a" stroke="#1a1a1a" stroke-width="0.32">Percentage(%)</text>
<text transform="translate(680.18 185.80) scale(0.944 1)" font-size="9.30" fill="#222" stroke="#222" stroke-width="0.12">HCT116</text>
<rect x="716" y="193.3" width="10.5" height="6" fill="#000"/>
<rect x="716" y="205.7" width="10.5" height="6" fill="#a09fa6"/>
<text transform="translate(731.31 198.80) scale(1.030 1)" font-size="7.12" fill="#1a1a1a" stroke="#1a1a1a" stroke-width="0.12">miR-NC</text>
<text transform="translate(731.31 210.90) scale(1.035 1)" font-size="7.12" fill="#1a1a1a" stroke="#1a1a1a" stroke-width="0.12">miR-500a-3p</text>
<text transform="translate(1.54 374.50) scale(0.845 1)" font-size="13.23" fill="#111" stroke="#111" stroke-width="0.12">G</text>
<defs><radialGradient id="bgG" cx="50%" cy="45%" r="75%" fx="50%" fy="40%"><stop offset="0" stop-color="#e0e2e2"/><stop offset="0.6" stop-color="#dcdfdf"/><stop offset="1" stop-color="#cbcecb"/></radialGradient><linearGradient id="rul" x1="0" y1="0" x2="0" y2="1"><stop offset="0" stop-color="#a8b0b4"/><stop offset="0.07" stop-color="#98a2a6"/><stop offset="0.1" stop-color="#55636d"/><stop offset="0.65" stop-color="#515f69"/><stop offset="0.75" stop-color="#5a6872"/><stop offset="1" stop-color="#56646e"/></linearGradient></defs>
<rect x="3" y="395.3" width="249" height="98.3" fill="url(#bgG)"/>
<rect x="3" y="395.3" width="249" height="25" fill="url(#rul)"/>
<defs><linearGradient id="rulH" x1="0" y1="0" x2="1" y2="0"><stop offset="0" stop-color="#fff" stop-opacity="0"/><stop offset="0.5" stop-color="#fff" stop-opacity="0.04"/><stop offset="1" stop-color="#fff" stop-opacity="0.13"/></linearGradient></defs>
<rect x="3" y="397" width="249" height="23.3" fill="url(#rulH)"/>
<g><line x1="3.50" y1="415.30" x2="3.50" y2="420.3" stroke="#76848c" stroke-width="0.5"/><line x1="5.36" y1="416.80" x2="5.36" y2="420.3" stroke="#76848c" stroke-width="0.5"/><line x1="7.22" y1="416.80" x2="7.22" y2="420.3" stroke="#76848c" stroke-width="0.5"/><line x1="9.08" y1="416.80" x2="9.08" y2="420.3" stroke="#76848c" stroke-width="0.5"/><line x1="10.94" y1="416.80" x2="10.94" y2="420.3" stroke="#76848c" stroke-width="0.5"/><line x1="12.80" y1="414.30" x2="12.80" y2="420.3" stroke="#76848c" stroke-width="0.5"/><line x1="14.66" y1="416.80" x2="14.66" y2="420.3" stroke="#76848c" stroke-width="0.5"/><line x1="16.52" y1="416.80" x2="16.52" y2="420.3" stroke="#76848c" stroke-width="0.5"/><line x1="18.38" y1="416.80" x2="18.38" y2="420.3" stroke="#76848c" stroke-width="0.5"/><line x1="20.24" y1="416.80" x2="20.24" y2="420.3" stroke="#76848c" stroke-width="0.5"/><line x1="22.10" y1="415.30" x2="22.10" y2="420.3" stroke="#76848c" stroke-width="0.5"/><line x1="23.96" y1="416.80" x2="23.96" y2="420.3" stroke="#76848c" stroke-width="0.5"/><line x1="25.82" y1="416.80" x2="25.82" y2="420.3" stroke="#76848c" stroke-width="0.5"/><line x1="27.68" y1="416.80" x2="27.68" y2="420.3" stroke="#76848c" stroke-width="0.5"/><line x1="29.54" y1="416.80" x2="29.54" y2="420.3" stroke="#76848c" stroke-width="0.5"/><line x1="31.40" y1="414.30" x2="31.40" y2="420.3" stroke="#76848c" stroke-width="0.5"/><line x1="33.26" y1="416.80" x2="33.26" y2="420.3" stroke="#76848c" stroke-width="0.5"/><line x1="35.12" y1="416.80" x2="35.12" y2="420.3" stroke="#76848c" stroke-width="0.5"/><line x1="36.98" y1="416.80" x2="36.98" y2="420.3" stroke="#76848c" stroke-width="0.5"/><line x1="38.84" y1="416.80" x2="38.84" y2="420.3" stroke="#76848c" stroke-width="0.5"/><line x1="40.70" y1="415.30" x2="40.70" y2="420.3" stroke="#76848c" stroke-width="0.5"/><line x1="42.56" y1="416.80" x2="42.56" y2="420.3" stroke="#76848c" stroke-width="0.5"/><line x1="44.42" y1="416.80" x2="44.42" y2="420.3" stroke="#76848c" stroke-width="0.5"/><line x1="46.28" y1="416.80" x2="46.28" y2="420.3" stroke="#76848c" stroke-width="0.5"/><line x1="48.14" y1="416.80" x2="48.14" y2="420.3" stroke="#76848c" stroke-width="0.5"/><line x1="50.00" y1="414.30" x2="50.00" y2="420.3" stroke="#76848c" stroke-width="0.5"/><line x1="51.86" y1="416.80" x2="51.86" y2="420.3" stroke="#76848c" stroke-width="0.5"/><line x1="53.72" y1="416.80" x2="53.72" y2="420.3" stroke="#76848c" stroke-width="0.5"/><line x1="55.58" y1="416.80" x2="55.58" y2="420.3" stroke="#76848c" stroke-width="0.5"/><line x1="57.44" y1="416.80" x2="57.44" y2="420.3" stroke="#76848c" stroke-width="0.5"/><line x1="59.30" y1="415.30" x2="59.30" y2="420.3" stroke="#76848c" stroke-width="0.5"/><line x1="61.16" y1="416.80" x2="61.16" y2="420.3" stroke="#76848c" stroke-width="0.5"/><line x1="63.02" y1="416.80" x2="63.02" y2="420.3" stroke="#76848c" stroke-width="0.5"/><line x1="64.88" y1="416.80" x2="64.88" y2="420.3" stroke="#76848c" stroke-width="0.5"/><line x1="66.74" y1="416.80" x2="66.74" y2="420.3" stroke="#76848c" stroke-width="0.5"/><line x1="68.60" y1="414.30" x2="68.60" y2="420.3" stroke="#76848c" stroke-width="0.5"/><line x1="70.46" y1="416.80" x2="70.46" y2="420.3" stroke="#76848c" stroke-width="0.5"/><line x1="72.32" y1="416.80" x2="72.32" y2="420.3" stroke="#76848c" stroke-width="0.5"/><line x1="74.18" y1="416.80" x2="74.18" y2="420.3" stroke="#76848c" stroke-width="0.5"/><line x1="76.04" y1="416.80" x2="76.04" y2="420.3" stroke="#76848c" stroke-width="0.5"/><line x1="77.90" y1="415.30" x2="77.90" y2="420.3" stroke="#76848c" stroke-width="0.5"/><line x1="79.76" y1="416.80" x2="79.76" y2="420.3" stroke="#76848c" stroke-width="0.5"/><line x1="81.62" y1="416.80" x2="81.62" y2="420.3" stroke="#76848c" stroke-width="0.5"/><line x1="83.48" y1="416.80" x2="83.48" y2="420.3" stroke="#76848c" stroke-width="0.5"/><line x1="85.34" y1="416.80" x2="85.34" y2="420.3" stroke="#76848c" stroke-width="0.5"/><line x1="87.20" y1="414.30" x2="87.20" y2="420.3" stroke="#76848c" stroke-width="0.5"/><line x1="89.06" y1="416.80" x2="89.06" y2="420.3" stroke="#76848c" stroke-width="0.5"/><line x1="90.92" y1="416.80" x2="90.92" y2="420.3" stroke="#76848c" stroke-width="0.5"/><line x1="92.78" y1="416.80" x2="92.78" y2="420.3" stroke="#76848c" stroke-width="0.5"/><line x1="94.64" y1="416.80" x2="94.64" y2="420.3" stroke="#76848c" stroke-width="0.5"/><line x1="96.50" y1="415.30" x2="96.50" y2="420.3" stroke="#76848c" stroke-width="0.5"/><line x1="98.36" y1="416.80" x2="98.36" y2="420.3" stroke="#76848c" stroke-width="0.5"/><line x1="100.22" y1="416.80" x2="100.22" y2="420.3" stroke="#76848c" stroke-width="0.5"/><line x1="102.08" y1="416.80" x2="102.08" y2="420.3" stroke="#76848c" stroke-width="0.5"/><line x1="103.94" y1="416.80" x2="103.94" y2="420.3" stroke="#76848c" stroke-width="0.5"/><line x1="105.80" y1="414.30" x2="105.80" y2="420.3" stroke="#76848c" stroke-width="0.5"/><line x1="107.66" y1="416.80" x2="107.66" y2="420.3" stroke="#76848c" stroke-width="0.5"/><line x1="109.52" y1="416.80" x2="109.52" y2="420.3" stroke="#76848c" stroke-width="0.5"/><line x1="111.38" y1="416.80" x2="111.38" y2="420.3" stroke="#76848c" stroke-width="0.5"/><line x1="113.24" y1="416.80" x2="113.24" y2="420.3" stroke="#76848c" stroke-width="0.5"/><line x1="115.10" y1="415.30" x2="115.10" y2="420.3" stroke="#76848c" stroke-width="0.5"/><line x1="116.96" y1="416.80" x2="116.96" y2="420.3" stroke="#76848c" stroke-width="0.5"/><line x1="118.82" y1="416.80" x2="118.82" y2="420.3" stroke="#76848c" stroke-width="0.5"/><line x1="120.68" y1="416.80" x2="120.68" y2="420.3" stroke="#76848c" stroke-width="0.5"/><line x1="122.54" y1="416.80" x2="122.54" y2="420.3" stroke="#76848c" stroke-width="0.5"/><line x1="124.40" y1="414.30" x2="124.40" y2="420.3" stroke="#76848c" stroke-width="0.5"/><line x1="126.26" y1="416.80" x2="126.26" y2="420.3" stroke="#76848c" stroke-width="0.5"/><line x1="128.12" y1="416.80" x2="128.12" y2="420.3" stroke="#76848c" stroke-width="0.5"/><line x1="129.98" y1="416.80" x2="129.98" y2="420.3" stroke="#76848c" stroke-width="0.5"/><line x1="131.84" y1="416.80" x2="131.84" y2="420.3" stroke="#76848c" stroke-width="0.5"/><line x1="133.70" y1="415.30" x2="133.70" y2="420.3" stroke="#76848c" stroke-width="0.5"/><line x1="135.56" y1="416.80" x2="135.56" y2="420.3" stroke="#76848c" stroke-width="0.5"/><line x1="137.42" y1="416.80" x2="137.42" y2="420.3" stroke="#76848c" stroke-width="0.5"/><line x1="139.28" y1="416.80" x2="139.28" y2="420.3" stroke="#76848c" stroke-width="0.5"/><line x1="141.14" y1="416.80" x2="141.14" y2="420.3" stroke="#76848c" stroke-width="0.5"/><line x1="143.00" y1="414.30" x2="143.00" y2="420.3" stroke="#76848c" stroke-width="0.5"/><line x1="144.86" y1="416.80" x2="144.86" y2="420.3" stroke="#76848c" stroke-width="0.5"/><line x1="146.72" y1="416.80" x2="146.72" y2="420.3" stroke="#76848c" stroke-width="0.5"/><line x1="148.58" y1="416.80" x2="148.58" y2="420.3" stroke="#76848c" stroke-width="0.5"/><line x1="150.44" y1="416.80" x2="150.44" y2="420.3" stroke="#76848c" stroke-width="0.5"/><line x1="152.30" y1="415.30" x2="152.30" y2="420.3" stroke="#76848c" stroke-width="0.5"/><line x1="154.16" y1="416.80" x2="154.16" y2="420.3" stroke="#76848c" stroke-width="0.5"/><line x1="156.02" y1="416.80" x2="156.02" y2="420.3" stroke="#76848c" stroke-width="0.5"/><line x1="157.88" y1="416.80" x2="157.88" y2="420.3" stroke="#76848c" stroke-width="0.5"/><line x1="159.74" y1="416.80" x2="159.74" y2="420.3" stroke="#76848c" stroke-width="0.5"/><line x1="161.60" y1="414.30" x2="161.60" y2="420.3" stroke="#76848c" stroke-width="0.5"/><line x1="163.46" y1="416.80" x2="163.46" y2="420.3" stroke="#76848c" stroke-width="0.5"/><line x1="165.32" y1="416.80" x2="165.32" y2="420.3" stroke="#76848c" stroke-width="0.5"/><line x1="167.18" y1="416.80" x2="167.18" y2="420.3" stroke="#76848c" stroke-width="0.5"/><line x1="169.04" y1="416.80" x2="169.04" y2="420.3" stroke="#76848c" stroke-width="0.5"/><line x1="170.90" y1="415.30" x2="170.90" y2="420.3" stroke="#76848c" stroke-width="0.5"/><line x1="172.76" y1="416.80" x2="172.76" y2="420.3" stroke="#76848c" stroke-width="0.5"/><line x1="174.62" y1="416.80" x2="174.62" y2="420.3" stroke="#76848c" stroke-width="0.5"/><line x1="176.48" y1="416.80" x2="176.48" y2="420.3" stroke="#76848c" stroke-width="0.5"/><line x1="178.34" y1="416.80" x2="178.34" y2="420.3" stroke="#76848c" stroke-width="0.5"/><line x1="180.20" y1="414.30" x2="180.20" y2="420.3" stroke="#76848c" stroke-width="0.5"/><line x1="182.06" y1="416.80" x2="182.06" y2="420.3" stroke="#76848c" stroke-width="0.5"/><line x1="183.92" y1="416.80" x2="183.92" y2="420.3" stroke="#76848c" stroke-width="0.5"/><line x1="185.78" y1="416.80" x2="185.78" y2="420.3" stroke="#76848c" stroke-width="0.5"/><line x1="187.64" y1="416.80" x2="187.64" y2="420.3" stroke="#76848c" stroke-width="0.5"/><line x1="189.50" y1="415.30" x2="189.50" y2="420.3" stroke="#76848c" stroke-width="0.5"/><line x1="191.36" y1="416.80" x2="191.36" y2="420.3" stroke="#76848c" stroke-width="0.5"/><line x1="193.22" y1="416.80" x2="193.22" y2="420.3" stroke="#76848c" stroke-width="0.5"/><line x1="195.08" y1="416.80" x2="195.08" y2="420.3" stroke="#76848c" stroke-width="0.5"/><line x1="196.94" y1="416.80" x2="196.94" y2="420.3" stroke="#76848c" stroke-width="0.5"/><line x1="198.80" y1="414.30" x2="198.80" y2="420.3" stroke="#76848c" stroke-width="0.5"/><line x1="200.66" y1="416.80" x2="200.66" y2="420.3" stroke="#76848c" stroke-width="0.5"/><line x1="202.52" y1="416.80" x2="202.52" y2="420.3" stroke="#76848c" stroke-width="0.5"/><line x1="204.38" y1="416.80" x2="204.38" y2="420.3" stroke="#76848c" stroke-width="0.5"/><line x1="206.24" y1="416.80" x2="206.24" y2="420.3" stroke="#76848c" stroke-width="0.5"/><line x1="208.10" y1="415.30" x2="208.10" y2="420.3" stroke="#76848c" stroke-width="0.5"/><line x1="209.96" y1="416.80" x2="209.96" y2="420.3" stroke="#76848c" stroke-width="0.5"/><line x1="211.82" y1="416.80" x2="211.82" y2="420.3" stroke="#76848c" stroke-width="0.5"/><line x1="213.68" y1="416.80" x2="213.68" y2="420.3" stroke="#76848c" stroke-width="0.5"/><line x1="215.54" y1="416.80" x2="215.54" y2="420.3" stroke="#76848c" stroke-width="0.5"/><line x1="217.40" y1="414.30" x2="217.40" y2="420.3" stroke="#76848c" stroke-width="0.5"/><line x1="219.26" y1="416.80" x2="219.26" y2="420.3" stroke="#76848c" stroke-width="0.5"/><line x1="221.12" y1="416.80" x2="221.12" y2="420.3" stroke="#76848c" stroke-width="0.5"/><line x1="222.98" y1="416.80" x2="222.98" y2="420.3" stroke="#76848c" stroke-width="0.5"/><line x1="224.84" y1="416.80" x2="224.84" y2="420.3" stroke="#76848c" stroke-width="0.5"/><line x1="226.70" y1="415.30" x2="226.70" y2="420.3" stroke="#76848c" stroke-width="0.5"/><line x1="228.56" y1="416.80" x2="228.56" y2="420.3" stroke="#76848c" stroke-width="0.5"/><line x1="230.42" y1="416.80" x2="230.42" y2="420.3" stroke="#76848c" stroke-width="0.5"/><line x1="232.28" y1="416.80" x2="232.28" y2="420.3" stroke="#76848c" stroke-width="0.5"/><line x1="234.14" y1="416.80" x2="234.14" y2="420.3" stroke="#76848c" stroke-width="0.5"/><line x1="236.00" y1="414.30" x2="236.00" y2="420.3" stroke="#76848c" stroke-width="0.5"/><line x1="237.86" y1="416.80" x2="237.86" y2="420.3" stroke="#76848c" stroke-width="0.5"/><line x1="239.72" y1="416.80" x2="239.72" y2="420.3" stroke="#76848c" stroke-width="0.5"/><line x1="241.58" y1="416.80" x2="241.58" y2="420.3" stroke="#76848c" stroke-width="0.5"/><line x1="243.44" y1="416.80" x2="243.44" y2="420.3" stroke="#76848c" stroke-width="0.5"/><line x1="245.30" y1="415.30" x2="245.30" y2="420.3" stroke="#76848c" stroke-width="0.5"/><line x1="247.16" y1="416.80" x2="247.16" y2="420.3" stroke="#76848c" stroke-width="0.5"/><line x1="249.02" y1="416.80" x2="249.02" y2="420.3" stroke="#76848c" stroke-width="0.5"/><line x1="250.88" y1="416.80" x2="250.88" y2="420.3" stroke="#76848c" stroke-width="0.5"/></g>
<text x="12" y="410.8" font-size="7.3" text-anchor="middle" fill="#141c24" stroke="#141c24" stroke-width="0.3">2</text>
<text x="31" y="410.8" font-size="7.3" text-anchor="middle" fill="#141c24" stroke="#141c24" stroke-width="0.3">3</text>
<text x="50.3" y="410.8" font-size="7.3" text-anchor="middle" fill="#141c24" stroke="#141c24" stroke-width="0.3">4</text>
<text x="69.5" y="410.8" font-size="7.3" text-anchor="middle" fill="#d82828" stroke="#d82828" stroke-width="0.3">5</text>
<text x="88" y="410.8" font-size="7.3" text-anchor="middle" fill="#141c24" stroke="#141c24" stroke-width="0.3">6</text>
<text x="107.3" y="410.8" font-size="7.3" text-anchor="middle" fill="#141c24" stroke="#141c24" stroke-width="0.3">7</text>
<text x="126" y="410.8" font-size="7.3" text-anchor="middle" fill="#141c24" stroke="#141c24" stroke-width="0.3">8</text>
<text x="145" y="410.8" font-size="7.3" text-anchor="middle" fill="#141c24" stroke="#141c24" stroke-width="0.3">9</text>
<text x="164" y="410.8" font-size="7.3" text-anchor="middle" fill="#d82828" stroke="#d82828" stroke-width="0.3">10</text>
<text x="181.5" y="410.8" font-size="7.3" text-anchor="middle" fill="#141c24" stroke="#141c24" stroke-width="0.3">11</text>
<text x="200" y="410.8" font-size="7.3" text-anchor="middle" fill="#141c24" stroke="#141c24" stroke-width="0.3">12</text>
<text x="218.3" y="410.8" font-size="7.3" text-anchor="middle" fill="#141c24" stroke="#141c24" stroke-width="0.3">13</text>
<text x="236.8" y="410.8" font-size="7.3" text-anchor="middle" fill="#141c24" stroke="#141c24" stroke-width="0.3">14</text>
<defs><radialGradient id="t10" cx="45%" cy="40%" r="62%"><stop offset="0" stop-color="#bf2f40"/><stop offset="0.55" stop-color="#a95d55"/><stop offset="1" stop-color="#8c4848"/></radialGradient><clipPath id="kt10"><path d="M40.46,435.54Q40.59,436.40 40.57,437.28Q40.55,438.16 40.32,439.04Q40.08,439.92 39.58,440.74Q39.08,441.55 38.32,442.21Q37.56,442.88 36.62,443.33Q35.67,443.79 34.64,444.03Q33.61,444.28 32.55,444.34Q31.50,444.40 30.46,444.30Q29.41,444.20 28.40,443.95Q27.38,443.70 26.43,443.27Q25.48,442.83 24.68,442.21Q23.88,441.58 23.32,440.79Q22.75,439.99 22.47,439.10Q22.18,438.21 22.15,437.31Q22.11,436.40 22.28,435.52Q22.44,434.64 22.79,433.80Q23.13,432.97 23.67,432.21Q24.21,431.44 24.94,430.81Q25.67,430.17 26.55,429.69Q27.44,429.20 28.42,428.88Q29.40,428.55 30.45,428.37Q31.50,428.20 32.59,428.21Q33.69,428.22 34.76,428.49Q35.82,428.75 36.74,429.28Q37.66,429.82 38.33,430.56Q39.00,431.30 39.43,432.13Q39.85,432.97 40.10,433.83Q40.34,434.68 40.46,435.54Z"/></clipPath></defs>
<path d="M40.46,435.54Q40.59,436.40 40.57,437.28Q40.55,438.16 40.32,439.04Q40.08,439.92 39.58,440.74Q39.08,441.55 38.32,442.21Q37.56,442.88 36.62,443.33Q35.67,443.79 34.64,444.03Q33.61,444.28 32.55,444.34Q31.50,444.40 30.46,444.30Q29.41,444.20 28.40,443.95Q27.38,443.70 26.43,443.27Q25.48,442.83 24.68,442.21Q23.88,441.58 23.32,440.79Q22.75,439.99 22.47,439.10Q22.18,438.21 22.15,437.31Q22.11,436.40 22.28,435.52Q22.44,434.64 22.79,433.80Q23.13,432.97 23.67,432.21Q24.21,431.44 24.94,430.81Q25.67,430.17 26.55,429.69Q27.44,429.20 28.42,428.88Q29.40,428.55 30.45,428.37Q31.50,428.20 32.59,428.21Q33.69,428.22 34.76,428.49Q35.82,428.75 36.74,429.28Q37.66,429.82 38.33,430.56Q39.00,431.30 39.43,432.13Q39.85,432.97 40.10,433.83Q40.34,434.68 40.46,435.54Z" fill="url(#t10)"/>
<g clip-path="url(#kt10)"><ellipse cx="30.5" cy="435.4" rx="3" ry="2.2" fill="#d83848" opacity="0.8"/><ellipse cx="36.5" cy="431.4" rx="4" ry="3" fill="#5a2838" opacity="0.5"/><ellipse cx="33.5" cy="441.4" rx="5" ry="2" fill="#d8a090" opacity="0.5"/></g>
<defs><radialGradient id="t11" cx="45%" cy="40%" r="62%"><stop offset="0" stop-color="#ce8a79"/><stop offset="0.55" stop-color="#c7766a"/><stop offset="1" stop-color="#b15c54"/></radialGradient><clipPath id="kt11"><path d="M76.40,434.37Q76.43,435.30 76.28,436.20Q76.13,437.11 75.87,438.00Q75.61,438.89 75.16,439.77Q74.72,440.65 73.99,441.39Q73.26,442.14 72.27,442.62Q71.28,443.10 70.19,443.31Q69.09,443.52 67.99,443.57Q66.90,443.61 65.81,443.55Q64.72,443.49 63.65,443.25Q62.57,443.00 61.64,442.48Q60.70,441.97 60.02,441.22Q59.34,440.47 58.89,439.63Q58.44,438.79 58.10,437.94Q57.76,437.09 57.50,436.19Q57.24,435.30 57.20,434.35Q57.16,433.39 57.49,432.47Q57.81,431.55 58.48,430.77Q59.14,429.99 59.98,429.38Q60.82,428.76 61.74,428.27Q62.67,427.77 63.68,427.39Q64.70,427.02 65.80,426.87Q66.90,426.72 68.00,426.86Q69.11,427.00 70.12,427.38Q71.13,427.76 72.04,428.29Q72.94,428.81 73.73,429.45Q74.52,430.09 75.13,430.87Q75.74,431.65 76.06,432.55Q76.38,433.45 76.40,434.37Z"/></clipPath></defs>
<path d="M76.40,434.37Q76.43,435.30 76.28,436.20Q76.13,437.11 75.87,438.00Q75.61,438.89 75.16,439.77Q74.72,440.65 73.99,441.39Q73.26,442.14 72.27,442.62Q71.28,443.10 70.19,443.31Q69.09,443.52 67.99,443.57Q66.90,443.61 65.81,443.55Q64.72,443.49 63.65,443.25Q62.57,443.00 61.64,442.48Q60.70,441.97 60.02,441.22Q59.34,440.47 58.89,439.63Q58.44,438.79 58.10,437.94Q57.76,437.09 57.50,436.19Q57.24,435.30 57.20,434.35Q57.16,433.39 57.49,432.47Q57.81,431.55 58.48,430.77Q59.14,429.99 59.98,429.38Q60.82,428.76 61.74,428.27Q62.67,427.77 63.68,427.39Q64.70,427.02 65.80,426.87Q66.90,426.72 68.00,426.86Q69.11,427.00 70.12,427.38Q71.13,427.76 72.04,428.29Q72.94,428.81 73.73,429.45Q74.52,430.09 75.13,430.87Q75.74,431.65 76.06,432.55Q76.38,433.45 76.40,434.37Z" fill="url(#t11)"/>
<g clip-path="url(#kt11)"><ellipse cx="62.9" cy="441.3" rx="3" ry="1.5" fill="#301020" opacity="0.9"/><ellipse cx="68.9" cy="433.3" rx="1.5" ry="1" fill="#fff0e8" opacity="0.5"/></g>
<defs><radialGradient id="t12" cx="45%" cy="40%" r="62%"><stop offset="0" stop-color="#ce4f3e"/><stop offset="0.55" stop-color="#ce6958"/><stop offset="1" stop-color="#b85b4a"/></radialGradient><clipPath id="kt12"><path d="M111.66,434.57Q111.84,435.30 111.73,436.05Q111.61,436.79 111.25,437.49Q110.89,438.18 110.35,438.80Q109.82,439.42 109.14,439.96Q108.46,440.49 107.63,440.90Q106.81,441.30 105.87,441.52Q104.94,441.74 103.97,441.77Q103.00,441.81 102.05,441.71Q101.10,441.61 100.18,441.40Q99.26,441.19 98.40,440.84Q97.55,440.49 96.83,439.98Q96.12,439.46 95.63,438.82Q95.14,438.17 94.86,437.47Q94.58,436.76 94.47,436.03Q94.35,435.30 94.40,434.56Q94.45,433.82 94.74,433.10Q95.03,432.39 95.58,431.77Q96.13,431.14 96.88,430.67Q97.62,430.19 98.46,429.83Q99.30,429.47 100.19,429.20Q101.08,428.93 102.04,428.78Q103.00,428.62 103.99,428.66Q104.98,428.71 105.90,429.00Q106.82,429.28 107.59,429.74Q108.35,430.21 108.98,430.76Q109.61,431.30 110.14,431.90Q110.67,432.50 111.08,433.16Q111.49,433.83 111.66,434.57Z"/></clipPath></defs>
<path d="M111.66,434.57Q111.84,435.30 111.73,436.05Q111.61,436.79 111.25,437.49Q110.89,438.18 110.35,438.80Q109.82,439.42 109.14,439.96Q108.46,440.49 107.63,440.90Q106.81,441.30 105.87,441.52Q104.94,441.74 103.97,441.77Q103.00,441.81 102.05,441.71Q101.10,441.61 100.18,441.40Q99.26,441.19 98.40,440.84Q97.55,440.49 96.83,439.98Q96.12,439.46 95.63,438.82Q95.14,438.17 94.86,437.47Q94.58,436.76 94.47,436.03Q94.35,435.30 94.40,434.56Q94.45,433.82 94.74,433.10Q95.03,432.39 95.58,431.77Q96.13,431.14 96.88,430.67Q97.62,430.19 98.46,429.83Q99.30,429.47 100.19,429.20Q101.08,428.93 102.04,428.78Q103.00,428.62 103.99,428.66Q104.98,428.71 105.90,429.00Q106.82,429.28 107.59,429.74Q108.35,430.21 108.98,430.76Q109.61,431.30 110.14,431.90Q110.67,432.50 111.08,433.16Q111.49,433.83 111.66,434.57Z" fill="url(#t12)"/>
<g clip-path="url(#kt12)"><ellipse cx="103" cy="435.3" rx="3" ry="2" fill="#e85048" opacity="0.6"/></g>
<defs><radialGradient id="t13" cx="45%" cy="40%" r="62%"><stop offset="0" stop-color="#b16d6d"/><stop offset="0.55" stop-color="#a96a6a"/><stop offset="1" stop-color="#935a60"/></radialGradient><clipPath id="kt13"><path d="M142.95,436.11Q142.95,437.00 142.80,437.86Q142.66,438.72 142.40,439.56Q142.15,440.41 141.72,441.22Q141.29,442.04 140.62,442.75Q139.95,443.45 139.06,443.93Q138.16,444.41 137.15,444.63Q136.14,444.85 135.12,444.85Q134.10,444.86 133.11,444.73Q132.12,444.61 131.16,444.36Q130.20,444.12 129.30,443.71Q128.39,443.29 127.63,442.68Q126.87,442.07 126.34,441.29Q125.81,440.51 125.53,439.64Q125.25,438.78 125.18,437.89Q125.11,437.00 125.21,436.12Q125.32,435.24 125.61,434.38Q125.89,433.53 126.40,432.74Q126.90,431.95 127.62,431.31Q128.35,430.66 129.24,430.20Q130.13,429.75 131.11,429.51Q132.09,429.27 133.10,429.21Q134.10,429.16 135.09,429.25Q136.09,429.34 137.06,429.58Q138.04,429.82 138.96,430.22Q139.87,430.63 140.65,431.25Q141.43,431.86 141.96,432.66Q142.48,433.45 142.72,434.34Q142.95,435.22 142.95,436.11Z"/></clipPath></defs>
<path d="M142.95,436.11Q142.95,437.00 142.80,437.86Q142.66,438.72 142.40,439.56Q142.15,440.41 141.72,441.22Q141.29,442.04 140.62,442.75Q139.95,443.45 139.06,443.93Q138.16,444.41 137.15,444.63Q136.14,444.85 135.12,444.85Q134.10,444.86 133.11,444.73Q132.12,444.61 131.16,444.36Q130.20,444.12 129.30,443.71Q128.39,443.29 127.63,442.68Q126.87,442.07 126.34,441.29Q125.81,440.51 125.53,439.64Q125.25,438.78 125.18,437.89Q125.11,437.00 125.21,436.12Q125.32,435.24 125.61,434.38Q125.89,433.53 126.40,432.74Q126.90,431.95 127.62,431.31Q128.35,430.66 129.24,430.20Q130.13,429.75 131.11,429.51Q132.09,429.27 133.10,429.21Q134.10,429.16 135.09,429.25Q136.09,429.34 137.06,429.58Q138.04,429.82 138.96,430.22Q139.87,430.63 140.65,431.25Q141.43,431.86 141.96,432.66Q142.48,433.45 142.72,434.34Q142.95,435.22 142.95,436.11Z" fill="url(#t13)"/>
<g clip-path="url(#kt13)"><ellipse cx="132.1" cy="434" rx="3" ry="2" fill="#b06868" opacity="0.5"/></g>
<defs><radialGradient id="t14" cx="45%" cy="40%" r="62%"><stop offset="0" stop-color="#d59281"/><stop offset="0.55" stop-color="#ce8271"/><stop offset="1" stop-color="#b87063"/></radialGradient><clipPath id="kt14"><path d="M175.44,436.35Q175.55,437.20 175.52,438.07Q175.50,438.94 175.22,439.79Q174.94,440.65 174.33,441.38Q173.73,442.12 172.87,442.65Q172.02,443.18 171.07,443.53Q170.12,443.87 169.16,444.12Q168.20,444.36 167.20,444.52Q166.20,444.69 165.16,444.69Q164.11,444.69 163.09,444.47Q162.06,444.24 161.16,443.77Q160.25,443.31 159.52,442.68Q158.78,442.05 158.24,441.30Q157.69,440.56 157.35,439.74Q157.01,438.92 156.90,438.06Q156.78,437.20 156.88,436.34Q156.98,435.48 157.29,434.64Q157.60,433.81 158.13,433.04Q158.66,432.27 159.43,431.66Q160.20,431.04 161.17,430.66Q162.13,430.27 163.16,430.12Q164.19,429.97 165.19,429.96Q166.20,429.96 167.20,430.00Q168.19,430.05 169.22,430.18Q170.25,430.31 171.25,430.65Q172.24,430.99 173.04,431.60Q173.84,432.21 174.34,433.00Q174.84,433.79 175.09,434.64Q175.33,435.49 175.44,436.35Z"/></clipPath></defs>
<path d="M175.44,436.35Q175.55,437.20 175.52,438.07Q175.50,438.94 175.22,439.79Q174.94,440.65 174.33,441.38Q173.73,442.12 172.87,442.65Q172.02,443.18 171.07,443.53Q170.12,443.87 169.16,444.12Q168.20,444.36 167.20,444.52Q166.20,444.69 165.16,444.69Q164.11,444.69 163.09,444.47Q162.06,444.24 161.16,443.77Q160.25,443.31 159.52,442.68Q158.78,442.05 158.24,441.30Q157.69,440.56 157.35,439.74Q157.01,438.92 156.90,438.06Q156.78,437.20 156.88,436.34Q156.98,435.48 157.29,434.64Q157.60,433.81 158.13,433.04Q158.66,432.27 159.43,431.66Q160.20,431.04 161.17,430.66Q162.13,430.27 163.16,430.12Q164.19,429.97 165.19,429.96Q166.20,429.96 167.20,430.00Q168.19,430.05 169.22,430.18Q170.25,430.31 171.25,430.65Q172.24,430.99 173.04,431.60Q173.84,432.21 174.34,433.00Q174.84,433.79 175.09,434.64Q175.33,435.49 175.44,436.35Z" fill="url(#t14)"/>
<g clip-path="url(#kt14)"><ellipse cx="167.2" cy="434.2" rx="3" ry="2" fill="#d89080" opacity="0.5"/></g>
<defs><radialGradient id="t15" cx="45%" cy="40%" r="62%"><stop offset="0" stop-color="#ce7969"/><stop offset="0.55" stop-color="#c77261"/><stop offset="1" stop-color="#b1605c"/></radialGradient><clipPath id="kt15"><path d="M206.68,433.35Q206.83,434.20 206.74,435.06Q206.66,435.93 206.29,436.71Q205.92,437.49 205.36,438.11Q204.79,438.74 204.16,439.25Q203.53,439.76 202.88,440.23Q202.23,440.71 201.50,441.12Q200.77,441.53 199.94,441.75Q199.10,441.96 198.23,441.87Q197.37,441.79 196.57,441.46Q195.77,441.12 195.05,440.66Q194.33,440.19 193.67,439.62Q193.02,439.05 192.50,438.34Q191.97,437.63 191.69,436.79Q191.41,435.96 191.40,435.08Q191.40,434.20 191.61,433.37Q191.81,432.54 192.13,431.77Q192.45,431.00 192.89,430.29Q193.32,429.59 193.90,429.00Q194.48,428.40 195.19,427.98Q195.91,427.57 196.69,427.32Q197.47,427.06 198.29,426.92Q199.10,426.77 199.96,426.74Q200.81,426.71 201.68,426.88Q202.54,427.05 203.31,427.51Q204.07,427.96 204.64,428.64Q205.22,429.32 205.60,430.10Q205.99,430.88 206.26,431.69Q206.53,432.50 206.68,433.35Z"/></clipPath></defs>
<path d="M206.68,433.35Q206.83,434.20 206.74,435.06Q206.66,435.93 206.29,436.71Q205.92,437.49 205.36,438.11Q204.79,438.74 204.16,439.25Q203.53,439.76 202.88,440.23Q202.23,440.71 201.50,441.12Q200.77,441.53 199.94,441.75Q199.10,441.96 198.23,441.87Q197.37,441.79 196.57,441.46Q195.77,441.12 195.05,440.66Q194.33,440.19 193.67,439.62Q193.02,439.05 192.50,438.34Q191.97,437.63 191.69,436.79Q191.41,435.96 191.40,435.08Q191.40,434.20 191.61,433.37Q191.81,432.54 192.13,431.77Q192.45,431.00 192.89,430.29Q193.32,429.59 193.90,429.00Q194.48,428.40 195.19,427.98Q195.91,427.57 196.69,427.32Q197.47,427.06 198.29,426.92Q199.10,426.77 199.96,426.74Q200.81,426.71 201.68,426.88Q202.54,427.05 203.31,427.51Q204.07,427.96 204.64,428.64Q205.22,429.32 205.60,430.10Q205.99,430.88 206.26,431.69Q206.53,432.50 206.68,433.35Z" fill="url(#t15)"/>
<g clip-path="url(#kt15)"><ellipse cx="198.1" cy="432.2" rx="2" ry="1.5" fill="#d06060" opacity="0.5"/></g>
<defs><radialGradient id="t16" cx="45%" cy="40%" r="62%"><stop offset="0" stop-color="#d58978"/><stop offset="0.55" stop-color="#ca7e6d"/><stop offset="1" stop-color="#b46c64"/></radialGradient><clipPath id="kt16"><path d="M235.91,434.35Q235.99,435.10 235.91,435.85Q235.83,436.60 235.61,437.32Q235.38,438.05 234.98,438.73Q234.59,439.40 234.02,439.97Q233.45,440.53 232.74,440.94Q232.03,441.35 231.24,441.58Q230.45,441.82 229.62,441.88Q228.80,441.94 227.99,441.83Q227.18,441.72 226.42,441.45Q225.66,441.17 224.99,440.75Q224.32,440.33 223.77,439.79Q223.21,439.25 222.78,438.62Q222.34,438.00 222.04,437.30Q221.74,436.60 221.61,435.85Q221.47,435.10 221.54,434.34Q221.60,433.57 221.88,432.84Q222.15,432.12 222.60,431.47Q223.04,430.82 223.63,430.29Q224.22,429.75 224.91,429.34Q225.61,428.93 226.39,428.68Q227.16,428.42 227.98,428.35Q228.80,428.28 229.61,428.38Q230.42,428.49 231.18,428.75Q231.95,429.01 232.64,429.41Q233.33,429.81 233.91,430.34Q234.49,430.87 234.92,431.52Q235.34,432.16 235.59,432.88Q235.84,433.60 235.91,434.35Z"/></clipPath></defs>
<path d="M235.91,434.35Q235.99,435.10 235.91,435.85Q235.83,436.60 235.61,437.32Q235.38,438.05 234.98,438.73Q234.59,439.40 234.02,439.97Q233.45,440.53 232.74,440.94Q232.03,441.35 231.24,441.58Q230.45,441.82 229.62,441.88Q228.80,441.94 227.99,441.83Q227.18,441.72 226.42,441.45Q225.66,441.17 224.99,440.75Q224.32,440.33 223.77,439.79Q223.21,439.25 222.78,438.62Q222.34,438.00 222.04,437.30Q221.74,436.60 221.61,435.85Q221.47,435.10 221.54,434.34Q221.60,433.57 221.88,432.84Q222.15,432.12 222.60,431.47Q223.04,430.82 223.63,430.29Q224.22,429.75 224.91,429.34Q225.61,428.93 226.39,428.68Q227.16,428.42 227.98,428.35Q228.80,428.28 229.61,428.38Q230.42,428.49 231.18,428.75Q231.95,429.01 232.64,429.41Q233.33,429.81 233.91,430.34Q234.49,430.87 234.92,431.52Q235.34,432.16 235.59,432.88Q235.84,433.60 235.91,434.35Z" fill="url(#t16)"/>
<g clip-path="url(#kt16)"><ellipse cx="227.8" cy="433.1" rx="1.5" ry="1" fill="#d06060" opacity="0.5"/></g>
<defs><radialGradient id="t20" cx="45%" cy="40%" r="62%"><stop offset="0" stop-color="#9c3735"/><stop offset="0.55" stop-color="#933232"/><stop offset="1" stop-color="#7f282a"/></radialGradient><clipPath id="kt20"><path d="M43.18,472.22Q43.16,473.40 42.93,474.53Q42.69,475.67 42.38,476.81Q42.07,477.95 41.52,479.11Q40.97,480.27 39.95,481.26Q38.93,482.25 37.48,482.85Q36.03,483.45 34.43,483.67Q32.83,483.89 31.27,483.92Q29.70,483.94 28.14,483.89Q26.58,483.83 25.03,483.56Q23.48,483.28 22.13,482.61Q20.79,481.94 19.87,480.95Q18.95,479.95 18.39,478.86Q17.83,477.77 17.35,476.70Q16.88,475.64 16.43,474.52Q15.98,473.40 15.83,472.18Q15.68,470.95 16.13,469.76Q16.57,468.57 17.56,467.59Q18.55,466.60 19.79,465.85Q21.03,465.09 22.35,464.46Q23.66,463.82 25.10,463.32Q26.54,462.81 28.12,462.60Q29.70,462.38 31.29,462.58Q32.87,462.78 34.31,463.30Q35.74,463.82 37.01,464.49Q38.29,465.17 39.43,465.97Q40.57,466.78 41.45,467.76Q42.33,468.75 42.76,469.90Q43.19,471.05 43.18,472.22Z"/></clipPath></defs>
<path d="M43.18,472.22Q43.16,473.40 42.93,474.53Q42.69,475.67 42.38,476.81Q42.07,477.95 41.52,479.11Q40.97,480.27 39.95,481.26Q38.93,482.25 37.48,482.85Q36.03,483.45 34.43,483.67Q32.83,483.89 31.27,483.92Q29.70,483.94 28.14,483.89Q26.58,483.83 25.03,483.56Q23.48,483.28 22.13,482.61Q20.79,481.94 19.87,480.95Q18.95,479.95 18.39,478.86Q17.83,477.77 17.35,476.70Q16.88,475.64 16.43,474.52Q15.98,473.40 15.83,472.18Q15.68,470.95 16.13,469.76Q16.57,468.57 17.56,467.59Q18.55,466.60 19.79,465.85Q21.03,465.09 22.35,464.46Q23.66,463.82 25.10,463.32Q26.54,462.81 28.12,462.60Q29.70,462.38 31.29,462.58Q32.87,462.78 34.31,463.30Q35.74,463.82 37.01,464.49Q38.29,465.17 39.43,465.97Q40.57,466.78 41.45,467.76Q42.33,468.75 42.76,469.90Q43.19,471.05 43.18,472.22Z" fill="url(#t20)"/>
<g clip-path="url(#kt20)"><ellipse cx="25.7" cy="477.4" rx="4" ry="3" fill="#c87070" opacity="0.5"/><ellipse cx="35.7" cy="476.4" rx="3" ry="2" fill="#d89090" opacity="0.4"/></g>
<defs><radialGradient id="t21" cx="45%" cy="40%" r="62%"><stop offset="0" stop-color="#c75948"/><stop offset="0.55" stop-color="#b84239"/><stop offset="1" stop-color="#a23434"/></radialGradient><clipPath id="kt21"><path d="M81.09,472.69Q81.38,473.90 81.21,475.14Q81.05,476.38 80.50,477.52Q79.95,478.67 79.17,479.69Q78.38,480.72 77.41,481.61Q76.43,482.50 75.23,483.17Q74.03,483.84 72.67,484.19Q71.30,484.53 69.90,484.56Q68.50,484.59 67.14,484.41Q65.77,484.23 64.44,483.91Q63.11,483.58 61.85,483.04Q60.58,482.49 59.54,481.65Q58.49,480.81 57.79,479.73Q57.10,478.65 56.72,477.48Q56.34,476.30 56.17,475.10Q56.01,473.90 56.05,472.67Q56.09,471.45 56.48,470.25Q56.87,469.06 57.69,468.03Q58.51,467.01 59.63,466.25Q60.74,465.49 61.97,464.92Q63.19,464.36 64.46,463.89Q65.74,463.43 67.12,463.12Q68.50,462.81 69.95,462.86Q71.40,462.91 72.73,463.41Q74.06,463.91 75.14,464.72Q76.21,465.53 77.08,466.46Q77.96,467.38 78.74,468.34Q79.52,469.31 80.15,470.39Q80.79,471.47 81.09,472.69Z"/></clipPath></defs>
<path d="M81.09,472.69Q81.38,473.90 81.21,475.14Q81.05,476.38 80.50,477.52Q79.95,478.67 79.17,479.69Q78.38,480.72 77.41,481.61Q76.43,482.50 75.23,483.17Q74.03,483.84 72.67,484.19Q71.30,484.53 69.90,484.56Q68.50,484.59 67.14,484.41Q65.77,484.23 64.44,483.91Q63.11,483.58 61.85,483.04Q60.58,482.49 59.54,481.65Q58.49,480.81 57.79,479.73Q57.10,478.65 56.72,477.48Q56.34,476.30 56.17,475.10Q56.01,473.90 56.05,472.67Q56.09,471.45 56.48,470.25Q56.87,469.06 57.69,468.03Q58.51,467.01 59.63,466.25Q60.74,465.49 61.97,464.92Q63.19,464.36 64.46,463.89Q65.74,463.43 67.12,463.12Q68.50,462.81 69.95,462.86Q71.40,462.91 72.73,463.41Q74.06,463.91 75.14,464.72Q76.21,465.53 77.08,466.46Q77.96,467.38 78.74,468.34Q79.52,469.31 80.15,470.39Q80.79,471.47 81.09,472.69Z" fill="url(#t21)"/>
<g clip-path="url(#kt21)"><ellipse cx="66.5" cy="467.9" rx="7" ry="3" fill="#e8a090" opacity="0.5"/><ellipse cx="70.5" cy="477.9" rx="4" ry="3" fill="#c04048" opacity="0.5"/></g>
<defs><radialGradient id="t22" cx="45%" cy="40%" r="62%"><stop offset="0" stop-color="#b1565c"/><stop offset="0.55" stop-color="#9b424e"/><stop offset="1" stop-color="#7d3542"/></radialGradient><clipPath id="kt22"><path d="M119.54,474.36Q119.48,475.30 119.30,476.20Q119.11,477.10 118.85,477.99Q118.59,478.89 118.14,479.79Q117.69,480.68 116.93,481.46Q116.17,482.24 115.10,482.75Q114.03,483.27 112.82,483.46Q111.60,483.66 110.40,483.63Q109.20,483.59 108.05,483.45Q106.90,483.30 105.77,483.06Q104.64,482.83 103.55,482.41Q102.47,482.00 101.56,481.36Q100.65,480.72 100.03,479.88Q99.41,479.04 99.11,478.11Q98.81,477.18 98.74,476.24Q98.68,475.30 98.80,474.37Q98.91,473.44 99.23,472.52Q99.55,471.61 100.12,470.76Q100.70,469.91 101.55,469.22Q102.40,468.52 103.46,468.05Q104.52,467.58 105.69,467.35Q106.85,467.12 108.02,467.08Q109.20,467.04 110.36,467.13Q111.52,467.23 112.67,467.45Q113.82,467.68 114.93,468.08Q116.04,468.49 116.98,469.13Q117.92,469.78 118.53,470.64Q119.15,471.50 119.37,472.45Q119.60,473.41 119.54,474.36Z"/></clipPath></defs>
<path d="M119.54,474.36Q119.48,475.30 119.30,476.20Q119.11,477.10 118.85,477.99Q118.59,478.89 118.14,479.79Q117.69,480.68 116.93,481.46Q116.17,482.24 115.10,482.75Q114.03,483.27 112.82,483.46Q111.60,483.66 110.40,483.63Q109.20,483.59 108.05,483.45Q106.90,483.30 105.77,483.06Q104.64,482.83 103.55,482.41Q102.47,482.00 101.56,481.36Q100.65,480.72 100.03,479.88Q99.41,479.04 99.11,478.11Q98.81,477.18 98.74,476.24Q98.68,475.30 98.80,474.37Q98.91,473.44 99.23,472.52Q99.55,471.61 100.12,470.76Q100.70,469.91 101.55,469.22Q102.40,468.52 103.46,468.05Q104.52,467.58 105.69,467.35Q106.85,467.12 108.02,467.08Q109.20,467.04 110.36,467.13Q111.52,467.23 112.67,467.45Q113.82,467.68 114.93,468.08Q116.04,468.49 116.98,469.13Q117.92,469.78 118.53,470.64Q119.15,471.50 119.37,472.45Q119.60,473.41 119.54,474.36Z" fill="url(#t22)"/>
<g clip-path="url(#kt22)"><ellipse cx="102.2" cy="470.3" rx="6" ry="4" fill="#30142a" opacity="0.9"/><ellipse cx="112.2" cy="480.3" rx="6" ry="3" fill="#e0a098" opacity="0.4"/></g>
<defs><radialGradient id="t23" cx="45%" cy="40%" r="62%"><stop offset="0" stop-color="#bf736b"/><stop offset="0.55" stop-color="#b15c56"/><stop offset="1" stop-color="#934b4f"/></radialGradient><clipPath id="kt23"><path d="M147.72,472.65Q147.83,473.50 147.84,474.37Q147.85,475.25 147.59,476.12Q147.33,476.99 146.70,477.73Q146.06,478.46 145.14,478.96Q144.23,479.46 143.23,479.76Q142.24,480.07 141.27,480.30Q140.30,480.53 139.30,480.71Q138.30,480.90 137.23,480.94Q136.17,480.99 135.11,480.78Q134.05,480.58 133.12,480.11Q132.19,479.65 131.44,479.01Q130.70,478.36 130.15,477.61Q129.60,476.86 129.25,476.04Q128.91,475.22 128.79,474.36Q128.67,473.50 128.76,472.64Q128.86,471.77 129.16,470.93Q129.46,470.08 129.99,469.30Q130.52,468.52 131.32,467.90Q132.12,467.29 133.13,466.93Q134.14,466.58 135.21,466.48Q136.28,466.39 137.29,466.41Q138.30,466.44 139.30,466.46Q140.30,466.49 141.36,466.56Q142.42,466.63 143.48,466.92Q144.55,467.22 145.39,467.82Q146.23,468.43 146.71,469.25Q147.19,470.06 147.40,470.93Q147.62,471.79 147.72,472.65Z"/></clipPath></defs>
<path d="M147.72,472.65Q147.83,473.50 147.84,474.37Q147.85,475.25 147.59,476.12Q147.33,476.99 146.70,477.73Q146.06,478.46 145.14,478.96Q144.23,479.46 143.23,479.76Q142.24,480.07 141.27,480.30Q140.30,480.53 139.30,480.71Q138.30,480.90 137.23,480.94Q136.17,480.99 135.11,480.78Q134.05,480.58 133.12,480.11Q132.19,479.65 131.44,479.01Q130.70,478.36 130.15,477.61Q129.60,476.86 129.25,476.04Q128.91,475.22 128.79,474.36Q128.67,473.50 128.76,472.64Q128.86,471.77 129.16,470.93Q129.46,470.08 129.99,469.30Q130.52,468.52 131.32,467.90Q132.12,467.29 133.13,466.93Q134.14,466.58 135.21,466.48Q136.28,466.39 137.29,466.41Q138.30,466.44 139.30,466.46Q140.30,466.49 141.36,466.56Q142.42,466.63 143.48,466.92Q144.55,467.22 145.39,467.82Q146.23,468.43 146.71,469.25Q147.19,470.06 147.40,470.93Q147.62,471.79 147.72,472.65Z" fill="url(#t23)"/>
<g clip-path="url(#kt23)"><ellipse cx="129.3" cy="471.5" rx="3" ry="6" fill="#2a1424" opacity="0.9"/></g>
<defs><radialGradient id="t24" cx="45%" cy="40%" r="62%"><stop offset="0" stop-color="#ce7369"/><stop offset="0.55" stop-color="#c36257"/><stop offset="1" stop-color="#ad504c"/></radialGradient><clipPath id="kt24"><path d="M180.01,468.67Q180.23,469.60 180.13,470.55Q180.03,471.50 179.51,472.34Q179.00,473.18 178.21,473.82Q177.43,474.47 176.61,474.98Q175.80,475.50 175.01,476.03Q174.22,476.56 173.32,477.07Q172.43,477.58 171.36,477.86Q170.30,478.14 169.18,478.05Q168.07,477.96 167.05,477.58Q166.03,477.20 165.11,476.68Q164.19,476.16 163.33,475.55Q162.47,474.94 161.77,474.17Q161.06,473.41 160.70,472.48Q160.34,471.55 160.38,470.57Q160.42,469.60 160.74,468.70Q161.06,467.79 161.49,466.97Q161.92,466.15 162.46,465.38Q163.00,464.62 163.73,463.98Q164.46,463.33 165.37,462.89Q166.28,462.45 167.26,462.19Q168.25,461.93 169.28,461.75Q170.30,461.57 171.40,461.47Q172.49,461.38 173.63,461.52Q174.77,461.66 175.77,462.16Q176.77,462.66 177.48,463.44Q178.19,464.21 178.65,465.09Q179.11,465.97 179.45,466.86Q179.80,467.75 180.01,468.67Z"/></clipPath></defs>
<path d="M180.01,468.67Q180.23,469.60 180.13,470.55Q180.03,471.50 179.51,472.34Q179.00,473.18 178.21,473.82Q177.43,474.47 176.61,474.98Q175.80,475.50 175.01,476.03Q174.22,476.56 173.32,477.07Q172.43,477.58 171.36,477.86Q170.30,478.14 169.18,478.05Q168.07,477.96 167.05,477.58Q166.03,477.20 165.11,476.68Q164.19,476.16 163.33,475.55Q162.47,474.94 161.77,474.17Q161.06,473.41 160.70,472.48Q160.34,471.55 160.38,470.57Q160.42,469.60 160.74,468.70Q161.06,467.79 161.49,466.97Q161.92,466.15 162.46,465.38Q163.00,464.62 163.73,463.98Q164.46,463.33 165.37,462.89Q166.28,462.45 167.26,462.19Q168.25,461.93 169.28,461.75Q170.30,461.57 171.40,461.47Q172.49,461.38 173.63,461.52Q174.77,461.66 175.77,462.16Q176.77,462.66 177.48,463.44Q178.19,464.21 178.65,465.09Q179.11,465.97 179.45,466.86Q179.80,467.75 180.01,468.67Z" fill="url(#t24)"/>
<g clip-path="url(#kt24)"><ellipse cx="170.3" cy="467.6" rx="3" ry="2" fill="#d06060" opacity="0.4"/></g>
<defs><radialGradient id="t25" cx="45%" cy="40%" r="62%"><stop offset="0" stop-color="#a92f3b"/><stop offset="0.55" stop-color="#9b2431"/><stop offset="1" stop-color="#7d1a26"/></radialGradient><clipPath id="kt25"><path d="M211.68,468.36Q211.78,469.20 211.67,470.04Q211.57,470.89 211.27,471.71Q210.97,472.54 210.42,473.32Q209.87,474.10 209.06,474.75Q208.25,475.40 207.22,475.87Q206.19,476.33 205.03,476.59Q203.88,476.84 202.69,476.90Q201.50,476.96 200.33,476.82Q199.17,476.69 198.08,476.37Q197.00,476.05 196.05,475.57Q195.10,475.08 194.32,474.47Q193.53,473.86 192.90,473.16Q192.28,472.46 191.83,471.67Q191.38,470.89 191.16,470.05Q190.94,469.20 191.02,468.33Q191.10,467.46 191.50,466.63Q191.89,465.81 192.54,465.07Q193.19,464.34 194.04,463.73Q194.89,463.12 195.89,462.66Q196.90,462.19 198.02,461.90Q199.14,461.62 200.32,461.54Q201.50,461.47 202.66,461.60Q203.83,461.72 204.92,462.02Q206.02,462.32 207.01,462.77Q208.00,463.23 208.83,463.82Q209.67,464.42 210.28,465.15Q210.89,465.88 211.24,466.70Q211.58,467.51 211.68,468.36Z"/></clipPath></defs>
<path d="M211.68,468.36Q211.78,469.20 211.67,470.04Q211.57,470.89 211.27,471.71Q210.97,472.54 210.42,473.32Q209.87,474.10 209.06,474.75Q208.25,475.40 207.22,475.87Q206.19,476.33 205.03,476.59Q203.88,476.84 202.69,476.90Q201.50,476.96 200.33,476.82Q199.17,476.69 198.08,476.37Q197.00,476.05 196.05,475.57Q195.10,475.08 194.32,474.47Q193.53,473.86 192.90,473.16Q192.28,472.46 191.83,471.67Q191.38,470.89 191.16,470.05Q190.94,469.20 191.02,468.33Q191.10,467.46 191.50,466.63Q191.89,465.81 192.54,465.07Q193.19,464.34 194.04,463.73Q194.89,463.12 195.89,462.66Q196.90,462.19 198.02,461.90Q199.14,461.62 200.32,461.54Q201.50,461.47 202.66,461.60Q203.83,461.72 204.92,462.02Q206.02,462.32 207.01,462.77Q208.00,463.23 208.83,463.82Q209.67,464.42 210.28,465.15Q210.89,465.88 211.24,466.70Q211.58,467.51 211.68,468.36Z" fill="url(#t25)"/>
<g clip-path="url(#kt25)"><ellipse cx="198.5" cy="473.2" rx="6" ry="3" fill="#7a1828" opacity="0.7"/><ellipse cx="204.5" cy="466.2" rx="3" ry="2" fill="#d06070" opacity="0.5"/></g>
<defs><radialGradient id="t26" cx="45%" cy="40%" r="62%"><stop offset="0" stop-color="#c76a59"/><stop offset="0.55" stop-color="#bc5649"/><stop offset="1" stop-color="#a2453c"/></radialGradient><clipPath id="kt26"><path d="M242.02,468.03Q242.18,468.90 242.10,469.78Q242.02,470.66 241.70,471.52Q241.38,472.38 240.82,473.19Q240.26,473.99 239.47,474.70Q238.67,475.40 237.64,475.92Q236.61,476.44 235.42,476.70Q234.24,476.96 233.02,476.96Q231.80,476.96 230.64,476.76Q229.48,476.56 228.40,476.24Q227.32,475.92 226.32,475.48Q225.31,475.04 224.45,474.44Q223.58,473.84 222.97,473.09Q222.36,472.33 222.04,471.48Q221.73,470.64 221.65,469.77Q221.56,468.90 221.63,468.03Q221.70,467.16 221.94,466.28Q222.18,465.40 222.69,464.56Q223.19,463.72 224.03,463.02Q224.86,462.33 225.94,461.87Q227.03,461.42 228.22,461.20Q229.41,460.99 230.60,460.96Q231.80,460.93 232.97,461.05Q234.14,461.17 235.25,461.47Q236.36,461.76 237.34,462.24Q238.33,462.72 239.13,463.36Q239.94,464.00 240.52,464.76Q241.11,465.51 241.49,466.34Q241.87,467.17 242.02,468.03Z"/></clipPath></defs>
<path d="M242.02,468.03Q242.18,468.90 242.10,469.78Q242.02,470.66 241.70,471.52Q241.38,472.38 240.82,473.19Q240.26,473.99 239.47,474.70Q238.67,475.40 237.64,475.92Q236.61,476.44 235.42,476.70Q234.24,476.96 233.02,476.96Q231.80,476.96 230.64,476.76Q229.48,476.56 228.40,476.24Q227.32,475.92 226.32,475.48Q225.31,475.04 224.45,474.44Q223.58,473.84 222.97,473.09Q222.36,472.33 222.04,471.48Q221.73,470.64 221.65,469.77Q221.56,468.90 221.63,468.03Q221.70,467.16 221.94,466.28Q222.18,465.40 222.69,464.56Q223.19,463.72 224.03,463.02Q224.86,462.33 225.94,461.87Q227.03,461.42 228.22,461.20Q229.41,460.99 230.60,460.96Q231.80,460.93 232.97,461.05Q234.14,461.17 235.25,461.47Q236.36,461.76 237.34,462.24Q238.33,462.72 239.13,463.36Q239.94,464.00 240.52,464.76Q241.11,465.51 241.49,466.34Q241.87,467.17 242.02,468.03Z" fill="url(#t26)"/>
<g clip-path="url(#kt26)"><ellipse cx="233.8" cy="467.9" rx="3" ry="2" fill="#f0b0a8" opacity="0.5"/></g>
<defs><clipPath id="tall"><path d="M40.46,435.54Q40.59,436.40 40.57,437.28Q40.55,438.16 40.32,439.04Q40.08,439.92 39.58,440.74Q39.08,441.55 38.32,442.21Q37.56,442.88 36.62,443.33Q35.67,443.79 34.64,444.03Q33.61,444.28 32.55,444.34Q31.50,444.40 30.46,444.30Q29.41,444.20 28.40,443.95Q27.38,443.70 26.43,443.27Q25.48,442.83 24.68,442.21Q23.88,441.58 23.32,440.79Q22.75,439.99 22.47,439.10Q22.18,438.21 22.15,437.31Q22.11,436.40 22.28,435.52Q22.44,434.64 22.79,433.80Q23.13,432.97 23.67,432.21Q24.21,431.44 24.94,430.81Q25.67,430.17 26.55,429.69Q27.44,429.20 28.42,428.88Q29.40,428.55 30.45,428.37Q31.50,428.20 32.59,428.21Q33.69,428.22 34.76,428.49Q35.82,428.75 36.74,429.28Q37.66,429.82 38.33,430.56Q39.00,431.30 39.43,432.13Q39.85,432.97 40.10,433.83Q40.34,434.68 40.46,435.54Z"/><path d="M76.40,434.37Q76.43,435.30 76.28,436.20Q76.13,437.11 75.87,438.00Q75.61,438.89 75.16,439.77Q74.72,440.65 73.99,441.39Q73.26,442.14 72.27,442.62Q71.28,443.10 70.19,443.31Q69.09,443.52 67.99,443.57Q66.90,443.61 65.81,443.55Q64.72,443.49 63.65,443.25Q62.57,443.00 61.64,442.48Q60.70,441.97 60.02,441.22Q59.34,440.47 58.89,439.63Q58.44,438.79 58.10,437.94Q57.76,437.09 57.50,436.19Q57.24,435.30 57.20,434.35Q57.16,433.39 57.49,432.47Q57.81,431.55 58.48,430.77Q59.14,429.99 59.98,429.38Q60.82,428.76 61.74,428.27Q62.67,427.77 63.68,427.39Q64.70,427.02 65.80,426.87Q66.90,426.72 68.00,426.86Q69.11,427.00 70.12,427.38Q71.13,427.76 72.04,428.29Q72.94,428.81 73.73,429.45Q74.52,430.09 75.13,430.87Q75.74,431.65 76.06,432.55Q76.38,433.45 76.40,434.37Z"/><path d="M111.66,434.57Q111.84,435.30 111.73,436.05Q111.61,436.79 111.25,437.49Q110.89,438.18 110.35,438.80Q109.82,439.42 109.14,439.96Q108.46,440.49 107.63,440.90Q106.81,441.30 105.87,441.52Q104.94,441.74 103.97,441.77Q103.00,441.81 102.05,441.71Q101.10,441.61 100.18,441.40Q99.26,441.19 98.40,440.84Q97.55,440.49 96.83,439.98Q96.12,439.46 95.63,438.82Q95.14,438.17 94.86,437.47Q94.58,436.76 94.47,436.03Q94.35,435.30 94.40,434.56Q94.45,433.82 94.74,433.10Q95.03,432.39 95.58,431.77Q96.13,431.14 96.88,430.67Q97.62,430.19 98.46,429.83Q99.30,429.47 100.19,429.20Q101.08,428.93 102.04,428.78Q103.00,428.62 103.99,428.66Q104.98,428.71 105.90,429.00Q106.82,429.28 107.59,429.74Q108.35,430.21 108.98,430.76Q109.61,431.30 110.14,431.90Q110.67,432.50 111.08,433.16Q111.49,433.83 111.66,434.57Z"/><path d="M142.95,436.11Q142.95,437.00 142.80,437.86Q142.66,438.72 142.40,439.56Q142.15,440.41 141.72,441.22Q141.29,442.04 140.62,442.75Q139.95,443.45 139.06,443.93Q138.16,444.41 137.15,444.63Q136.14,444.85 135.12,444.85Q134.10,444.86 133.11,444.73Q132.12,444.61 131.16,444.36Q130.20,444.12 129.30,443.71Q128.39,443.29 127.63,442.68Q126.87,442.07 126.34,441.29Q125.81,440.51 125.53,439.64Q125.25,438.78 125.18,437.89Q125.11,437.00 125.21,436.12Q125.32,435.24 125.61,434.38Q125.89,433.53 126.40,432.74Q126.90,431.95 127.62,431.31Q128.35,430.66 129.24,430.20Q130.13,429.75 131.11,429.51Q132.09,429.27 133.10,429.21Q134.10,429.16 135.09,429.25Q136.09,429.34 137.06,429.58Q138.04,429.82 138.96,430.22Q139.87,430.63 140.65,431.25Q141.43,431.86 141.96,432.66Q142.48,433.45 142.72,434.34Q142.95,435.22 142.95,436.11Z"/><path d="M175.44,436.35Q175.55,437.20 175.52,438.07Q175.50,438.94 175.22,439.79Q174.94,440.65 174.33,441.38Q173.73,442.12 172.87,442.65Q172.02,443.18 171.07,443.53Q170.12,443.87 169.16,444.12Q168.20,444.36 167.20,444.52Q166.20,444.69 165.16,444.69Q164.11,444.69 163.09,444.47Q162.06,444.24 161.16,443.77Q160.25,443.31 159.52,442.68Q158.78,442.05 158.24,441.30Q157.69,440.56 157.35,439.74Q157.01,438.92 156.90,438.06Q156.78,437.20 156.88,436.34Q156.98,435.48 157.29,434.64Q157.60,433.81 158.13,433.04Q158.66,432.27 159.43,431.66Q160.20,431.04 161.17,430.66Q162.13,430.27 163.16,430.12Q164.19,429.97 165.19,429.96Q166.20,429.96 167.20,430.00Q168.19,430.05 169.22,430.18Q170.25,430.31 171.25,430.65Q172.24,430.99 173.04,431.60Q173.84,432.21 174.34,433.00Q174.84,433.79 175.09,434.64Q175.33,435.49 175.44,436.35Z"/><path d="M206.68,433.35Q206.83,434.20 206.74,435.06Q206.66,435.93 206.29,436.71Q205.92,437.49 205.36,438.11Q204.79,438.74 204.16,439.25Q203.53,439.76 202.88,440.23Q202.23,440.71 201.50,441.12Q200.77,441.53 199.94,441.75Q199.10,441.96 198.23,441.87Q197.37,441.79 196.57,441.46Q195.77,441.12 195.05,440.66Q194.33,440.19 193.67,439.62Q193.02,439.05 192.50,438.34Q191.97,437.63 191.69,436.79Q191.41,435.96 191.40,435.08Q191.40,434.20 191.61,433.37Q191.81,432.54 192.13,431.77Q192.45,431.00 192.89,430.29Q193.32,429.59 193.90,429.00Q194.48,428.40 195.19,427.98Q195.91,427.57 196.69,427.32Q197.47,427.06 198.29,426.92Q199.10,426.77 199.96,426.74Q200.81,426.71 201.68,426.88Q202.54,427.05 203.31,427.51Q204.07,427.96 204.64,428.64Q205.22,429.32 205.60,430.10Q205.99,430.88 206.26,431.69Q206.53,432.50 206.68,433.35Z"/><path d="M235.91,434.35Q235.99,435.10 235.91,435.85Q235.83,436.60 235.61,437.32Q235.38,438.05 234.98,438.73Q234.59,439.40 234.02,439.97Q233.45,440.53 232.74,440.94Q232.03,441.35 231.24,441.58Q230.45,441.82 229.62,441.88Q228.80,441.94 227.99,441.83Q227.18,441.72 226.42,441.45Q225.66,441.17 224.99,440.75Q224.32,440.33 223.77,439.79Q223.21,439.25 222.78,438.62Q222.34,438.00 222.04,437.30Q221.74,436.60 221.61,435.85Q221.47,435.10 221.54,434.34Q221.60,433.57 221.88,432.84Q222.15,432.12 222.60,431.47Q223.04,430.82 223.63,430.29Q224.22,429.75 224.91,429.34Q225.61,428.93 226.39,428.68Q227.16,428.42 227.98,428.35Q228.80,428.28 229.61,428.38Q230.42,428.49 231.18,428.75Q231.95,429.01 232.64,429.41Q233.33,429.81 233.91,430.34Q234.49,430.87 234.92,431.52Q235.34,432.16 235.59,432.88Q235.84,433.60 235.91,434.35Z"/><path d="M43.18,472.22Q43.16,473.40 42.93,474.53Q42.69,475.67 42.38,476.81Q42.07,477.95 41.52,479.11Q40.97,480.27 39.95,481.26Q38.93,482.25 37.48,482.85Q36.03,483.45 34.43,483.67Q32.83,483.89 31.27,483.92Q29.70,483.94 28.14,483.89Q26.58,483.83 25.03,483.56Q23.48,483.28 22.13,482.61Q20.79,481.94 19.87,480.95Q18.95,479.95 18.39,478.86Q17.83,477.77 17.35,476.70Q16.88,475.64 16.43,474.52Q15.98,473.40 15.83,472.18Q15.68,470.95 16.13,469.76Q16.57,468.57 17.56,467.59Q18.55,466.60 19.79,465.85Q21.03,465.09 22.35,464.46Q23.66,463.82 25.10,463.32Q26.54,462.81 28.12,462.60Q29.70,462.38 31.29,462.58Q32.87,462.78 34.31,463.30Q35.74,463.82 37.01,464.49Q38.29,465.17 39.43,465.97Q40.57,466.78 41.45,467.76Q42.33,468.75 42.76,469.90Q43.19,471.05 43.18,472.22Z"/><path d="M81.09,472.69Q81.38,473.90 81.21,475.14Q81.05,476.38 80.50,477.52Q79.95,478.67 79.17,479.69Q78.38,480.72 77.41,481.61Q76.43,482.50 75.23,483.17Q74.03,483.84 72.67,484.19Q71.30,484.53 69.90,484.56Q68.50,484.59 67.14,484.41Q65.77,484.23 64.44,483.91Q63.11,483.58 61.85,483.04Q60.58,482.49 59.54,481.65Q58.49,480.81 57.79,479.73Q57.10,478.65 56.72,477.48Q56.34,476.30 56.17,475.10Q56.01,473.90 56.05,472.67Q56.09,471.45 56.48,470.25Q56.87,469.06 57.69,468.03Q58.51,467.01 59.63,466.25Q60.74,465.49 61.97,464.92Q63.19,464.36 64.46,463.89Q65.74,463.43 67.12,463.12Q68.50,462.81 69.95,462.86Q71.40,462.91 72.73,463.41Q74.06,463.91 75.14,464.72Q76.21,465.53 77.08,466.46Q77.96,467.38 78.74,468.34Q79.52,469.31 80.15,470.39Q80.79,471.47 81.09,472.69Z"/><path d="M119.54,474.36Q119.48,475.30 119.30,476.20Q119.11,477.10 118.85,477.99Q118.59,478.89 118.14,479.79Q117.69,480.68 116.93,481.46Q116.17,482.24 115.10,482.75Q114.03,483.27 112.82,483.46Q111.60,483.66 110.40,483.63Q109.20,483.59 108.05,483.45Q106.90,483.30 105.77,483.06Q104.64,482.83 103.55,482.41Q102.47,482.00 101.56,481.36Q100.65,480.72 100.03,479.88Q99.41,479.04 99.11,478.11Q98.81,477.18 98.74,476.24Q98.68,475.30 98.80,474.37Q98.91,473.44 99.23,472.52Q99.55,471.61 100.12,470.76Q100.70,469.91 101.55,469.22Q102.40,468.52 103.46,468.05Q104.52,467.58 105.69,467.35Q106.85,467.12 108.02,467.08Q109.20,467.04 110.36,467.13Q111.52,467.23 112.67,467.45Q113.82,467.68 114.93,468.08Q116.04,468.49 116.98,469.13Q117.92,469.78 118.53,470.64Q119.15,471.50 119.37,472.45Q119.60,473.41 119.54,474.36Z"/><path d="M147.72,472.65Q147.83,473.50 147.84,474.37Q147.85,475.25 147.59,476.12Q147.33,476.99 146.70,477.73Q146.06,478.46 145.14,478.96Q144.23,479.46 143.23,479.76Q142.24,480.07 141.27,480.30Q140.30,480.53 139.30,480.71Q138.30,480.90 137.23,480.94Q136.17,480.99 135.11,480.78Q134.05,480.58 133.12,480.11Q132.19,479.65 131.44,479.01Q130.70,478.36 130.15,477.61Q129.60,476.86 129.25,476.04Q128.91,475.22 128.79,474.36Q128.67,473.50 128.76,472.64Q128.86,471.77 129.16,470.93Q129.46,470.08 129.99,469.30Q130.52,468.52 131.32,467.90Q132.12,467.29 133.13,466.93Q134.14,466.58 135.21,466.48Q136.28,466.39 137.29,466.41Q138.30,466.44 139.30,466.46Q140.30,466.49 141.36,466.56Q142.42,466.63 143.48,466.92Q144.55,467.22 145.39,467.82Q146.23,468.43 146.71,469.25Q147.19,470.06 147.40,470.93Q147.62,471.79 147.72,472.65Z"/><path d="M180.01,468.67Q180.23,469.60 180.13,470.55Q180.03,471.50 179.51,472.34Q179.00,473.18 178.21,473.82Q177.43,474.47 176.61,474.98Q175.80,475.50 175.01,476.03Q174.22,476.56 173.32,477.07Q172.43,477.58 171.36,477.86Q170.30,478.14 169.18,478.05Q168.07,477.96 167.05,477.58Q166.03,477.20 165.11,476.68Q164.19,476.16 163.33,475.55Q162.47,474.94 161.77,474.17Q161.06,473.41 160.70,472.48Q160.34,471.55 160.38,470.57Q160.42,469.60 160.74,468.70Q161.06,467.79 161.49,466.97Q161.92,466.15 162.46,465.38Q163.00,464.62 163.73,463.98Q164.46,463.33 165.37,462.89Q166.28,462.45 167.26,462.19Q168.25,461.93 169.28,461.75Q170.30,461.57 171.40,461.47Q172.49,461.38 173.63,461.52Q174.77,461.66 175.77,462.16Q176.77,462.66 177.48,463.44Q178.19,464.21 178.65,465.09Q179.11,465.97 179.45,466.86Q179.80,467.75 180.01,468.67Z"/><path d="M211.68,468.36Q211.78,469.20 211.67,470.04Q211.57,470.89 211.27,471.71Q210.97,472.54 210.42,473.32Q209.87,474.10 209.06,474.75Q208.25,475.40 207.22,475.87Q206.19,476.33 205.03,476.59Q203.88,476.84 202.69,476.90Q201.50,476.96 200.33,476.82Q199.17,476.69 198.08,476.37Q197.00,476.05 196.05,475.57Q195.10,475.08 194.32,474.47Q193.53,473.86 192.90,473.16Q192.28,472.46 191.83,471.67Q191.38,470.89 191.16,470.05Q190.94,469.20 191.02,468.33Q191.10,467.46 191.50,466.63Q191.89,465.81 192.54,465.07Q193.19,464.34 194.04,463.73Q194.89,463.12 195.89,462.66Q196.90,462.19 198.02,461.90Q199.14,461.62 200.32,461.54Q201.50,461.47 202.66,461.60Q203.83,461.72 204.92,462.02Q206.02,462.32 207.01,462.77Q208.00,463.23 208.83,463.82Q209.67,464.42 210.28,465.15Q210.89,465.88 211.24,466.70Q211.58,467.51 211.68,468.36Z"/><path d="M242.02,468.03Q242.18,468.90 242.10,469.78Q242.02,470.66 241.70,471.52Q241.38,472.38 240.82,473.19Q240.26,473.99 239.47,474.70Q238.67,475.40 237.64,475.92Q236.61,476.44 235.42,476.70Q234.24,476.96 233.02,476.96Q231.80,476.96 230.64,476.76Q229.48,476.56 228.40,476.24Q227.32,475.92 226.32,475.48Q225.31,475.04 224.45,474.44Q223.58,473.84 222.97,473.09Q222.36,472.33 222.04,471.48Q221.73,470.64 221.65,469.77Q221.56,468.90 221.63,468.03Q221.70,467.16 221.94,466.28Q222.18,465.40 222.69,464.56Q223.19,463.72 224.03,463.02Q224.86,462.33 225.94,461.87Q227.03,461.42 228.22,461.20Q229.41,460.99 230.60,460.96Q231.80,460.93 232.97,461.05Q234.14,461.17 235.25,461.47Q236.36,461.76 237.34,462.24Q238.33,462.72 239.13,463.36Q239.94,464.00 240.52,464.76Q241.11,465.51 241.49,466.34Q241.87,467.17 242.02,468.03Z"/></clipPath><filter id="tgW" x="0" y="0" width="1" height="1"><feTurbulence type="fractalNoise" baseFrequency="0.22" numOctaves="2" seed="11"/><feColorMatrix type="matrix" values="0 0 0 0 1  0 0 0 0 0.9  0 0 0 0 0.88  0 0 0 -5 2.9"/></filter><filter id="tgD" x="0" y="0" width="1" height="1"><feTurbulence type="fractalNoise" baseFrequency="0.2" numOctaves="2" seed="23"/><feColorMatrix type="matrix" values="0 0 0 0 0.55  0 0 0 0 0.15  0 0 0 0 0.2  0 0 0 -5 2.8"/></filter></defs>
<g clip-path="url(#tall)"><rect x="3" y="420" width="249" height="73" filter="url(#tgW)" opacity="0.1"/><rect x="3" y="420" width="249" height="73" filter="url(#tgD)" opacity="0.22"/></g>
<text transform="translate(258.67 437.70) scale(1.135 1)" font-size="9.74" fill="#1a1a1a" stroke="#1a1a1a" stroke-width="0.12">miR-500a-3p</text>
<text transform="translate(258.71 470.80) scale(1.059 1)" font-size="9.88" fill="#1a1a1a" stroke="#1a1a1a" stroke-width="0.12">miR-NC</text>
<text transform="translate(336.12 347.80) scale(0.938 1)" font-size="12.79" fill="#111" stroke="#111" stroke-width="0.12">H</text>
<line x1="381.3" y1="354" x2="381.3" y2="421.7" stroke="#4a4a4a" stroke-width="0.8"/>
<line x1="380.8" y1="421.2" x2="482" y2="421.2" stroke="#4a4a4a" stroke-width="0.8"/>
<line x1="379.3" y1="421.2" x2="381.3" y2="421.2" stroke="#4a4a4a" stroke-width="0.8"/>
<text x="379" y="423.02" font-size="5.2" font-weight="bold" text-anchor="end" fill="#111" stroke="#111" stroke-width="0.32">0</text>
<line x1="379.3" y1="404.52" x2="381.3" y2="404.52" stroke="#4a4a4a" stroke-width="0.8"/>
<text x="379" y="406.34" font-size="5.2" font-weight="bold" text-anchor="end" fill="#111" stroke="#111" stroke-width="0.32">200</text>
<line x1="379.3" y1="387.84" x2="381.3" y2="387.84" stroke="#4a4a4a" stroke-width="0.8"/>
<text x="379" y="389.66" font-size="5.2" font-weight="bold" text-anchor="end" fill="#111" stroke="#111" stroke-width="0.32">400</text>
<line x1="379.3" y1="371.16" x2="381.3" y2="371.16" stroke="#4a4a4a" stroke-width="0.8"/>
<text x="379" y="372.98" font-size="5.2" font-weight="bold" text-anchor="end" fill="#111" stroke="#111" stroke-width="0.32">600</text>
<line x1="379.3" y1="354.48" x2="381.3" y2="354.48" stroke="#4a4a4a" stroke-width="0.8"/>
<text x="379" y="356.3" font-size="5.2" font-weight="bold" text-anchor="end" fill="#111" stroke="#111" stroke-width="0.32">800</text>
<line x1="394.5" y1="421.2" x2="394.5" y2="423.2" stroke="#4a4a4a" stroke-width="0.8"/>
<text x="394.5" y="430.8" font-size="5.2" font-weight="bold" text-anchor="middle" fill="#111" stroke="#111" stroke-width="0.32">5</text>
<line x1="413.4" y1="421.2" x2="413.4" y2="423.2" stroke="#4a4a4a" stroke-width="0.8"/>
<text x="413.4" y="430.8" font-size="5.2" font-weight="bold" text-anchor="middle" fill="#111" stroke="#111" stroke-width="0.32">10</text>
<line x1="432.3" y1="421.2" x2="432.3" y2="423.2" stroke="#4a4a4a" stroke-width="0.8"/>
<text x="432.3" y="430.8" font-size="5.2" font-weight="bold" text-anchor="middle" fill="#111" stroke="#111" stroke-width="0.32">15</text>
<line x1="451.2" y1="421.2" x2="451.2" y2="423.2" stroke="#4a4a4a" stroke-width="0.8"/>
<text x="451.2" y="430.8" font-size="5.2" font-weight="bold" text-anchor="middle" fill="#111" stroke="#111" stroke-width="0.32">20</text>
<line x1="470.1" y1="421.2" x2="470.1" y2="423.2" stroke="#4a4a4a" stroke-width="0.8"/>
<text x="470.1" y="430.8" font-size="5.2" font-weight="bold" text-anchor="middle" fill="#111" stroke="#111" stroke-width="0.32">25</text>
<polyline points="394.50,412.86 413.40,410.36 432.30,405.35 451.20,401.60 470.10,378.25" fill="none" stroke="#111" stroke-width="0.8"/>
<line x1="394.5" y1="412.03" x2="394.5" y2="413.69" stroke="#111" stroke-width="0.7200000000000001"/>
<line x1="392.7" y1="412.03" x2="396.3" y2="412.03" stroke="#111" stroke-width="0.7200000000000001"/>
<line x1="392.7" y1="413.69" x2="396.3" y2="413.69" stroke="#111" stroke-width="0.7200000000000001"/>
<circle cx="394.5" cy="412.86" r="1.6" fill="#111"/>
<line x1="413.4" y1="409.36" x2="413.4" y2="411.36" stroke="#111" stroke-width="0.7200000000000001"/>
<line x1="411.6" y1="409.36" x2="415.2" y2="409.36" stroke="#111" stroke-width="0.7200000000000001"/>
<line x1="411.6" y1="411.36" x2="415.2" y2="411.36" stroke="#111" stroke-width="0.7200000000000001"/>
<circle cx="413.4" cy="410.36" r="1.6" fill="#111"/>
<line x1="432.3" y1="402.85" x2="432.3" y2="407.86" stroke="#111" stroke-width="0.7200000000000001"/>
<line x1="430.5" y1="402.85" x2="434.1" y2="402.85" stroke="#111" stroke-width="0.7200000000000001"/>
<line x1="430.5" y1="407.86" x2="434.1" y2="407.86" stroke="#111" stroke-width="0.7200000000000001"/>
<circle cx="432.3" cy="405.35" r="1.6" fill="#111"/>
<line x1="451.2" y1="399.1" x2="451.2" y2="404.1" stroke="#111" stroke-width="0.7200000000000001"/>
<line x1="449.4" y1="399.1" x2="453" y2="399.1" stroke="#111" stroke-width="0.7200000000000001"/>
<line x1="449.4" y1="404.1" x2="453" y2="404.1" stroke="#111" stroke-width="0.7200000000000001"/>
<circle cx="451.2" cy="401.6" r="1.6" fill="#111"/>
<line x1="470.1" y1="373.24" x2="470.1" y2="383.25" stroke="#111" stroke-width="0.7200000000000001"/>
<line x1="468.3" y1="373.24" x2="471.9" y2="373.24" stroke="#111" stroke-width="0.7200000000000001"/>
<line x1="468.3" y1="383.25" x2="471.9" y2="383.25" stroke="#111" stroke-width="0.7200000000000001"/>
<circle cx="470.1" cy="378.25" r="1.6" fill="#111"/>
<polyline points="394.50,413.86 413.40,413.28 432.30,411.61 451.20,409.11 470.10,397.85" fill="none" stroke="#111" stroke-width="0.8"/>
<line x1="394.5" y1="413.19" x2="394.5" y2="414.53" stroke="#111" stroke-width="0.7200000000000001"/>
<line x1="392.7" y1="413.19" x2="396.3" y2="413.19" stroke="#111" stroke-width="0.7200000000000001"/>
<line x1="392.7" y1="414.53" x2="396.3" y2="414.53" stroke="#111" stroke-width="0.7200000000000001"/>
<rect x="392.98" y="412.34" width="3.04" height="3.04" fill="#111"/>
<line x1="413.4" y1="412.44" x2="413.4" y2="414.11" stroke="#111" stroke-width="0.7200000000000001"/>
<line x1="411.6" y1="412.44" x2="415.2" y2="412.44" stroke="#111" stroke-width="0.7200000000000001"/>
<line x1="411.6" y1="414.11" x2="415.2" y2="414.11" stroke="#111" stroke-width="0.7200000000000001"/>
<rect x="411.88" y="411.76" width="3.04" height="3.04" fill="#111"/>
<line x1="432.3" y1="410.77" x2="432.3" y2="412.44" stroke="#111" stroke-width="0.7200000000000001"/>
<line x1="430.5" y1="410.77" x2="434.1" y2="410.77" stroke="#111" stroke-width="0.7200000000000001"/>
<line x1="430.5" y1="412.44" x2="434.1" y2="412.44" stroke="#111" stroke-width="0.7200000000000001"/>
<rect x="430.78" y="410.09" width="3.04" height="3.04" fill="#111"/>
<line x1="451.2" y1="408.11" x2="451.2" y2="410.11" stroke="#111" stroke-width="0.7200000000000001"/>
<line x1="449.4" y1="408.11" x2="453" y2="408.11" stroke="#111" stroke-width="0.7200000000000001"/>
<line x1="449.4" y1="410.11" x2="453" y2="410.11" stroke="#111" stroke-width="0.7200000000000001"/>
<rect x="449.68" y="407.59" width="3.04" height="3.04" fill="#111"/>
<line x1="470.1" y1="396.18" x2="470.1" y2="399.52" stroke="#111" stroke-width="0.7200000000000001"/>
<line x1="468.3" y1="396.18" x2="471.9" y2="396.18" stroke="#111" stroke-width="0.7200000000000001"/>
<line x1="468.3" y1="399.52" x2="471.9" y2="399.52" stroke="#111" stroke-width="0.7200000000000001"/>
<rect x="468.58" y="396.33" width="3.04" height="3.04" fill="#111"/>
<text x="432.30" y="402.79" font-size="4.94" font-weight="bold" text-anchor="middle" fill="#222">*</text>
<text x="451.20" y="398.21" font-size="4.94" font-weight="bold" text-anchor="middle" fill="#222">*</text>
<text x="467.50" y="373.19" font-size="4.94" font-weight="bold" text-anchor="middle" fill="#222">*</text>
<text x="470.10" y="373.19" font-size="4.94" font-weight="bold" text-anchor="middle" fill="#222">*</text>
<text x="472.70" y="373.19" font-size="4.94" font-weight="bold" text-anchor="middle" fill="#222">*</text>
<text transform="translate(423.24 439.20) scale(0.805 1)" font-size="6.40" font-weight="bold" fill="#1a1a1a" stroke="#1a1a1a" stroke-width="0.32">Time (d)</text>
<text transform="translate(421.71 345.70) scale(1.072 1)" font-size="6.10" font-weight="bold" fill="#1a1a1a" stroke="#1a1a1a" stroke-width="0.32">SW480</text>
<line x1="447.5" y1="353" x2="454.7" y2="353" stroke="#111" stroke-width="0.8"/>
<circle cx="451.1" cy="353" r="1.44" fill="#111"/>
<text x="458.8" y="354.98" font-size="5.5" text-anchor="start" fill="#111" stroke="#111" stroke-width="0.12">miR-NC</text>
<line x1="447.5" y1="361.9" x2="454.7" y2="361.9" stroke="#111" stroke-width="0.8"/>
<circle cx="451.1" cy="361.9" r="1.44" fill="#111"/>
<text x="458.8" y="363.88" font-size="5.5" text-anchor="start" fill="#111" stroke="#111" stroke-width="0.12">miR-500a-3p</text>
<text transform="translate(368.10 414.66) rotate(-90) scale(0.857 1)" font-size="6.10" font-weight="bold" fill="#1a1a1a" stroke="#1a1a1a" stroke-width="0.32">Tumor volume (mm<tspan font-size="70%" dy="-2.2">3</tspan><tspan dy="2.2">)</tspan></text>
<text transform="translate(336.41 449.80) scale(1.201 1)" font-size="12.50" fill="#111" stroke="#111" stroke-width="0.12">I</text>
<rect x="396.2" y="485.62" width="23" height="49.88" fill="#000"/>
<line x1="407.7" y1="479.5" x2="407.7" y2="485.62" stroke="#111" stroke-width="0.8"/>
<line x1="401.7" y1="479.5" x2="413.7" y2="479.5" stroke="#111" stroke-width="0.8"/>
<rect x="441.2" y="503.56" width="23.8" height="31.94" fill="#a09fa6"/>
<line x1="453.1" y1="501.38" x2="453.1" y2="503.56" stroke="#111" stroke-width="0.8"/>
<line x1="447.1" y1="501.38" x2="459.1" y2="501.38" stroke="#111" stroke-width="0.8"/>
<line x1="378" y1="465" x2="378" y2="536" stroke="#4a4a4a" stroke-width="0.8"/>
<line x1="377.5" y1="535.5" x2="482.5" y2="535.5" stroke="#4a4a4a" stroke-width="0.8"/>
<line x1="376" y1="535.5" x2="378" y2="535.5" stroke="#4a4a4a" stroke-width="0.8"/>
<text x="375.7" y="537.39" font-size="5.4" font-weight="bold" text-anchor="end" fill="#111" stroke="#111" stroke-width="0.32">0.0</text>
<line x1="376" y1="518" x2="378" y2="518" stroke="#4a4a4a" stroke-width="0.8"/>
<text x="375.7" y="519.89" font-size="5.4" font-weight="bold" text-anchor="end" fill="#111" stroke="#111" stroke-width="0.32">0.2</text>
<line x1="376" y1="500.5" x2="378" y2="500.5" stroke="#4a4a4a" stroke-width="0.8"/>
<text x="375.7" y="502.39" font-size="5.4" font-weight="bold" text-anchor="end" fill="#111" stroke="#111" stroke-width="0.32">0.4</text>
<line x1="376" y1="483" x2="378" y2="483" stroke="#4a4a4a" stroke-width="0.8"/>
<text x="375.7" y="484.89" font-size="5.4" font-weight="bold" text-anchor="end" fill="#111" stroke="#111" stroke-width="0.32">0.6</text>
<line x1="376" y1="465.5" x2="378" y2="465.5" stroke="#4a4a4a" stroke-width="0.8"/>
<text x="375.7" y="467.39" font-size="5.4" font-weight="bold" text-anchor="end" fill="#111" stroke="#111" stroke-width="0.32">0.8</text>
<text x="407.7" y="542.3" font-size="5.4" font-weight="bold" text-anchor="middle" fill="#111" stroke="#111" stroke-width="0.32">miR-NC</text>
<line x1="407.7" y1="535.5" x2="407.7" y2="537.1" stroke="#4a4a4a" stroke-width="0.8"/>
<text x="453.1" y="542.3" font-size="5.4" font-weight="bold" text-anchor="middle" fill="#111" stroke="#111" stroke-width="0.32">miR-500a-3p</text>
<line x1="453.1" y1="535.5" x2="453.1" y2="537.1" stroke="#4a4a4a" stroke-width="0.8"/>
<text transform="translate(366.20 523.56) rotate(-90) scale(0.985 1)" font-size="5.81" font-weight="bold" fill="#1a1a1a" stroke="#1a1a1a" stroke-width="0.32">Tumor weight (g)</text>
<text transform="translate(419.71 456.80) scale(0.846 1)" font-size="7.85" font-weight="bold" fill="#1a1a1a" stroke="#1a1a1a" stroke-width="0.32">SW480</text>
<line x1="407.5" y1="475" x2="452.5" y2="475" stroke="#222" stroke-width="1.2000000000000002"/>
<text x="430.00" y="474.46" font-size="5.94" font-weight="bold" text-anchor="middle" fill="#222">*</text>
<text transform="translate(524.47 351.40) scale(0.663 1)" font-size="12.50" fill="#111" stroke="#111" stroke-width="0.12">J</text>
<defs><linearGradient id="j1" x1="0" y1="0" x2="1" y2="1"><stop offset="0" stop-color="#8ea4d2"/><stop offset="0.45" stop-color="#a0b4d8"/><stop offset="0.8" stop-color="#b8bcd0"/><stop offset="1" stop-color="#c4bec8"/></linearGradient><linearGradient id="j2" x1="0" y1="0" x2="1" y2="0.6"><stop offset="0" stop-color="#c4d2e2"/><stop offset="0.55" stop-color="#b0c4e0"/><stop offset="0.8" stop-color="#9cb6de"/><stop offset="1" stop-color="#b0c4e0"/></linearGradient><linearGradient id="j3" x1="0" y1="0" x2="0.6" y2="1"><stop offset="0" stop-color="#b8bee0"/><stop offset="0.5" stop-color="#bec0dc"/><stop offset="1" stop-color="#cac4d2"/></linearGradient><linearGradient id="j4" x1="0" y1="0" x2="1" y2="1"><stop offset="0" stop-color="#bcc0d4"/><stop offset="0.5" stop-color="#c4c2d0"/><stop offset="1" stop-color="#c8c2cc"/></linearGradient><linearGradient id="j5" x1="0" y1="0" x2="1" y2="1"><stop offset="0" stop-color="#c4c8d4"/><stop offset="0.5" stop-color="#aec0dc"/><stop offset="1" stop-color="#bcc4d4"/></linearGradient><linearGradient id="j6" x1="0.7" y1="0" x2="0.3" y2="1"><stop offset="0" stop-color="#aab8d8"/><stop offset="0.45" stop-color="#bcc0d4"/><stop offset="1" stop-color="#cac6cc"/></linearGradient><filter id="grainW" x="0" y="0" width="1" height="1"><feTurbulence type="fractalNoise" baseFrequency="1.1" numOctaves="1" seed="4"/><feColorMatrix type="matrix" values="0 0 0 0 1  0 0 0 0 1  0 0 0 0 1  0 0 0 -7 4.2"/></filter><filter id="grainD" x="0" y="0" width="1" height="1"><feTurbulence type="fractalNoise" baseFrequency="1.3" numOctaves="1" seed="9"/><feColorMatrix type="matrix" values="0 0 0 0 0.45  0 0 0 0 0.45  0 0 0 0 0.6  0 0 0 -7 3.9"/></filter></defs>
<rect x="539.3" y="336.7" width="57.5" height="42.8" fill="url(#j1)"/>
<rect x="596.8" y="336.7" width="57.7" height="42.8" fill="url(#j2)"/>
<rect x="654.5" y="336.7" width="57.9" height="42.8" fill="url(#j3)"/>
<rect x="539.3" y="336.7" width="173.1" height="42.8" filter="url(#grainW)" opacity="0.3"/>
<rect x="539.3" y="336.7" width="173.1" height="42.8" filter="url(#grainD)" opacity="0.22"/>
<rect x="539.3" y="336.7" width="173.1" height="42.8" fill="none" stroke="#3a3a3a" stroke-width="1.1"/>
<line x1="596.8" y1="336.7" x2="596.8" y2="379.5" stroke="#1a1a1a" stroke-width="1.3"/>
<line x1="654.5" y1="336.7" x2="654.5" y2="379.5" stroke="#1a1a1a" stroke-width="1.3"/>
<rect x="539.3" y="382.5" width="57.5" height="43.3" fill="url(#j4)"/>
<rect x="596.8" y="382.5" width="57.7" height="43.3" fill="url(#j5)"/>
<rect x="654.5" y="382.5" width="57.9" height="43.3" fill="url(#j6)"/>
<rect x="539.3" y="382.5" width="173.1" height="43.3" filter="url(#grainW)" opacity="0.3"/>
<rect x="539.3" y="382.5" width="173.1" height="43.3" filter="url(#grainD)" opacity="0.22"/>
<rect x="539.3" y="382.5" width="173.1" height="43.3" fill="none" stroke="#3a3a3a" stroke-width="1.1"/>
<line x1="596.8" y1="382.5" x2="596.8" y2="425.8" stroke="#1a1a1a" stroke-width="1.3"/>
<line x1="654.5" y1="382.5" x2="654.5" y2="425.8" stroke="#1a1a1a" stroke-width="1.3"/>
<path d="M601,385 Q606,390 604,396 M622,389 Q628,400 620,410 Q616,418 612,424" fill="none" stroke="#e8ecf4" stroke-width="0.8" opacity="0.8"/>
<path d="M665.8,348.5 L666.3,352" stroke="#203060" stroke-width="0.9"/>
<line x1="542.7" y1="374.5" x2="551.6" y2="374.5" stroke="#333" stroke-width="0.9"/>
<text transform="translate(720.96 365.70) scale(1.106 1)" font-size="10.03" fill="#1a1a1a" stroke="#1a1a1a" stroke-width="0.12">miR-500a-3p</text>
<text transform="translate(721.00 404.60) scale(1.037 1)" font-size="10.17" fill="#1a1a1a" stroke="#1a1a1a" stroke-width="0.12">miR-NC</text>
<text transform="translate(525.10 450.50) scale(0.738 1)" font-size="13.23" fill="#111" stroke="#111" stroke-width="0.12">K</text>
<rect x="590.8" y="479" width="23.4" height="55.3" fill="#000"/>
<line x1="602.5" y1="475.5" x2="602.5" y2="479" stroke="#111" stroke-width="0.8"/>
<line x1="596.5" y1="475.5" x2="608.5" y2="475.5" stroke="#111" stroke-width="0.8"/>
<rect x="636.2" y="498.6" width="23.3" height="35.7" fill="#a09fa6"/>
<line x1="647.85" y1="494.4" x2="647.85" y2="498.6" stroke="#111" stroke-width="0.8"/>
<line x1="641.85" y1="494.4" x2="653.85" y2="494.4" stroke="#111" stroke-width="0.8"/>
<line x1="571.8" y1="464.3" x2="571.8" y2="534.8" stroke="#4a4a4a" stroke-width="0.8"/>
<line x1="571.3" y1="534.3" x2="677" y2="534.3" stroke="#4a4a4a" stroke-width="0.8"/>
<line x1="569.8" y1="534.3" x2="571.8" y2="534.3" stroke="#4a4a4a" stroke-width="0.8"/>
<text x="569.5" y="536.19" font-size="5.4" font-weight="bold" text-anchor="end" fill="#111" stroke="#111" stroke-width="0.32">0</text>
<line x1="569.8" y1="520.3" x2="571.8" y2="520.3" stroke="#4a4a4a" stroke-width="0.8"/>
<text x="569.5" y="522.19" font-size="5.4" font-weight="bold" text-anchor="end" fill="#111" stroke="#111" stroke-width="0.32">2</text>
<line x1="569.8" y1="506.3" x2="571.8" y2="506.3" stroke="#4a4a4a" stroke-width="0.8"/>
<text x="569.5" y="508.19" font-size="5.4" font-weight="bold" text-anchor="end" fill="#111" stroke="#111" stroke-width="0.32">4</text>
<line x1="569.8" y1="492.3" x2="571.8" y2="492.3" stroke="#4a4a4a" stroke-width="0.8"/>
<text x="569.5" y="494.19" font-size="5.4" font-weight="bold" text-anchor="end" fill="#111" stroke="#111" stroke-width="0.32">6</text>
<line x1="569.8" y1="478.3" x2="571.8" y2="478.3" stroke="#4a4a4a" stroke-width="0.8"/>
<text x="569.5" y="480.19" font-size="5.4" font-weight="bold" text-anchor="end" fill="#111" stroke="#111" stroke-width="0.32">8</text>
<line x1="569.8" y1="464.3" x2="571.8" y2="464.3" stroke="#4a4a4a" stroke-width="0.8"/>
<text x="569.5" y="466.19" font-size="5.4" font-weight="bold" text-anchor="end" fill="#111" stroke="#111" stroke-width="0.32">10</text>
<text x="602.5" y="541.8" font-size="5.4" font-weight="bold" text-anchor="middle" fill="#111" stroke="#111" stroke-width="0.32">miR-NC</text>
<line x1="602.5" y1="534.3" x2="602.5" y2="535.9" stroke="#4a4a4a" stroke-width="0.8"/>
<text x="647.85" y="541.8" font-size="5.4" font-weight="bold" text-anchor="middle" fill="#111" stroke="#111" stroke-width="0.32">miR-500a-3p</text>
<line x1="647.85" y1="534.3" x2="647.85" y2="535.9" stroke="#4a4a4a" stroke-width="0.8"/>
<text transform="translate(561.60 517.03) rotate(-90) scale(1.107 1)" font-size="5.81" font-weight="bold" fill="#1a1a1a" stroke="#1a1a1a" stroke-width="0.32">IHC Score</text>
<text transform="translate(618.06 455.50) scale(0.933 1)" font-size="7.12" font-weight="bold" fill="#1a1a1a" stroke="#1a1a1a" stroke-width="0.32">Ki67</text>
<line x1="602" y1="472.5" x2="648" y2="472.5" stroke="#222" stroke-width="1.2000000000000002"/>
<text x="623.38" y="471.26" font-size="5.94" font-weight="bold" text-anchor="middle" fill="#222">*</text>
<text x="626.62" y="471.26" font-size="5.94" font-weight="bold" text-anchor="middle" fill="#222">*</text></svg></body></html>
